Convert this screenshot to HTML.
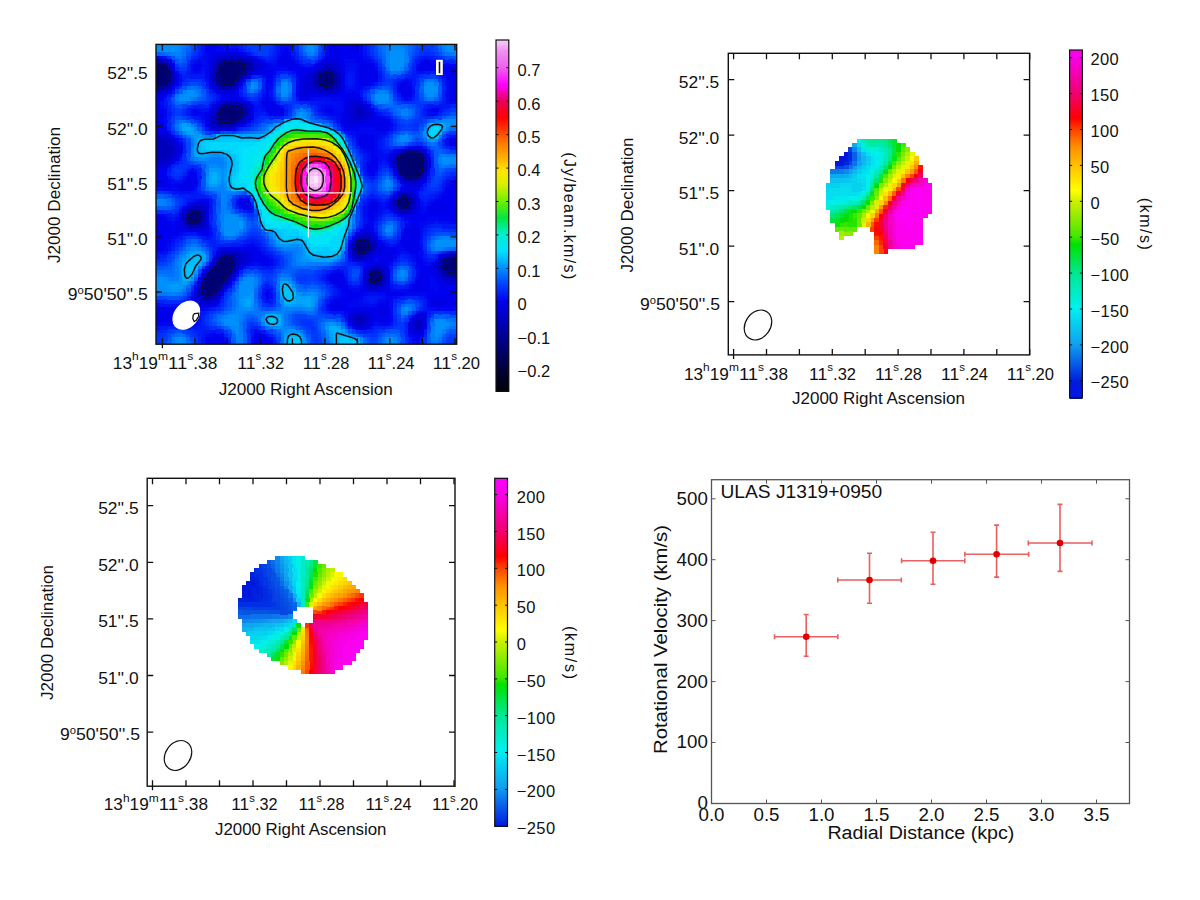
<!DOCTYPE html><html><head><meta charset="utf-8"><style>html,body{margin:0;padding:0;background:#fff;width:1200px;height:900px;overflow:hidden;position:relative}</style></head><body><svg width="1200" height="900" viewBox="0 0 1200 900" style="position:absolute;left:0;top:0">
<g font-family='"Liberation Sans", sans-serif'>
<clipPath id="c1"><rect x="156" y="44.4" width="300.7" height="299.8"/></clipPath>
<g clip-path="url(#c1)"><g shape-rendering="crispEdges"><path fill="#0090fc" d="M156.0 44.4h23.2v4.3h-23.2zM306.4 44.4h8.1v4.3h-8.1zM445.4 44.4h11.9v4.3h-11.9zM156.0 48.1h19.4v4.3h-19.4zM310.1 48.1h4.4v4.3h-4.4zM392.8 48.1h8.1v4.3h-8.1zM449.2 48.1h8.1v4.3h-8.1zM389.0 51.9h15.6v4.3h-15.6zM389.0 55.6h15.6v4.3h-15.6zM389.0 59.4h15.6v4.3h-15.6zM389.0 63.1h15.6v4.3h-15.6zM389.0 66.9h11.9v4.3h-11.9zM250.0 81.9h4.4v4.3h-4.4zM283.8 81.9h4.4v4.3h-4.4zM426.6 81.9h8.1v4.3h-8.1zM250.0 85.6h4.4v4.3h-4.4zM280.0 85.6h8.1v4.3h-8.1zM422.9 85.6h15.6v4.3h-15.6zM186.1 89.4h8.1v4.3h-8.1zM280.0 89.4h8.1v4.3h-8.1zM422.9 89.4h15.6v4.3h-15.6zM182.3 93.1h11.9v4.3h-11.9zM280.0 93.1h4.4v4.3h-4.4zM374.0 93.1h15.6v4.3h-15.6zM426.6 93.1h8.1v4.3h-8.1zM178.6 96.9h11.9v4.3h-11.9zM374.0 96.9h15.6v4.3h-15.6zM295.1 115.6h4.4v4.3h-4.4zM302.6 115.6h4.4v4.3h-4.4zM178.6 123.1h4.4v4.3h-4.4zM321.4 123.1h4.4v4.3h-4.4zM189.8 134.3h4.4v4.3h-4.4zM201.1 134.3h4.4v4.3h-4.4zM400.3 138.1h4.4v4.3h-4.4zM347.7 149.3h4.4v4.3h-4.4zM212.4 153.1h8.1v4.3h-8.1zM197.3 156.8h8.1v4.3h-8.1zM441.7 156.8h8.1v4.3h-8.1zM223.7 164.3h4.4v4.3h-4.4zM219.9 168.1h4.4v4.3h-4.4zM219.9 171.8h4.4v4.3h-4.4zM204.9 175.6h4.4v4.3h-4.4zM219.9 175.6h4.4v4.3h-4.4zM204.9 179.3h4.4v4.3h-4.4zM216.1 183.1h4.4v4.3h-4.4zM223.7 183.1h4.4v4.3h-4.4zM359.0 190.6h4.4v4.3h-4.4zM250.0 194.3h4.4v4.3h-4.4zM227.4 213.0h4.4v4.3h-4.4zM223.7 216.8h15.6v4.3h-15.6zM223.7 220.5h15.6v4.3h-15.6zM223.7 224.3h15.6v4.3h-15.6zM223.7 228.0h15.6v4.3h-15.6zM223.7 231.8h11.9v4.3h-11.9zM268.8 231.8h4.4v4.3h-4.4zM434.1 239.3h23.2v4.3h-23.2zM291.3 243.0h8.1v4.3h-8.1zM434.1 243.0h23.2v4.3h-23.2zM193.6 246.8h4.4v4.3h-4.4zM186.1 250.5h4.4v4.3h-4.4zM201.1 250.5h4.4v4.3h-4.4zM182.3 254.3h4.4v4.3h-4.4zM298.8 254.3h4.4v4.3h-4.4zM298.8 258.0h4.4v4.3h-4.4zM178.6 261.8h4.4v4.3h-4.4zM178.6 265.5h4.4v4.3h-4.4zM178.6 269.2h4.4v4.3h-4.4zM178.6 273.0h4.4v4.3h-4.4zM400.3 273.0h4.4v4.3h-4.4zM156.0 276.7h8.1v4.3h-8.1zM178.6 276.7h4.4v4.3h-4.4zM189.8 276.7h4.4v4.3h-4.4zM246.2 276.7h8.1v4.3h-8.1zM156.0 280.5h23.2v4.3h-23.2zM186.1 280.5h4.4v4.3h-4.4zM242.5 280.5h11.9v4.3h-11.9zM156.0 284.2h11.9v4.3h-11.9zM238.7 284.2h15.6v4.3h-15.6zM156.0 288.0h15.6v4.3h-15.6zM178.6 288.0h4.4v4.3h-4.4zM238.7 288.0h15.6v4.3h-15.6zM238.7 291.7h11.9v4.3h-11.9zM310.1 291.7h4.4v4.3h-4.4zM238.7 295.5h4.4v4.3h-4.4zM238.7 303.0h4.4v4.3h-4.4zM250.0 303.0h4.4v4.3h-4.4zM242.5 306.7h8.1v4.3h-8.1zM404.1 306.7h4.4v4.3h-4.4zM231.2 314.2h4.4v4.3h-4.4zM261.2 314.2h4.4v4.3h-4.4zM223.7 318.0h11.9v4.3h-11.9zM280.0 318.0h4.4v4.3h-4.4zM437.9 318.0h4.4v4.3h-4.4zM227.4 321.7h11.9v4.3h-11.9zM280.0 321.7h4.4v4.3h-4.4zM332.7 321.7h4.4v4.3h-4.4zM434.1 321.7h15.6v4.3h-15.6zM272.5 325.5h8.1v4.3h-8.1zM434.1 325.5h11.9v4.3h-11.9zM283.8 329.2h4.4v4.3h-4.4zM434.1 329.2h8.1v4.3h-8.1zM347.7 333.0h4.4v4.3h-4.4zM434.1 333.0h4.4v4.3h-4.4zM178.6 336.7h4.4v4.3h-4.4zM302.6 336.7h4.4v4.3h-4.4zM389.0 336.7h4.4v4.3h-4.4zM174.8 340.5h8.1v4.3h-8.1zM328.9 340.5h4.4v4.3h-4.4zM385.3 340.5h8.1v4.3h-8.1z"/><path fill="#0084fc" d="M178.6 44.4h4.4v4.3h-4.4zM400.3 44.4h4.4v4.3h-4.4zM441.7 44.4h4.4v4.3h-4.4zM178.6 48.1h4.4v4.3h-4.4zM174.8 51.9h4.4v4.3h-4.4zM310.1 51.9h4.4v4.3h-4.4zM385.3 51.9h4.4v4.3h-4.4zM385.3 55.6h4.4v4.3h-4.4zM385.3 59.4h4.4v4.3h-4.4zM400.3 66.9h4.4v4.3h-4.4zM253.7 81.9h4.4v4.3h-4.4zM422.9 81.9h4.4v4.3h-4.4zM253.7 85.6h4.4v4.3h-4.4zM182.3 89.4h4.4v4.3h-4.4zM193.6 89.4h4.4v4.3h-4.4zM377.8 89.4h8.1v4.3h-8.1zM434.1 93.1h4.4v4.3h-4.4zM385.3 100.6h4.4v4.3h-4.4zM295.1 111.9h4.4v4.3h-4.4zM400.3 111.9h8.1v4.3h-8.1zM437.9 119.3h4.4v4.3h-4.4zM189.8 123.1h4.4v4.3h-4.4zM268.8 123.1h4.4v4.3h-4.4zM452.9 123.1h4.4v4.3h-4.4zM193.6 126.8h4.4v4.3h-4.4zM265.0 126.8h4.4v4.3h-4.4zM422.9 126.8h4.4v4.3h-4.4zM445.4 126.8h4.4v4.3h-4.4zM261.2 130.6h4.4v4.3h-4.4zM204.9 134.3h4.4v4.3h-4.4zM396.6 138.1h4.4v4.3h-4.4zM434.1 138.1h4.4v4.3h-4.4zM189.8 149.3h4.4v4.3h-4.4zM189.8 153.1h4.4v4.3h-4.4zM193.6 156.8h4.4v4.3h-4.4zM208.6 156.8h4.4v4.3h-4.4zM219.9 156.8h4.4v4.3h-4.4zM216.1 164.3h8.1v4.3h-8.1zM204.9 171.8h4.4v4.3h-4.4zM204.9 183.1h4.4v4.3h-4.4zM219.9 183.1h4.4v4.3h-4.4zM208.6 186.8h15.6v4.3h-15.6zM219.9 190.6h11.9v4.3h-11.9zM219.9 194.3h8.1v4.3h-8.1zM159.8 198.0h4.4v4.3h-4.4zM219.9 198.0h4.4v4.3h-4.4zM159.8 201.8h4.4v4.3h-4.4zM219.9 201.8h4.4v4.3h-4.4zM223.7 209.3h4.4v4.3h-4.4zM238.7 216.8h4.4v4.3h-4.4zM219.9 220.5h4.4v4.3h-4.4zM219.9 224.3h4.4v4.3h-4.4zM385.3 224.3h8.1v4.3h-8.1zM389.0 228.0h4.4v4.3h-4.4zM234.9 231.8h4.4v4.3h-4.4zM343.9 235.5h4.4v4.3h-4.4zM441.7 235.5h8.1v4.3h-8.1zM197.3 246.8h4.4v4.3h-4.4zM434.1 246.8h8.1v4.3h-8.1zM340.2 250.5h4.4v4.3h-4.4zM295.1 254.3h4.4v4.3h-4.4zM295.1 258.0h4.4v4.3h-4.4zM298.8 261.8h8.1v4.3h-8.1zM396.6 273.0h4.4v4.3h-4.4zM167.3 276.7h4.4v4.3h-4.4zM174.8 276.7h4.4v4.3h-4.4zM171.0 291.7h4.4v4.3h-4.4zM302.6 291.7h4.4v4.3h-4.4zM313.9 291.7h4.4v4.3h-4.4zM234.9 295.5h4.4v4.3h-4.4zM313.9 299.2h4.4v4.3h-4.4zM280.0 303.0h4.4v4.3h-4.4zM234.9 306.7h4.4v4.3h-4.4zM283.8 306.7h8.1v4.3h-8.1zM302.6 306.7h4.4v4.3h-4.4zM310.1 306.7h4.4v4.3h-4.4zM400.3 306.7h4.4v4.3h-4.4zM234.9 310.5h8.1v4.3h-8.1zM268.8 310.5h15.6v4.3h-15.6zM223.7 314.2h4.4v4.3h-4.4zM219.9 318.0h4.4v4.3h-4.4zM449.2 321.7h4.4v4.3h-4.4zM268.8 325.5h4.4v4.3h-4.4zM283.8 325.5h4.4v4.3h-4.4zM445.4 325.5h4.4v4.3h-4.4zM280.0 329.2h4.4v4.3h-4.4zM430.4 329.2h4.4v4.3h-4.4zM234.9 333.0h4.4v4.3h-4.4zM325.1 333.0h4.4v4.3h-4.4zM437.9 333.0h4.4v4.3h-4.4zM182.3 336.7h4.4v4.3h-4.4zM234.9 336.7h4.4v4.3h-4.4zM359.0 336.7h4.4v4.3h-4.4zM392.8 336.7h4.4v4.3h-4.4zM434.1 336.7h4.4v4.3h-4.4zM434.1 340.5h4.4v4.3h-4.4z"/><path fill="#0078fc" d="M182.3 44.4h4.4v4.3h-4.4zM302.6 44.4h4.4v4.3h-4.4zM404.1 44.4h4.4v4.3h-4.4zM313.9 48.1h4.4v4.3h-4.4zM404.1 48.1h4.4v4.3h-4.4zM441.7 48.1h4.4v4.3h-4.4zM167.3 51.9h4.4v4.3h-4.4zM178.6 55.6h4.4v4.3h-4.4zM392.8 70.6h4.4v4.3h-4.4zM426.6 78.1h8.1v4.3h-8.1zM246.2 85.6h4.4v4.3h-4.4zM385.3 89.4h4.4v4.3h-4.4zM426.6 96.9h8.1v4.3h-8.1zM178.6 100.6h4.4v4.3h-4.4zM302.6 108.1h4.4v4.3h-4.4zM178.6 119.3h8.1v4.3h-8.1zM174.8 123.1h4.4v4.3h-4.4zM253.7 130.6h4.4v4.3h-4.4zM186.1 134.3h4.4v4.3h-4.4zM208.6 134.3h4.4v4.3h-4.4zM396.6 134.3h4.4v4.3h-4.4zM407.8 134.3h4.4v4.3h-4.4zM189.8 141.8h4.4v4.3h-4.4zM430.4 141.8h4.4v4.3h-4.4zM437.9 153.1h4.4v4.3h-4.4zM445.4 153.1h11.9v4.3h-11.9zM204.9 164.3h4.4v4.3h-4.4zM441.7 164.3h4.4v4.3h-4.4zM359.0 175.6h4.4v4.3h-4.4zM389.0 179.3h4.4v4.3h-4.4zM381.5 183.1h4.4v4.3h-4.4zM216.1 190.6h4.4v4.3h-4.4zM355.2 201.8h4.4v4.3h-4.4zM351.5 213.0h4.4v4.3h-4.4zM385.3 231.8h4.4v4.3h-4.4zM430.4 239.3h4.4v4.3h-4.4zM189.8 243.0h8.1v4.3h-8.1zM280.0 246.8h4.4v4.3h-4.4zM441.7 246.8h4.4v4.3h-4.4zM291.3 250.5h4.4v4.3h-4.4zM291.3 254.3h4.4v4.3h-4.4zM174.8 258.0h4.4v4.3h-4.4zM336.4 258.0h4.4v4.3h-4.4zM313.9 261.8h4.4v4.3h-4.4zM325.1 261.8h4.4v4.3h-4.4zM396.6 269.2h4.4v4.3h-4.4zM404.1 269.2h4.4v4.3h-4.4zM163.5 273.0h4.4v4.3h-4.4zM246.2 273.0h4.4v4.3h-4.4zM276.3 280.5h4.4v4.3h-4.4zM253.7 284.2h4.4v4.3h-4.4zM182.3 288.0h4.4v4.3h-4.4zM234.9 288.0h4.4v4.3h-4.4zM310.1 288.0h4.4v4.3h-4.4zM156.0 291.7h11.9v4.3h-11.9zM313.9 303.0h4.4v4.3h-4.4zM404.1 303.0h4.4v4.3h-4.4zM253.7 306.7h4.4v4.3h-4.4zM246.2 310.5h4.4v4.3h-4.4zM261.2 310.5h4.4v4.3h-4.4zM283.8 310.5h4.4v4.3h-4.4zM219.9 314.2h4.4v4.3h-4.4zM257.5 314.2h4.4v4.3h-4.4zM238.7 318.0h4.4v4.3h-4.4zM445.4 318.0h4.4v4.3h-4.4zM219.9 321.7h4.4v4.3h-4.4zM283.8 321.7h4.4v4.3h-4.4zM227.4 325.5h4.4v4.3h-4.4zM238.7 325.5h4.4v4.3h-4.4zM231.2 329.2h4.4v4.3h-4.4zM238.7 329.2h4.4v4.3h-4.4zM298.8 329.2h4.4v4.3h-4.4zM280.0 333.0h4.4v4.3h-4.4zM302.6 333.0h4.4v4.3h-4.4zM171.0 336.7h4.4v4.3h-4.4zM325.1 336.7h4.4v4.3h-4.4zM381.5 340.5h4.4v4.3h-4.4zM430.4 340.5h4.4v4.3h-4.4z"/><path fill="#0066fc" d="M186.1 44.4h4.4v4.3h-4.4zM377.8 44.4h4.4v4.3h-4.4zM407.8 44.4h4.4v4.3h-4.4zM407.8 48.1h4.4v4.3h-4.4zM159.8 51.9h4.4v4.3h-4.4zM441.7 51.9h4.4v4.3h-4.4zM182.3 55.6h4.4v4.3h-4.4zM381.5 55.6h4.4v4.3h-4.4zM178.6 59.4h4.4v4.3h-4.4zM250.0 78.1h8.1v4.3h-8.1zM422.9 78.1h4.4v4.3h-4.4zM434.1 78.1h4.4v4.3h-4.4zM419.1 85.6h4.4v4.3h-4.4zM246.2 89.4h4.4v4.3h-4.4zM253.7 89.4h4.4v4.3h-4.4zM389.0 93.1h4.4v4.3h-4.4zM422.9 96.9h4.4v4.3h-4.4zM385.3 104.4h15.6v4.3h-15.6zM392.8 108.1h4.4v4.3h-4.4zM400.3 115.6h4.4v4.3h-4.4zM445.4 115.6h4.4v4.3h-4.4zM174.8 119.3h4.4v4.3h-4.4zM186.1 119.3h4.4v4.3h-4.4zM280.0 119.3h4.4v4.3h-4.4zM313.9 119.3h4.4v4.3h-4.4zM242.5 130.6h4.4v4.3h-4.4zM404.1 130.6h4.4v4.3h-4.4zM419.1 130.6h4.4v4.3h-4.4zM411.6 134.3h4.4v4.3h-4.4zM419.1 134.3h4.4v4.3h-4.4zM197.3 160.6h4.4v4.3h-4.4zM452.9 164.3h4.4v4.3h-4.4zM212.4 190.6h4.4v4.3h-4.4zM227.4 198.0h4.4v4.3h-4.4zM216.1 213.0h4.4v4.3h-4.4zM216.1 216.8h4.4v4.3h-4.4zM385.3 220.5h4.4v4.3h-4.4zM257.5 224.3h4.4v4.3h-4.4zM261.2 228.0h4.4v4.3h-4.4zM381.5 228.0h4.4v4.3h-4.4zM343.9 239.3h4.4v4.3h-4.4zM197.3 243.0h4.4v4.3h-4.4zM182.3 246.8h4.4v4.3h-4.4zM276.3 246.8h4.4v4.3h-4.4zM178.6 250.5h4.4v4.3h-4.4zM283.8 250.5h4.4v4.3h-4.4zM174.8 254.3h4.4v4.3h-4.4zM171.0 261.8h4.4v4.3h-4.4zM291.3 265.5h19.4v4.3h-19.4zM253.7 273.0h4.4v4.3h-4.4zM257.5 276.7h4.4v4.3h-4.4zM404.1 276.7h4.4v4.3h-4.4zM317.6 288.0h4.4v4.3h-4.4zM231.2 291.7h4.4v4.3h-4.4zM253.7 291.7h4.4v4.3h-4.4zM253.7 295.5h4.4v4.3h-4.4zM317.6 295.5h4.4v4.3h-4.4zM400.3 303.0h4.4v4.3h-4.4zM411.6 303.0h4.4v4.3h-4.4zM257.5 306.7h4.4v4.3h-4.4zM291.3 310.5h4.4v4.3h-4.4zM302.6 310.5h4.4v4.3h-4.4zM253.7 314.2h4.4v4.3h-4.4zM400.3 314.2h4.4v4.3h-4.4zM437.9 314.2h4.4v4.3h-4.4zM242.5 318.0h4.4v4.3h-4.4zM332.7 318.0h4.4v4.3h-4.4zM216.1 321.7h4.4v4.3h-4.4zM287.6 321.7h4.4v4.3h-4.4zM445.4 329.2h4.4v4.3h-4.4zM182.3 333.0h4.4v4.3h-4.4zM231.2 333.0h4.4v4.3h-4.4zM355.2 333.0h4.4v4.3h-4.4zM441.7 333.0h4.4v4.3h-4.4zM186.1 336.7h4.4v4.3h-4.4zM306.4 340.5h4.4v4.3h-4.4z"/><path fill="#004efc" d="M189.8 44.4h4.4v4.3h-4.4zM317.6 44.4h4.4v4.3h-4.4zM374.0 44.4h4.4v4.3h-4.4zM434.1 44.4h4.4v4.3h-4.4zM411.6 51.9h4.4v4.3h-4.4zM437.9 51.9h4.4v4.3h-4.4zM377.8 55.6h4.4v4.3h-4.4zM449.2 55.6h4.4v4.3h-4.4zM407.8 59.4h4.4v4.3h-4.4zM178.6 63.1h4.4v4.3h-4.4zM381.5 63.1h4.4v4.3h-4.4zM389.0 74.4h4.4v4.3h-4.4zM437.9 81.9h4.4v4.3h-4.4zM377.8 85.6h4.4v4.3h-4.4zM389.0 89.4h4.4v4.3h-4.4zM437.9 93.1h4.4v4.3h-4.4zM171.0 100.6h4.4v4.3h-4.4zM370.2 100.6h4.4v4.3h-4.4zM174.8 104.4h4.4v4.3h-4.4zM298.8 104.4h4.4v4.3h-4.4zM291.3 108.1h4.4v4.3h-4.4zM310.1 111.9h4.4v4.3h-4.4zM449.2 111.9h8.1v4.3h-8.1zM174.8 115.6h8.1v4.3h-8.1zM396.6 115.6h4.4v4.3h-4.4zM411.6 115.6h4.4v4.3h-4.4zM268.8 119.3h4.4v4.3h-4.4zM325.1 119.3h4.4v4.3h-4.4zM171.0 123.1h4.4v4.3h-4.4zM253.7 126.8h4.4v4.3h-4.4zM223.7 130.6h4.4v4.3h-4.4zM234.9 130.6h4.4v4.3h-4.4zM411.6 130.6h8.1v4.3h-8.1zM445.4 130.6h4.4v4.3h-4.4zM186.1 149.3h4.4v4.3h-4.4zM186.1 156.8h4.4v4.3h-4.4zM201.1 168.1h4.4v4.3h-4.4zM385.3 171.8h4.4v4.3h-4.4zM434.1 171.8h4.4v4.3h-4.4zM201.1 175.6h4.4v4.3h-4.4zM381.5 190.6h4.4v4.3h-4.4zM231.2 194.3h4.4v4.3h-4.4zM359.0 194.3h4.4v4.3h-4.4zM171.0 205.5h4.4v4.3h-4.4zM253.7 216.8h4.4v4.3h-4.4zM250.0 220.5h4.4v4.3h-4.4zM250.0 224.3h8.1v4.3h-8.1zM216.1 228.0h4.4v4.3h-4.4zM246.2 228.0h4.4v4.3h-4.4zM257.5 228.0h4.4v4.3h-4.4zM434.1 231.8h15.6v4.3h-15.6zM385.3 235.5h4.4v4.3h-4.4zM182.3 243.0h4.4v4.3h-4.4zM343.9 243.0h4.4v4.3h-4.4zM178.6 246.8h4.4v4.3h-4.4zM204.9 246.8h4.4v4.3h-4.4zM272.5 246.8h4.4v4.3h-4.4zM174.8 250.5h4.4v4.3h-4.4zM430.4 250.5h8.1v4.3h-8.1zM321.4 265.5h4.4v4.3h-4.4zM250.0 269.2h4.4v4.3h-4.4zM295.1 269.2h4.4v4.3h-4.4zM351.5 273.0h8.1v4.3h-8.1zM295.1 280.5h4.4v4.3h-4.4zM257.5 284.2h4.4v4.3h-4.4zM317.6 284.2h4.4v4.3h-4.4zM231.2 288.0h4.4v4.3h-4.4zM163.5 295.5h4.4v4.3h-4.4zM227.4 295.5h4.4v4.3h-4.4zM321.4 295.5h4.4v4.3h-4.4zM404.1 299.2h4.4v4.3h-4.4zM411.6 299.2h4.4v4.3h-4.4zM223.7 306.7h4.4v4.3h-4.4zM268.8 306.7h4.4v4.3h-4.4zM291.3 314.2h4.4v4.3h-4.4zM310.1 314.2h11.9v4.3h-11.9zM404.1 314.2h4.4v4.3h-4.4zM449.2 314.2h8.1v4.3h-8.1zM246.2 318.0h4.4v4.3h-4.4zM400.3 318.0h4.4v4.3h-4.4zM212.4 321.7h4.4v4.3h-4.4zM257.5 321.7h4.4v4.3h-4.4zM219.9 325.5h4.4v4.3h-4.4zM298.8 325.5h4.4v4.3h-4.4zM343.9 325.5h4.4v4.3h-4.4zM174.8 329.2h8.1v4.3h-8.1zM227.4 329.2h4.4v4.3h-4.4zM317.6 329.2h4.4v4.3h-4.4zM396.6 329.2h4.4v4.3h-4.4zM426.6 329.2h4.4v4.3h-4.4zM186.1 333.0h4.4v4.3h-4.4zM359.0 333.0h4.4v4.3h-4.4zM445.4 333.0h4.4v4.3h-4.4zM366.5 336.7h4.4v4.3h-4.4zM189.8 340.5h4.4v4.3h-4.4z"/><path fill="#003cfc" d="M193.6 44.4h4.4v4.3h-4.4zM246.2 44.4h23.2v4.3h-23.2zM419.1 44.4h4.4v4.3h-4.4zM426.6 44.4h8.1v4.3h-8.1zM250.0 48.1h19.4v4.3h-19.4zM430.4 48.1h4.4v4.3h-4.4zM189.8 51.9h4.4v4.3h-4.4zM257.5 51.9h11.9v4.3h-11.9zM317.6 51.9h4.4v4.3h-4.4zM415.4 51.9h4.4v4.3h-4.4zM434.1 51.9h4.4v4.3h-4.4zM411.6 55.6h4.4v4.3h-4.4zM441.7 55.6h4.4v4.3h-4.4zM377.8 59.4h4.4v4.3h-4.4zM404.1 70.6h4.4v4.3h-4.4zM396.6 74.4h4.4v4.3h-4.4zM426.6 74.4h4.4v4.3h-4.4zM437.9 78.1h4.4v4.3h-4.4zM186.1 81.9h4.4v4.3h-4.4zM197.3 81.9h4.4v4.3h-4.4zM385.3 81.9h4.4v4.3h-4.4zM201.1 85.6h4.4v4.3h-4.4zM374.0 85.6h4.4v4.3h-4.4zM389.0 85.6h4.4v4.3h-4.4zM242.5 89.4h4.4v4.3h-4.4zM257.5 89.4h4.4v4.3h-4.4zM171.0 93.1h4.4v4.3h-4.4zM204.9 93.1h4.4v4.3h-4.4zM246.2 93.1h4.4v4.3h-4.4zM253.7 93.1h4.4v4.3h-4.4zM204.9 96.9h4.4v4.3h-4.4zM392.8 96.9h4.4v4.3h-4.4zM437.9 96.9h4.4v4.3h-4.4zM197.3 100.6h8.1v4.3h-8.1zM283.8 100.6h8.1v4.3h-8.1zM419.1 100.6h15.6v4.3h-15.6zM171.0 104.4h4.4v4.3h-4.4zM291.3 104.4h4.4v4.3h-4.4zM306.4 104.4h4.4v4.3h-4.4zM374.0 104.4h4.4v4.3h-4.4zM415.4 104.4h4.4v4.3h-4.4zM174.8 108.1h8.1v4.3h-8.1zM310.1 108.1h4.4v4.3h-4.4zM385.3 108.1h4.4v4.3h-4.4zM174.8 111.9h8.1v4.3h-8.1zM389.0 111.9h4.4v4.3h-4.4zM445.4 111.9h4.4v4.3h-4.4zM392.8 115.6h4.4v4.3h-4.4zM415.4 115.6h4.4v4.3h-4.4zM261.2 119.3h4.4v4.3h-4.4zM411.6 119.3h4.4v4.3h-4.4zM253.7 123.1h4.4v4.3h-4.4zM404.1 123.1h4.4v4.3h-4.4zM400.3 126.8h11.9v4.3h-11.9zM231.2 130.6h4.4v4.3h-4.4zM343.9 134.3h4.4v4.3h-4.4zM351.5 145.6h4.4v4.3h-4.4zM426.6 145.6h4.4v4.3h-4.4zM449.2 149.3h8.1v4.3h-8.1zM355.2 153.1h4.4v4.3h-4.4zM186.1 160.6h4.4v4.3h-4.4zM197.3 164.3h4.4v4.3h-4.4zM174.8 168.1h4.4v4.3h-4.4zM452.9 168.1h4.4v4.3h-4.4zM362.7 179.3h4.4v4.3h-4.4zM430.4 179.3h4.4v4.3h-4.4zM430.4 183.1h8.1v4.3h-8.1zM374.0 186.8h4.4v4.3h-4.4zM392.8 186.8h4.4v4.3h-4.4zM174.8 198.0h4.4v4.3h-4.4zM231.2 205.5h4.4v4.3h-4.4zM355.2 205.5h4.4v4.3h-4.4zM212.4 213.0h4.4v4.3h-4.4zM253.7 213.0h4.4v4.3h-4.4zM212.4 216.8h4.4v4.3h-4.4zM250.0 216.8h4.4v4.3h-4.4zM396.6 220.5h4.4v4.3h-4.4zM355.2 224.3h4.4v4.3h-4.4zM377.8 224.3h4.4v4.3h-4.4zM396.6 224.3h4.4v4.3h-4.4zM246.2 231.8h4.4v4.3h-4.4zM257.5 231.8h4.4v4.3h-4.4zM430.4 231.8h4.4v4.3h-4.4zM189.8 235.5h4.4v4.3h-4.4zM261.2 235.5h4.4v4.3h-4.4zM182.3 239.3h4.4v4.3h-4.4zM223.7 239.3h8.1v4.3h-8.1zM265.0 243.0h4.4v4.3h-4.4zM268.8 246.8h4.4v4.3h-4.4zM343.9 246.8h4.4v4.3h-4.4zM208.6 250.5h4.4v4.3h-4.4zM426.6 250.5h4.4v4.3h-4.4zM280.0 254.3h4.4v4.3h-4.4zM156.0 261.8h8.1v4.3h-8.1zM204.9 261.8h4.4v4.3h-4.4zM404.1 261.8h4.4v4.3h-4.4zM201.1 265.5h4.4v4.3h-4.4zM280.0 265.5h4.4v4.3h-4.4zM392.8 265.5h4.4v4.3h-4.4zM407.8 265.5h4.4v4.3h-4.4zM257.5 269.2h4.4v4.3h-4.4zM313.9 269.2h4.4v4.3h-4.4zM238.7 273.0h4.4v4.3h-4.4zM261.2 273.0h4.4v4.3h-4.4zM268.8 273.0h4.4v4.3h-4.4zM298.8 273.0h15.6v4.3h-15.6zM268.8 276.7h4.4v4.3h-4.4zM295.1 276.7h4.4v4.3h-4.4zM306.4 276.7h8.1v4.3h-8.1zM355.2 276.7h4.4v4.3h-4.4zM407.8 276.7h4.4v4.3h-4.4zM261.2 280.5h4.4v4.3h-4.4zM298.8 280.5h8.1v4.3h-8.1zM231.2 284.2h4.4v4.3h-4.4zM272.5 284.2h4.4v4.3h-4.4zM325.1 288.0h4.4v4.3h-4.4zM257.5 295.5h4.4v4.3h-4.4zM223.7 299.2h4.4v4.3h-4.4zM400.3 299.2h4.4v4.3h-4.4zM415.4 299.2h4.4v4.3h-4.4zM223.7 303.0h4.4v4.3h-4.4zM219.9 306.7h4.4v4.3h-4.4zM317.6 306.7h4.4v4.3h-4.4zM415.4 306.7h4.4v4.3h-4.4zM212.4 310.5h4.4v4.3h-4.4zM332.7 314.2h4.4v4.3h-4.4zM430.4 314.2h4.4v4.3h-4.4zM295.1 318.0h4.4v4.3h-4.4zM310.1 318.0h4.4v4.3h-4.4zM396.6 318.0h4.4v4.3h-4.4zM246.2 321.7h4.4v4.3h-4.4zM253.7 321.7h4.4v4.3h-4.4zM400.3 321.7h4.4v4.3h-4.4zM216.1 325.5h4.4v4.3h-4.4zM313.9 325.5h4.4v4.3h-4.4zM396.6 325.5h4.4v4.3h-4.4zM313.9 329.2h4.4v4.3h-4.4zM381.5 329.2h4.4v4.3h-4.4zM400.3 329.2h4.4v4.3h-4.4zM227.4 333.0h4.4v4.3h-4.4zM310.1 333.0h8.1v4.3h-8.1zM362.7 333.0h4.4v4.3h-4.4zM449.2 333.0h8.1v4.3h-8.1zM310.1 336.7h4.4v4.3h-4.4zM370.2 336.7h4.4v4.3h-4.4zM445.4 336.7h4.4v4.3h-4.4zM159.8 340.5h4.4v4.3h-4.4zM276.3 340.5h4.4v4.3h-4.4z"/><path fill="#0024f6" d="M197.3 44.4h4.4v4.3h-4.4zM272.5 44.4h4.4v4.3h-4.4zM366.5 44.4h4.4v4.3h-4.4zM197.3 48.1h4.4v4.3h-4.4zM272.5 48.1h4.4v4.3h-4.4zM366.5 48.1h4.4v4.3h-4.4zM250.0 51.9h4.4v4.3h-4.4zM321.4 51.9h4.4v4.3h-4.4zM261.2 55.6h4.4v4.3h-4.4zM370.2 55.6h4.4v4.3h-4.4zM434.1 55.6h4.4v4.3h-4.4zM171.0 59.4h4.4v4.3h-4.4zM313.9 59.4h4.4v4.3h-4.4zM374.0 59.4h4.4v4.3h-4.4zM445.4 59.4h4.4v4.3h-4.4zM186.1 63.1h4.4v4.3h-4.4zM174.8 66.9h4.4v4.3h-4.4zM178.6 70.6h4.4v4.3h-4.4zM404.1 74.4h4.4v4.3h-4.4zM437.9 74.4h4.4v4.3h-4.4zM182.3 78.1h4.4v4.3h-4.4zM201.1 78.1h4.4v4.3h-4.4zM261.2 81.9h4.4v4.3h-4.4zM272.5 81.9h4.4v4.3h-4.4zM441.7 81.9h4.4v4.3h-4.4zM204.9 85.6h4.4v4.3h-4.4zM261.2 85.6h4.4v4.3h-4.4zM362.7 89.4h4.4v4.3h-4.4zM392.8 89.4h4.4v4.3h-4.4zM441.7 89.4h4.4v4.3h-4.4zM441.7 93.1h4.4v4.3h-4.4zM212.4 96.9h4.4v4.3h-4.4zM246.2 96.9h4.4v4.3h-4.4zM362.7 96.9h4.4v4.3h-4.4zM208.6 100.6h4.4v4.3h-4.4zM298.8 100.6h4.4v4.3h-4.4zM366.5 100.6h4.4v4.3h-4.4zM437.9 100.6h4.4v4.3h-4.4zM167.3 104.4h4.4v4.3h-4.4zM201.1 104.4h8.1v4.3h-8.1zM370.2 104.4h4.4v4.3h-4.4zM422.9 104.4h4.4v4.3h-4.4zM313.9 108.1h4.4v4.3h-4.4zM257.5 115.6h4.4v4.3h-4.4zM268.8 115.6h4.4v4.3h-4.4zM280.0 115.6h4.4v4.3h-4.4zM325.1 115.6h4.4v4.3h-4.4zM389.0 115.6h4.4v4.3h-4.4zM426.6 115.6h4.4v4.3h-4.4zM167.3 119.3h4.4v4.3h-4.4zM197.3 119.3h4.4v4.3h-4.4zM332.7 119.3h4.4v4.3h-4.4zM392.8 119.3h4.4v4.3h-4.4zM201.1 123.1h4.4v4.3h-4.4zM238.7 126.8h4.4v4.3h-4.4zM212.4 130.6h8.1v4.3h-8.1zM174.8 134.3h4.4v4.3h-4.4zM347.7 134.3h4.4v4.3h-4.4zM385.3 134.3h4.4v4.3h-4.4zM445.4 134.3h4.4v4.3h-4.4zM441.7 138.1h4.4v4.3h-4.4zM182.3 141.8h4.4v4.3h-4.4zM441.7 141.8h4.4v4.3h-4.4zM445.4 145.6h4.4v4.3h-4.4zM182.3 149.3h4.4v4.3h-4.4zM430.4 156.8h4.4v4.3h-4.4zM178.6 160.6h4.4v4.3h-4.4zM189.8 164.3h4.4v4.3h-4.4zM381.5 164.3h4.4v4.3h-4.4zM430.4 164.3h4.4v4.3h-4.4zM377.8 168.1h4.4v4.3h-4.4zM171.0 175.6h4.4v4.3h-4.4zM374.0 175.6h4.4v4.3h-4.4zM445.4 175.6h4.4v4.3h-4.4zM426.6 179.3h4.4v4.3h-4.4zM441.7 179.3h4.4v4.3h-4.4zM197.3 183.1h4.4v4.3h-4.4zM396.6 186.8h4.4v4.3h-4.4zM422.9 186.8h4.4v4.3h-4.4zM437.9 186.8h4.4v4.3h-4.4zM167.3 190.6h4.4v4.3h-4.4zM197.3 190.6h4.4v4.3h-4.4zM178.6 194.3h4.4v4.3h-4.4zM366.5 194.3h4.4v4.3h-4.4zM422.9 194.3h4.4v4.3h-4.4zM182.3 198.0h4.4v4.3h-4.4zM250.0 201.8h4.4v4.3h-4.4zM178.6 205.5h4.4v4.3h-4.4zM359.0 205.5h4.4v4.3h-4.4zM174.8 209.3h4.4v4.3h-4.4zM359.0 209.3h4.4v4.3h-4.4zM359.0 213.0h4.4v4.3h-4.4zM381.5 213.0h4.4v4.3h-4.4zM400.3 220.5h4.4v4.3h-4.4zM212.4 231.8h4.4v4.3h-4.4zM250.0 235.5h4.4v4.3h-4.4zM204.9 239.3h4.4v4.3h-4.4zM257.5 239.3h4.4v4.3h-4.4zM385.3 239.3h4.4v4.3h-4.4zM208.6 243.0h4.4v4.3h-4.4zM171.0 246.8h4.4v4.3h-4.4zM167.3 250.5h4.4v4.3h-4.4zM268.8 250.5h4.4v4.3h-4.4zM422.9 250.5h4.4v4.3h-4.4zM163.5 254.3h4.4v4.3h-4.4zM276.3 258.0h4.4v4.3h-4.4zM276.3 261.8h4.4v4.3h-4.4zM347.7 261.8h4.4v4.3h-4.4zM392.8 261.8h4.4v4.3h-4.4zM253.7 265.5h4.4v4.3h-4.4zM336.4 265.5h4.4v4.3h-4.4zM343.9 265.5h4.4v4.3h-4.4zM359.0 265.5h4.4v4.3h-4.4zM411.6 265.5h4.4v4.3h-4.4zM359.0 269.2h4.4v4.3h-4.4zM389.0 269.2h4.4v4.3h-4.4zM389.0 273.0h4.4v4.3h-4.4zM389.0 276.7h4.4v4.3h-4.4zM411.6 276.7h4.4v4.3h-4.4zM407.8 280.5h4.4v4.3h-4.4zM268.8 284.2h4.4v4.3h-4.4zM189.8 288.0h4.4v4.3h-4.4zM272.5 291.7h4.4v4.3h-4.4zM186.1 295.5h4.4v4.3h-4.4zM272.5 295.5h4.4v4.3h-4.4zM404.1 295.5h15.6v4.3h-15.6zM156.0 299.2h8.1v4.3h-8.1zM261.2 299.2h4.4v4.3h-4.4zM419.1 306.7h4.4v4.3h-4.4zM204.9 310.5h4.4v4.3h-4.4zM325.1 310.5h4.4v4.3h-4.4zM430.4 310.5h4.4v4.3h-4.4zM340.2 314.2h4.4v4.3h-4.4zM407.8 314.2h4.4v4.3h-4.4zM201.1 318.0h4.4v4.3h-4.4zM392.8 318.0h4.4v4.3h-4.4zM171.0 325.5h4.4v4.3h-4.4zM182.3 325.5h4.4v4.3h-4.4zM204.9 325.5h4.4v4.3h-4.4zM250.0 325.5h8.1v4.3h-8.1zM347.7 325.5h4.4v4.3h-4.4zM385.3 325.5h4.4v4.3h-4.4zM156.0 329.2h8.1v4.3h-8.1zM193.6 329.2h4.4v4.3h-4.4zM219.9 329.2h4.4v4.3h-4.4zM370.2 329.2h4.4v4.3h-4.4zM223.7 333.0h4.4v4.3h-4.4zM268.8 333.0h4.4v4.3h-4.4zM404.1 333.0h4.4v4.3h-4.4zM422.9 333.0h4.4v4.3h-4.4zM197.3 336.7h4.4v4.3h-4.4zM197.3 340.5h4.4v4.3h-4.4zM227.4 340.5h4.4v4.3h-4.4z"/><path fill="#0012f6" d="M201.1 44.4h4.4v4.3h-4.4zM227.4 44.4h11.9v4.3h-11.9zM276.3 44.4h4.4v4.3h-4.4zM201.1 48.1h4.4v4.3h-4.4zM238.7 48.1h4.4v4.3h-4.4zM276.3 48.1h4.4v4.3h-4.4zM362.7 48.1h4.4v4.3h-4.4zM246.2 51.9h4.4v4.3h-4.4zM362.7 51.9h4.4v4.3h-4.4zM163.5 55.6h4.4v4.3h-4.4zM197.3 55.6h4.4v4.3h-4.4zM321.4 55.6h4.4v4.3h-4.4zM366.5 55.6h4.4v4.3h-4.4zM422.9 55.6h4.4v4.3h-4.4zM265.0 59.4h8.1v4.3h-8.1zM370.2 59.4h4.4v4.3h-4.4zM302.6 63.1h4.4v4.3h-4.4zM310.1 63.1h4.4v4.3h-4.4zM374.0 63.1h4.4v4.3h-4.4zM201.1 70.6h4.4v4.3h-4.4zM347.7 70.6h8.1v4.3h-8.1zM415.4 70.6h4.4v4.3h-4.4zM422.9 70.6h4.4v4.3h-4.4zM272.5 74.4h4.4v4.3h-4.4zM343.9 74.4h4.4v4.3h-4.4zM351.5 74.4h4.4v4.3h-4.4zM377.8 74.4h4.4v4.3h-4.4zM343.9 78.1h4.4v4.3h-4.4zM351.5 78.1h4.4v4.3h-4.4zM178.6 81.9h4.4v4.3h-4.4zM204.9 81.9h4.4v4.3h-4.4zM343.9 81.9h4.4v4.3h-4.4zM351.5 81.9h4.4v4.3h-4.4zM347.7 85.6h4.4v4.3h-4.4zM362.7 85.6h4.4v4.3h-4.4zM411.6 85.6h4.4v4.3h-4.4zM268.8 89.4h4.4v4.3h-4.4zM359.0 89.4h4.4v4.3h-4.4zM268.8 93.1h4.4v4.3h-4.4zM359.0 93.1h4.4v4.3h-4.4zM411.6 93.1h4.4v4.3h-4.4zM163.5 96.9h4.4v4.3h-4.4zM216.1 96.9h4.4v4.3h-4.4zM295.1 96.9h4.4v4.3h-4.4zM400.3 96.9h4.4v4.3h-4.4zM212.4 100.6h4.4v4.3h-4.4zM250.0 100.6h4.4v4.3h-4.4zM257.5 100.6h4.4v4.3h-4.4zM317.6 100.6h8.1v4.3h-8.1zM163.5 104.4h4.4v4.3h-4.4zM317.6 104.4h4.4v4.3h-4.4zM430.4 104.4h11.9v4.3h-11.9zM201.1 108.1h4.4v4.3h-4.4zM257.5 108.1h4.4v4.3h-4.4zM283.8 108.1h4.4v4.3h-4.4zM317.6 108.1h4.4v4.3h-4.4zM437.9 108.1h4.4v4.3h-4.4zM253.7 111.9h4.4v4.3h-4.4zM321.4 111.9h4.4v4.3h-4.4zM377.8 111.9h4.4v4.3h-4.4zM197.3 115.6h4.4v4.3h-4.4zM332.7 115.6h4.4v4.3h-4.4zM385.3 115.6h4.4v4.3h-4.4zM201.1 119.3h4.4v4.3h-4.4zM250.0 119.3h4.4v4.3h-4.4zM336.4 119.3h4.4v4.3h-4.4zM389.0 119.3h4.4v4.3h-4.4zM234.9 126.8h4.4v4.3h-4.4zM340.2 126.8h4.4v4.3h-4.4zM385.3 130.6h4.4v4.3h-4.4zM351.5 134.3h4.4v4.3h-4.4zM381.5 134.3h4.4v4.3h-4.4zM449.2 134.3h4.4v4.3h-4.4zM377.8 138.1h4.4v4.3h-4.4zM377.8 145.6h4.4v4.3h-4.4zM452.9 145.6h4.4v4.3h-4.4zM381.5 149.3h4.4v4.3h-4.4zM178.6 156.8h4.4v4.3h-4.4zM362.7 160.6h4.4v4.3h-4.4zM362.7 164.3h4.4v4.3h-4.4zM186.1 168.1h4.4v4.3h-4.4zM374.0 171.8h4.4v4.3h-4.4zM167.3 175.6h4.4v4.3h-4.4zM452.9 175.6h4.4v4.3h-4.4zM174.8 179.3h4.4v4.3h-4.4zM445.4 179.3h4.4v4.3h-4.4zM419.1 186.8h4.4v4.3h-4.4zM441.7 186.8h4.4v4.3h-4.4zM174.8 190.6h4.4v4.3h-4.4zM189.8 190.6h4.4v4.3h-4.4zM437.9 190.6h4.4v4.3h-4.4zM189.8 198.0h4.4v4.3h-4.4zM234.9 198.0h4.4v4.3h-4.4zM366.5 198.0h4.4v4.3h-4.4zM385.3 198.0h4.4v4.3h-4.4zM419.1 198.0h4.4v4.3h-4.4zM426.6 198.0h4.4v4.3h-4.4zM208.6 201.8h4.4v4.3h-4.4zM362.7 201.8h4.4v4.3h-4.4zM381.5 201.8h4.4v4.3h-4.4zM422.9 201.8h4.4v4.3h-4.4zM208.6 205.5h4.4v4.3h-4.4zM246.2 209.3h8.1v4.3h-8.1zM381.5 209.3h4.4v4.3h-4.4zM174.8 213.0h4.4v4.3h-4.4zM377.8 213.0h4.4v4.3h-4.4zM171.0 216.8h4.4v4.3h-4.4zM362.7 216.8h4.4v4.3h-4.4zM400.3 216.8h4.4v4.3h-4.4zM362.7 220.5h4.4v4.3h-4.4zM404.1 220.5h4.4v4.3h-4.4zM434.1 220.5h4.4v4.3h-4.4zM208.6 224.3h4.4v4.3h-4.4zM422.9 224.3h4.4v4.3h-4.4zM400.3 228.0h4.4v4.3h-4.4zM186.1 231.8h11.9v4.3h-11.9zM208.6 235.5h4.4v4.3h-4.4zM250.0 239.3h4.4v4.3h-4.4zM381.5 239.3h4.4v4.3h-4.4zM396.6 239.3h4.4v4.3h-4.4zM419.1 239.3h4.4v4.3h-4.4zM238.7 243.0h4.4v4.3h-4.4zM389.0 243.0h4.4v4.3h-4.4zM419.1 243.0h4.4v4.3h-4.4zM167.3 246.8h4.4v4.3h-4.4zM163.5 250.5h4.4v4.3h-4.4zM268.8 254.3h4.4v4.3h-4.4zM396.6 254.3h4.4v4.3h-4.4zM272.5 258.0h4.4v4.3h-4.4zM392.8 258.0h4.4v4.3h-4.4zM272.5 261.8h4.4v4.3h-4.4zM355.2 261.8h4.4v4.3h-4.4zM265.0 265.5h4.4v4.3h-4.4zM328.9 269.2h4.4v4.3h-4.4zM343.9 276.7h4.4v4.3h-4.4zM411.6 280.5h4.4v4.3h-4.4zM351.5 284.2h8.1v4.3h-8.1zM268.8 288.0h4.4v4.3h-4.4zM261.2 291.7h4.4v4.3h-4.4zM219.9 295.5h4.4v4.3h-4.4zM362.7 295.5h4.4v4.3h-4.4zM377.8 295.5h4.4v4.3h-4.4zM396.6 295.5h4.4v4.3h-4.4zM186.1 299.2h4.4v4.3h-4.4zM265.0 299.2h4.4v4.3h-4.4zM362.7 299.2h8.1v4.3h-8.1zM374.0 299.2h4.4v4.3h-4.4zM159.8 303.0h23.2v4.3h-23.2zM216.1 303.0h4.4v4.3h-4.4zM208.6 306.7h4.4v4.3h-4.4zM332.7 310.5h11.9v4.3h-11.9zM415.4 310.5h4.4v4.3h-4.4zM197.3 314.2h4.4v4.3h-4.4zM197.3 318.0h4.4v4.3h-4.4zM343.9 318.0h4.4v4.3h-4.4zM197.3 321.7h4.4v4.3h-4.4zM389.0 321.7h4.4v4.3h-4.4zM156.0 325.5h4.4v4.3h-4.4zM189.8 325.5h8.1v4.3h-8.1zM370.2 325.5h4.4v4.3h-4.4zM208.6 329.2h8.1v4.3h-8.1zM201.1 333.0h4.4v4.3h-4.4zM250.0 333.0h4.4v4.3h-4.4zM201.1 336.7h4.4v4.3h-4.4zM407.8 336.7h4.4v4.3h-4.4zM419.1 336.7h4.4v4.3h-4.4zM201.1 340.5h4.4v4.3h-4.4z"/><path fill="#0000f0" d="M204.9 44.4h11.9v4.3h-11.9zM340.2 44.4h19.4v4.3h-19.4zM204.9 48.1h11.9v4.3h-11.9zM283.8 48.1h4.4v4.3h-4.4zM340.2 48.1h19.4v4.3h-19.4zM208.6 51.9h4.4v4.3h-4.4zM280.0 51.9h8.1v4.3h-8.1zM340.2 51.9h19.4v4.3h-19.4zM156.0 55.6h4.4v4.3h-4.4zM287.6 55.6h4.4v4.3h-4.4zM340.2 55.6h23.2v4.3h-23.2zM276.3 59.4h4.4v4.3h-4.4zM291.3 59.4h4.4v4.3h-4.4zM340.2 59.4h4.4v4.3h-4.4zM355.2 59.4h11.9v4.3h-11.9zM422.9 59.4h8.1v4.3h-8.1zM171.0 63.1h4.4v4.3h-4.4zM193.6 63.1h8.1v4.3h-8.1zM265.0 63.1h4.4v4.3h-4.4zM276.3 63.1h8.1v4.3h-8.1zM295.1 63.1h4.4v4.3h-4.4zM313.9 63.1h4.4v4.3h-4.4zM359.0 63.1h4.4v4.3h-4.4zM370.2 63.1h4.4v4.3h-4.4zM430.4 63.1h8.1v4.3h-8.1zM193.6 66.9h8.1v4.3h-8.1zM268.8 66.9h4.4v4.3h-4.4zM287.6 66.9h23.2v4.3h-23.2zM426.6 66.9h8.1v4.3h-8.1zM437.9 66.9h11.9v4.3h-11.9zM268.8 70.6h4.4v4.3h-4.4zM295.1 70.6h4.4v4.3h-4.4zM374.0 70.6h4.4v4.3h-4.4zM441.7 70.6h4.4v4.3h-4.4zM265.0 74.4h8.1v4.3h-8.1zM445.4 74.4h4.4v4.3h-4.4zM242.5 78.1h4.4v4.3h-4.4zM265.0 78.1h4.4v4.3h-4.4zM374.0 78.1h4.4v4.3h-4.4zM359.0 81.9h4.4v4.3h-4.4zM366.5 81.9h4.4v4.3h-4.4zM208.6 85.6h4.4v4.3h-4.4zM234.9 89.4h4.4v4.3h-4.4zM163.5 93.1h4.4v4.3h-4.4zM219.9 93.1h4.4v4.3h-4.4zM234.9 93.1h4.4v4.3h-4.4zM265.0 93.1h4.4v4.3h-4.4zM336.4 93.1h11.9v4.3h-11.9zM355.2 93.1h4.4v4.3h-4.4zM400.3 93.1h4.4v4.3h-4.4zM407.8 93.1h4.4v4.3h-4.4zM156.0 96.9h8.1v4.3h-8.1zM219.9 96.9h4.4v4.3h-4.4zM238.7 96.9h4.4v4.3h-4.4zM265.0 96.9h4.4v4.3h-4.4zM298.8 96.9h4.4v4.3h-4.4zM306.4 96.9h4.4v4.3h-4.4zM340.2 96.9h4.4v4.3h-4.4zM246.2 100.6h4.4v4.3h-4.4zM261.2 100.6h4.4v4.3h-4.4zM268.8 100.6h4.4v4.3h-4.4zM156.0 104.4h4.4v4.3h-4.4zM250.0 104.4h4.4v4.3h-4.4zM276.3 104.4h4.4v4.3h-4.4zM366.5 104.4h4.4v4.3h-4.4zM159.8 108.1h4.4v4.3h-4.4zM193.6 108.1h4.4v4.3h-4.4zM265.0 108.1h4.4v4.3h-4.4zM325.1 108.1h8.1v4.3h-8.1zM370.2 108.1h4.4v4.3h-4.4zM430.4 108.1h8.1v4.3h-8.1zM193.6 111.9h4.4v4.3h-4.4zM204.9 111.9h4.4v4.3h-4.4zM268.8 111.9h4.4v4.3h-4.4zM280.0 111.9h4.4v4.3h-4.4zM340.2 111.9h4.4v4.3h-4.4zM159.8 115.6h4.4v4.3h-4.4zM250.0 115.6h4.4v4.3h-4.4zM340.2 115.6h4.4v4.3h-4.4zM377.8 115.6h4.4v4.3h-4.4zM159.8 119.3h4.4v4.3h-4.4zM385.3 119.3h4.4v4.3h-4.4zM159.8 123.1h4.4v4.3h-4.4zM204.9 123.1h4.4v4.3h-4.4zM340.2 123.1h4.4v4.3h-4.4zM359.0 123.1h15.6v4.3h-15.6zM163.5 126.8h4.4v4.3h-4.4zM343.9 126.8h4.4v4.3h-4.4zM351.5 126.8h8.1v4.3h-8.1zM374.0 126.8h4.4v4.3h-4.4zM385.3 126.8h4.4v4.3h-4.4zM359.0 134.3h4.4v4.3h-4.4zM366.5 134.3h8.1v4.3h-8.1zM174.8 138.1h4.4v4.3h-4.4zM370.2 138.1h4.4v4.3h-4.4zM370.2 141.8h4.4v4.3h-4.4zM362.7 145.6h4.4v4.3h-4.4zM370.2 145.6h4.4v4.3h-4.4zM370.2 149.3h4.4v4.3h-4.4zM370.2 153.1h4.4v4.3h-4.4zM426.6 153.1h4.4v4.3h-4.4zM174.8 156.8h4.4v4.3h-4.4zM370.2 156.8h8.1v4.3h-8.1zM171.0 160.6h4.4v4.3h-4.4zM374.0 160.6h4.4v4.3h-4.4zM366.5 164.3h4.4v4.3h-4.4zM374.0 164.3h4.4v4.3h-4.4zM163.5 168.1h4.4v4.3h-4.4zM366.5 168.1h4.4v4.3h-4.4zM159.8 171.8h4.4v4.3h-4.4zM193.6 171.8h4.4v4.3h-4.4zM370.2 171.8h4.4v4.3h-4.4zM163.5 175.6h4.4v4.3h-4.4zM182.3 179.3h4.4v4.3h-4.4zM422.9 179.3h4.4v4.3h-4.4zM167.3 183.1h4.4v4.3h-4.4zM174.8 183.1h8.1v4.3h-8.1zM419.1 183.1h4.4v4.3h-4.4zM449.2 183.1h4.4v4.3h-4.4zM178.6 186.8h4.4v4.3h-4.4zM189.8 186.8h4.4v4.3h-4.4zM400.3 186.8h4.4v4.3h-4.4zM415.4 186.8h4.4v4.3h-4.4zM445.4 186.8h4.4v4.3h-4.4zM445.4 190.6h4.4v4.3h-4.4zM415.4 194.3h4.4v4.3h-4.4zM441.7 194.3h15.6v4.3h-15.6zM197.3 198.0h4.4v4.3h-4.4zM204.9 198.0h4.4v4.3h-4.4zM434.1 198.0h23.2v4.3h-23.2zM374.0 201.8h4.4v4.3h-4.4zM430.4 201.8h4.4v4.3h-4.4zM445.4 201.8h11.9v4.3h-11.9zM182.3 205.5h4.4v4.3h-4.4zM366.5 205.5h4.4v4.3h-4.4zM426.6 205.5h4.4v4.3h-4.4zM445.4 205.5h11.9v4.3h-11.9zM366.5 209.3h4.4v4.3h-4.4zM374.0 209.3h4.4v4.3h-4.4zM426.6 209.3h4.4v4.3h-4.4zM445.4 209.3h11.9v4.3h-11.9zM366.5 213.0h8.1v4.3h-8.1zM415.4 213.0h41.9v4.3h-41.9zM163.5 216.8h4.4v4.3h-4.4zM370.2 216.8h4.4v4.3h-4.4zM407.8 216.8h19.4v4.3h-19.4zM437.9 216.8h19.4v4.3h-19.4zM167.3 220.5h4.4v4.3h-4.4zM174.8 220.5h4.4v4.3h-4.4zM411.6 220.5h8.1v4.3h-8.1zM167.3 224.3h8.1v4.3h-8.1zM366.5 224.3h4.4v4.3h-4.4zM407.8 224.3h4.4v4.3h-4.4zM415.4 224.3h4.4v4.3h-4.4zM156.0 228.0h23.2v4.3h-23.2zM359.0 228.0h4.4v4.3h-4.4zM370.2 228.0h4.4v4.3h-4.4zM156.0 231.8h23.2v4.3h-23.2zM201.1 231.8h8.1v4.3h-8.1zM156.0 235.5h15.6v4.3h-15.6zM400.3 235.5h4.4v4.3h-4.4zM156.0 239.3h11.9v4.3h-11.9zM377.8 239.3h4.4v4.3h-4.4zM400.3 239.3h4.4v4.3h-4.4zM159.8 243.0h8.1v4.3h-8.1zM381.5 243.0h4.4v4.3h-4.4zM400.3 243.0h4.4v4.3h-4.4zM156.0 246.8h8.1v4.3h-8.1zM253.7 246.8h4.4v4.3h-4.4zM389.0 246.8h8.1v4.3h-8.1zM404.1 246.8h4.4v4.3h-4.4zM257.5 250.5h4.4v4.3h-4.4zM392.8 250.5h4.4v4.3h-4.4zM407.8 250.5h11.9v4.3h-11.9zM449.2 250.5h8.1v4.3h-8.1zM261.2 254.3h4.4v4.3h-4.4zM347.7 254.3h4.4v4.3h-4.4zM374.0 254.3h8.1v4.3h-8.1zM415.4 254.3h4.4v4.3h-4.4zM265.0 258.0h4.4v4.3h-4.4zM370.2 258.0h4.4v4.3h-4.4zM377.8 258.0h8.1v4.3h-8.1zM389.0 258.0h4.4v4.3h-4.4zM415.4 258.0h8.1v4.3h-8.1zM434.1 258.0h4.4v4.3h-4.4zM208.6 261.8h4.4v4.3h-4.4zM246.2 261.8h4.4v4.3h-4.4zM261.2 261.8h8.1v4.3h-8.1zM366.5 261.8h4.4v4.3h-4.4zM385.3 261.8h4.4v4.3h-4.4zM419.1 261.8h4.4v4.3h-4.4zM430.4 261.8h4.4v4.3h-4.4zM204.9 265.5h4.4v4.3h-4.4zM362.7 265.5h4.4v4.3h-4.4zM419.1 265.5h11.9v4.3h-11.9zM419.1 269.2h11.9v4.3h-11.9zM328.9 273.0h4.4v4.3h-4.4zM340.2 273.0h4.4v4.3h-4.4zM426.6 273.0h8.1v4.3h-8.1zM197.3 276.7h4.4v4.3h-4.4zM426.6 276.7h4.4v4.3h-4.4zM434.1 276.7h4.4v4.3h-4.4zM415.4 280.5h4.4v4.3h-4.4zM426.6 280.5h4.4v4.3h-4.4zM336.4 284.2h11.9v4.3h-11.9zM411.6 284.2h4.4v4.3h-4.4zM426.6 284.2h4.4v4.3h-4.4zM437.9 284.2h8.1v4.3h-8.1zM340.2 288.0h11.9v4.3h-11.9zM359.0 288.0h4.4v4.3h-4.4zM407.8 288.0h4.4v4.3h-4.4zM422.9 288.0h11.9v4.3h-11.9zM437.9 288.0h19.4v4.3h-19.4zM265.0 291.7h4.4v4.3h-4.4zM343.9 291.7h4.4v4.3h-4.4zM355.2 291.7h8.1v4.3h-8.1zM385.3 291.7h19.4v4.3h-19.4zM426.6 291.7h30.7v4.3h-30.7zM265.0 295.5h4.4v4.3h-4.4zM340.2 295.5h19.4v4.3h-19.4zM426.6 295.5h4.4v4.3h-4.4zM189.8 299.2h4.4v4.3h-4.4zM216.1 299.2h4.4v4.3h-4.4zM340.2 299.2h11.9v4.3h-11.9zM385.3 299.2h4.4v4.3h-4.4zM189.8 303.0h4.4v4.3h-4.4zM343.9 303.0h4.4v4.3h-4.4zM377.8 303.0h4.4v4.3h-4.4zM385.3 303.0h4.4v4.3h-4.4zM186.1 306.7h15.6v4.3h-15.6zM328.9 306.7h4.4v4.3h-4.4zM336.4 306.7h19.4v4.3h-19.4zM366.5 306.7h8.1v4.3h-8.1zM193.6 310.5h4.4v4.3h-4.4zM193.6 314.2h4.4v4.3h-4.4zM193.6 318.0h4.4v4.3h-4.4zM374.0 318.0h4.4v4.3h-4.4zM186.1 321.7h8.1v4.3h-8.1zM347.7 321.7h4.4v4.3h-4.4zM370.2 321.7h4.4v4.3h-4.4zM366.5 325.5h4.4v4.3h-4.4zM422.9 325.5h4.4v4.3h-4.4zM212.4 333.0h8.1v4.3h-8.1zM261.2 333.0h4.4v4.3h-4.4zM419.1 333.0h4.4v4.3h-4.4zM204.9 336.7h4.4v4.3h-4.4zM415.4 336.7h4.4v4.3h-4.4zM204.9 340.5h4.4v4.3h-4.4zM268.8 340.5h4.4v4.3h-4.4z"/><path fill="#0006f0" d="M216.1 44.4h4.4v4.3h-4.4zM280.0 44.4h8.1v4.3h-8.1zM359.0 44.4h4.4v4.3h-4.4zM216.1 48.1h23.2v4.3h-23.2zM280.0 48.1h4.4v4.3h-4.4zM359.0 48.1h4.4v4.3h-4.4zM204.9 51.9h4.4v4.3h-4.4zM242.5 51.9h4.4v4.3h-4.4zM287.6 51.9h4.4v4.3h-4.4zM325.1 51.9h4.4v4.3h-4.4zM359.0 51.9h4.4v4.3h-4.4zM159.8 55.6h4.4v4.3h-4.4zM204.9 55.6h4.4v4.3h-4.4zM253.7 55.6h4.4v4.3h-4.4zM276.3 55.6h4.4v4.3h-4.4zM197.3 59.4h4.4v4.3h-4.4zM204.9 59.4h4.4v4.3h-4.4zM261.2 59.4h4.4v4.3h-4.4zM343.9 59.4h11.9v4.3h-11.9zM366.5 59.4h4.4v4.3h-4.4zM419.1 59.4h4.4v4.3h-4.4zM430.4 59.4h4.4v4.3h-4.4zM201.1 63.1h8.1v4.3h-8.1zM268.8 63.1h8.1v4.3h-8.1zM343.9 63.1h4.4v4.3h-4.4zM355.2 63.1h4.4v4.3h-4.4zM437.9 63.1h19.4v4.3h-19.4zM189.8 66.9h4.4v4.3h-4.4zM204.9 66.9h4.4v4.3h-4.4zM272.5 66.9h15.6v4.3h-15.6zM355.2 66.9h4.4v4.3h-4.4zM374.0 66.9h4.4v4.3h-4.4zM415.4 66.9h4.4v4.3h-4.4zM434.1 66.9h4.4v4.3h-4.4zM174.8 70.6h4.4v4.3h-4.4zM193.6 70.6h4.4v4.3h-4.4zM204.9 70.6h4.4v4.3h-4.4zM272.5 70.6h4.4v4.3h-4.4zM355.2 70.6h4.4v4.3h-4.4zM204.9 74.4h4.4v4.3h-4.4zM295.1 74.4h4.4v4.3h-4.4zM355.2 74.4h4.4v4.3h-4.4zM268.8 78.1h4.4v4.3h-4.4zM355.2 78.1h4.4v4.3h-4.4zM404.1 78.1h4.4v4.3h-4.4zM445.4 78.1h4.4v4.3h-4.4zM265.0 81.9h8.1v4.3h-8.1zM355.2 81.9h4.4v4.3h-4.4zM370.2 81.9h4.4v4.3h-4.4zM407.8 81.9h4.4v4.3h-4.4zM265.0 85.6h4.4v4.3h-4.4zM295.1 85.6h4.4v4.3h-4.4zM355.2 85.6h8.1v4.3h-8.1zM396.6 85.6h4.4v4.3h-4.4zM212.4 89.4h4.4v4.3h-4.4zM265.0 89.4h4.4v4.3h-4.4zM295.1 89.4h4.4v4.3h-4.4zM343.9 89.4h15.6v4.3h-15.6zM396.6 89.4h4.4v4.3h-4.4zM295.1 93.1h4.4v4.3h-4.4zM445.4 93.1h4.4v4.3h-4.4zM261.2 96.9h4.4v4.3h-4.4zM268.8 96.9h4.4v4.3h-4.4zM310.1 96.9h4.4v4.3h-4.4zM328.9 96.9h11.9v4.3h-11.9zM359.0 96.9h4.4v4.3h-4.4zM404.1 96.9h4.4v4.3h-4.4zM156.0 100.6h4.4v4.3h-4.4zM272.5 100.6h4.4v4.3h-4.4zM340.2 100.6h4.4v4.3h-4.4zM362.7 100.6h4.4v4.3h-4.4zM449.2 100.6h8.1v4.3h-8.1zM159.8 104.4h4.4v4.3h-4.4zM261.2 104.4h4.4v4.3h-4.4zM325.1 104.4h8.1v4.3h-8.1zM340.2 104.4h4.4v4.3h-4.4zM163.5 108.1h4.4v4.3h-4.4zM189.8 108.1h4.4v4.3h-4.4zM321.4 108.1h4.4v4.3h-4.4zM332.7 108.1h11.9v4.3h-11.9zM426.6 108.1h4.4v4.3h-4.4zM163.5 111.9h4.4v4.3h-4.4zM189.8 111.9h4.4v4.3h-4.4zM197.3 111.9h8.1v4.3h-8.1zM325.1 111.9h15.6v4.3h-15.6zM374.0 111.9h4.4v4.3h-4.4zM430.4 111.9h4.4v4.3h-4.4zM163.5 115.6h4.4v4.3h-4.4zM201.1 115.6h4.4v4.3h-4.4zM381.5 115.6h4.4v4.3h-4.4zM242.5 123.1h4.4v4.3h-4.4zM389.0 123.1h4.4v4.3h-4.4zM359.0 126.8h15.6v4.3h-15.6zM167.3 130.6h4.4v4.3h-4.4zM355.2 130.6h30.7v4.3h-30.7zM171.0 134.3h4.4v4.3h-4.4zM355.2 134.3h4.4v4.3h-4.4zM374.0 134.3h4.4v4.3h-4.4zM355.2 138.1h4.4v4.3h-4.4zM374.0 138.1h4.4v4.3h-4.4zM178.6 141.8h4.4v4.3h-4.4zM374.0 141.8h4.4v4.3h-4.4zM359.0 145.6h4.4v4.3h-4.4zM374.0 145.6h4.4v4.3h-4.4zM366.5 149.3h4.4v4.3h-4.4zM374.0 149.3h4.4v4.3h-4.4zM178.6 153.1h4.4v4.3h-4.4zM374.0 153.1h4.4v4.3h-4.4zM385.3 156.8h4.4v4.3h-4.4zM366.5 160.6h4.4v4.3h-4.4zM167.3 164.3h4.4v4.3h-4.4zM189.8 168.1h4.4v4.3h-4.4zM374.0 168.1h4.4v4.3h-4.4zM163.5 171.8h4.4v4.3h-4.4zM186.1 171.8h4.4v4.3h-4.4zM366.5 171.8h4.4v4.3h-4.4zM426.6 171.8h4.4v4.3h-4.4zM167.3 179.3h4.4v4.3h-4.4zM449.2 179.3h8.1v4.3h-8.1zM171.0 183.1h4.4v4.3h-4.4zM193.6 183.1h4.4v4.3h-4.4zM445.4 183.1h4.4v4.3h-4.4zM163.5 186.8h15.6v4.3h-15.6zM415.4 190.6h4.4v4.3h-4.4zM441.7 190.6h4.4v4.3h-4.4zM437.9 194.3h4.4v4.3h-4.4zM193.6 198.0h4.4v4.3h-4.4zM370.2 198.0h4.4v4.3h-4.4zM186.1 201.8h4.4v4.3h-4.4zM366.5 201.8h4.4v4.3h-4.4zM385.3 201.8h4.4v4.3h-4.4zM238.7 205.5h4.4v4.3h-4.4zM250.0 205.5h4.4v4.3h-4.4zM377.8 205.5h4.4v4.3h-4.4zM385.3 205.5h4.4v4.3h-4.4zM419.1 205.5h4.4v4.3h-4.4zM389.0 209.3h4.4v4.3h-4.4zM419.1 209.3h8.1v4.3h-8.1zM156.0 213.0h8.1v4.3h-8.1zM374.0 213.0h4.4v4.3h-4.4zM396.6 213.0h4.4v4.3h-4.4zM174.8 216.8h4.4v4.3h-4.4zM366.5 216.8h4.4v4.3h-4.4zM404.1 216.8h4.4v4.3h-4.4zM426.6 216.8h11.9v4.3h-11.9zM171.0 220.5h4.4v4.3h-4.4zM366.5 220.5h8.1v4.3h-8.1zM407.8 220.5h4.4v4.3h-4.4zM419.1 220.5h8.1v4.3h-8.1zM449.2 220.5h8.1v4.3h-8.1zM362.7 224.3h4.4v4.3h-4.4zM370.2 224.3h4.4v4.3h-4.4zM404.1 224.3h4.4v4.3h-4.4zM419.1 224.3h4.4v4.3h-4.4zM178.6 231.8h4.4v4.3h-4.4zM197.3 231.8h4.4v4.3h-4.4zM400.3 231.8h4.4v4.3h-4.4zM171.0 235.5h4.4v4.3h-4.4zM167.3 239.3h4.4v4.3h-4.4zM347.7 239.3h4.4v4.3h-4.4zM246.2 243.0h8.1v4.3h-8.1zM396.6 243.0h4.4v4.3h-4.4zM163.5 246.8h4.4v4.3h-4.4zM216.1 246.8h4.4v4.3h-4.4zM396.6 246.8h8.1v4.3h-8.1zM396.6 250.5h4.4v4.3h-4.4zM212.4 254.3h4.4v4.3h-4.4zM265.0 254.3h4.4v4.3h-4.4zM392.8 254.3h4.4v4.3h-4.4zM411.6 254.3h4.4v4.3h-4.4zM419.1 254.3h4.4v4.3h-4.4zM268.8 258.0h4.4v4.3h-4.4zM374.0 258.0h4.4v4.3h-4.4zM250.0 261.8h4.4v4.3h-4.4zM257.5 261.8h4.4v4.3h-4.4zM268.8 261.8h4.4v4.3h-4.4zM362.7 261.8h4.4v4.3h-4.4zM415.4 261.8h4.4v4.3h-4.4zM422.9 261.8h4.4v4.3h-4.4zM415.4 265.5h4.4v4.3h-4.4zM201.1 269.2h4.4v4.3h-4.4zM332.7 269.2h8.1v4.3h-8.1zM325.1 276.7h4.4v4.3h-4.4zM415.4 276.7h4.4v4.3h-4.4zM430.4 276.7h4.4v4.3h-4.4zM328.9 280.5h4.4v4.3h-4.4zM343.9 280.5h4.4v4.3h-4.4zM430.4 280.5h8.1v4.3h-8.1zM359.0 284.2h4.4v4.3h-4.4zM430.4 284.2h8.1v4.3h-8.1zM223.7 288.0h4.4v4.3h-4.4zM265.0 288.0h4.4v4.3h-4.4zM351.5 288.0h8.1v4.3h-8.1zM389.0 288.0h19.4v4.3h-19.4zM434.1 288.0h4.4v4.3h-4.4zM340.2 291.7h4.4v4.3h-4.4zM362.7 291.7h4.4v4.3h-4.4zM377.8 291.7h8.1v4.3h-8.1zM404.1 291.7h23.2v4.3h-23.2zM189.8 295.5h4.4v4.3h-4.4zM336.4 295.5h4.4v4.3h-4.4zM359.0 295.5h4.4v4.3h-4.4zM385.3 295.5h8.1v4.3h-8.1zM328.9 299.2h4.4v4.3h-4.4zM351.5 299.2h8.1v4.3h-8.1zM377.8 299.2h8.1v4.3h-8.1zM426.6 299.2h4.4v4.3h-4.4zM186.1 303.0h4.4v4.3h-4.4zM347.7 303.0h11.9v4.3h-11.9zM374.0 303.0h4.4v4.3h-4.4zM426.6 303.0h4.4v4.3h-4.4zM201.1 306.7h4.4v4.3h-4.4zM434.1 306.7h19.4v4.3h-19.4zM343.9 310.5h4.4v4.3h-4.4zM419.1 310.5h8.1v4.3h-8.1zM389.0 314.2h4.4v4.3h-4.4zM411.6 314.2h4.4v4.3h-4.4zM389.0 318.0h4.4v4.3h-4.4zM407.8 318.0h4.4v4.3h-4.4zM156.0 321.7h15.6v4.3h-15.6zM178.6 321.7h8.1v4.3h-8.1zM193.6 321.7h4.4v4.3h-4.4zM377.8 321.7h11.9v4.3h-11.9zM351.5 325.5h4.4v4.3h-4.4zM208.6 333.0h4.4v4.3h-4.4zM219.9 333.0h4.4v4.3h-4.4zM407.8 333.0h4.4v4.3h-4.4zM268.8 336.7h4.4v4.3h-4.4zM411.6 336.7h4.4v4.3h-4.4zM223.7 340.5h4.4v4.3h-4.4zM250.0 340.5h4.4v4.3h-4.4zM415.4 340.5h4.4v4.3h-4.4z"/><path fill="#000cf0" d="M219.9 44.4h4.4v4.3h-4.4zM287.6 44.4h4.4v4.3h-4.4zM287.6 48.1h4.4v4.3h-4.4zM325.1 48.1h4.4v4.3h-4.4zM201.1 55.6h4.4v4.3h-4.4zM291.3 55.6h4.4v4.3h-4.4zM362.7 55.6h4.4v4.3h-4.4zM193.6 59.4h4.4v4.3h-4.4zM201.1 59.4h4.4v4.3h-4.4zM317.6 59.4h4.4v4.3h-4.4zM189.8 63.1h4.4v4.3h-4.4zM298.8 63.1h4.4v4.3h-4.4zM347.7 63.1h8.1v4.3h-8.1zM415.4 63.1h4.4v4.3h-4.4zM201.1 66.9h4.4v4.3h-4.4zM343.9 66.9h4.4v4.3h-4.4zM351.5 66.9h4.4v4.3h-4.4zM189.8 70.6h4.4v4.3h-4.4zM197.3 70.6h4.4v4.3h-4.4zM261.2 74.4h4.4v4.3h-4.4zM178.6 78.1h4.4v4.3h-4.4zM204.9 78.1h4.4v4.3h-4.4zM295.1 78.1h4.4v4.3h-4.4zM295.1 81.9h4.4v4.3h-4.4zM445.4 81.9h4.4v4.3h-4.4zM343.9 85.6h4.4v4.3h-4.4zM445.4 85.6h4.4v4.3h-4.4zM445.4 89.4h4.4v4.3h-4.4zM313.9 96.9h15.6v4.3h-15.6zM445.4 96.9h4.4v4.3h-4.4zM159.8 100.6h4.4v4.3h-4.4zM336.4 100.6h4.4v4.3h-4.4zM321.4 104.4h4.4v4.3h-4.4zM332.7 104.4h8.1v4.3h-8.1zM197.3 108.1h4.4v4.3h-4.4zM261.2 108.1h4.4v4.3h-4.4zM265.0 111.9h4.4v4.3h-4.4zM426.6 111.9h4.4v4.3h-4.4zM434.1 111.9h4.4v4.3h-4.4zM336.4 115.6h4.4v4.3h-4.4zM163.5 119.3h4.4v4.3h-4.4zM163.5 123.1h4.4v4.3h-4.4zM389.0 126.8h4.4v4.3h-4.4zM351.5 130.6h4.4v4.3h-4.4zM377.8 134.3h4.4v4.3h-4.4zM445.4 138.1h4.4v4.3h-4.4zM355.2 141.8h4.4v4.3h-4.4zM445.4 141.8h4.4v4.3h-4.4zM404.1 145.6h4.4v4.3h-4.4zM362.7 149.3h4.4v4.3h-4.4zM366.5 153.1h4.4v4.3h-4.4zM377.8 153.1h4.4v4.3h-4.4zM385.3 153.1h4.4v4.3h-4.4zM366.5 156.8h4.4v4.3h-4.4zM377.8 156.8h4.4v4.3h-4.4zM182.3 175.6h4.4v4.3h-4.4zM178.6 179.3h4.4v4.3h-4.4zM400.3 183.1h4.4v4.3h-4.4zM156.0 186.8h8.1v4.3h-8.1zM182.3 190.6h4.4v4.3h-4.4zM389.0 194.3h4.4v4.3h-4.4zM374.0 198.0h4.4v4.3h-4.4zM430.4 198.0h4.4v4.3h-4.4zM234.9 201.8h4.4v4.3h-4.4zM377.8 201.8h4.4v4.3h-4.4zM426.6 201.8h4.4v4.3h-4.4zM362.7 205.5h4.4v4.3h-4.4zM422.9 205.5h4.4v4.3h-4.4zM178.6 209.3h4.4v4.3h-4.4zM362.7 209.3h4.4v4.3h-4.4zM377.8 209.3h4.4v4.3h-4.4zM167.3 216.8h4.4v4.3h-4.4zM374.0 216.8h4.4v4.3h-4.4zM426.6 220.5h4.4v4.3h-4.4zM441.7 220.5h8.1v4.3h-8.1zM419.1 228.0h4.4v4.3h-4.4zM419.1 231.8h4.4v4.3h-4.4zM167.3 243.0h4.4v4.3h-4.4zM385.3 243.0h4.4v4.3h-4.4zM257.5 246.8h4.4v4.3h-4.4zM156.0 250.5h8.1v4.3h-8.1zM261.2 250.5h4.4v4.3h-4.4zM404.1 250.5h4.4v4.3h-4.4zM419.1 250.5h4.4v4.3h-4.4zM411.6 258.0h4.4v4.3h-4.4zM253.7 261.8h4.4v4.3h-4.4zM359.0 261.8h4.4v4.3h-4.4zM426.6 261.8h4.4v4.3h-4.4zM242.5 265.5h4.4v4.3h-4.4zM340.2 269.2h4.4v4.3h-4.4zM415.4 269.2h4.4v4.3h-4.4zM325.1 273.0h4.4v4.3h-4.4zM415.4 273.0h4.4v4.3h-4.4zM359.0 280.5h4.4v4.3h-4.4zM193.6 284.2h4.4v4.3h-4.4zM332.7 284.2h4.4v4.3h-4.4zM347.7 284.2h4.4v4.3h-4.4zM389.0 284.2h4.4v4.3h-4.4zM407.8 284.2h4.4v4.3h-4.4zM336.4 288.0h4.4v4.3h-4.4zM268.8 291.7h4.4v4.3h-4.4zM366.5 291.7h11.9v4.3h-11.9zM268.8 295.5h4.4v4.3h-4.4zM332.7 295.5h4.4v4.3h-4.4zM381.5 295.5h4.4v4.3h-4.4zM392.8 295.5h4.4v4.3h-4.4zM359.0 299.2h4.4v4.3h-4.4zM389.0 299.2h4.4v4.3h-4.4zM325.1 303.0h4.4v4.3h-4.4zM359.0 303.0h15.6v4.3h-15.6zM204.9 306.7h4.4v4.3h-4.4zM325.1 306.7h4.4v4.3h-4.4zM430.4 306.7h4.4v4.3h-4.4zM452.9 306.7h4.4v4.3h-4.4zM197.3 310.5h4.4v4.3h-4.4zM389.0 310.5h4.4v4.3h-4.4zM343.9 314.2h4.4v4.3h-4.4zM171.0 321.7h8.1v4.3h-8.1zM374.0 321.7h4.4v4.3h-4.4zM253.7 329.2h8.1v4.3h-8.1zM204.9 333.0h4.4v4.3h-4.4zM250.0 336.7h4.4v4.3h-4.4zM411.6 340.5h4.4v4.3h-4.4z"/><path fill="#000cf6" d="M223.7 44.4h4.4v4.3h-4.4zM325.1 44.4h4.4v4.3h-4.4zM201.1 51.9h4.4v4.3h-4.4zM276.3 51.9h4.4v4.3h-4.4zM272.5 59.4h4.4v4.3h-4.4zM295.1 59.4h4.4v4.3h-4.4zM434.1 59.4h4.4v4.3h-4.4zM347.7 66.9h4.4v4.3h-4.4zM291.3 70.6h4.4v4.3h-4.4zM343.9 70.6h4.4v4.3h-4.4zM419.1 70.6h4.4v4.3h-4.4zM437.9 70.6h4.4v4.3h-4.4zM178.6 74.4h4.4v4.3h-4.4zM441.7 74.4h4.4v4.3h-4.4zM400.3 78.1h4.4v4.3h-4.4zM407.8 78.1h4.4v4.3h-4.4zM396.6 81.9h4.4v4.3h-4.4zM238.7 85.6h4.4v4.3h-4.4zM268.8 85.6h4.4v4.3h-4.4zM351.5 85.6h4.4v4.3h-4.4zM411.6 89.4h4.4v4.3h-4.4zM216.1 93.1h4.4v4.3h-4.4zM261.2 93.1h4.4v4.3h-4.4zM242.5 96.9h4.4v4.3h-4.4zM407.8 96.9h4.4v4.3h-4.4zM325.1 100.6h11.9v4.3h-11.9zM445.4 100.6h4.4v4.3h-4.4zM208.6 104.4h4.4v4.3h-4.4zM253.7 104.4h8.1v4.3h-8.1zM280.0 104.4h4.4v4.3h-4.4zM204.9 108.1h4.4v4.3h-4.4zM253.7 108.1h4.4v4.3h-4.4zM347.7 130.6h4.4v4.3h-4.4zM452.9 134.3h4.4v4.3h-4.4zM377.8 149.3h4.4v4.3h-4.4zM389.0 149.3h4.4v4.3h-4.4zM381.5 153.1h4.4v4.3h-4.4zM381.5 156.8h4.4v4.3h-4.4zM377.8 160.6h4.4v4.3h-4.4zM385.3 160.6h4.4v4.3h-4.4zM193.6 168.1h4.4v4.3h-4.4zM362.7 168.1h4.4v4.3h-4.4zM171.0 179.3h4.4v4.3h-4.4zM193.6 186.8h4.4v4.3h-4.4zM178.6 190.6h4.4v4.3h-4.4zM186.1 190.6h4.4v4.3h-4.4zM392.8 190.6h4.4v4.3h-4.4zM434.1 194.3h4.4v4.3h-4.4zM419.1 201.8h4.4v4.3h-4.4zM381.5 205.5h4.4v4.3h-4.4zM163.5 213.0h4.4v4.3h-4.4zM362.7 213.0h4.4v4.3h-4.4zM430.4 220.5h4.4v4.3h-4.4zM437.9 220.5h4.4v4.3h-4.4zM208.6 228.0h4.4v4.3h-4.4zM182.3 231.8h4.4v4.3h-4.4zM208.6 231.8h4.4v4.3h-4.4zM374.0 231.8h4.4v4.3h-4.4zM174.8 235.5h4.4v4.3h-4.4zM204.9 235.5h4.4v4.3h-4.4zM419.1 235.5h4.4v4.3h-4.4zM171.0 239.3h4.4v4.3h-4.4zM242.5 243.0h4.4v4.3h-4.4zM253.7 243.0h4.4v4.3h-4.4zM392.8 243.0h4.4v4.3h-4.4zM419.1 246.8h4.4v4.3h-4.4zM400.3 250.5h4.4v4.3h-4.4zM445.4 250.5h4.4v4.3h-4.4zM407.8 254.3h4.4v4.3h-4.4zM347.7 258.0h4.4v4.3h-4.4zM422.9 258.0h4.4v4.3h-4.4zM389.0 261.8h4.4v4.3h-4.4zM234.9 273.0h4.4v4.3h-4.4zM227.4 284.2h4.4v4.3h-4.4zM189.8 291.7h4.4v4.3h-4.4zM336.4 291.7h4.4v4.3h-4.4zM422.9 295.5h4.4v4.3h-4.4zM156.0 303.0h4.4v4.3h-4.4zM182.3 303.0h4.4v4.3h-4.4zM389.0 303.0h4.4v4.3h-4.4zM389.0 306.7h4.4v4.3h-4.4zM426.6 306.7h4.4v4.3h-4.4zM265.0 333.0h4.4v4.3h-4.4zM223.7 336.7h4.4v4.3h-4.4z"/><path fill="#001ef6" d="M238.7 44.4h4.4v4.3h-4.4zM291.3 44.4h4.4v4.3h-4.4zM242.5 48.1h4.4v4.3h-4.4zM291.3 48.1h4.4v4.3h-4.4zM197.3 51.9h4.4v4.3h-4.4zM272.5 51.9h4.4v4.3h-4.4zM366.5 51.9h4.4v4.3h-4.4zM193.6 55.6h4.4v4.3h-4.4zM268.8 55.6h4.4v4.3h-4.4zM295.1 55.6h4.4v4.3h-4.4zM298.8 59.4h4.4v4.3h-4.4zM441.7 59.4h4.4v4.3h-4.4zM186.1 66.9h4.4v4.3h-4.4zM411.6 66.9h4.4v4.3h-4.4zM280.0 70.6h8.1v4.3h-8.1zM411.6 70.6h4.4v4.3h-4.4zM430.4 70.6h4.4v4.3h-4.4zM182.3 74.4h8.1v4.3h-8.1zM250.0 74.4h4.4v4.3h-4.4zM257.5 74.4h4.4v4.3h-4.4zM291.3 74.4h4.4v4.3h-4.4zM407.8 74.4h4.4v4.3h-4.4zM415.4 74.4h4.4v4.3h-4.4zM261.2 78.1h4.4v4.3h-4.4zM396.6 78.1h4.4v4.3h-4.4zM242.5 81.9h4.4v4.3h-4.4zM392.8 81.9h4.4v4.3h-4.4zM392.8 85.6h4.4v4.3h-4.4zM238.7 89.4h4.4v4.3h-4.4zM212.4 93.1h4.4v4.3h-4.4zM272.5 96.9h4.4v4.3h-4.4zM411.6 96.9h4.4v4.3h-4.4zM441.7 96.9h4.4v4.3h-4.4zM276.3 100.6h4.4v4.3h-4.4zM302.6 100.6h8.1v4.3h-8.1zM189.8 104.4h4.4v4.3h-4.4zM197.3 104.4h4.4v4.3h-4.4zM283.8 104.4h4.4v4.3h-4.4zM313.9 104.4h4.4v4.3h-4.4zM449.2 104.4h8.1v4.3h-8.1zM167.3 108.1h4.4v4.3h-4.4zM441.7 108.1h4.4v4.3h-4.4zM317.6 111.9h4.4v4.3h-4.4zM381.5 111.9h4.4v4.3h-4.4zM437.9 111.9h4.4v4.3h-4.4zM167.3 115.6h4.4v4.3h-4.4zM189.8 115.6h4.4v4.3h-4.4zM272.5 115.6h8.1v4.3h-8.1zM336.4 123.1h4.4v4.3h-4.4zM167.3 126.8h4.4v4.3h-4.4zM392.8 126.8h4.4v4.3h-4.4zM389.0 130.6h4.4v4.3h-4.4zM351.5 138.1h4.4v4.3h-4.4zM381.5 138.1h4.4v4.3h-4.4zM381.5 141.8h4.4v4.3h-4.4zM182.3 145.6h4.4v4.3h-4.4zM355.2 145.6h4.4v4.3h-4.4zM381.5 145.6h4.4v4.3h-4.4zM400.3 145.6h4.4v4.3h-4.4zM430.4 160.6h4.4v4.3h-4.4zM171.0 164.3h4.4v4.3h-4.4zM385.3 164.3h4.4v4.3h-4.4zM167.3 171.8h4.4v4.3h-4.4zM182.3 171.8h4.4v4.3h-4.4zM197.3 171.8h4.4v4.3h-4.4zM178.6 175.6h4.4v4.3h-4.4zM366.5 175.6h4.4v4.3h-4.4zM392.8 175.6h4.4v4.3h-4.4zM197.3 179.3h4.4v4.3h-4.4zM396.6 179.3h4.4v4.3h-4.4zM419.1 190.6h4.4v4.3h-4.4zM434.1 190.6h4.4v4.3h-4.4zM182.3 194.3h8.1v4.3h-8.1zM204.9 194.3h4.4v4.3h-4.4zM238.7 194.3h4.4v4.3h-4.4zM246.2 194.3h4.4v4.3h-4.4zM374.0 194.3h4.4v4.3h-4.4zM419.1 194.3h4.4v4.3h-4.4zM426.6 194.3h4.4v4.3h-4.4zM362.7 198.0h4.4v4.3h-4.4zM381.5 198.0h4.4v4.3h-4.4zM422.9 198.0h4.4v4.3h-4.4zM182.3 201.8h4.4v4.3h-4.4zM234.9 205.5h4.4v4.3h-4.4zM242.5 209.3h4.4v4.3h-4.4zM171.0 213.0h4.4v4.3h-4.4zM208.6 213.0h4.4v4.3h-4.4zM208.6 216.8h4.4v4.3h-4.4zM377.8 216.8h4.4v4.3h-4.4zM208.6 220.5h4.4v4.3h-4.4zM359.0 224.3h4.4v4.3h-4.4zM374.0 224.3h4.4v4.3h-4.4zM400.3 224.3h4.4v4.3h-4.4zM430.4 224.3h11.9v4.3h-11.9zM355.2 228.0h4.4v4.3h-4.4zM422.9 231.8h4.4v4.3h-4.4zM212.4 235.5h4.4v4.3h-4.4zM377.8 235.5h4.4v4.3h-4.4zM396.6 235.5h4.4v4.3h-4.4zM174.8 239.3h4.4v4.3h-4.4zM208.6 239.3h8.1v4.3h-8.1zM242.5 239.3h4.4v4.3h-4.4zM392.8 239.3h4.4v4.3h-4.4zM212.4 243.0h19.4v4.3h-19.4zM212.4 246.8h4.4v4.3h-4.4zM441.7 250.5h4.4v4.3h-4.4zM159.8 254.3h4.4v4.3h-4.4zM272.5 254.3h4.4v4.3h-4.4zM400.3 254.3h4.4v4.3h-4.4zM434.1 254.3h4.4v4.3h-4.4zM396.6 258.0h4.4v4.3h-4.4zM351.5 261.8h4.4v4.3h-4.4zM246.2 265.5h4.4v4.3h-4.4zM257.5 265.5h4.4v4.3h-4.4zM272.5 265.5h4.4v4.3h-4.4zM340.2 265.5h4.4v4.3h-4.4zM238.7 269.2h4.4v4.3h-4.4zM325.1 269.2h4.4v4.3h-4.4zM343.9 269.2h4.4v4.3h-4.4zM321.4 273.0h4.4v4.3h-4.4zM359.0 273.0h4.4v4.3h-4.4zM231.2 280.5h4.4v4.3h-4.4zM347.7 280.5h4.4v4.3h-4.4zM328.9 284.2h4.4v4.3h-4.4zM396.6 284.2h8.1v4.3h-8.1zM182.3 299.2h4.4v4.3h-4.4zM219.9 299.2h4.4v4.3h-4.4zM392.8 299.2h4.4v4.3h-4.4zM212.4 306.7h4.4v4.3h-4.4zM201.1 314.2h4.4v4.3h-4.4zM426.6 314.2h4.4v4.3h-4.4zM201.1 321.7h4.4v4.3h-4.4zM404.1 321.7h4.4v4.3h-4.4zM167.3 325.5h4.4v4.3h-4.4zM201.1 325.5h4.4v4.3h-4.4zM374.0 325.5h11.9v4.3h-11.9zM404.1 325.5h4.4v4.3h-4.4zM197.3 329.2h4.4v4.3h-4.4zM359.0 329.2h11.9v4.3h-11.9zM404.1 329.2h4.4v4.3h-4.4zM197.3 333.0h4.4v4.3h-4.4zM272.5 336.7h4.4v4.3h-4.4z"/><path fill="#002afc" d="M242.5 44.4h4.4v4.3h-4.4zM321.4 48.1h4.4v4.3h-4.4zM268.8 51.9h4.4v4.3h-4.4zM295.1 51.9h4.4v4.3h-4.4zM422.9 51.9h8.1v4.3h-8.1zM189.8 55.6h4.4v4.3h-4.4zM317.6 55.6h4.4v4.3h-4.4zM415.4 55.6h4.4v4.3h-4.4zM302.6 59.4h4.4v4.3h-4.4zM452.9 59.4h4.4v4.3h-4.4zM182.3 70.6h4.4v4.3h-4.4zM407.8 70.6h4.4v4.3h-4.4zM253.7 74.4h4.4v4.3h-4.4zM276.3 74.4h4.4v4.3h-4.4zM381.5 74.4h4.4v4.3h-4.4zM419.1 74.4h4.4v4.3h-4.4zM186.1 78.1h4.4v4.3h-4.4zM381.5 78.1h4.4v4.3h-4.4zM392.8 78.1h4.4v4.3h-4.4zM415.4 78.1h4.4v4.3h-4.4zM377.8 81.9h4.4v4.3h-4.4zM272.5 85.6h4.4v4.3h-4.4zM370.2 85.6h4.4v4.3h-4.4zM208.6 93.1h4.4v4.3h-4.4zM242.5 93.1h4.4v4.3h-4.4zM257.5 93.1h4.4v4.3h-4.4zM272.5 93.1h4.4v4.3h-4.4zM167.3 96.9h4.4v4.3h-4.4zM253.7 96.9h4.4v4.3h-4.4zM396.6 96.9h4.4v4.3h-4.4zM295.1 100.6h4.4v4.3h-4.4zM404.1 100.6h8.1v4.3h-8.1zM287.6 104.4h4.4v4.3h-4.4zM310.1 104.4h4.4v4.3h-4.4zM182.3 108.1h4.4v4.3h-4.4zM287.6 108.1h4.4v4.3h-4.4zM377.8 108.1h4.4v4.3h-4.4zM419.1 108.1h4.4v4.3h-4.4zM445.4 108.1h4.4v4.3h-4.4zM182.3 111.9h4.4v4.3h-4.4zM385.3 111.9h4.4v4.3h-4.4zM419.1 111.9h4.4v4.3h-4.4zM261.2 115.6h8.1v4.3h-8.1zM422.9 115.6h4.4v4.3h-4.4zM430.4 115.6h4.4v4.3h-4.4zM250.0 123.1h4.4v4.3h-4.4zM396.6 123.1h4.4v4.3h-4.4zM171.0 130.6h4.4v4.3h-4.4zM351.5 141.8h4.4v4.3h-4.4zM415.4 141.8h4.4v4.3h-4.4zM385.3 145.6h4.4v4.3h-4.4zM392.8 145.6h8.1v4.3h-8.1zM182.3 153.1h4.4v4.3h-4.4zM359.0 153.1h4.4v4.3h-4.4zM430.4 153.1h4.4v4.3h-4.4zM359.0 160.6h4.4v4.3h-4.4zM186.1 164.3h4.4v4.3h-4.4zM193.6 164.3h4.4v4.3h-4.4zM359.0 164.3h4.4v4.3h-4.4zM182.3 168.1h4.4v4.3h-4.4zM359.0 168.1h4.4v4.3h-4.4zM430.4 171.8h4.4v4.3h-4.4zM449.2 171.8h8.1v4.3h-8.1zM174.8 175.6h4.4v4.3h-4.4zM362.7 175.6h4.4v4.3h-4.4zM370.2 179.3h4.4v4.3h-4.4zM437.9 183.1h4.4v4.3h-4.4zM197.3 186.8h4.4v4.3h-4.4zM163.5 190.6h4.4v4.3h-4.4zM370.2 190.6h4.4v4.3h-4.4zM422.9 190.6h11.9v4.3h-11.9zM174.8 194.3h4.4v4.3h-4.4zM377.8 194.3h4.4v4.3h-4.4zM385.3 194.3h4.4v4.3h-4.4zM212.4 201.8h4.4v4.3h-4.4zM359.0 201.8h4.4v4.3h-4.4zM156.0 209.3h8.1v4.3h-8.1zM238.7 209.3h4.4v4.3h-4.4zM389.0 213.0h4.4v4.3h-4.4zM359.0 216.8h4.4v4.3h-4.4zM452.9 228.0h4.4v4.3h-4.4zM351.5 231.8h4.4v4.3h-4.4zM396.6 231.8h4.4v4.3h-4.4zM182.3 235.5h4.4v4.3h-4.4zM197.3 235.5h4.4v4.3h-4.4zM246.2 235.5h4.4v4.3h-4.4zM253.7 235.5h4.4v4.3h-4.4zM347.7 235.5h4.4v4.3h-4.4zM422.9 235.5h4.4v4.3h-4.4zM178.6 239.3h4.4v4.3h-4.4zM216.1 239.3h4.4v4.3h-4.4zM238.7 239.3h4.4v4.3h-4.4zM174.8 243.0h4.4v4.3h-4.4zM261.2 243.0h4.4v4.3h-4.4zM265.0 246.8h4.4v4.3h-4.4zM422.9 246.8h4.4v4.3h-4.4zM276.3 254.3h4.4v4.3h-4.4zM426.6 254.3h8.1v4.3h-8.1zM156.0 258.0h8.1v4.3h-8.1zM208.6 258.0h4.4v4.3h-4.4zM400.3 258.0h8.1v4.3h-8.1zM343.9 261.8h4.4v4.3h-4.4zM407.8 261.8h4.4v4.3h-4.4zM332.7 265.5h4.4v4.3h-4.4zM265.0 269.2h8.1v4.3h-8.1zM321.4 269.2h4.4v4.3h-4.4zM411.6 269.2h4.4v4.3h-4.4zM197.3 273.0h4.4v4.3h-4.4zM317.6 273.0h4.4v4.3h-4.4zM411.6 273.0h4.4v4.3h-4.4zM317.6 276.7h4.4v4.3h-4.4zM193.6 280.5h4.4v4.3h-4.4zM265.0 280.5h4.4v4.3h-4.4zM321.4 280.5h4.4v4.3h-4.4zM351.5 280.5h8.1v4.3h-8.1zM261.2 284.2h4.4v4.3h-4.4zM227.4 288.0h4.4v4.3h-4.4zM328.9 288.0h4.4v4.3h-4.4zM223.7 291.7h4.4v4.3h-4.4zM328.9 291.7h4.4v4.3h-4.4zM163.5 299.2h19.4v4.3h-19.4zM272.5 299.2h4.4v4.3h-4.4zM396.6 299.2h4.4v4.3h-4.4zM419.1 299.2h4.4v4.3h-4.4zM219.9 303.0h4.4v4.3h-4.4zM265.0 303.0h8.1v4.3h-8.1zM321.4 303.0h4.4v4.3h-4.4zM392.8 303.0h4.4v4.3h-4.4zM216.1 306.7h4.4v4.3h-4.4zM434.1 310.5h4.4v4.3h-4.4zM441.7 310.5h15.6v4.3h-15.6zM392.8 314.2h4.4v4.3h-4.4zM426.6 318.0h4.4v4.3h-4.4zM343.9 321.7h4.4v4.3h-4.4zM392.8 321.7h4.4v4.3h-4.4zM174.8 325.5h8.1v4.3h-8.1zM208.6 325.5h4.4v4.3h-4.4zM257.5 325.5h4.4v4.3h-4.4zM389.0 325.5h4.4v4.3h-4.4zM163.5 329.2h4.4v4.3h-4.4zM189.8 329.2h4.4v4.3h-4.4zM355.2 329.2h4.4v4.3h-4.4zM374.0 329.2h4.4v4.3h-4.4zM193.6 333.0h4.4v4.3h-4.4zM227.4 336.7h4.4v4.3h-4.4zM404.1 336.7h4.4v4.3h-4.4zM404.1 340.5h4.4v4.3h-4.4z"/><path fill="#0036fc" d="M268.8 44.4h4.4v4.3h-4.4zM295.1 44.4h4.4v4.3h-4.4zM370.2 44.4h4.4v4.3h-4.4zM422.9 44.4h4.4v4.3h-4.4zM193.6 48.1h4.4v4.3h-4.4zM370.2 48.1h4.4v4.3h-4.4zM419.1 48.1h11.9v4.3h-11.9zM253.7 51.9h4.4v4.3h-4.4zM374.0 55.6h4.4v4.3h-4.4zM310.1 59.4h4.4v4.3h-4.4zM174.8 63.1h4.4v4.3h-4.4zM178.6 66.9h8.1v4.3h-8.1zM407.8 66.9h4.4v4.3h-4.4zM287.6 74.4h4.4v4.3h-4.4zM422.9 74.4h4.4v4.3h-4.4zM434.1 74.4h4.4v4.3h-4.4zM246.2 78.1h4.4v4.3h-4.4zM385.3 78.1h8.1v4.3h-8.1zM291.3 81.9h4.4v4.3h-4.4zM381.5 81.9h4.4v4.3h-4.4zM389.0 81.9h4.4v4.3h-4.4zM242.5 85.6h4.4v4.3h-4.4zM291.3 85.6h4.4v4.3h-4.4zM415.4 85.6h4.4v4.3h-4.4zM204.9 89.4h4.4v4.3h-4.4zM291.3 89.4h4.4v4.3h-4.4zM366.5 89.4h4.4v4.3h-4.4zM204.9 100.6h4.4v4.3h-4.4zM280.0 100.6h4.4v4.3h-4.4zM291.3 100.6h4.4v4.3h-4.4zM415.4 100.6h4.4v4.3h-4.4zM449.2 108.1h8.1v4.3h-8.1zM171.0 115.6h4.4v4.3h-4.4zM283.8 115.6h4.4v4.3h-4.4zM317.6 115.6h4.4v4.3h-4.4zM434.1 115.6h4.4v4.3h-4.4zM193.6 119.3h4.4v4.3h-4.4zM328.9 119.3h4.4v4.3h-4.4zM396.6 119.3h4.4v4.3h-4.4zM415.4 119.3h8.1v4.3h-8.1zM332.7 123.1h4.4v4.3h-4.4zM400.3 123.1h4.4v4.3h-4.4zM407.8 123.1h4.4v4.3h-4.4zM201.1 126.8h4.4v4.3h-4.4zM246.2 126.8h4.4v4.3h-4.4zM411.6 126.8h8.1v4.3h-8.1zM340.2 130.6h4.4v4.3h-4.4zM392.8 130.6h4.4v4.3h-4.4zM449.2 130.6h8.1v4.3h-8.1zM178.6 134.3h4.4v4.3h-4.4zM389.0 134.3h4.4v4.3h-4.4zM347.7 138.1h4.4v4.3h-4.4zM411.6 141.8h4.4v4.3h-4.4zM430.4 149.3h4.4v4.3h-4.4zM178.6 168.1h4.4v4.3h-4.4zM385.3 168.1h4.4v4.3h-4.4zM174.8 171.8h4.4v4.3h-4.4zM445.4 171.8h4.4v4.3h-4.4zM430.4 175.6h4.4v4.3h-4.4zM374.0 179.3h4.4v4.3h-4.4zM437.9 179.3h4.4v4.3h-4.4zM370.2 183.1h4.4v4.3h-4.4zM370.2 186.8h4.4v4.3h-4.4zM430.4 186.8h4.4v4.3h-4.4zM366.5 190.6h4.4v4.3h-4.4zM389.0 190.6h4.4v4.3h-4.4zM171.0 194.3h4.4v4.3h-4.4zM231.2 198.0h4.4v4.3h-4.4zM174.8 205.5h4.4v4.3h-4.4zM167.3 209.3h8.1v4.3h-8.1zM212.4 209.3h4.4v4.3h-4.4zM246.2 213.0h4.4v4.3h-4.4zM392.8 216.8h4.4v4.3h-4.4zM212.4 220.5h4.4v4.3h-4.4zM396.6 228.0h4.4v4.3h-4.4zM434.1 228.0h8.1v4.3h-8.1zM250.0 231.8h8.1v4.3h-8.1zM377.8 231.8h4.4v4.3h-4.4zM186.1 235.5h4.4v4.3h-4.4zM193.6 235.5h4.4v4.3h-4.4zM216.1 235.5h4.4v4.3h-4.4zM242.5 235.5h4.4v4.3h-4.4zM381.5 235.5h4.4v4.3h-4.4zM219.9 239.3h4.4v4.3h-4.4zM231.2 239.3h4.4v4.3h-4.4zM178.6 243.0h4.4v4.3h-4.4zM174.8 246.8h4.4v4.3h-4.4zM171.0 250.5h4.4v4.3h-4.4zM343.9 250.5h4.4v4.3h-4.4zM437.9 250.5h4.4v4.3h-4.4zM167.3 254.3h4.4v4.3h-4.4zM208.6 254.3h4.4v4.3h-4.4zM280.0 258.0h4.4v4.3h-4.4zM280.0 261.8h4.4v4.3h-4.4zM340.2 261.8h4.4v4.3h-4.4zM396.6 261.8h4.4v4.3h-4.4zM328.9 265.5h4.4v4.3h-4.4zM351.5 265.5h8.1v4.3h-8.1zM242.5 269.2h4.4v4.3h-4.4zM272.5 269.2h4.4v4.3h-4.4zM317.6 269.2h4.4v4.3h-4.4zM347.7 269.2h4.4v4.3h-4.4zM265.0 273.0h4.4v4.3h-4.4zM313.9 273.0h4.4v4.3h-4.4zM347.7 273.0h4.4v4.3h-4.4zM265.0 276.7h4.4v4.3h-4.4zM298.8 276.7h8.1v4.3h-8.1zM313.9 276.7h4.4v4.3h-4.4zM268.8 280.5h4.4v4.3h-4.4zM317.6 280.5h4.4v4.3h-4.4zM392.8 280.5h4.4v4.3h-4.4zM404.1 280.5h4.4v4.3h-4.4zM189.8 284.2h4.4v4.3h-4.4zM186.1 291.7h4.4v4.3h-4.4zM257.5 291.7h4.4v4.3h-4.4zM182.3 295.5h4.4v4.3h-4.4zM223.7 295.5h4.4v4.3h-4.4zM321.4 299.2h4.4v4.3h-4.4zM261.2 303.0h4.4v4.3h-4.4zM272.5 303.0h4.4v4.3h-4.4zM336.4 314.2h4.4v4.3h-4.4zM204.9 318.0h4.4v4.3h-4.4zM298.8 318.0h11.9v4.3h-11.9zM340.2 318.0h4.4v4.3h-4.4zM404.1 318.0h4.4v4.3h-4.4zM298.8 321.7h4.4v4.3h-4.4zM310.1 321.7h4.4v4.3h-4.4zM396.6 321.7h4.4v4.3h-4.4zM426.6 321.7h4.4v4.3h-4.4zM246.2 325.5h4.4v4.3h-4.4zM306.4 325.5h4.4v4.3h-4.4zM392.8 325.5h4.4v4.3h-4.4zM400.3 325.5h4.4v4.3h-4.4zM167.3 329.2h4.4v4.3h-4.4zM186.1 329.2h4.4v4.3h-4.4zM223.7 329.2h4.4v4.3h-4.4zM310.1 329.2h4.4v4.3h-4.4zM377.8 329.2h4.4v4.3h-4.4zM163.5 333.0h4.4v4.3h-4.4zM189.8 333.0h4.4v4.3h-4.4zM272.5 333.0h4.4v4.3h-4.4zM366.5 333.0h4.4v4.3h-4.4zM374.0 333.0h4.4v4.3h-4.4zM156.0 336.7h8.1v4.3h-8.1zM193.6 336.7h4.4v4.3h-4.4zM313.9 336.7h4.4v4.3h-4.4zM449.2 336.7h8.1v4.3h-8.1zM156.0 340.5h4.4v4.3h-4.4zM193.6 340.5h4.4v4.3h-4.4zM313.9 340.5h4.4v4.3h-4.4zM422.9 340.5h4.4v4.3h-4.4zM445.4 340.5h11.9v4.3h-11.9z"/><path fill="#005afc" d="M298.8 44.4h4.4v4.3h-4.4zM411.6 44.4h4.4v4.3h-4.4zM377.8 51.9h4.4v4.3h-4.4zM306.4 55.6h8.1v4.3h-8.1zM407.8 55.6h4.4v4.3h-4.4zM400.3 70.6h4.4v4.3h-4.4zM287.6 78.1h4.4v4.3h-4.4zM257.5 81.9h4.4v4.3h-4.4zM419.1 81.9h4.4v4.3h-4.4zM197.3 85.6h4.4v4.3h-4.4zM257.5 85.6h4.4v4.3h-4.4zM381.5 85.6h4.4v4.3h-4.4zM437.9 85.6h4.4v4.3h-4.4zM437.9 89.4h4.4v4.3h-4.4zM201.1 93.1h4.4v4.3h-4.4zM404.1 104.4h4.4v4.3h-4.4zM291.3 111.9h4.4v4.3h-4.4zM392.8 111.9h4.4v4.3h-4.4zM441.7 115.6h4.4v4.3h-4.4zM276.3 119.3h4.4v4.3h-4.4zM321.4 119.3h4.4v4.3h-4.4zM426.6 119.3h4.4v4.3h-4.4zM407.8 130.6h4.4v4.3h-4.4zM182.3 134.3h4.4v4.3h-4.4zM392.8 134.3h4.4v4.3h-4.4zM415.4 134.3h4.4v4.3h-4.4zM411.6 138.1h4.4v4.3h-4.4zM347.7 145.6h4.4v4.3h-4.4zM434.1 149.3h4.4v4.3h-4.4zM434.1 153.1h4.4v4.3h-4.4zM434.1 156.8h4.4v4.3h-4.4zM434.1 160.6h4.4v4.3h-4.4zM441.7 168.1h4.4v4.3h-4.4zM362.7 186.8h4.4v4.3h-4.4zM377.8 186.8h4.4v4.3h-4.4zM171.0 201.8h4.4v4.3h-4.4zM216.1 201.8h4.4v4.3h-4.4zM167.3 205.5h4.4v4.3h-4.4zM253.7 220.5h4.4v4.3h-4.4zM216.1 224.3h4.4v4.3h-4.4zM392.8 228.0h4.4v4.3h-4.4zM347.7 231.8h4.4v4.3h-4.4zM381.5 231.8h4.4v4.3h-4.4zM234.9 235.5h4.4v4.3h-4.4zM265.0 235.5h4.4v4.3h-4.4zM268.8 243.0h4.4v4.3h-4.4zM426.6 243.0h4.4v4.3h-4.4zM171.0 258.0h4.4v4.3h-4.4zM287.6 261.8h4.4v4.3h-4.4zM332.7 261.8h4.4v4.3h-4.4zM163.5 265.5h4.4v4.3h-4.4zM287.6 265.5h4.4v4.3h-4.4zM313.9 265.5h4.4v4.3h-4.4zM396.6 265.5h4.4v4.3h-4.4zM280.0 269.2h4.4v4.3h-4.4zM291.3 269.2h4.4v4.3h-4.4zM291.3 276.7h4.4v4.3h-4.4zM298.8 284.2h4.4v4.3h-4.4zM306.4 284.2h4.4v4.3h-4.4zM182.3 291.7h4.4v4.3h-4.4zM276.3 295.5h4.4v4.3h-4.4zM276.3 299.2h4.4v4.3h-4.4zM276.3 303.0h4.4v4.3h-4.4zM272.5 306.7h4.4v4.3h-4.4zM219.9 310.5h4.4v4.3h-4.4zM313.9 310.5h4.4v4.3h-4.4zM250.0 314.2h4.4v4.3h-4.4zM445.4 314.2h4.4v4.3h-4.4zM430.4 318.0h4.4v4.3h-4.4zM242.5 321.7h4.4v4.3h-4.4zM317.6 321.7h4.4v4.3h-4.4zM340.2 321.7h4.4v4.3h-4.4zM242.5 325.5h4.4v4.3h-4.4zM317.6 325.5h4.4v4.3h-4.4zM242.5 329.2h4.4v4.3h-4.4zM347.7 329.2h4.4v4.3h-4.4zM381.5 333.0h4.4v4.3h-4.4zM426.6 333.0h4.4v4.3h-4.4zM167.3 336.7h4.4v4.3h-4.4zM231.2 336.7h4.4v4.3h-4.4zM321.4 336.7h4.4v4.3h-4.4zM377.8 336.7h4.4v4.3h-4.4z"/><path fill="#007efc" d="M313.9 44.4h4.4v4.3h-4.4zM385.3 44.4h4.4v4.3h-4.4zM385.3 48.1h4.4v4.3h-4.4zM171.0 51.9h4.4v4.3h-4.4zM178.6 51.9h4.4v4.3h-4.4zM306.4 51.9h4.4v4.3h-4.4zM404.1 51.9h4.4v4.3h-4.4zM449.2 51.9h8.1v4.3h-8.1zM404.1 55.6h4.4v4.3h-4.4zM404.1 59.4h4.4v4.3h-4.4zM385.3 63.1h4.4v4.3h-4.4zM434.1 81.9h4.4v4.3h-4.4zM287.6 85.6h4.4v4.3h-4.4zM250.0 89.4h4.4v4.3h-4.4zM287.6 89.4h4.4v4.3h-4.4zM422.9 93.1h4.4v4.3h-4.4zM174.8 96.9h4.4v4.3h-4.4zM189.8 96.9h4.4v4.3h-4.4zM298.8 108.1h4.4v4.3h-4.4zM400.3 108.1h8.1v4.3h-8.1zM306.4 115.6h4.4v4.3h-4.4zM434.1 119.3h4.4v4.3h-4.4zM325.1 123.1h4.4v4.3h-4.4zM197.3 130.6h4.4v4.3h-4.4zM257.5 130.6h4.4v4.3h-4.4zM437.9 134.3h4.4v4.3h-4.4zM189.8 138.1h4.4v4.3h-4.4zM189.8 145.6h4.4v4.3h-4.4zM441.7 153.1h4.4v4.3h-4.4zM212.4 156.8h8.1v4.3h-8.1zM437.9 156.8h4.4v4.3h-4.4zM204.9 160.6h19.4v4.3h-19.4zM437.9 160.6h4.4v4.3h-4.4zM204.9 168.1h4.4v4.3h-4.4zM389.0 183.1h4.4v4.3h-4.4zM385.3 186.8h4.4v4.3h-4.4zM231.2 190.6h4.4v4.3h-4.4zM163.5 198.0h4.4v4.3h-4.4zM223.7 198.0h4.4v4.3h-4.4zM163.5 201.8h4.4v4.3h-4.4zM223.7 201.8h4.4v4.3h-4.4zM219.9 205.5h8.1v4.3h-8.1zM253.7 205.5h4.4v4.3h-4.4zM219.9 209.3h4.4v4.3h-4.4zM227.4 209.3h4.4v4.3h-4.4zM219.9 213.0h4.4v4.3h-4.4zM234.9 213.0h4.4v4.3h-4.4zM219.9 216.8h4.4v4.3h-4.4zM351.5 216.8h4.4v4.3h-4.4zM242.5 220.5h4.4v4.3h-4.4zM351.5 220.5h4.4v4.3h-4.4zM242.5 224.3h4.4v4.3h-4.4zM219.9 228.0h4.4v4.3h-4.4zM238.7 228.0h4.4v4.3h-4.4zM347.7 228.0h4.4v4.3h-4.4zM268.8 235.5h4.4v4.3h-4.4zM437.9 235.5h4.4v4.3h-4.4zM449.2 235.5h8.1v4.3h-8.1zM272.5 239.3h4.4v4.3h-4.4zM430.4 243.0h4.4v4.3h-4.4zM186.1 246.8h4.4v4.3h-4.4zM283.8 246.8h15.6v4.3h-15.6zM182.3 250.5h4.4v4.3h-4.4zM295.1 250.5h4.4v4.3h-4.4zM178.6 254.3h4.4v4.3h-4.4zM204.9 254.3h4.4v4.3h-4.4zM174.8 261.8h4.4v4.3h-4.4zM201.1 261.8h4.4v4.3h-4.4zM295.1 261.8h4.4v4.3h-4.4zM306.4 261.8h8.1v4.3h-8.1zM317.6 261.8h8.1v4.3h-8.1zM174.8 265.5h4.4v4.3h-4.4zM197.3 265.5h4.4v4.3h-4.4zM174.8 269.2h4.4v4.3h-4.4zM156.0 273.0h8.1v4.3h-8.1zM174.8 273.0h4.4v4.3h-4.4zM193.6 273.0h4.4v4.3h-4.4zM404.1 273.0h4.4v4.3h-4.4zM171.0 276.7h4.4v4.3h-4.4zM253.7 276.7h4.4v4.3h-4.4zM287.6 276.7h4.4v4.3h-4.4zM400.3 276.7h4.4v4.3h-4.4zM253.7 280.5h4.4v4.3h-4.4zM295.1 288.0h4.4v4.3h-4.4zM167.3 291.7h4.4v4.3h-4.4zM174.8 291.7h4.4v4.3h-4.4zM234.9 291.7h4.4v4.3h-4.4zM234.9 299.2h4.4v4.3h-4.4zM234.9 303.0h4.4v4.3h-4.4zM280.0 306.7h4.4v4.3h-4.4zM291.3 306.7h11.9v4.3h-11.9zM407.8 306.7h4.4v4.3h-4.4zM231.2 310.5h4.4v4.3h-4.4zM242.5 310.5h4.4v4.3h-4.4zM265.0 310.5h4.4v4.3h-4.4zM400.3 310.5h8.1v4.3h-8.1zM238.7 314.2h4.4v4.3h-4.4zM261.2 321.7h4.4v4.3h-4.4zM336.4 321.7h4.4v4.3h-4.4zM452.9 321.7h4.4v4.3h-4.4zM287.6 325.5h4.4v4.3h-4.4zM340.2 325.5h4.4v4.3h-4.4zM430.4 325.5h4.4v4.3h-4.4zM343.9 329.2h4.4v4.3h-4.4zM441.7 329.2h4.4v4.3h-4.4zM238.7 333.0h4.4v4.3h-4.4zM351.5 333.0h4.4v4.3h-4.4zM430.4 333.0h4.4v4.3h-4.4zM238.7 336.7h4.4v4.3h-4.4zM430.4 336.7h4.4v4.3h-4.4zM171.0 340.5h4.4v4.3h-4.4zM234.9 340.5h8.1v4.3h-8.1z"/><path fill="#0030fc" d="M321.4 44.4h4.4v4.3h-4.4zM246.2 48.1h4.4v4.3h-4.4zM268.8 48.1h4.4v4.3h-4.4zM295.1 48.1h4.4v4.3h-4.4zM193.6 51.9h4.4v4.3h-4.4zM370.2 51.9h4.4v4.3h-4.4zM419.1 51.9h4.4v4.3h-4.4zM430.4 51.9h4.4v4.3h-4.4zM167.3 55.6h4.4v4.3h-4.4zM298.8 55.6h4.4v4.3h-4.4zM437.9 55.6h4.4v4.3h-4.4zM186.1 59.4h4.4v4.3h-4.4zM306.4 59.4h4.4v4.3h-4.4zM411.6 59.4h4.4v4.3h-4.4zM377.8 63.1h4.4v4.3h-4.4zM381.5 70.6h4.4v4.3h-4.4zM400.3 74.4h4.4v4.3h-4.4zM189.8 78.1h11.9v4.3h-11.9zM291.3 78.1h4.4v4.3h-4.4zM182.3 81.9h4.4v4.3h-4.4zM201.1 81.9h4.4v4.3h-4.4zM415.4 81.9h4.4v4.3h-4.4zM178.6 85.6h4.4v4.3h-4.4zM272.5 89.4h4.4v4.3h-4.4zM415.4 89.4h4.4v4.3h-4.4zM291.3 93.1h4.4v4.3h-4.4zM362.7 93.1h4.4v4.3h-4.4zM392.8 93.1h4.4v4.3h-4.4zM415.4 93.1h4.4v4.3h-4.4zM208.6 96.9h4.4v4.3h-4.4zM250.0 96.9h4.4v4.3h-4.4zM291.3 96.9h4.4v4.3h-4.4zM415.4 96.9h4.4v4.3h-4.4zM167.3 100.6h4.4v4.3h-4.4zM400.3 100.6h4.4v4.3h-4.4zM411.6 100.6h4.4v4.3h-4.4zM434.1 100.6h4.4v4.3h-4.4zM186.1 104.4h4.4v4.3h-4.4zM419.1 104.4h4.4v4.3h-4.4zM171.0 108.1h4.4v4.3h-4.4zM381.5 108.1h4.4v4.3h-4.4zM171.0 111.9h4.4v4.3h-4.4zM287.6 111.9h4.4v4.3h-4.4zM313.9 111.9h4.4v4.3h-4.4zM441.7 111.9h4.4v4.3h-4.4zM186.1 115.6h4.4v4.3h-4.4zM321.4 115.6h4.4v4.3h-4.4zM419.1 115.6h4.4v4.3h-4.4zM257.5 119.3h4.4v4.3h-4.4zM411.6 123.1h8.1v4.3h-8.1zM242.5 126.8h4.4v4.3h-4.4zM336.4 126.8h4.4v4.3h-4.4zM396.6 126.8h4.4v4.3h-4.4zM208.6 130.6h4.4v4.3h-4.4zM182.3 138.1h4.4v4.3h-4.4zM385.3 138.1h4.4v4.3h-4.4zM385.3 141.8h4.4v4.3h-4.4zM419.1 141.8h4.4v4.3h-4.4zM389.0 145.6h4.4v4.3h-4.4zM441.7 145.6h4.4v4.3h-4.4zM355.2 149.3h4.4v4.3h-4.4zM182.3 156.8h4.4v4.3h-4.4zM359.0 156.8h4.4v4.3h-4.4zM182.3 160.6h4.4v4.3h-4.4zM174.8 164.3h11.9v4.3h-11.9zM171.0 168.1h4.4v4.3h-4.4zM381.5 168.1h4.4v4.3h-4.4zM171.0 171.8h4.4v4.3h-4.4zM178.6 171.8h4.4v4.3h-4.4zM377.8 171.8h4.4v4.3h-4.4zM389.0 171.8h4.4v4.3h-4.4zM441.7 175.6h4.4v4.3h-4.4zM366.5 179.3h4.4v4.3h-4.4zM396.6 183.1h4.4v4.3h-4.4zM426.6 183.1h4.4v4.3h-4.4zM426.6 186.8h4.4v4.3h-4.4zM434.1 186.8h4.4v4.3h-4.4zM156.0 190.6h8.1v4.3h-8.1zM201.1 190.6h4.4v4.3h-4.4zM374.0 190.6h4.4v4.3h-4.4zM208.6 194.3h4.4v4.3h-4.4zM234.9 194.3h4.4v4.3h-4.4zM362.7 194.3h4.4v4.3h-4.4zM381.5 194.3h4.4v4.3h-4.4zM178.6 198.0h4.4v4.3h-4.4zM212.4 198.0h4.4v4.3h-4.4zM359.0 198.0h4.4v4.3h-4.4zM178.6 201.8h4.4v4.3h-4.4zM231.2 201.8h4.4v4.3h-4.4zM212.4 205.5h4.4v4.3h-4.4zM163.5 209.3h4.4v4.3h-4.4zM250.0 213.0h4.4v4.3h-4.4zM385.3 213.0h4.4v4.3h-4.4zM381.5 216.8h4.4v4.3h-4.4zM377.8 220.5h4.4v4.3h-4.4zM212.4 224.3h4.4v4.3h-4.4zM430.4 228.0h4.4v4.3h-4.4zM441.7 228.0h11.9v4.3h-11.9zM426.6 231.8h4.4v4.3h-4.4zM257.5 235.5h4.4v4.3h-4.4zM392.8 235.5h4.4v4.3h-4.4zM201.1 239.3h4.4v4.3h-4.4zM234.9 239.3h4.4v4.3h-4.4zM261.2 239.3h4.4v4.3h-4.4zM422.9 239.3h4.4v4.3h-4.4zM204.9 243.0h4.4v4.3h-4.4zM422.9 243.0h4.4v4.3h-4.4zM208.6 246.8h4.4v4.3h-4.4zM272.5 250.5h4.4v4.3h-4.4zM343.9 254.3h4.4v4.3h-4.4zM163.5 258.0h4.4v4.3h-4.4zM343.9 258.0h4.4v4.3h-4.4zM276.3 265.5h4.4v4.3h-4.4zM347.7 265.5h4.4v4.3h-4.4zM261.2 269.2h4.4v4.3h-4.4zM234.9 276.7h4.4v4.3h-4.4zM347.7 276.7h4.4v4.3h-4.4zM325.1 284.2h4.4v4.3h-4.4zM272.5 288.0h4.4v4.3h-4.4zM325.1 295.5h4.4v4.3h-4.4zM419.1 303.0h4.4v4.3h-4.4zM392.8 306.7h4.4v4.3h-4.4zM208.6 310.5h4.4v4.3h-4.4zM321.4 310.5h4.4v4.3h-4.4zM392.8 310.5h4.4v4.3h-4.4zM411.6 310.5h4.4v4.3h-4.4zM437.9 310.5h4.4v4.3h-4.4zM204.9 314.2h4.4v4.3h-4.4zM204.9 321.7h4.4v4.3h-4.4zM250.0 321.7h4.4v4.3h-4.4zM302.6 321.7h8.1v4.3h-8.1zM212.4 325.5h4.4v4.3h-4.4zM310.1 325.5h4.4v4.3h-4.4zM246.2 329.2h4.4v4.3h-4.4zM265.0 329.2h4.4v4.3h-4.4zM156.0 333.0h8.1v4.3h-8.1zM246.2 333.0h4.4v4.3h-4.4zM370.2 333.0h4.4v4.3h-4.4zM246.2 336.7h4.4v4.3h-4.4zM422.9 336.7h4.4v4.3h-4.4zM246.2 340.5h4.4v4.3h-4.4z"/><path fill="#0000ea" d="M328.9 44.4h11.9v4.3h-11.9zM328.9 48.1h11.9v4.3h-11.9zM212.4 51.9h11.9v4.3h-11.9zM238.7 51.9h4.4v4.3h-4.4zM328.9 51.9h11.9v4.3h-11.9zM208.6 55.6h4.4v4.3h-4.4zM250.0 55.6h4.4v4.3h-4.4zM280.0 55.6h8.1v4.3h-8.1zM325.1 55.6h4.4v4.3h-4.4zM336.4 55.6h4.4v4.3h-4.4zM208.6 59.4h4.4v4.3h-4.4zM280.0 59.4h11.9v4.3h-11.9zM321.4 59.4h4.4v4.3h-4.4zM283.8 63.1h11.9v4.3h-11.9zM340.2 63.1h4.4v4.3h-4.4zM362.7 63.1h8.1v4.3h-8.1zM419.1 63.1h11.9v4.3h-11.9zM265.0 66.9h4.4v4.3h-4.4zM310.1 66.9h4.4v4.3h-4.4zM340.2 66.9h4.4v4.3h-4.4zM359.0 66.9h15.6v4.3h-15.6zM419.1 66.9h8.1v4.3h-8.1zM449.2 66.9h8.1v4.3h-8.1zM257.5 70.6h11.9v4.3h-11.9zM298.8 70.6h8.1v4.3h-8.1zM340.2 70.6h4.4v4.3h-4.4zM359.0 70.6h15.6v4.3h-15.6zM445.4 70.6h11.9v4.3h-11.9zM246.2 74.4h4.4v4.3h-4.4zM298.8 74.4h4.4v4.3h-4.4zM359.0 74.4h19.4v4.3h-19.4zM449.2 74.4h8.1v4.3h-8.1zM359.0 78.1h15.6v4.3h-15.6zM449.2 78.1h8.1v4.3h-8.1zM174.8 81.9h4.4v4.3h-4.4zM362.7 81.9h4.4v4.3h-4.4zM400.3 81.9h8.1v4.3h-8.1zM449.2 81.9h8.1v4.3h-8.1zM340.2 85.6h4.4v4.3h-4.4zM400.3 85.6h11.9v4.3h-11.9zM449.2 85.6h8.1v4.3h-8.1zM340.2 89.4h4.4v4.3h-4.4zM400.3 89.4h11.9v4.3h-11.9zM449.2 89.4h8.1v4.3h-8.1zM223.7 93.1h11.9v4.3h-11.9zM310.1 93.1h15.6v4.3h-15.6zM328.9 93.1h8.1v4.3h-8.1zM347.7 93.1h8.1v4.3h-8.1zM404.1 93.1h4.4v4.3h-4.4zM449.2 93.1h8.1v4.3h-8.1zM302.6 96.9h4.4v4.3h-4.4zM343.9 96.9h8.1v4.3h-8.1zM355.2 96.9h4.4v4.3h-4.4zM449.2 96.9h8.1v4.3h-8.1zM216.1 100.6h4.4v4.3h-4.4zM265.0 100.6h4.4v4.3h-4.4zM343.9 100.6h4.4v4.3h-4.4zM212.4 104.4h4.4v4.3h-4.4zM265.0 104.4h11.9v4.3h-11.9zM343.9 104.4h4.4v4.3h-4.4zM156.0 108.1h4.4v4.3h-4.4zM208.6 108.1h4.4v4.3h-4.4zM250.0 108.1h4.4v4.3h-4.4zM268.8 108.1h15.6v4.3h-15.6zM343.9 108.1h4.4v4.3h-4.4zM156.0 111.9h8.1v4.3h-8.1zM250.0 111.9h4.4v4.3h-4.4zM272.5 111.9h8.1v4.3h-8.1zM156.0 115.6h4.4v4.3h-4.4zM204.9 115.6h4.4v4.3h-4.4zM374.0 115.6h4.4v4.3h-4.4zM156.0 119.3h4.4v4.3h-4.4zM204.9 119.3h4.4v4.3h-4.4zM246.2 119.3h4.4v4.3h-4.4zM340.2 119.3h4.4v4.3h-4.4zM370.2 119.3h15.6v4.3h-15.6zM156.0 123.1h4.4v4.3h-4.4zM238.7 123.1h4.4v4.3h-4.4zM355.2 123.1h4.4v4.3h-4.4zM374.0 123.1h15.6v4.3h-15.6zM159.8 126.8h4.4v4.3h-4.4zM208.6 126.8h4.4v4.3h-4.4zM231.2 126.8h4.4v4.3h-4.4zM347.7 126.8h4.4v4.3h-4.4zM377.8 126.8h8.1v4.3h-8.1zM362.7 134.3h4.4v4.3h-4.4zM359.0 138.1h11.9v4.3h-11.9zM449.2 138.1h8.1v4.3h-8.1zM359.0 141.8h11.9v4.3h-11.9zM449.2 141.8h8.1v4.3h-8.1zM178.6 145.6h4.4v4.3h-4.4zM366.5 145.6h4.4v4.3h-4.4zM407.8 145.6h4.4v4.3h-4.4zM419.1 145.6h4.4v4.3h-4.4zM178.6 149.3h4.4v4.3h-4.4zM392.8 149.3h4.4v4.3h-4.4zM370.2 160.6h4.4v4.3h-4.4zM370.2 164.3h4.4v4.3h-4.4zM389.0 164.3h4.4v4.3h-4.4zM156.0 168.1h8.1v4.3h-8.1zM370.2 168.1h4.4v4.3h-4.4zM426.6 168.1h4.4v4.3h-4.4zM156.0 171.8h4.4v4.3h-4.4zM189.8 171.8h4.4v4.3h-4.4zM156.0 175.6h8.1v4.3h-8.1zM186.1 175.6h11.9v4.3h-11.9zM159.8 179.3h8.1v4.3h-8.1zM189.8 179.3h8.1v4.3h-8.1zM156.0 183.1h11.9v4.3h-11.9zM182.3 183.1h11.9v4.3h-11.9zM452.9 183.1h4.4v4.3h-4.4zM182.3 186.8h8.1v4.3h-8.1zM449.2 186.8h8.1v4.3h-8.1zM449.2 190.6h8.1v4.3h-8.1zM201.1 198.0h4.4v4.3h-4.4zM238.7 198.0h11.9v4.3h-11.9zM189.8 201.8h4.4v4.3h-4.4zM238.7 201.8h11.9v4.3h-11.9zM370.2 201.8h4.4v4.3h-4.4zM434.1 201.8h11.9v4.3h-11.9zM242.5 205.5h8.1v4.3h-8.1zM370.2 205.5h8.1v4.3h-8.1zM430.4 205.5h15.6v4.3h-15.6zM370.2 209.3h4.4v4.3h-4.4zM415.4 209.3h4.4v4.3h-4.4zM430.4 209.3h15.6v4.3h-15.6zM178.6 213.0h4.4v4.3h-4.4zM400.3 213.0h4.4v4.3h-4.4zM411.6 213.0h4.4v4.3h-4.4zM156.0 216.8h8.1v4.3h-8.1zM156.0 220.5h11.9v4.3h-11.9zM156.0 224.3h11.9v4.3h-11.9zM174.8 224.3h4.4v4.3h-4.4zM411.6 224.3h4.4v4.3h-4.4zM178.6 228.0h8.1v4.3h-8.1zM204.9 228.0h4.4v4.3h-4.4zM404.1 228.0h4.4v4.3h-4.4zM415.4 228.0h4.4v4.3h-4.4zM355.2 231.8h4.4v4.3h-4.4zM404.1 231.8h15.6v4.3h-15.6zM351.5 235.5h4.4v4.3h-4.4zM374.0 235.5h4.4v4.3h-4.4zM404.1 235.5h15.6v4.3h-15.6zM404.1 239.3h15.6v4.3h-15.6zM156.0 243.0h4.4v4.3h-4.4zM404.1 243.0h15.6v4.3h-15.6zM238.7 246.8h15.6v4.3h-15.6zM385.3 246.8h4.4v4.3h-4.4zM407.8 246.8h11.9v4.3h-11.9zM253.7 250.5h4.4v4.3h-4.4zM389.0 250.5h4.4v4.3h-4.4zM253.7 254.3h8.1v4.3h-8.1zM381.5 254.3h11.9v4.3h-11.9zM437.9 254.3h4.4v4.3h-4.4zM250.0 258.0h15.6v4.3h-15.6zM351.5 258.0h4.4v4.3h-4.4zM366.5 258.0h4.4v4.3h-4.4zM385.3 258.0h4.4v4.3h-4.4zM370.2 261.8h4.4v4.3h-4.4zM238.7 265.5h4.4v4.3h-4.4zM385.3 265.5h4.4v4.3h-4.4zM430.4 265.5h4.4v4.3h-4.4zM430.4 269.2h4.4v4.3h-4.4zM332.7 273.0h8.1v4.3h-8.1zM419.1 273.0h8.1v4.3h-8.1zM231.2 276.7h4.4v4.3h-4.4zM328.9 276.7h15.6v4.3h-15.6zM419.1 276.7h8.1v4.3h-8.1zM332.7 280.5h11.9v4.3h-11.9zM419.1 280.5h8.1v4.3h-8.1zM437.9 280.5h4.4v4.3h-4.4zM385.3 284.2h4.4v4.3h-4.4zM415.4 284.2h11.9v4.3h-11.9zM445.4 284.2h11.9v4.3h-11.9zM193.6 288.0h4.4v4.3h-4.4zM362.7 288.0h4.4v4.3h-4.4zM385.3 288.0h4.4v4.3h-4.4zM411.6 288.0h11.9v4.3h-11.9zM219.9 291.7h4.4v4.3h-4.4zM347.7 291.7h8.1v4.3h-8.1zM430.4 295.5h26.9v4.3h-26.9zM332.7 299.2h8.1v4.3h-8.1zM430.4 299.2h4.4v4.3h-4.4zM445.4 299.2h11.9v4.3h-11.9zM193.6 303.0h4.4v4.3h-4.4zM212.4 303.0h4.4v4.3h-4.4zM328.9 303.0h15.6v4.3h-15.6zM381.5 303.0h4.4v4.3h-4.4zM430.4 303.0h8.1v4.3h-8.1zM441.7 303.0h15.6v4.3h-15.6zM156.0 306.7h30.7v4.3h-30.7zM332.7 306.7h4.4v4.3h-4.4zM355.2 306.7h11.9v4.3h-11.9zM374.0 306.7h4.4v4.3h-4.4zM385.3 306.7h4.4v4.3h-4.4zM156.0 310.5h23.2v4.3h-23.2zM186.1 310.5h8.1v4.3h-8.1zM347.7 310.5h4.4v4.3h-4.4zM370.2 310.5h8.1v4.3h-8.1zM385.3 310.5h4.4v4.3h-4.4zM156.0 314.2h26.9v4.3h-26.9zM189.8 314.2h4.4v4.3h-4.4zM374.0 314.2h4.4v4.3h-4.4zM385.3 314.2h4.4v4.3h-4.4zM422.9 314.2h4.4v4.3h-4.4zM156.0 318.0h26.9v4.3h-26.9zM186.1 318.0h8.1v4.3h-8.1zM370.2 318.0h4.4v4.3h-4.4zM377.8 318.0h11.9v4.3h-11.9zM422.9 321.7h4.4v4.3h-4.4zM407.8 329.2h4.4v4.3h-4.4zM253.7 333.0h8.1v4.3h-8.1zM411.6 333.0h4.4v4.3h-4.4zM208.6 336.7h15.6v4.3h-15.6zM253.7 336.7h15.6v4.3h-15.6zM208.6 340.5h15.6v4.3h-15.6zM253.7 340.5h15.6v4.3h-15.6z"/><path fill="#0018f6" d="M362.7 44.4h4.4v4.3h-4.4zM291.3 51.9h4.4v4.3h-4.4zM257.5 55.6h4.4v4.3h-4.4zM272.5 55.6h4.4v4.3h-4.4zM419.1 55.6h4.4v4.3h-4.4zM426.6 55.6h8.1v4.3h-8.1zM189.8 59.4h4.4v4.3h-4.4zM415.4 59.4h4.4v4.3h-4.4zM437.9 59.4h4.4v4.3h-4.4zM306.4 63.1h4.4v4.3h-4.4zM186.1 70.6h4.4v4.3h-4.4zM276.3 70.6h4.4v4.3h-4.4zM287.6 70.6h4.4v4.3h-4.4zM377.8 70.6h4.4v4.3h-4.4zM426.6 70.6h4.4v4.3h-4.4zM434.1 70.6h4.4v4.3h-4.4zM189.8 74.4h15.6v4.3h-15.6zM347.7 74.4h4.4v4.3h-4.4zM411.6 74.4h4.4v4.3h-4.4zM272.5 78.1h4.4v4.3h-4.4zM347.7 78.1h4.4v4.3h-4.4zM377.8 78.1h4.4v4.3h-4.4zM411.6 78.1h4.4v4.3h-4.4zM441.7 78.1h4.4v4.3h-4.4zM347.7 81.9h4.4v4.3h-4.4zM374.0 81.9h4.4v4.3h-4.4zM411.6 81.9h4.4v4.3h-4.4zM174.8 85.6h4.4v4.3h-4.4zM366.5 85.6h4.4v4.3h-4.4zM171.0 89.4h4.4v4.3h-4.4zM208.6 89.4h4.4v4.3h-4.4zM261.2 89.4h4.4v4.3h-4.4zM167.3 93.1h4.4v4.3h-4.4zM238.7 93.1h4.4v4.3h-4.4zM396.6 93.1h4.4v4.3h-4.4zM257.5 96.9h4.4v4.3h-4.4zM163.5 100.6h4.4v4.3h-4.4zM253.7 100.6h4.4v4.3h-4.4zM310.1 100.6h8.1v4.3h-8.1zM441.7 100.6h4.4v4.3h-4.4zM193.6 104.4h4.4v4.3h-4.4zM426.6 104.4h4.4v4.3h-4.4zM441.7 104.4h8.1v4.3h-8.1zM186.1 108.1h4.4v4.3h-4.4zM374.0 108.1h4.4v4.3h-4.4zM422.9 108.1h4.4v4.3h-4.4zM167.3 111.9h4.4v4.3h-4.4zM186.1 111.9h4.4v4.3h-4.4zM257.5 111.9h8.1v4.3h-8.1zM283.8 111.9h4.4v4.3h-4.4zM422.9 111.9h4.4v4.3h-4.4zM193.6 115.6h4.4v4.3h-4.4zM253.7 115.6h4.4v4.3h-4.4zM328.9 115.6h4.4v4.3h-4.4zM246.2 123.1h4.4v4.3h-4.4zM392.8 123.1h4.4v4.3h-4.4zM204.9 126.8h4.4v4.3h-4.4zM343.9 130.6h4.4v4.3h-4.4zM178.6 138.1h4.4v4.3h-4.4zM377.8 141.8h4.4v4.3h-4.4zM422.9 145.6h4.4v4.3h-4.4zM449.2 145.6h4.4v4.3h-4.4zM359.0 149.3h4.4v4.3h-4.4zM385.3 149.3h4.4v4.3h-4.4zM426.6 149.3h4.4v4.3h-4.4zM362.7 153.1h4.4v4.3h-4.4zM362.7 156.8h4.4v4.3h-4.4zM174.8 160.6h4.4v4.3h-4.4zM381.5 160.6h4.4v4.3h-4.4zM377.8 164.3h4.4v4.3h-4.4zM167.3 168.1h4.4v4.3h-4.4zM389.0 168.1h4.4v4.3h-4.4zM362.7 171.8h4.4v4.3h-4.4zM197.3 175.6h4.4v4.3h-4.4zM370.2 175.6h4.4v4.3h-4.4zM426.6 175.6h4.4v4.3h-4.4zM449.2 175.6h4.4v4.3h-4.4zM422.9 183.1h4.4v4.3h-4.4zM441.7 183.1h4.4v4.3h-4.4zM171.0 190.6h4.4v4.3h-4.4zM193.6 190.6h4.4v4.3h-4.4zM189.8 194.3h15.6v4.3h-15.6zM242.5 194.3h4.4v4.3h-4.4zM370.2 194.3h4.4v4.3h-4.4zM430.4 194.3h4.4v4.3h-4.4zM186.1 198.0h4.4v4.3h-4.4zM208.6 198.0h4.4v4.3h-4.4zM377.8 198.0h4.4v4.3h-4.4zM208.6 209.3h4.4v4.3h-4.4zM385.3 209.3h4.4v4.3h-4.4zM167.3 213.0h4.4v4.3h-4.4zM392.8 213.0h4.4v4.3h-4.4zM374.0 220.5h4.4v4.3h-4.4zM426.6 224.3h4.4v4.3h-4.4zM441.7 224.3h15.6v4.3h-15.6zM374.0 228.0h4.4v4.3h-4.4zM422.9 228.0h4.4v4.3h-4.4zM178.6 235.5h4.4v4.3h-4.4zM201.1 235.5h4.4v4.3h-4.4zM246.2 239.3h4.4v4.3h-4.4zM253.7 239.3h4.4v4.3h-4.4zM171.0 243.0h4.4v4.3h-4.4zM231.2 243.0h8.1v4.3h-8.1zM257.5 243.0h4.4v4.3h-4.4zM261.2 246.8h4.4v4.3h-4.4zM212.4 250.5h4.4v4.3h-4.4zM265.0 250.5h4.4v4.3h-4.4zM156.0 254.3h4.4v4.3h-4.4zM404.1 254.3h4.4v4.3h-4.4zM422.9 254.3h4.4v4.3h-4.4zM407.8 258.0h4.4v4.3h-4.4zM426.6 258.0h8.1v4.3h-8.1zM411.6 261.8h4.4v4.3h-4.4zM261.2 265.5h4.4v4.3h-4.4zM268.8 265.5h4.4v4.3h-4.4zM389.0 265.5h4.4v4.3h-4.4zM343.9 273.0h4.4v4.3h-4.4zM321.4 276.7h4.4v4.3h-4.4zM359.0 276.7h4.4v4.3h-4.4zM325.1 280.5h4.4v4.3h-4.4zM389.0 280.5h4.4v4.3h-4.4zM265.0 284.2h4.4v4.3h-4.4zM392.8 284.2h4.4v4.3h-4.4zM404.1 284.2h4.4v4.3h-4.4zM261.2 288.0h4.4v4.3h-4.4zM332.7 288.0h4.4v4.3h-4.4zM332.7 291.7h4.4v4.3h-4.4zM261.2 295.5h4.4v4.3h-4.4zM328.9 295.5h4.4v4.3h-4.4zM366.5 295.5h11.9v4.3h-11.9zM400.3 295.5h4.4v4.3h-4.4zM419.1 295.5h4.4v4.3h-4.4zM268.8 299.2h4.4v4.3h-4.4zM325.1 299.2h4.4v4.3h-4.4zM370.2 299.2h4.4v4.3h-4.4zM422.9 299.2h4.4v4.3h-4.4zM422.9 303.0h4.4v4.3h-4.4zM422.9 306.7h4.4v4.3h-4.4zM201.1 310.5h4.4v4.3h-4.4zM328.9 310.5h4.4v4.3h-4.4zM426.6 310.5h4.4v4.3h-4.4zM159.8 325.5h8.1v4.3h-8.1zM186.1 325.5h4.4v4.3h-4.4zM197.3 325.5h4.4v4.3h-4.4zM201.1 329.2h8.1v4.3h-8.1zM216.1 329.2h4.4v4.3h-4.4zM250.0 329.2h4.4v4.3h-4.4zM261.2 329.2h4.4v4.3h-4.4zM422.9 329.2h4.4v4.3h-4.4zM272.5 340.5h4.4v4.3h-4.4zM407.8 340.5h4.4v4.3h-4.4zM419.1 340.5h4.4v4.3h-4.4z"/><path fill="#0072fc" d="M381.5 44.4h4.4v4.3h-4.4zM182.3 48.1h4.4v4.3h-4.4zM302.6 48.1h4.4v4.3h-4.4zM381.5 48.1h4.4v4.3h-4.4zM182.3 51.9h4.4v4.3h-4.4zM445.4 51.9h4.4v4.3h-4.4zM174.8 55.6h4.4v4.3h-4.4zM404.1 63.1h4.4v4.3h-4.4zM385.3 66.9h4.4v4.3h-4.4zM389.0 70.6h4.4v4.3h-4.4zM283.8 78.1h4.4v4.3h-4.4zM287.6 81.9h4.4v4.3h-4.4zM189.8 85.6h4.4v4.3h-4.4zM197.3 89.4h4.4v4.3h-4.4zM276.3 89.4h4.4v4.3h-4.4zM374.0 89.4h4.4v4.3h-4.4zM174.8 93.1h4.4v4.3h-4.4zM197.3 93.1h4.4v4.3h-4.4zM370.2 93.1h4.4v4.3h-4.4zM193.6 96.9h4.4v4.3h-4.4zM370.2 96.9h4.4v4.3h-4.4zM182.3 100.6h4.4v4.3h-4.4zM374.0 100.6h4.4v4.3h-4.4zM389.0 100.6h4.4v4.3h-4.4zM295.1 108.1h4.4v4.3h-4.4zM396.6 108.1h4.4v4.3h-4.4zM407.8 108.1h4.4v4.3h-4.4zM306.4 111.9h4.4v4.3h-4.4zM407.8 111.9h4.4v4.3h-4.4zM291.3 115.6h4.4v4.3h-4.4zM449.2 115.6h8.1v4.3h-8.1zM310.1 119.3h4.4v4.3h-4.4zM265.0 123.1h4.4v4.3h-4.4zM174.8 126.8h4.4v4.3h-4.4zM261.2 126.8h4.4v4.3h-4.4zM250.0 130.6h4.4v4.3h-4.4zM441.7 130.6h4.4v4.3h-4.4zM212.4 134.3h4.4v4.3h-4.4zM407.8 138.1h4.4v4.3h-4.4zM400.3 141.8h4.4v4.3h-4.4zM189.8 156.8h4.4v4.3h-4.4zM201.1 160.6h4.4v4.3h-4.4zM437.9 164.3h4.4v4.3h-4.4zM445.4 164.3h4.4v4.3h-4.4zM385.3 175.6h4.4v4.3h-4.4zM381.5 179.3h4.4v4.3h-4.4zM234.9 190.6h4.4v4.3h-4.4zM227.4 194.3h4.4v4.3h-4.4zM167.3 201.8h4.4v4.3h-4.4zM257.5 220.5h4.4v4.3h-4.4zM219.9 231.8h4.4v4.3h-4.4zM265.0 231.8h4.4v4.3h-4.4zM389.0 231.8h4.4v4.3h-4.4zM227.4 235.5h4.4v4.3h-4.4zM434.1 235.5h4.4v4.3h-4.4zM272.5 243.0h4.4v4.3h-4.4zM430.4 246.8h4.4v4.3h-4.4zM204.9 258.0h4.4v4.3h-4.4zM291.3 258.0h4.4v4.3h-4.4zM291.3 261.8h4.4v4.3h-4.4zM171.0 269.2h4.4v4.3h-4.4zM167.3 273.0h8.1v4.3h-8.1zM250.0 273.0h4.4v4.3h-4.4zM280.0 273.0h8.1v4.3h-8.1zM276.3 276.7h4.4v4.3h-4.4zM396.6 276.7h4.4v4.3h-4.4zM291.3 280.5h4.4v4.3h-4.4zM276.3 284.2h4.4v4.3h-4.4zM306.4 288.0h4.4v4.3h-4.4zM313.9 288.0h4.4v4.3h-4.4zM178.6 291.7h4.4v4.3h-4.4zM317.6 291.7h4.4v4.3h-4.4zM253.7 303.0h4.4v4.3h-4.4zM407.8 303.0h4.4v4.3h-4.4zM231.2 306.7h4.4v4.3h-4.4zM227.4 310.5h4.4v4.3h-4.4zM250.0 310.5h11.9v4.3h-11.9zM287.6 310.5h4.4v4.3h-4.4zM242.5 314.2h4.4v4.3h-4.4zM283.8 314.2h4.4v4.3h-4.4zM216.1 318.0h4.4v4.3h-4.4zM283.8 318.0h4.4v4.3h-4.4zM449.2 318.0h4.4v4.3h-4.4zM238.7 321.7h4.4v4.3h-4.4zM321.4 321.7h4.4v4.3h-4.4zM430.4 321.7h4.4v4.3h-4.4zM291.3 325.5h4.4v4.3h-4.4zM321.4 325.5h4.4v4.3h-4.4zM449.2 325.5h8.1v4.3h-8.1zM178.6 333.0h4.4v4.3h-4.4zM389.0 333.0h4.4v4.3h-4.4zM280.0 336.7h4.4v4.3h-4.4zM381.5 336.7h4.4v4.3h-4.4zM437.9 336.7h4.4v4.3h-4.4zM280.0 340.5h4.4v4.3h-4.4zM325.1 340.5h4.4v4.3h-4.4zM396.6 340.5h4.4v4.3h-4.4z"/><path fill="#008afc" d="M389.0 44.4h11.9v4.3h-11.9zM174.8 48.1h4.4v4.3h-4.4zM306.4 48.1h4.4v4.3h-4.4zM389.0 48.1h4.4v4.3h-4.4zM400.3 48.1h4.4v4.3h-4.4zM445.4 48.1h4.4v4.3h-4.4zM280.0 81.9h4.4v4.3h-4.4zM178.6 93.1h4.4v4.3h-4.4zM193.6 93.1h4.4v4.3h-4.4zM283.8 93.1h4.4v4.3h-4.4zM377.8 100.6h8.1v4.3h-8.1zM302.6 111.9h4.4v4.3h-4.4zM306.4 119.3h4.4v4.3h-4.4zM441.7 119.3h15.6v4.3h-15.6zM449.2 123.1h4.4v4.3h-4.4zM178.6 126.8h4.4v4.3h-4.4zM182.3 130.6h4.4v4.3h-4.4zM400.3 134.3h8.1v4.3h-8.1zM422.9 134.3h4.4v4.3h-4.4zM404.1 138.1h4.4v4.3h-4.4zM426.6 138.1h4.4v4.3h-4.4zM204.9 156.8h4.4v4.3h-4.4zM351.5 156.8h4.4v4.3h-4.4zM449.2 156.8h8.1v4.3h-8.1zM223.7 160.6h4.4v4.3h-4.4zM441.7 160.6h15.6v4.3h-15.6zM208.6 164.3h8.1v4.3h-8.1zM219.9 179.3h4.4v4.3h-4.4zM385.3 179.3h4.4v4.3h-4.4zM385.3 183.1h4.4v4.3h-4.4zM223.7 186.8h4.4v4.3h-4.4zM246.2 190.6h4.4v4.3h-4.4zM156.0 198.0h4.4v4.3h-4.4zM156.0 201.8h4.4v4.3h-4.4zM223.7 213.0h4.4v4.3h-4.4zM231.2 213.0h4.4v4.3h-4.4zM385.3 228.0h4.4v4.3h-4.4zM276.3 243.0h4.4v4.3h-4.4zM189.8 246.8h4.4v4.3h-4.4zM298.8 246.8h4.4v4.3h-4.4zM298.8 250.5h4.4v4.3h-4.4zM178.6 258.0h4.4v4.3h-4.4zM332.7 258.0h4.4v4.3h-4.4zM400.3 269.2h4.4v4.3h-4.4zM163.5 276.7h4.4v4.3h-4.4zM242.5 276.7h4.4v4.3h-4.4zM280.0 276.7h8.1v4.3h-8.1zM238.7 280.5h4.4v4.3h-4.4zM182.3 284.2h4.4v4.3h-4.4zM291.3 284.2h4.4v4.3h-4.4zM298.8 291.7h4.4v4.3h-4.4zM306.4 291.7h4.4v4.3h-4.4zM313.9 295.5h4.4v4.3h-4.4zM280.0 299.2h4.4v4.3h-4.4zM238.7 306.7h4.4v4.3h-4.4zM250.0 306.7h4.4v4.3h-4.4zM306.4 306.7h4.4v4.3h-4.4zM227.4 314.2h4.4v4.3h-4.4zM234.9 314.2h4.4v4.3h-4.4zM280.0 314.2h4.4v4.3h-4.4zM234.9 318.0h4.4v4.3h-4.4zM434.1 318.0h4.4v4.3h-4.4zM441.7 318.0h4.4v4.3h-4.4zM223.7 321.7h4.4v4.3h-4.4zM325.1 321.7h4.4v4.3h-4.4zM231.2 325.5h8.1v4.3h-8.1zM280.0 325.5h4.4v4.3h-4.4zM234.9 329.2h4.4v4.3h-4.4zM295.1 329.2h4.4v4.3h-4.4zM325.1 329.2h4.4v4.3h-4.4zM174.8 336.7h4.4v4.3h-4.4zM385.3 336.7h4.4v4.3h-4.4zM182.3 340.5h4.4v4.3h-4.4zM392.8 340.5h4.4v4.3h-4.4z"/><path fill="#0048fc" d="M415.4 44.4h4.4v4.3h-4.4zM189.8 48.1h4.4v4.3h-4.4zM317.6 48.1h4.4v4.3h-4.4zM374.0 48.1h4.4v4.3h-4.4zM434.1 48.1h4.4v4.3h-4.4zM298.8 51.9h4.4v4.3h-4.4zM313.9 55.6h4.4v4.3h-4.4zM445.4 55.6h4.4v4.3h-4.4zM392.8 74.4h4.4v4.3h-4.4zM257.5 78.1h4.4v4.3h-4.4zM189.8 81.9h8.1v4.3h-8.1zM250.0 93.1h4.4v4.3h-4.4zM366.5 93.1h4.4v4.3h-4.4zM419.1 96.9h4.4v4.3h-4.4zM189.8 100.6h4.4v4.3h-4.4zM295.1 104.4h4.4v4.3h-4.4zM302.6 104.4h4.4v4.3h-4.4zM411.6 104.4h4.4v4.3h-4.4zM287.6 115.6h4.4v4.3h-4.4zM313.9 115.6h4.4v4.3h-4.4zM189.8 119.3h4.4v4.3h-4.4zM265.0 119.3h4.4v4.3h-4.4zM404.1 119.3h4.4v4.3h-4.4zM257.5 123.1h4.4v4.3h-4.4zM174.8 130.6h4.4v4.3h-4.4zM227.4 130.6h4.4v4.3h-4.4zM396.6 130.6h4.4v4.3h-4.4zM389.0 138.1h4.4v4.3h-4.4zM415.4 138.1h4.4v4.3h-4.4zM186.1 141.8h4.4v4.3h-4.4zM347.7 141.8h4.4v4.3h-4.4zM389.0 141.8h4.4v4.3h-4.4zM422.9 141.8h4.4v4.3h-4.4zM186.1 145.6h4.4v4.3h-4.4zM437.9 145.6h4.4v4.3h-4.4zM351.5 149.3h4.4v4.3h-4.4zM445.4 149.3h4.4v4.3h-4.4zM355.2 156.8h4.4v4.3h-4.4zM189.8 160.6h4.4v4.3h-4.4zM355.2 160.6h4.4v4.3h-4.4zM445.4 168.1h4.4v4.3h-4.4zM201.1 171.8h4.4v4.3h-4.4zM434.1 175.6h4.4v4.3h-4.4zM201.1 186.8h4.4v4.3h-4.4zM362.7 190.6h4.4v4.3h-4.4zM167.3 194.3h4.4v4.3h-4.4zM242.5 213.0h4.4v4.3h-4.4zM355.2 213.0h4.4v4.3h-4.4zM246.2 216.8h4.4v4.3h-4.4zM355.2 216.8h4.4v4.3h-4.4zM355.2 220.5h4.4v4.3h-4.4zM381.5 220.5h4.4v4.3h-4.4zM351.5 228.0h4.4v4.3h-4.4zM392.8 231.8h4.4v4.3h-4.4zM449.2 231.8h8.1v4.3h-8.1zM389.0 235.5h4.4v4.3h-4.4zM197.3 239.3h4.4v4.3h-4.4zM265.0 239.3h4.4v4.3h-4.4zM201.1 243.0h4.4v4.3h-4.4zM171.0 254.3h4.4v4.3h-4.4zM283.8 258.0h4.4v4.3h-4.4zM283.8 261.8h4.4v4.3h-4.4zM336.4 261.8h4.4v4.3h-4.4zM197.3 269.2h4.4v4.3h-4.4zM246.2 269.2h4.4v4.3h-4.4zM253.7 269.2h4.4v4.3h-4.4zM276.3 269.2h4.4v4.3h-4.4zM298.8 269.2h15.6v4.3h-15.6zM351.5 269.2h8.1v4.3h-8.1zM407.8 269.2h4.4v4.3h-4.4zM407.8 273.0h4.4v4.3h-4.4zM261.2 276.7h4.4v4.3h-4.4zM272.5 280.5h4.4v4.3h-4.4zM310.1 280.5h4.4v4.3h-4.4zM400.3 280.5h4.4v4.3h-4.4zM156.0 295.5h8.1v4.3h-8.1zM178.6 295.5h4.4v4.3h-4.4zM257.5 299.2h4.4v4.3h-4.4zM317.6 303.0h4.4v4.3h-4.4zM415.4 303.0h4.4v4.3h-4.4zM265.0 306.7h4.4v4.3h-4.4zM216.1 310.5h4.4v4.3h-4.4zM306.4 314.2h4.4v4.3h-4.4zM321.4 314.2h4.4v4.3h-4.4zM208.6 318.0h4.4v4.3h-4.4zM250.0 318.0h4.4v4.3h-4.4zM291.3 318.0h4.4v4.3h-4.4zM313.9 318.0h4.4v4.3h-4.4zM261.2 325.5h4.4v4.3h-4.4zM385.3 329.2h4.4v4.3h-4.4zM167.3 333.0h4.4v4.3h-4.4zM317.6 333.0h4.4v4.3h-4.4zM377.8 333.0h4.4v4.3h-4.4zM189.8 336.7h4.4v4.3h-4.4zM400.3 336.7h4.4v4.3h-4.4zM163.5 340.5h4.4v4.3h-4.4zM374.0 340.5h4.4v4.3h-4.4zM400.3 340.5h4.4v4.3h-4.4zM441.7 340.5h4.4v4.3h-4.4z"/><path fill="#006cfc" d="M437.9 44.4h4.4v4.3h-4.4zM163.5 51.9h4.4v4.3h-4.4zM313.9 51.9h4.4v4.3h-4.4zM381.5 51.9h4.4v4.3h-4.4zM396.6 70.6h4.4v4.3h-4.4zM280.0 78.1h4.4v4.3h-4.4zM186.1 85.6h4.4v4.3h-4.4zM193.6 85.6h4.4v4.3h-4.4zM276.3 85.6h4.4v4.3h-4.4zM287.6 93.1h4.4v4.3h-4.4zM280.0 96.9h8.1v4.3h-8.1zM389.0 96.9h4.4v4.3h-4.4zM174.8 100.6h4.4v4.3h-4.4zM396.6 111.9h4.4v4.3h-4.4zM404.1 115.6h4.4v4.3h-4.4zM430.4 119.3h4.4v4.3h-4.4zM193.6 123.1h4.4v4.3h-4.4zM422.9 123.1h4.4v4.3h-4.4zM449.2 126.8h8.1v4.3h-8.1zM178.6 130.6h4.4v4.3h-4.4zM246.2 130.6h4.4v4.3h-4.4zM392.8 138.1h4.4v4.3h-4.4zM422.9 138.1h4.4v4.3h-4.4zM396.6 141.8h4.4v4.3h-4.4zM426.6 141.8h4.4v4.3h-4.4zM434.1 141.8h4.4v4.3h-4.4zM355.2 164.3h4.4v4.3h-4.4zM449.2 164.3h4.4v4.3h-4.4zM204.9 186.8h4.4v4.3h-4.4zM381.5 186.8h4.4v4.3h-4.4zM389.0 186.8h4.4v4.3h-4.4zM216.1 194.3h4.4v4.3h-4.4zM167.3 198.0h4.4v4.3h-4.4zM227.4 205.5h4.4v4.3h-4.4zM242.5 216.8h4.4v4.3h-4.4zM389.0 220.5h4.4v4.3h-4.4zM351.5 224.3h4.4v4.3h-4.4zM242.5 228.0h4.4v4.3h-4.4zM238.7 231.8h4.4v4.3h-4.4zM223.7 235.5h4.4v4.3h-4.4zM231.2 235.5h4.4v4.3h-4.4zM268.8 239.3h4.4v4.3h-4.4zM186.1 243.0h4.4v4.3h-4.4zM201.1 246.8h4.4v4.3h-4.4zM445.4 246.8h4.4v4.3h-4.4zM204.9 250.5h4.4v4.3h-4.4zM287.6 250.5h4.4v4.3h-4.4zM340.2 254.3h4.4v4.3h-4.4zM328.9 261.8h4.4v4.3h-4.4zM171.0 265.5h4.4v4.3h-4.4zM400.3 265.5h4.4v4.3h-4.4zM156.0 269.2h15.6v4.3h-15.6zM287.6 273.0h4.4v4.3h-4.4zM238.7 276.7h4.4v4.3h-4.4zM186.1 284.2h4.4v4.3h-4.4zM234.9 284.2h4.4v4.3h-4.4zM295.1 284.2h4.4v4.3h-4.4zM253.7 288.0h4.4v4.3h-4.4zM276.3 288.0h4.4v4.3h-4.4zM298.8 288.0h8.1v4.3h-8.1zM231.2 295.5h4.4v4.3h-4.4zM231.2 299.2h4.4v4.3h-4.4zM253.7 299.2h4.4v4.3h-4.4zM231.2 303.0h4.4v4.3h-4.4zM276.3 306.7h4.4v4.3h-4.4zM313.9 306.7h4.4v4.3h-4.4zM223.7 310.5h4.4v4.3h-4.4zM306.4 310.5h8.1v4.3h-8.1zM216.1 314.2h4.4v4.3h-4.4zM257.5 318.0h4.4v4.3h-4.4zM325.1 318.0h8.1v4.3h-8.1zM452.9 318.0h4.4v4.3h-4.4zM265.0 325.5h4.4v4.3h-4.4zM276.3 329.2h4.4v4.3h-4.4zM321.4 329.2h4.4v4.3h-4.4zM174.8 333.0h4.4v4.3h-4.4zM385.3 333.0h4.4v4.3h-4.4zM392.8 333.0h4.4v4.3h-4.4zM396.6 336.7h4.4v4.3h-4.4zM186.1 340.5h4.4v4.3h-4.4zM362.7 340.5h4.4v4.3h-4.4zM437.9 340.5h4.4v4.3h-4.4z"/><path fill="#0060fc" d="M186.1 48.1h4.4v4.3h-4.4zM377.8 48.1h4.4v4.3h-4.4zM437.9 48.1h4.4v4.3h-4.4zM156.0 51.9h4.4v4.3h-4.4zM302.6 51.9h4.4v4.3h-4.4zM407.8 51.9h4.4v4.3h-4.4zM381.5 59.4h4.4v4.3h-4.4zM404.1 66.9h4.4v4.3h-4.4zM246.2 81.9h4.4v4.3h-4.4zM178.6 89.4h4.4v4.3h-4.4zM419.1 89.4h4.4v4.3h-4.4zM276.3 93.1h4.4v4.3h-4.4zM197.3 96.9h4.4v4.3h-4.4zM434.1 96.9h4.4v4.3h-4.4zM186.1 100.6h4.4v4.3h-4.4zM381.5 104.4h4.4v4.3h-4.4zM400.3 104.4h4.4v4.3h-4.4zM306.4 108.1h4.4v4.3h-4.4zM411.6 108.1h4.4v4.3h-4.4zM411.6 111.9h4.4v4.3h-4.4zM310.1 115.6h4.4v4.3h-4.4zM407.8 115.6h4.4v4.3h-4.4zM317.6 119.3h4.4v4.3h-4.4zM261.2 123.1h4.4v4.3h-4.4zM328.9 123.1h4.4v4.3h-4.4zM197.3 126.8h4.4v4.3h-4.4zM257.5 126.8h4.4v4.3h-4.4zM201.1 130.6h4.4v4.3h-4.4zM238.7 130.6h4.4v4.3h-4.4zM400.3 130.6h4.4v4.3h-4.4zM343.9 138.1h4.4v4.3h-4.4zM392.8 141.8h4.4v4.3h-4.4zM404.1 141.8h4.4v4.3h-4.4zM434.1 145.6h4.4v4.3h-4.4zM437.9 149.3h4.4v4.3h-4.4zM351.5 153.1h4.4v4.3h-4.4zM201.1 164.3h4.4v4.3h-4.4zM437.9 168.1h4.4v4.3h-4.4zM381.5 175.6h4.4v4.3h-4.4zM377.8 183.1h4.4v4.3h-4.4zM238.7 190.6h4.4v4.3h-4.4zM156.0 194.3h8.1v4.3h-8.1zM216.1 198.0h4.4v4.3h-4.4zM227.4 201.8h4.4v4.3h-4.4zM156.0 205.5h11.9v4.3h-11.9zM216.1 205.5h4.4v4.3h-4.4zM216.1 209.3h4.4v4.3h-4.4zM231.2 209.3h4.4v4.3h-4.4zM238.7 213.0h4.4v4.3h-4.4zM216.1 220.5h4.4v4.3h-4.4zM246.2 220.5h4.4v4.3h-4.4zM246.2 224.3h4.4v4.3h-4.4zM381.5 224.3h4.4v4.3h-4.4zM392.8 224.3h4.4v4.3h-4.4zM430.4 235.5h4.4v4.3h-4.4zM189.8 239.3h8.1v4.3h-8.1zM449.2 246.8h8.1v4.3h-8.1zM287.6 254.3h4.4v4.3h-4.4zM287.6 258.0h4.4v4.3h-4.4zM167.3 265.5h4.4v4.3h-4.4zM310.1 265.5h4.4v4.3h-4.4zM404.1 265.5h4.4v4.3h-4.4zM283.8 269.2h8.1v4.3h-8.1zM242.5 273.0h4.4v4.3h-4.4zM276.3 273.0h4.4v4.3h-4.4zM392.8 273.0h4.4v4.3h-4.4zM189.8 280.5h4.4v4.3h-4.4zM257.5 280.5h4.4v4.3h-4.4zM310.1 284.2h8.1v4.3h-8.1zM276.3 291.7h4.4v4.3h-4.4zM321.4 291.7h4.4v4.3h-4.4zM227.4 306.7h4.4v4.3h-4.4zM411.6 306.7h4.4v4.3h-4.4zM295.1 310.5h8.1v4.3h-8.1zM246.2 314.2h4.4v4.3h-4.4zM287.6 314.2h4.4v4.3h-4.4zM434.1 314.2h4.4v4.3h-4.4zM441.7 314.2h4.4v4.3h-4.4zM212.4 318.0h4.4v4.3h-4.4zM287.6 318.0h4.4v4.3h-4.4zM321.4 318.0h4.4v4.3h-4.4zM223.7 325.5h4.4v4.3h-4.4zM295.1 325.5h4.4v4.3h-4.4zM302.6 329.2h4.4v4.3h-4.4zM171.0 333.0h4.4v4.3h-4.4zM242.5 333.0h4.4v4.3h-4.4zM321.4 333.0h4.4v4.3h-4.4zM396.6 333.0h4.4v4.3h-4.4zM242.5 336.7h4.4v4.3h-4.4zM306.4 336.7h4.4v4.3h-4.4zM362.7 336.7h4.4v4.3h-4.4zM426.6 336.7h4.4v4.3h-4.4zM167.3 340.5h4.4v4.3h-4.4zM242.5 340.5h4.4v4.3h-4.4zM377.8 340.5h4.4v4.3h-4.4zM426.6 340.5h4.4v4.3h-4.4z"/><path fill="#0054fc" d="M298.8 48.1h4.4v4.3h-4.4zM411.6 48.1h4.4v4.3h-4.4zM186.1 51.9h4.4v4.3h-4.4zM171.0 55.6h4.4v4.3h-4.4zM452.9 55.6h4.4v4.3h-4.4zM174.8 59.4h4.4v4.3h-4.4zM182.3 59.4h4.4v4.3h-4.4zM385.3 70.6h4.4v4.3h-4.4zM276.3 81.9h4.4v4.3h-4.4zM182.3 85.6h4.4v4.3h-4.4zM385.3 85.6h4.4v4.3h-4.4zM201.1 89.4h4.4v4.3h-4.4zM370.2 89.4h4.4v4.3h-4.4zM419.1 93.1h4.4v4.3h-4.4zM171.0 96.9h4.4v4.3h-4.4zM201.1 96.9h4.4v4.3h-4.4zM287.6 96.9h4.4v4.3h-4.4zM392.8 100.6h4.4v4.3h-4.4zM178.6 104.4h4.4v4.3h-4.4zM377.8 104.4h4.4v4.3h-4.4zM407.8 104.4h4.4v4.3h-4.4zM389.0 108.1h4.4v4.3h-4.4zM272.5 119.3h4.4v4.3h-4.4zM332.7 126.8h4.4v4.3h-4.4zM419.1 126.8h4.4v4.3h-4.4zM186.1 138.1h4.4v4.3h-4.4zM419.1 138.1h4.4v4.3h-4.4zM437.9 138.1h4.4v4.3h-4.4zM430.4 145.6h4.4v4.3h-4.4zM441.7 149.3h4.4v4.3h-4.4zM186.1 153.1h4.4v4.3h-4.4zM193.6 160.6h4.4v4.3h-4.4zM434.1 164.3h4.4v4.3h-4.4zM434.1 168.1h4.4v4.3h-4.4zM437.9 171.8h4.4v4.3h-4.4zM389.0 175.6h4.4v4.3h-4.4zM201.1 179.3h4.4v4.3h-4.4zM377.8 179.3h4.4v4.3h-4.4zM201.1 183.1h4.4v4.3h-4.4zM362.7 183.1h4.4v4.3h-4.4zM392.8 183.1h4.4v4.3h-4.4zM208.6 190.6h4.4v4.3h-4.4zM242.5 190.6h4.4v4.3h-4.4zM385.3 190.6h4.4v4.3h-4.4zM163.5 194.3h4.4v4.3h-4.4zM171.0 198.0h4.4v4.3h-4.4zM253.7 209.3h4.4v4.3h-4.4zM392.8 220.5h4.4v4.3h-4.4zM242.5 231.8h4.4v4.3h-4.4zM261.2 231.8h4.4v4.3h-4.4zM219.9 235.5h4.4v4.3h-4.4zM186.1 239.3h4.4v4.3h-4.4zM426.6 239.3h4.4v4.3h-4.4zM426.6 246.8h4.4v4.3h-4.4zM280.0 250.5h4.4v4.3h-4.4zM283.8 254.3h4.4v4.3h-4.4zM340.2 258.0h4.4v4.3h-4.4zM167.3 261.8h4.4v4.3h-4.4zM156.0 265.5h8.1v4.3h-8.1zM283.8 265.5h4.4v4.3h-4.4zM317.6 265.5h4.4v4.3h-4.4zM392.8 269.2h4.4v4.3h-4.4zM257.5 273.0h4.4v4.3h-4.4zM291.3 273.0h4.4v4.3h-4.4zM193.6 276.7h4.4v4.3h-4.4zM272.5 276.7h4.4v4.3h-4.4zM392.8 276.7h4.4v4.3h-4.4zM234.9 280.5h4.4v4.3h-4.4zM302.6 284.2h4.4v4.3h-4.4zM186.1 288.0h4.4v4.3h-4.4zM321.4 288.0h4.4v4.3h-4.4zM167.3 295.5h11.9v4.3h-11.9zM227.4 299.2h4.4v4.3h-4.4zM317.6 299.2h4.4v4.3h-4.4zM407.8 299.2h4.4v4.3h-4.4zM227.4 303.0h4.4v4.3h-4.4zM257.5 303.0h4.4v4.3h-4.4zM261.2 306.7h4.4v4.3h-4.4zM396.6 306.7h4.4v4.3h-4.4zM396.6 310.5h4.4v4.3h-4.4zM407.8 310.5h4.4v4.3h-4.4zM212.4 314.2h4.4v4.3h-4.4zM253.7 318.0h4.4v4.3h-4.4zM317.6 318.0h4.4v4.3h-4.4zM336.4 318.0h4.4v4.3h-4.4zM291.3 321.7h4.4v4.3h-4.4zM272.5 329.2h4.4v4.3h-4.4zM389.0 329.2h8.1v4.3h-8.1zM449.2 329.2h8.1v4.3h-8.1zM276.3 333.0h4.4v4.3h-4.4zM306.4 333.0h4.4v4.3h-4.4zM441.7 336.7h4.4v4.3h-4.4zM231.2 340.5h4.4v4.3h-4.4zM321.4 340.5h4.4v4.3h-4.4zM366.5 340.5h4.4v4.3h-4.4z"/><path fill="#0042fc" d="M415.4 48.1h4.4v4.3h-4.4zM374.0 51.9h4.4v4.3h-4.4zM186.1 55.6h4.4v4.3h-4.4zM302.6 55.6h4.4v4.3h-4.4zM182.3 63.1h4.4v4.3h-4.4zM407.8 63.1h4.4v4.3h-4.4zM381.5 66.9h4.4v4.3h-4.4zM280.0 74.4h8.1v4.3h-8.1zM385.3 74.4h4.4v4.3h-4.4zM430.4 74.4h4.4v4.3h-4.4zM276.3 78.1h4.4v4.3h-4.4zM419.1 78.1h4.4v4.3h-4.4zM174.8 89.4h4.4v4.3h-4.4zM276.3 96.9h4.4v4.3h-4.4zM366.5 96.9h4.4v4.3h-4.4zM193.6 100.6h4.4v4.3h-4.4zM396.6 100.6h4.4v4.3h-4.4zM182.3 104.4h4.4v4.3h-4.4zM415.4 108.1h4.4v4.3h-4.4zM415.4 111.9h4.4v4.3h-4.4zM182.3 115.6h4.4v4.3h-4.4zM437.9 115.6h4.4v4.3h-4.4zM171.0 119.3h4.4v4.3h-4.4zM400.3 119.3h4.4v4.3h-4.4zM407.8 119.3h4.4v4.3h-4.4zM422.9 119.3h4.4v4.3h-4.4zM197.3 123.1h4.4v4.3h-4.4zM419.1 123.1h4.4v4.3h-4.4zM171.0 126.8h4.4v4.3h-4.4zM250.0 126.8h4.4v4.3h-4.4zM204.9 130.6h4.4v4.3h-4.4zM219.9 130.6h4.4v4.3h-4.4zM441.7 134.3h4.4v4.3h-4.4zM407.8 141.8h4.4v4.3h-4.4zM437.9 141.8h4.4v4.3h-4.4zM449.2 168.1h4.4v4.3h-4.4zM359.0 171.8h4.4v4.3h-4.4zM381.5 171.8h4.4v4.3h-4.4zM441.7 171.8h4.4v4.3h-4.4zM377.8 175.6h4.4v4.3h-4.4zM437.9 175.6h4.4v4.3h-4.4zM392.8 179.3h4.4v4.3h-4.4zM434.1 179.3h4.4v4.3h-4.4zM366.5 183.1h4.4v4.3h-4.4zM374.0 183.1h4.4v4.3h-4.4zM366.5 186.8h4.4v4.3h-4.4zM204.9 190.6h4.4v4.3h-4.4zM377.8 190.6h4.4v4.3h-4.4zM212.4 194.3h4.4v4.3h-4.4zM250.0 198.0h4.4v4.3h-4.4zM174.8 201.8h4.4v4.3h-4.4zM234.9 209.3h4.4v4.3h-4.4zM355.2 209.3h4.4v4.3h-4.4zM385.3 216.8h8.1v4.3h-8.1zM250.0 228.0h8.1v4.3h-8.1zM377.8 228.0h4.4v4.3h-4.4zM216.1 231.8h4.4v4.3h-4.4zM238.7 235.5h4.4v4.3h-4.4zM426.6 235.5h4.4v4.3h-4.4zM276.3 250.5h4.4v4.3h-4.4zM167.3 258.0h4.4v4.3h-4.4zM163.5 261.8h4.4v4.3h-4.4zM400.3 261.8h4.4v4.3h-4.4zM325.1 265.5h4.4v4.3h-4.4zM272.5 273.0h4.4v4.3h-4.4zM295.1 273.0h4.4v4.3h-4.4zM351.5 276.7h4.4v4.3h-4.4zM306.4 280.5h4.4v4.3h-4.4zM313.9 280.5h4.4v4.3h-4.4zM396.6 280.5h4.4v4.3h-4.4zM321.4 284.2h4.4v4.3h-4.4zM257.5 288.0h4.4v4.3h-4.4zM227.4 291.7h4.4v4.3h-4.4zM325.1 291.7h4.4v4.3h-4.4zM396.6 303.0h4.4v4.3h-4.4zM317.6 310.5h4.4v4.3h-4.4zM208.6 314.2h4.4v4.3h-4.4zM295.1 314.2h11.9v4.3h-11.9zM325.1 314.2h8.1v4.3h-8.1zM396.6 314.2h4.4v4.3h-4.4zM208.6 321.7h4.4v4.3h-4.4zM295.1 321.7h4.4v4.3h-4.4zM313.9 321.7h4.4v4.3h-4.4zM302.6 325.5h4.4v4.3h-4.4zM426.6 325.5h4.4v4.3h-4.4zM171.0 329.2h4.4v4.3h-4.4zM182.3 329.2h4.4v4.3h-4.4zM268.8 329.2h4.4v4.3h-4.4zM306.4 329.2h4.4v4.3h-4.4zM351.5 329.2h4.4v4.3h-4.4zM400.3 333.0h4.4v4.3h-4.4zM163.5 336.7h4.4v4.3h-4.4zM276.3 336.7h4.4v4.3h-4.4zM317.6 336.7h4.4v4.3h-4.4zM374.0 336.7h4.4v4.3h-4.4zM310.1 340.5h4.4v4.3h-4.4zM317.6 340.5h4.4v4.3h-4.4zM370.2 340.5h4.4v4.3h-4.4z"/><path fill="#0000e4" d="M223.7 51.9h15.6v4.3h-15.6zM212.4 55.6h4.4v4.3h-4.4zM328.9 55.6h8.1v4.3h-8.1zM167.3 59.4h4.4v4.3h-4.4zM257.5 59.4h4.4v4.3h-4.4zM336.4 59.4h4.4v4.3h-4.4zM208.6 63.1h4.4v4.3h-4.4zM261.2 63.1h4.4v4.3h-4.4zM261.2 66.9h4.4v4.3h-4.4zM253.7 70.6h4.4v4.3h-4.4zM306.4 70.6h4.4v4.3h-4.4zM174.8 74.4h4.4v4.3h-4.4zM340.2 74.4h4.4v4.3h-4.4zM174.8 78.1h4.4v4.3h-4.4zM298.8 78.1h4.4v4.3h-4.4zM340.2 78.1h4.4v4.3h-4.4zM238.7 81.9h4.4v4.3h-4.4zM298.8 81.9h4.4v4.3h-4.4zM340.2 81.9h4.4v4.3h-4.4zM171.0 85.6h4.4v4.3h-4.4zM167.3 89.4h4.4v4.3h-4.4zM216.1 89.4h4.4v4.3h-4.4zM159.8 93.1h4.4v4.3h-4.4zM298.8 93.1h4.4v4.3h-4.4zM306.4 93.1h4.4v4.3h-4.4zM325.1 93.1h4.4v4.3h-4.4zM223.7 96.9h8.1v4.3h-8.1zM234.9 96.9h4.4v4.3h-4.4zM351.5 96.9h4.4v4.3h-4.4zM359.0 100.6h4.4v4.3h-4.4zM343.9 111.9h4.4v4.3h-4.4zM370.2 111.9h4.4v4.3h-4.4zM343.9 115.6h4.4v4.3h-4.4zM370.2 115.6h4.4v4.3h-4.4zM343.9 119.3h4.4v4.3h-4.4zM366.5 119.3h4.4v4.3h-4.4zM343.9 123.1h11.9v4.3h-11.9zM156.0 126.8h4.4v4.3h-4.4zM163.5 130.6h4.4v4.3h-4.4zM167.3 134.3h4.4v4.3h-4.4zM174.8 141.8h4.4v4.3h-4.4zM411.6 145.6h4.4v4.3h-4.4zM174.8 153.1h4.4v4.3h-4.4zM389.0 153.1h4.4v4.3h-4.4zM426.6 156.8h4.4v4.3h-4.4zM426.6 160.6h4.4v4.3h-4.4zM163.5 164.3h4.4v4.3h-4.4zM426.6 164.3h4.4v4.3h-4.4zM392.8 171.8h4.4v4.3h-4.4zM396.6 175.6h4.4v4.3h-4.4zM156.0 179.3h4.4v4.3h-4.4zM186.1 179.3h4.4v4.3h-4.4zM400.3 179.3h4.4v4.3h-4.4zM404.1 183.1h4.4v4.3h-4.4zM415.4 183.1h4.4v4.3h-4.4zM404.1 186.8h11.9v4.3h-11.9zM396.6 190.6h4.4v4.3h-4.4zM415.4 198.0h4.4v4.3h-4.4zM193.6 201.8h4.4v4.3h-4.4zM204.9 201.8h4.4v4.3h-4.4zM415.4 201.8h4.4v4.3h-4.4zM389.0 205.5h4.4v4.3h-4.4zM415.4 205.5h4.4v4.3h-4.4zM404.1 213.0h8.1v4.3h-8.1zM178.6 216.8h4.4v4.3h-4.4zM204.9 216.8h4.4v4.3h-4.4zM204.9 220.5h4.4v4.3h-4.4zM178.6 224.3h4.4v4.3h-4.4zM204.9 224.3h4.4v4.3h-4.4zM186.1 228.0h8.1v4.3h-8.1zM201.1 228.0h4.4v4.3h-4.4zM362.7 228.0h8.1v4.3h-8.1zM407.8 228.0h8.1v4.3h-8.1zM370.2 231.8h4.4v4.3h-4.4zM347.7 243.0h4.4v4.3h-4.4zM377.8 243.0h4.4v4.3h-4.4zM219.9 246.8h4.4v4.3h-4.4zM231.2 246.8h8.1v4.3h-8.1zM381.5 246.8h4.4v4.3h-4.4zM250.0 250.5h4.4v4.3h-4.4zM347.7 250.5h4.4v4.3h-4.4zM377.8 250.5h11.9v4.3h-11.9zM250.0 254.3h4.4v4.3h-4.4zM370.2 254.3h4.4v4.3h-4.4zM212.4 258.0h4.4v4.3h-4.4zM374.0 261.8h11.9v4.3h-11.9zM234.9 269.2h4.4v4.3h-4.4zM385.3 269.2h4.4v4.3h-4.4zM434.1 273.0h4.4v4.3h-4.4zM437.9 276.7h4.4v4.3h-4.4zM385.3 280.5h4.4v4.3h-4.4zM441.7 280.5h4.4v4.3h-4.4zM366.5 288.0h4.4v4.3h-4.4zM381.5 288.0h4.4v4.3h-4.4zM193.6 299.2h4.4v4.3h-4.4zM434.1 299.2h11.9v4.3h-11.9zM197.3 303.0h4.4v4.3h-4.4zM208.6 303.0h4.4v4.3h-4.4zM437.9 303.0h4.4v4.3h-4.4zM377.8 306.7h8.1v4.3h-8.1zM178.6 310.5h8.1v4.3h-8.1zM366.5 310.5h4.4v4.3h-4.4zM377.8 310.5h8.1v4.3h-8.1zM182.3 314.2h8.1v4.3h-8.1zM370.2 314.2h4.4v4.3h-4.4zM377.8 314.2h8.1v4.3h-8.1zM182.3 318.0h4.4v4.3h-4.4zM422.9 318.0h4.4v4.3h-4.4zM407.8 321.7h4.4v4.3h-4.4zM355.2 325.5h4.4v4.3h-4.4zM362.7 325.5h4.4v4.3h-4.4zM407.8 325.5h4.4v4.3h-4.4zM415.4 333.0h4.4v4.3h-4.4z"/><path fill="#0000d8" d="M216.1 55.6h4.4v4.3h-4.4zM246.2 55.6h4.4v4.3h-4.4zM212.4 59.4h4.4v4.3h-4.4zM253.7 59.4h4.4v4.3h-4.4zM328.9 59.4h4.4v4.3h-4.4zM257.5 66.9h4.4v4.3h-4.4zM336.4 66.9h4.4v4.3h-4.4zM208.6 70.6h4.4v4.3h-4.4zM250.0 70.6h4.4v4.3h-4.4zM310.1 70.6h4.4v4.3h-4.4zM208.6 74.4h4.4v4.3h-4.4zM306.4 74.4h4.4v4.3h-4.4zM208.6 78.1h4.4v4.3h-4.4zM302.6 81.9h4.4v4.3h-4.4zM234.9 85.6h4.4v4.3h-4.4zM302.6 85.6h4.4v4.3h-4.4zM219.9 89.4h4.4v4.3h-4.4zM227.4 89.4h4.4v4.3h-4.4zM302.6 89.4h15.6v4.3h-15.6zM219.9 100.6h4.4v4.3h-4.4zM242.5 100.6h4.4v4.3h-4.4zM351.5 100.6h8.1v4.3h-8.1zM246.2 104.4h4.4v4.3h-4.4zM347.7 104.4h4.4v4.3h-4.4zM347.7 108.1h4.4v4.3h-4.4zM347.7 111.9h4.4v4.3h-4.4zM347.7 115.6h4.4v4.3h-4.4zM366.5 115.6h4.4v4.3h-4.4zM351.5 119.3h8.1v4.3h-8.1zM208.6 123.1h4.4v4.3h-4.4zM234.9 123.1h4.4v4.3h-4.4zM219.9 126.8h4.4v4.3h-4.4zM227.4 126.8h4.4v4.3h-4.4zM156.0 130.6h4.4v4.3h-4.4zM174.8 145.6h4.4v4.3h-4.4zM174.8 149.3h4.4v4.3h-4.4zM422.9 175.6h4.4v4.3h-4.4zM419.1 179.3h4.4v4.3h-4.4zM389.0 201.8h4.4v4.3h-4.4zM186.1 205.5h4.4v4.3h-4.4zM182.3 209.3h4.4v4.3h-4.4zM411.6 209.3h4.4v4.3h-4.4zM359.0 231.8h4.4v4.3h-4.4zM374.0 239.3h4.4v4.3h-4.4zM238.7 250.5h8.1v4.3h-8.1zM355.2 258.0h8.1v4.3h-8.1zM434.1 265.5h4.4v4.3h-4.4zM449.2 280.5h8.1v4.3h-8.1zM374.0 288.0h4.4v4.3h-4.4zM216.1 295.5h4.4v4.3h-4.4zM197.3 299.2h4.4v4.3h-4.4zM212.4 299.2h4.4v4.3h-4.4zM355.2 310.5h8.1v4.3h-8.1zM366.5 314.2h4.4v4.3h-4.4zM419.1 314.2h4.4v4.3h-4.4zM366.5 318.0h4.4v4.3h-4.4zM351.5 321.7h4.4v4.3h-4.4z"/><path fill="#0000cc" d="M219.9 55.6h4.4v4.3h-4.4zM242.5 55.6h4.4v4.3h-4.4zM212.4 63.1h4.4v4.3h-4.4zM253.7 66.9h4.4v4.3h-4.4zM317.6 66.9h4.4v4.3h-4.4zM336.4 70.6h4.4v4.3h-4.4zM310.1 74.4h4.4v4.3h-4.4zM238.7 78.1h4.4v4.3h-4.4zM310.1 85.6h4.4v4.3h-4.4zM336.4 85.6h4.4v4.3h-4.4zM317.6 89.4h4.4v4.3h-4.4zM238.7 100.6h4.4v4.3h-4.4zM216.1 104.4h4.4v4.3h-4.4zM359.0 104.4h4.4v4.3h-4.4zM246.2 108.1h4.4v4.3h-4.4zM351.5 108.1h4.4v4.3h-4.4zM362.7 108.1h4.4v4.3h-4.4zM351.5 111.9h4.4v4.3h-4.4zM355.2 115.6h8.1v4.3h-8.1zM156.0 134.3h8.1v4.3h-8.1zM167.3 138.1h4.4v4.3h-4.4zM392.8 153.1h4.4v4.3h-4.4zM167.3 156.8h4.4v4.3h-4.4zM156.0 160.6h8.1v4.3h-8.1zM404.1 179.3h4.4v4.3h-4.4zM400.3 190.6h4.4v4.3h-4.4zM411.6 194.3h4.4v4.3h-4.4zM201.1 205.5h4.4v4.3h-4.4zM396.6 209.3h4.4v4.3h-4.4zM201.1 224.3h4.4v4.3h-4.4zM370.2 235.5h4.4v4.3h-4.4zM351.5 239.3h4.4v4.3h-4.4zM374.0 243.0h4.4v4.3h-4.4zM374.0 246.8h4.4v4.3h-4.4zM234.9 250.5h4.4v4.3h-4.4zM370.2 250.5h4.4v4.3h-4.4zM238.7 254.3h4.4v4.3h-4.4zM441.7 254.3h4.4v4.3h-4.4zM437.9 258.0h4.4v4.3h-4.4zM231.2 273.0h4.4v4.3h-4.4zM362.7 276.7h4.4v4.3h-4.4zM445.4 276.7h4.4v4.3h-4.4zM366.5 284.2h4.4v4.3h-4.4zM219.9 288.0h4.4v4.3h-4.4zM208.6 299.2h4.4v4.3h-4.4zM362.7 314.2h4.4v4.3h-4.4zM351.5 318.0h4.4v4.3h-4.4zM419.1 318.0h4.4v4.3h-4.4zM411.6 321.7h4.4v4.3h-4.4zM419.1 325.5h4.4v4.3h-4.4z"/><path fill="#0000c6" d="M223.7 55.6h4.4v4.3h-4.4zM238.7 55.6h4.4v4.3h-4.4zM163.5 59.4h4.4v4.3h-4.4zM250.0 59.4h4.4v4.3h-4.4zM253.7 63.1h4.4v4.3h-4.4zM325.1 63.1h8.1v4.3h-8.1zM212.4 66.9h4.4v4.3h-4.4zM332.7 66.9h4.4v4.3h-4.4zM171.0 70.6h4.4v4.3h-4.4zM313.9 70.6h4.4v4.3h-4.4zM242.5 74.4h4.4v4.3h-4.4zM310.1 78.1h4.4v4.3h-4.4zM171.0 81.9h4.4v4.3h-4.4zM212.4 81.9h4.4v4.3h-4.4zM310.1 81.9h4.4v4.3h-4.4zM167.3 85.6h4.4v4.3h-4.4zM216.1 85.6h4.4v4.3h-4.4zM159.8 89.4h4.4v4.3h-4.4zM321.4 89.4h4.4v4.3h-4.4zM328.9 89.4h4.4v4.3h-4.4zM223.7 100.6h4.4v4.3h-4.4zM355.2 104.4h4.4v4.3h-4.4zM212.4 111.9h4.4v4.3h-4.4zM246.2 111.9h4.4v4.3h-4.4zM362.7 111.9h4.4v4.3h-4.4zM212.4 123.1h4.4v4.3h-4.4zM231.2 123.1h4.4v4.3h-4.4zM167.3 141.8h4.4v4.3h-4.4zM171.0 145.6h4.4v4.3h-4.4zM171.0 149.3h4.4v4.3h-4.4zM400.3 149.3h4.4v4.3h-4.4zM163.5 156.8h4.4v4.3h-4.4zM422.9 171.8h4.4v4.3h-4.4zM415.4 179.3h4.4v4.3h-4.4zM404.1 190.6h4.4v4.3h-4.4zM411.6 205.5h4.4v4.3h-4.4zM407.8 209.3h4.4v4.3h-4.4zM355.2 235.5h4.4v4.3h-4.4zM219.9 250.5h4.4v4.3h-4.4zM216.1 254.3h4.4v4.3h-4.4zM362.7 254.3h4.4v4.3h-4.4zM238.7 258.0h4.4v4.3h-4.4zM212.4 261.8h4.4v4.3h-4.4zM208.6 265.5h4.4v4.3h-4.4zM234.9 265.5h4.4v4.3h-4.4zM370.2 265.5h4.4v4.3h-4.4zM377.8 265.5h4.4v4.3h-4.4zM437.9 269.2h4.4v4.3h-4.4zM377.8 284.2h4.4v4.3h-4.4zM201.1 299.2h4.4v4.3h-4.4zM362.7 318.0h4.4v4.3h-4.4zM415.4 318.0h4.4v4.3h-4.4zM355.2 321.7h4.4v4.3h-4.4zM419.1 321.7h4.4v4.3h-4.4z"/><path fill="#0000c0" d="M227.4 55.6h11.9v4.3h-11.9zM216.1 59.4h4.4v4.3h-4.4zM167.3 63.1h4.4v4.3h-4.4zM246.2 70.6h4.4v4.3h-4.4zM336.4 74.4h4.4v4.3h-4.4zM336.4 78.1h4.4v4.3h-4.4zM336.4 81.9h4.4v4.3h-4.4zM231.2 85.6h4.4v4.3h-4.4zM313.9 85.6h4.4v4.3h-4.4zM156.0 89.4h4.4v4.3h-4.4zM325.1 89.4h4.4v4.3h-4.4zM227.4 100.6h4.4v4.3h-4.4zM355.2 108.1h8.1v4.3h-8.1zM355.2 111.9h8.1v4.3h-8.1zM238.7 119.3h4.4v4.3h-4.4zM159.8 138.1h8.1v4.3h-8.1zM419.1 149.3h4.4v4.3h-4.4zM167.3 153.1h4.4v4.3h-4.4zM422.9 153.1h4.4v4.3h-4.4zM159.8 156.8h4.4v4.3h-4.4zM392.8 164.3h4.4v4.3h-4.4zM396.6 171.8h4.4v4.3h-4.4zM400.3 175.6h4.4v4.3h-4.4zM407.8 179.3h4.4v4.3h-4.4zM411.6 198.0h4.4v4.3h-4.4zM189.8 205.5h4.4v4.3h-4.4zM392.8 205.5h4.4v4.3h-4.4zM182.3 213.0h4.4v4.3h-4.4zM182.3 220.5h4.4v4.3h-4.4zM201.1 220.5h4.4v4.3h-4.4zM186.1 224.3h4.4v4.3h-4.4zM197.3 224.3h4.4v4.3h-4.4zM231.2 250.5h4.4v4.3h-4.4zM374.0 265.5h4.4v4.3h-4.4zM204.9 269.2h4.4v4.3h-4.4zM366.5 269.2h4.4v4.3h-4.4zM381.5 269.2h4.4v4.3h-4.4zM449.2 276.7h8.1v4.3h-8.1zM381.5 280.5h4.4v4.3h-4.4zM197.3 284.2h4.4v4.3h-4.4zM216.1 291.7h4.4v4.3h-4.4zM197.3 295.5h4.4v4.3h-4.4zM204.9 299.2h4.4v4.3h-4.4zM355.2 314.2h8.1v4.3h-8.1zM359.0 321.7h4.4v4.3h-4.4zM415.4 325.5h4.4v4.3h-4.4z"/><path fill="#0024fc" d="M265.0 55.6h4.4v4.3h-4.4zM449.2 59.4h4.4v4.3h-4.4zM411.6 63.1h4.4v4.3h-4.4zM377.8 66.9h4.4v4.3h-4.4zM441.7 85.6h4.4v4.3h-4.4zM253.7 119.3h4.4v4.3h-4.4zM167.3 123.1h4.4v4.3h-4.4zM197.3 168.1h4.4v4.3h-4.4zM430.4 168.1h4.4v4.3h-4.4zM396.6 216.8h4.4v4.3h-4.4zM359.0 220.5h4.4v4.3h-4.4zM212.4 228.0h4.4v4.3h-4.4zM426.6 228.0h4.4v4.3h-4.4zM389.0 239.3h4.4v4.3h-4.4zM250.0 265.5h4.4v4.3h-4.4zM321.4 306.7h4.4v4.3h-4.4z"/><path fill="#0000ae" d="M156.0 59.4h4.4v4.3h-4.4zM317.6 70.6h4.4v4.3h-4.4zM313.9 78.1h4.4v4.3h-4.4zM313.9 81.9h4.4v4.3h-4.4zM163.5 85.6h4.4v4.3h-4.4zM219.9 85.6h4.4v4.3h-4.4zM227.4 85.6h4.4v4.3h-4.4zM317.6 85.6h4.4v4.3h-4.4zM219.9 104.4h4.4v4.3h-4.4zM216.1 108.1h4.4v4.3h-4.4zM219.9 123.1h8.1v4.3h-8.1zM422.9 164.3h4.4v4.3h-4.4zM392.8 201.8h4.4v4.3h-4.4zM407.8 205.5h4.4v4.3h-4.4zM359.0 235.5h8.1v4.3h-8.1zM370.2 243.0h4.4v4.3h-4.4zM351.5 246.8h4.4v4.3h-4.4zM366.5 250.5h4.4v4.3h-4.4zM449.2 254.3h4.4v4.3h-4.4zM234.9 258.0h4.4v4.3h-4.4zM441.7 258.0h4.4v4.3h-4.4zM366.5 273.0h4.4v4.3h-4.4zM445.4 273.0h4.4v4.3h-4.4zM381.5 276.7h4.4v4.3h-4.4zM201.1 295.5h4.4v4.3h-4.4z"/><path fill="#0000b4" d="M159.8 59.4h4.4v4.3h-4.4zM246.2 59.4h4.4v4.3h-4.4zM250.0 63.1h4.4v4.3h-4.4zM325.1 66.9h8.1v4.3h-8.1zM332.7 70.6h4.4v4.3h-4.4zM212.4 74.4h4.4v4.3h-4.4zM313.9 74.4h4.4v4.3h-4.4zM242.5 115.6h4.4v4.3h-4.4zM216.1 123.1h4.4v4.3h-4.4zM227.4 123.1h4.4v4.3h-4.4zM404.1 149.3h4.4v4.3h-4.4zM396.6 153.1h4.4v4.3h-4.4zM422.9 156.8h4.4v4.3h-4.4zM392.8 160.6h4.4v4.3h-4.4zM419.1 175.6h4.4v4.3h-4.4zM407.8 194.3h4.4v4.3h-4.4zM392.8 198.0h4.4v4.3h-4.4zM186.1 209.3h4.4v4.3h-4.4zM201.1 213.0h4.4v4.3h-4.4zM201.1 216.8h4.4v4.3h-4.4zM189.8 224.3h8.1v4.3h-8.1zM366.5 235.5h4.4v4.3h-4.4zM370.2 246.8h4.4v4.3h-4.4zM359.0 254.3h4.4v4.3h-4.4zM216.1 258.0h4.4v4.3h-4.4zM234.9 261.8h4.4v4.3h-4.4zM437.9 265.5h4.4v4.3h-4.4zM231.2 269.2h4.4v4.3h-4.4zM381.5 273.0h4.4v4.3h-4.4zM201.1 276.7h4.4v4.3h-4.4zM366.5 280.5h4.4v4.3h-4.4zM219.9 284.2h4.4v4.3h-4.4zM197.3 291.7h4.4v4.3h-4.4z"/><path fill="#0000a8" d="M219.9 59.4h4.4v4.3h-4.4zM242.5 59.4h4.4v4.3h-4.4zM216.1 63.1h4.4v4.3h-4.4zM167.3 66.9h4.4v4.3h-4.4zM238.7 74.4h4.4v4.3h-4.4zM332.7 74.4h4.4v4.3h-4.4zM167.3 81.9h4.4v4.3h-4.4zM332.7 81.9h4.4v4.3h-4.4zM223.7 85.6h4.4v4.3h-4.4zM242.5 108.1h4.4v4.3h-4.4zM234.9 119.3h4.4v4.3h-4.4zM407.8 149.3h11.9v4.3h-11.9zM422.9 160.6h4.4v4.3h-4.4zM396.6 168.1h4.4v4.3h-4.4zM396.6 205.5h4.4v4.3h-4.4zM219.9 254.3h4.4v4.3h-4.4zM452.9 254.3h4.4v4.3h-4.4zM377.8 269.2h4.4v4.3h-4.4zM441.7 269.2h4.4v4.3h-4.4zM208.6 295.5h4.4v4.3h-4.4z"/><path fill="#00009c" d="M223.7 59.4h4.4v4.3h-4.4zM216.1 66.9h4.4v4.3h-4.4zM321.4 70.6h4.4v4.3h-4.4zM328.9 70.6h4.4v4.3h-4.4zM156.0 85.6h4.4v4.3h-4.4zM325.1 85.6h4.4v4.3h-4.4zM216.1 111.9h4.4v4.3h-4.4zM238.7 115.6h4.4v4.3h-4.4zM216.1 119.3h4.4v4.3h-4.4zM396.6 156.8h4.4v4.3h-4.4zM415.4 175.6h4.4v4.3h-4.4zM400.3 194.3h8.1v4.3h-8.1zM407.8 198.0h4.4v4.3h-4.4zM407.8 201.8h4.4v4.3h-4.4zM355.2 239.3h4.4v4.3h-4.4zM366.5 239.3h4.4v4.3h-4.4zM362.7 250.5h4.4v4.3h-4.4zM231.2 265.5h4.4v4.3h-4.4zM370.2 269.2h4.4v4.3h-4.4zM204.9 273.0h4.4v4.3h-4.4zM227.4 273.0h4.4v4.3h-4.4zM452.9 273.0h4.4v4.3h-4.4zM212.4 291.7h4.4v4.3h-4.4z"/><path fill="#000096" d="M227.4 59.4h11.9v4.3h-11.9zM317.6 74.4h4.4v4.3h-4.4zM167.3 78.1h4.4v4.3h-4.4zM231.2 81.9h4.4v4.3h-4.4zM317.6 81.9h4.4v4.3h-4.4zM223.7 104.4h4.4v4.3h-4.4zM216.1 115.6h4.4v4.3h-4.4zM419.1 153.1h4.4v4.3h-4.4zM396.6 164.3h4.4v4.3h-4.4zM419.1 171.8h4.4v4.3h-4.4zM396.6 198.0h4.4v4.3h-4.4zM404.1 205.5h4.4v4.3h-4.4zM189.8 209.3h4.4v4.3h-4.4zM186.1 213.0h4.4v4.3h-4.4zM186.1 216.8h4.4v4.3h-4.4zM366.5 246.8h4.4v4.3h-4.4zM355.2 250.5h4.4v4.3h-4.4zM223.7 254.3h8.1v4.3h-8.1zM231.2 258.0h4.4v4.3h-4.4zM445.4 258.0h4.4v4.3h-4.4zM216.1 261.8h4.4v4.3h-4.4zM208.6 269.2h4.4v4.3h-4.4zM374.0 269.2h4.4v4.3h-4.4zM445.4 269.2h4.4v4.3h-4.4zM377.8 273.0h4.4v4.3h-4.4zM223.7 276.7h4.4v4.3h-4.4zM201.1 280.5h4.4v4.3h-4.4zM370.2 280.5h4.4v4.3h-4.4zM201.1 291.7h4.4v4.3h-4.4z"/><path fill="#0000a2" d="M238.7 59.4h4.4v4.3h-4.4zM246.2 63.1h4.4v4.3h-4.4zM246.2 66.9h4.4v4.3h-4.4zM242.5 70.6h4.4v4.3h-4.4zM234.9 78.1h4.4v4.3h-4.4zM332.7 78.1h4.4v4.3h-4.4zM216.1 81.9h4.4v4.3h-4.4zM159.8 85.6h4.4v4.3h-4.4zM321.4 85.6h4.4v4.3h-4.4zM328.9 85.6h4.4v4.3h-4.4zM238.7 104.4h4.4v4.3h-4.4zM242.5 111.9h4.4v4.3h-4.4zM404.1 175.6h4.4v4.3h-4.4zM197.3 209.3h4.4v4.3h-4.4zM186.1 220.5h4.4v4.3h-4.4zM197.3 220.5h4.4v4.3h-4.4zM231.2 254.3h4.4v4.3h-4.4zM212.4 265.5h4.4v4.3h-4.4zM449.2 273.0h4.4v4.3h-4.4zM366.5 276.7h4.4v4.3h-4.4zM377.8 280.5h4.4v4.3h-4.4zM216.1 288.0h4.4v4.3h-4.4zM204.9 295.5h4.4v4.3h-4.4z"/><path fill="#0000de" d="M325.1 59.4h4.4v4.3h-4.4zM332.7 59.4h4.4v4.3h-4.4zM317.6 63.1h4.4v4.3h-4.4zM336.4 63.1h4.4v4.3h-4.4zM171.0 66.9h4.4v4.3h-4.4zM208.6 66.9h4.4v4.3h-4.4zM313.9 66.9h4.4v4.3h-4.4zM302.6 74.4h4.4v4.3h-4.4zM302.6 78.1h4.4v4.3h-4.4zM208.6 81.9h4.4v4.3h-4.4zM212.4 85.6h4.4v4.3h-4.4zM298.8 85.6h4.4v4.3h-4.4zM231.2 89.4h4.4v4.3h-4.4zM298.8 89.4h4.4v4.3h-4.4zM336.4 89.4h4.4v4.3h-4.4zM156.0 93.1h4.4v4.3h-4.4zM302.6 93.1h4.4v4.3h-4.4zM231.2 96.9h4.4v4.3h-4.4zM347.7 100.6h4.4v4.3h-4.4zM362.7 104.4h4.4v4.3h-4.4zM366.5 108.1h4.4v4.3h-4.4zM208.6 111.9h4.4v4.3h-4.4zM347.7 119.3h4.4v4.3h-4.4zM359.0 119.3h8.1v4.3h-8.1zM212.4 126.8h4.4v4.3h-4.4zM223.7 126.8h4.4v4.3h-4.4zM159.8 130.6h4.4v4.3h-4.4zM171.0 138.1h4.4v4.3h-4.4zM415.4 145.6h4.4v4.3h-4.4zM396.6 149.3h4.4v4.3h-4.4zM422.9 149.3h4.4v4.3h-4.4zM171.0 156.8h4.4v4.3h-4.4zM389.0 156.8h4.4v4.3h-4.4zM167.3 160.6h4.4v4.3h-4.4zM389.0 160.6h4.4v4.3h-4.4zM156.0 164.3h8.1v4.3h-8.1zM407.8 183.1h8.1v4.3h-8.1zM411.6 190.6h4.4v4.3h-4.4zM389.0 198.0h4.4v4.3h-4.4zM197.3 201.8h8.1v4.3h-8.1zM204.9 205.5h4.4v4.3h-4.4zM204.9 209.3h4.4v4.3h-4.4zM392.8 209.3h4.4v4.3h-4.4zM204.9 213.0h4.4v4.3h-4.4zM178.6 220.5h4.4v4.3h-4.4zM193.6 228.0h8.1v4.3h-8.1zM223.7 246.8h8.1v4.3h-8.1zM347.7 246.8h4.4v4.3h-4.4zM377.8 246.8h4.4v4.3h-4.4zM216.1 250.5h4.4v4.3h-4.4zM246.2 250.5h4.4v4.3h-4.4zM374.0 250.5h4.4v4.3h-4.4zM246.2 254.3h4.4v4.3h-4.4zM246.2 258.0h4.4v4.3h-4.4zM362.7 258.0h4.4v4.3h-4.4zM242.5 261.8h4.4v4.3h-4.4zM434.1 261.8h4.4v4.3h-4.4zM366.5 265.5h4.4v4.3h-4.4zM362.7 269.2h4.4v4.3h-4.4zM434.1 269.2h4.4v4.3h-4.4zM385.3 273.0h4.4v4.3h-4.4zM385.3 276.7h4.4v4.3h-4.4zM227.4 280.5h4.4v4.3h-4.4zM445.4 280.5h4.4v4.3h-4.4zM223.7 284.2h4.4v4.3h-4.4zM362.7 284.2h4.4v4.3h-4.4zM370.2 288.0h4.4v4.3h-4.4zM377.8 288.0h4.4v4.3h-4.4zM193.6 291.7h4.4v4.3h-4.4zM193.6 295.5h4.4v4.3h-4.4zM201.1 303.0h8.1v4.3h-8.1zM351.5 310.5h4.4v4.3h-4.4zM362.7 310.5h4.4v4.3h-4.4zM347.7 314.2h4.4v4.3h-4.4zM415.4 314.2h4.4v4.3h-4.4zM347.7 318.0h4.4v4.3h-4.4zM411.6 318.0h4.4v4.3h-4.4zM366.5 321.7h4.4v4.3h-4.4zM359.0 325.5h4.4v4.3h-4.4zM411.6 329.2h4.4v4.3h-4.4zM419.1 329.2h4.4v4.3h-4.4z"/><path fill="#000072" d="M156.0 63.1h4.4v4.3h-4.4zM223.7 63.1h11.9v4.3h-11.9zM156.0 66.9h11.9v4.3h-11.9zM219.9 66.9h19.4v4.3h-19.4zM156.0 70.6h11.9v4.3h-11.9zM219.9 70.6h19.4v4.3h-19.4zM156.0 74.4h11.9v4.3h-11.9zM219.9 74.4h15.6v4.3h-15.6zM156.0 78.1h11.9v4.3h-11.9zM219.9 78.1h11.9v4.3h-11.9zM325.1 78.1h4.4v4.3h-4.4zM156.0 81.9h4.4v4.3h-4.4zM223.7 108.1h15.6v4.3h-15.6zM223.7 111.9h15.6v4.3h-15.6zM223.7 115.6h11.9v4.3h-11.9zM407.8 153.1h8.1v4.3h-8.1zM400.3 156.8h19.4v4.3h-19.4zM400.3 160.6h23.2v4.3h-23.2zM400.3 164.3h19.4v4.3h-19.4zM404.1 168.1h15.6v4.3h-15.6zM404.1 171.8h15.6v4.3h-15.6zM359.0 243.0h4.4v4.3h-4.4zM359.0 246.8h4.4v4.3h-4.4zM219.9 261.8h11.9v4.3h-11.9zM449.2 261.8h8.1v4.3h-8.1zM219.9 265.5h8.1v4.3h-8.1zM449.2 265.5h8.1v4.3h-8.1zM216.1 269.2h11.9v4.3h-11.9zM208.6 273.0h15.6v4.3h-15.6zM208.6 276.7h15.6v4.3h-15.6zM374.0 276.7h4.4v4.3h-4.4zM204.9 280.5h15.6v4.3h-15.6zM204.9 284.2h11.9v4.3h-11.9zM204.9 288.0h8.1v4.3h-8.1z"/><path fill="#00007e" d="M159.8 63.1h4.4v4.3h-4.4zM238.7 66.9h4.4v4.3h-4.4zM234.9 74.4h4.4v4.3h-4.4zM231.2 78.1h4.4v4.3h-4.4zM328.9 78.1h4.4v4.3h-4.4zM223.7 81.9h4.4v4.3h-4.4zM234.9 115.6h4.4v4.3h-4.4zM400.3 198.0h8.1v4.3h-8.1zM404.1 201.8h4.4v4.3h-4.4zM355.2 246.8h4.4v4.3h-4.4zM362.7 246.8h4.4v4.3h-4.4zM223.7 258.0h4.4v4.3h-4.4zM452.9 258.0h4.4v4.3h-4.4zM223.7 273.0h4.4v4.3h-4.4zM374.0 273.0h4.4v4.3h-4.4zM370.2 276.7h4.4v4.3h-4.4zM204.9 291.7h4.4v4.3h-4.4z"/><path fill="#000090" d="M163.5 63.1h4.4v4.3h-4.4zM242.5 63.1h4.4v4.3h-4.4zM242.5 66.9h4.4v4.3h-4.4zM167.3 70.6h4.4v4.3h-4.4zM325.1 70.6h4.4v4.3h-4.4zM216.1 78.1h4.4v4.3h-4.4zM317.6 78.1h4.4v4.3h-4.4zM227.4 104.4h4.4v4.3h-4.4zM234.9 104.4h4.4v4.3h-4.4zM231.2 119.3h4.4v4.3h-4.4zM400.3 153.1h4.4v4.3h-4.4zM396.6 160.6h4.4v4.3h-4.4zM400.3 171.8h4.4v4.3h-4.4zM407.8 175.6h8.1v4.3h-8.1zM396.6 201.8h4.4v4.3h-4.4zM400.3 205.5h4.4v4.3h-4.4zM193.6 209.3h4.4v4.3h-4.4zM197.3 213.0h4.4v4.3h-4.4zM197.3 216.8h4.4v4.3h-4.4zM189.8 220.5h8.1v4.3h-8.1zM366.5 243.0h4.4v4.3h-4.4zM219.9 258.0h4.4v4.3h-4.4zM231.2 261.8h4.4v4.3h-4.4zM441.7 261.8h4.4v4.3h-4.4zM441.7 265.5h4.4v4.3h-4.4zM377.8 276.7h4.4v4.3h-4.4zM219.9 280.5h4.4v4.3h-4.4zM374.0 280.5h4.4v4.3h-4.4z"/><path fill="#00008a" d="M219.9 63.1h4.4v4.3h-4.4zM216.1 70.6h4.4v4.3h-4.4zM238.7 70.6h4.4v4.3h-4.4zM167.3 74.4h4.4v4.3h-4.4zM216.1 74.4h4.4v4.3h-4.4zM163.5 81.9h4.4v4.3h-4.4zM219.9 81.9h4.4v4.3h-4.4zM231.2 104.4h4.4v4.3h-4.4zM219.9 108.1h4.4v4.3h-4.4zM238.7 108.1h4.4v4.3h-4.4zM238.7 111.9h4.4v4.3h-4.4zM219.9 119.3h4.4v4.3h-4.4zM362.7 239.3h4.4v4.3h-4.4zM359.0 250.5h4.4v4.3h-4.4zM227.4 269.2h4.4v4.3h-4.4zM201.1 284.2h4.4v4.3h-4.4zM216.1 284.2h4.4v4.3h-4.4zM201.1 288.0h4.4v4.3h-4.4z"/><path fill="#000078" d="M234.9 63.1h4.4v4.3h-4.4zM325.1 74.4h4.4v4.3h-4.4zM321.4 78.1h4.4v4.3h-4.4zM159.8 81.9h4.4v4.3h-4.4zM325.1 81.9h4.4v4.3h-4.4zM219.9 111.9h4.4v4.3h-4.4zM219.9 115.6h4.4v4.3h-4.4zM404.1 153.1h4.4v4.3h-4.4zM415.4 153.1h4.4v4.3h-4.4zM419.1 164.3h4.4v4.3h-4.4zM400.3 168.1h4.4v4.3h-4.4zM400.3 201.8h4.4v4.3h-4.4zM189.8 213.0h8.1v4.3h-8.1zM189.8 216.8h8.1v4.3h-8.1zM362.7 243.0h4.4v4.3h-4.4zM445.4 261.8h4.4v4.3h-4.4zM216.1 265.5h4.4v4.3h-4.4zM227.4 265.5h4.4v4.3h-4.4zM445.4 265.5h4.4v4.3h-4.4zM212.4 269.2h4.4v4.3h-4.4zM204.9 276.7h4.4v4.3h-4.4zM212.4 288.0h4.4v4.3h-4.4z"/><path fill="#000084" d="M238.7 63.1h4.4v4.3h-4.4zM321.4 74.4h4.4v4.3h-4.4zM328.9 74.4h4.4v4.3h-4.4zM227.4 81.9h4.4v4.3h-4.4zM321.4 81.9h4.4v4.3h-4.4zM328.9 81.9h4.4v4.3h-4.4zM223.7 119.3h8.1v4.3h-8.1zM419.1 156.8h4.4v4.3h-4.4zM419.1 168.1h4.4v4.3h-4.4zM359.0 239.3h4.4v4.3h-4.4zM355.2 243.0h4.4v4.3h-4.4zM227.4 258.0h4.4v4.3h-4.4zM449.2 258.0h4.4v4.3h-4.4zM449.2 269.2h8.1v4.3h-8.1zM370.2 273.0h4.4v4.3h-4.4zM208.6 291.7h4.4v4.3h-4.4z"/><path fill="#0000d2" d="M257.5 63.1h4.4v4.3h-4.4zM321.4 63.1h4.4v4.3h-4.4zM332.7 63.1h4.4v4.3h-4.4zM306.4 78.1h4.4v4.3h-4.4zM306.4 81.9h4.4v4.3h-4.4zM306.4 85.6h4.4v4.3h-4.4zM163.5 89.4h4.4v4.3h-4.4zM223.7 89.4h4.4v4.3h-4.4zM332.7 89.4h4.4v4.3h-4.4zM351.5 104.4h4.4v4.3h-4.4zM212.4 108.1h4.4v4.3h-4.4zM366.5 111.9h4.4v4.3h-4.4zM208.6 115.6h4.4v4.3h-4.4zM246.2 115.6h4.4v4.3h-4.4zM351.5 115.6h4.4v4.3h-4.4zM362.7 115.6h4.4v4.3h-4.4zM208.6 119.3h4.4v4.3h-4.4zM242.5 119.3h4.4v4.3h-4.4zM216.1 126.8h4.4v4.3h-4.4zM163.5 134.3h4.4v4.3h-4.4zM171.0 141.8h4.4v4.3h-4.4zM171.0 153.1h4.4v4.3h-4.4zM163.5 160.6h4.4v4.3h-4.4zM392.8 168.1h4.4v4.3h-4.4zM407.8 190.6h4.4v4.3h-4.4zM392.8 194.3h4.4v4.3h-4.4zM182.3 224.3h4.4v4.3h-4.4zM362.7 231.8h8.1v4.3h-8.1zM242.5 254.3h4.4v4.3h-4.4zM351.5 254.3h4.4v4.3h-4.4zM366.5 254.3h4.4v4.3h-4.4zM242.5 258.0h4.4v4.3h-4.4zM238.7 261.8h4.4v4.3h-4.4zM381.5 265.5h4.4v4.3h-4.4zM201.1 273.0h4.4v4.3h-4.4zM362.7 273.0h4.4v4.3h-4.4zM437.9 273.0h4.4v4.3h-4.4zM441.7 276.7h4.4v4.3h-4.4zM197.3 280.5h4.4v4.3h-4.4zM362.7 280.5h4.4v4.3h-4.4zM381.5 284.2h4.4v4.3h-4.4zM351.5 314.2h4.4v4.3h-4.4zM362.7 321.7h4.4v4.3h-4.4zM411.6 325.5h4.4v4.3h-4.4zM415.4 329.2h4.4v4.3h-4.4z"/><path fill="#0000ba" d="M250.0 66.9h4.4v4.3h-4.4zM321.4 66.9h4.4v4.3h-4.4zM212.4 70.6h4.4v4.3h-4.4zM171.0 74.4h4.4v4.3h-4.4zM171.0 78.1h4.4v4.3h-4.4zM212.4 78.1h4.4v4.3h-4.4zM234.9 81.9h4.4v4.3h-4.4zM332.7 85.6h4.4v4.3h-4.4zM231.2 100.6h8.1v4.3h-8.1zM242.5 104.4h4.4v4.3h-4.4zM212.4 115.6h4.4v4.3h-4.4zM212.4 119.3h4.4v4.3h-4.4zM156.0 138.1h4.4v4.3h-4.4zM156.0 141.8h11.9v4.3h-11.9zM156.0 145.6h15.6v4.3h-15.6zM156.0 149.3h15.6v4.3h-15.6zM156.0 153.1h11.9v4.3h-11.9zM156.0 156.8h4.4v4.3h-4.4zM392.8 156.8h4.4v4.3h-4.4zM422.9 168.1h4.4v4.3h-4.4zM411.6 179.3h4.4v4.3h-4.4zM396.6 194.3h4.4v4.3h-4.4zM411.6 201.8h4.4v4.3h-4.4zM193.6 205.5h8.1v4.3h-8.1zM201.1 209.3h4.4v4.3h-4.4zM400.3 209.3h8.1v4.3h-8.1zM182.3 216.8h4.4v4.3h-4.4zM370.2 239.3h4.4v4.3h-4.4zM351.5 243.0h4.4v4.3h-4.4zM223.7 250.5h8.1v4.3h-8.1zM351.5 250.5h4.4v4.3h-4.4zM234.9 254.3h4.4v4.3h-4.4zM355.2 254.3h4.4v4.3h-4.4zM445.4 254.3h4.4v4.3h-4.4zM437.9 261.8h4.4v4.3h-4.4zM441.7 273.0h4.4v4.3h-4.4zM227.4 276.7h4.4v4.3h-4.4zM223.7 280.5h4.4v4.3h-4.4zM370.2 284.2h8.1v4.3h-8.1zM197.3 288.0h4.4v4.3h-4.4zM212.4 295.5h4.4v4.3h-4.4zM355.2 318.0h8.1v4.3h-8.1zM415.4 321.7h4.4v4.3h-4.4z"/><path fill="#0096fc" d="M298.8 111.9h4.4v4.3h-4.4zM186.1 123.1h4.4v4.3h-4.4zM272.5 123.1h4.4v4.3h-4.4zM445.4 123.1h4.4v4.3h-4.4zM193.6 130.6h4.4v4.3h-4.4zM265.0 130.6h4.4v4.3h-4.4zM422.9 130.6h4.4v4.3h-4.4zM193.6 134.3h4.4v4.3h-4.4zM340.2 134.3h4.4v4.3h-4.4zM193.6 138.1h4.4v4.3h-4.4zM193.6 141.8h4.4v4.3h-4.4zM208.6 153.1h4.4v4.3h-4.4zM219.9 153.1h4.4v4.3h-4.4zM223.7 156.8h4.4v4.3h-4.4zM216.1 168.1h4.4v4.3h-4.4zM223.7 168.1h4.4v4.3h-4.4zM223.7 179.3h4.4v4.3h-4.4zM257.5 216.8h4.4v4.3h-4.4zM238.7 224.3h4.4v4.3h-4.4zM272.5 235.5h4.4v4.3h-4.4zM280.0 243.0h4.4v4.3h-4.4zM287.6 243.0h4.4v4.3h-4.4zM336.4 254.3h4.4v4.3h-4.4zM302.6 258.0h11.9v4.3h-11.9zM178.6 280.5h4.4v4.3h-4.4zM287.6 280.5h4.4v4.3h-4.4zM167.3 284.2h4.4v4.3h-4.4zM178.6 284.2h4.4v4.3h-4.4zM171.0 288.0h8.1v4.3h-8.1zM250.0 291.7h4.4v4.3h-4.4zM295.1 291.7h4.4v4.3h-4.4zM242.5 295.5h4.4v4.3h-4.4zM250.0 295.5h4.4v4.3h-4.4zM310.1 295.5h4.4v4.3h-4.4zM238.7 299.2h4.4v4.3h-4.4zM250.0 299.2h4.4v4.3h-4.4zM310.1 299.2h4.4v4.3h-4.4zM295.1 303.0h8.1v4.3h-8.1zM310.1 303.0h4.4v4.3h-4.4zM261.2 318.0h4.4v4.3h-4.4zM328.9 321.7h4.4v4.3h-4.4zM325.1 325.5h4.4v4.3h-4.4zM287.6 329.2h8.1v4.3h-8.1zM298.8 333.0h4.4v4.3h-4.4zM328.9 336.7h4.4v4.3h-4.4zM302.6 340.5h4.4v4.3h-4.4zM359.0 340.5h4.4v4.3h-4.4z"/><path fill="#009cfc" d="M298.8 115.6h4.4v4.3h-4.4zM426.6 123.1h4.4v4.3h-4.4zM189.8 126.8h4.4v4.3h-4.4zM328.9 126.8h4.4v4.3h-4.4zM186.1 130.6h4.4v4.3h-4.4zM336.4 130.6h4.4v4.3h-4.4zM197.3 134.3h4.4v4.3h-4.4zM238.7 134.3h4.4v4.3h-4.4zM430.4 138.1h4.4v4.3h-4.4zM343.9 141.8h4.4v4.3h-4.4zM193.6 145.6h4.4v4.3h-4.4zM193.6 153.1h4.4v4.3h-4.4zM208.6 168.1h8.1v4.3h-8.1zM216.1 171.8h4.4v4.3h-4.4zM223.7 171.8h4.4v4.3h-4.4zM223.7 175.6h4.4v4.3h-4.4zM216.1 179.3h4.4v4.3h-4.4zM208.6 183.1h8.1v4.3h-8.1zM227.4 186.8h4.4v4.3h-4.4zM351.5 209.3h4.4v4.3h-4.4zM238.7 220.5h4.4v4.3h-4.4zM347.7 224.3h4.4v4.3h-4.4zM276.3 239.3h4.4v4.3h-4.4zM283.8 243.0h4.4v4.3h-4.4zM298.8 243.0h4.4v4.3h-4.4zM302.6 246.8h4.4v4.3h-4.4zM302.6 250.5h4.4v4.3h-4.4zM302.6 254.3h4.4v4.3h-4.4zM182.3 258.0h4.4v4.3h-4.4zM313.9 258.0h4.4v4.3h-4.4zM328.9 258.0h4.4v4.3h-4.4zM193.6 269.2h4.4v4.3h-4.4zM182.3 280.5h4.4v4.3h-4.4zM171.0 284.2h8.1v4.3h-8.1zM246.2 295.5h4.4v4.3h-4.4zM280.0 295.5h4.4v4.3h-4.4zM298.8 295.5h8.1v4.3h-8.1zM242.5 299.2h4.4v4.3h-4.4zM242.5 303.0h4.4v4.3h-4.4zM283.8 303.0h4.4v4.3h-4.4zM291.3 303.0h4.4v4.3h-4.4zM283.8 333.0h4.4v4.3h-4.4z"/><path fill="#00bafc" d="M283.8 119.3h4.4v4.3h-4.4zM317.6 123.1h4.4v4.3h-4.4zM430.4 123.1h4.4v4.3h-4.4zM272.5 126.8h4.4v4.3h-4.4zM216.1 134.3h8.1v4.3h-8.1zM231.2 134.3h8.1v4.3h-8.1zM426.6 134.3h4.4v4.3h-4.4zM434.1 134.3h4.4v4.3h-4.4zM197.3 141.8h4.4v4.3h-4.4zM197.3 149.3h4.4v4.3h-4.4zM227.4 153.1h4.4v4.3h-4.4zM231.2 160.6h4.4v4.3h-4.4zM231.2 164.3h4.4v4.3h-4.4zM359.0 179.3h4.4v4.3h-4.4zM231.2 186.8h4.4v4.3h-4.4zM238.7 186.8h8.1v4.3h-8.1zM261.2 224.3h4.4v4.3h-4.4zM265.0 228.0h4.4v4.3h-4.4zM283.8 239.3h4.4v4.3h-4.4zM340.2 243.0h4.4v4.3h-4.4zM306.4 246.8h4.4v4.3h-4.4zM336.4 250.5h4.4v4.3h-4.4zM193.6 254.3h8.1v4.3h-8.1zM317.6 254.3h15.6v4.3h-15.6zM189.8 258.0h4.4v4.3h-4.4zM186.1 261.8h4.4v4.3h-4.4zM193.6 265.5h4.4v4.3h-4.4zM291.3 291.7h4.4v4.3h-4.4zM291.3 295.5h4.4v4.3h-4.4zM268.8 314.2h4.4v4.3h-4.4zM265.0 318.0h4.4v4.3h-4.4zM291.3 333.0h4.4v4.3h-4.4zM336.4 333.0h8.1v4.3h-8.1zM336.4 336.7h4.4v4.3h-4.4zM351.5 336.7h4.4v4.3h-4.4zM336.4 340.5h4.4v4.3h-4.4zM355.2 340.5h4.4v4.3h-4.4z"/><path fill="#00ccfc" d="M287.6 119.3h4.4v4.3h-4.4zM223.7 138.1h15.6v4.3h-15.6zM242.5 138.1h11.9v4.3h-11.9zM257.5 138.1h4.4v4.3h-4.4zM201.1 141.8h4.4v4.3h-4.4zM201.1 145.6h4.4v4.3h-4.4zM227.4 149.3h4.4v4.3h-4.4zM234.9 156.8h4.4v4.3h-4.4zM234.9 164.3h4.4v4.3h-4.4zM234.9 168.1h4.4v4.3h-4.4zM231.2 183.1h4.4v4.3h-4.4zM359.0 186.8h4.4v4.3h-4.4zM261.2 220.5h4.4v4.3h-4.4zM343.9 224.3h4.4v4.3h-4.4zM276.3 228.0h8.1v4.3h-8.1zM280.0 231.8h4.4v4.3h-4.4zM295.1 231.8h4.4v4.3h-4.4zM283.8 235.5h8.1v4.3h-8.1zM340.2 235.5h4.4v4.3h-4.4zM321.4 246.8h8.1v4.3h-8.1zM336.4 246.8h4.4v4.3h-4.4zM328.9 250.5h4.4v4.3h-4.4z"/><path fill="#00defc" d="M291.3 119.3h8.1v4.3h-8.1zM310.1 123.1h4.4v4.3h-4.4zM272.5 130.6h4.4v4.3h-4.4zM261.2 138.1h4.4v4.3h-4.4zM340.2 138.1h4.4v4.3h-4.4zM253.7 141.8h8.1v4.3h-8.1zM238.7 145.6h11.9v4.3h-11.9zM343.9 145.6h4.4v4.3h-4.4zM238.7 149.3h4.4v4.3h-4.4zM238.7 153.1h4.4v4.3h-4.4zM238.7 156.8h4.4v4.3h-4.4zM238.7 160.6h4.4v4.3h-4.4zM238.7 164.3h4.4v4.3h-4.4zM238.7 168.1h4.4v4.3h-4.4zM355.2 171.8h4.4v4.3h-4.4zM238.7 179.3h4.4v4.3h-4.4zM246.2 186.8h4.4v4.3h-4.4zM250.0 190.6h4.4v4.3h-4.4zM257.5 205.5h4.4v4.3h-4.4zM261.2 216.8h4.4v4.3h-4.4zM343.9 220.5h4.4v4.3h-4.4zM268.8 224.3h4.4v4.3h-4.4zM280.0 224.3h8.1v4.3h-8.1zM298.8 231.8h4.4v4.3h-4.4zM336.4 231.8h4.4v4.3h-4.4zM306.4 239.3h4.4v4.3h-4.4zM310.1 243.0h19.4v4.3h-19.4z"/><path fill="#00d2fc" d="M298.8 119.3h4.4v4.3h-4.4zM280.0 123.1h4.4v4.3h-4.4zM313.9 123.1h4.4v4.3h-4.4zM276.3 126.8h4.4v4.3h-4.4zM430.4 126.8h4.4v4.3h-4.4zM434.1 130.6h4.4v4.3h-4.4zM265.0 134.3h4.4v4.3h-4.4zM204.9 141.8h4.4v4.3h-4.4zM204.9 145.6h4.4v4.3h-4.4zM234.9 153.1h4.4v4.3h-4.4zM234.9 171.8h4.4v4.3h-4.4zM231.2 175.6h4.4v4.3h-4.4zM231.2 179.3h4.4v4.3h-4.4zM359.0 183.1h4.4v4.3h-4.4zM253.7 198.0h4.4v4.3h-4.4zM283.8 228.0h15.6v4.3h-15.6zM283.8 231.8h11.9v4.3h-11.9zM306.4 243.0h4.4v4.3h-4.4zM310.1 246.8h11.9v4.3h-11.9zM328.9 246.8h4.4v4.3h-4.4z"/><path fill="#00c0fc" d="M302.6 119.3h4.4v4.3h-4.4zM437.9 123.1h4.4v4.3h-4.4zM426.6 126.8h4.4v4.3h-4.4zM268.8 130.6h4.4v4.3h-4.4zM223.7 134.3h8.1v4.3h-8.1zM201.1 138.1h4.4v4.3h-4.4zM197.3 145.6h4.4v4.3h-4.4zM201.1 149.3h23.2v4.3h-23.2zM231.2 156.8h4.4v4.3h-4.4zM231.2 168.1h4.4v4.3h-4.4zM234.9 186.8h4.4v4.3h-4.4zM268.8 228.0h4.4v4.3h-4.4zM343.9 228.0h4.4v4.3h-4.4zM276.3 231.8h4.4v4.3h-4.4zM295.1 235.5h4.4v4.3h-4.4zM302.6 239.3h4.4v4.3h-4.4zM310.1 250.5h4.4v4.3h-4.4zM193.6 258.0h8.1v4.3h-8.1zM189.8 261.8h8.1v4.3h-8.1zM189.8 269.2h4.4v4.3h-4.4zM283.8 284.2h4.4v4.3h-4.4zM287.6 288.0h4.4v4.3h-4.4zM283.8 295.5h4.4v4.3h-4.4zM268.8 321.7h8.1v4.3h-8.1zM287.6 336.7h4.4v4.3h-4.4zM347.7 336.7h4.4v4.3h-4.4zM298.8 340.5h4.4v4.3h-4.4z"/><path fill="#00a2fc" d="M182.3 123.1h4.4v4.3h-4.4zM268.8 126.8h4.4v4.3h-4.4zM441.7 126.8h4.4v4.3h-4.4zM189.8 130.6h4.4v4.3h-4.4zM242.5 134.3h4.4v4.3h-4.4zM253.7 134.3h8.1v4.3h-8.1zM193.6 149.3h4.4v4.3h-4.4zM204.9 153.1h4.4v4.3h-4.4zM227.4 160.6h4.4v4.3h-4.4zM227.4 164.3h4.4v4.3h-4.4zM216.1 175.6h4.4v4.3h-4.4zM340.2 246.8h4.4v4.3h-4.4zM189.8 250.5h4.4v4.3h-4.4zM186.1 254.3h4.4v4.3h-4.4zM306.4 254.3h4.4v4.3h-4.4zM317.6 258.0h8.1v4.3h-8.1zM280.0 280.5h4.4v4.3h-4.4zM291.3 288.0h4.4v4.3h-4.4zM295.1 295.5h4.4v4.3h-4.4zM306.4 295.5h4.4v4.3h-4.4zM295.1 299.2h8.1v4.3h-8.1zM246.2 303.0h4.4v4.3h-4.4zM287.6 303.0h4.4v4.3h-4.4zM302.6 303.0h4.4v4.3h-4.4zM276.3 314.2h4.4v4.3h-4.4zM336.4 325.5h4.4v4.3h-4.4zM340.2 329.2h4.4v4.3h-4.4zM328.9 333.0h4.4v4.3h-4.4z"/><path fill="#00a8fc" d="M276.3 123.1h4.4v4.3h-4.4zM441.7 123.1h4.4v4.3h-4.4zM182.3 126.8h4.4v4.3h-4.4zM246.2 134.3h8.1v4.3h-8.1zM197.3 153.1h8.1v4.3h-8.1zM223.7 153.1h4.4v4.3h-4.4zM227.4 156.8h4.4v4.3h-4.4zM227.4 168.1h4.4v4.3h-4.4zM208.6 171.8h4.4v4.3h-4.4zM208.6 175.6h4.4v4.3h-4.4zM208.6 179.3h4.4v4.3h-4.4zM355.2 198.0h4.4v4.3h-4.4zM347.7 216.8h4.4v4.3h-4.4zM347.7 220.5h4.4v4.3h-4.4zM272.5 231.8h4.4v4.3h-4.4zM291.3 239.3h8.1v4.3h-8.1zM193.6 250.5h8.1v4.3h-8.1zM201.1 254.3h4.4v4.3h-4.4zM201.1 258.0h4.4v4.3h-4.4zM325.1 258.0h4.4v4.3h-4.4zM246.2 299.2h4.4v4.3h-4.4zM302.6 299.2h8.1v4.3h-8.1zM306.4 303.0h4.4v4.3h-4.4zM265.0 321.7h4.4v4.3h-4.4zM328.9 329.2h4.4v4.3h-4.4zM343.9 333.0h4.4v4.3h-4.4zM283.8 336.7h4.4v4.3h-4.4zM355.2 336.7h4.4v4.3h-4.4zM283.8 340.5h4.4v4.3h-4.4z"/><path fill="#00e4fc" d="M283.8 123.1h4.4v4.3h-4.4zM306.4 123.1h4.4v4.3h-4.4zM280.0 126.8h4.4v4.3h-4.4zM321.4 126.8h4.4v4.3h-4.4zM268.8 134.3h4.4v4.3h-4.4zM336.4 134.3h4.4v4.3h-4.4zM265.0 138.1h4.4v4.3h-4.4zM261.2 141.8h4.4v4.3h-4.4zM250.0 145.6h8.1v4.3h-8.1zM242.5 149.3h8.1v4.3h-8.1zM242.5 153.1h4.4v4.3h-4.4zM242.5 156.8h4.4v4.3h-4.4zM242.5 160.6h4.4v4.3h-4.4zM242.5 164.3h4.4v4.3h-4.4zM242.5 168.1h4.4v4.3h-4.4zM238.7 171.8h4.4v4.3h-4.4zM238.7 175.6h4.4v4.3h-4.4zM242.5 179.3h4.4v4.3h-4.4zM246.2 183.1h4.4v4.3h-4.4zM355.2 194.3h4.4v4.3h-4.4zM257.5 201.8h4.4v4.3h-4.4zM261.2 213.0h4.4v4.3h-4.4zM347.7 213.0h4.4v4.3h-4.4zM265.0 220.5h4.4v4.3h-4.4zM272.5 224.3h8.1v4.3h-8.1zM291.3 224.3h4.4v4.3h-4.4zM340.2 224.3h4.4v4.3h-4.4zM336.4 228.0h4.4v4.3h-4.4zM302.6 231.8h4.4v4.3h-4.4zM332.7 231.8h4.4v4.3h-4.4zM306.4 235.5h4.4v4.3h-4.4zM328.9 235.5h4.4v4.3h-4.4zM310.1 239.3h19.4v4.3h-19.4z"/><path fill="#00e4f6" d="M287.6 123.1h19.4v4.3h-19.4zM283.8 126.8h4.4v4.3h-4.4zM313.9 126.8h8.1v4.3h-8.1zM276.3 130.6h4.4v4.3h-4.4zM328.9 130.6h4.4v4.3h-4.4zM272.5 134.3h4.4v4.3h-4.4zM268.8 138.1h4.4v4.3h-4.4zM265.0 141.8h4.4v4.3h-4.4zM340.2 141.8h4.4v4.3h-4.4zM257.5 145.6h8.1v4.3h-8.1zM250.0 149.3h11.9v4.3h-11.9zM343.9 149.3h4.4v4.3h-4.4zM246.2 153.1h11.9v4.3h-11.9zM246.2 156.8h8.1v4.3h-8.1zM347.7 156.8h4.4v4.3h-4.4zM246.2 160.6h8.1v4.3h-8.1zM246.2 164.3h4.4v4.3h-4.4zM246.2 168.1h4.4v4.3h-4.4zM242.5 171.8h8.1v4.3h-8.1zM242.5 175.6h8.1v4.3h-8.1zM355.2 175.6h4.4v4.3h-4.4zM246.2 179.3h4.4v4.3h-4.4zM250.0 186.8h4.4v4.3h-4.4zM355.2 190.6h4.4v4.3h-4.4zM253.7 194.3h4.4v4.3h-4.4zM351.5 205.5h4.4v4.3h-4.4zM261.2 209.3h4.4v4.3h-4.4zM265.0 213.0h4.4v4.3h-4.4zM265.0 216.8h4.4v4.3h-4.4zM268.8 220.5h19.4v4.3h-19.4zM295.1 224.3h4.4v4.3h-4.4zM298.8 228.0h4.4v4.3h-4.4zM332.7 228.0h4.4v4.3h-4.4zM306.4 231.8h4.4v4.3h-4.4zM328.9 231.8h4.4v4.3h-4.4zM310.1 235.5h19.4v4.3h-19.4z"/><path fill="#00c6fc" d="M434.1 123.1h4.4v4.3h-4.4zM437.9 126.8h4.4v4.3h-4.4zM426.6 130.6h4.4v4.3h-4.4zM430.4 134.3h4.4v4.3h-4.4zM204.9 138.1h19.4v4.3h-19.4zM238.7 138.1h4.4v4.3h-4.4zM253.7 138.1h4.4v4.3h-4.4zM223.7 149.3h4.4v4.3h-4.4zM231.2 153.1h4.4v4.3h-4.4zM234.9 160.6h4.4v4.3h-4.4zM231.2 171.8h4.4v4.3h-4.4zM257.5 209.3h4.4v4.3h-4.4zM272.5 228.0h4.4v4.3h-4.4zM280.0 235.5h4.4v4.3h-4.4zM291.3 235.5h4.4v4.3h-4.4zM298.8 235.5h4.4v4.3h-4.4zM340.2 239.3h4.4v4.3h-4.4zM313.9 250.5h15.6v4.3h-15.6zM332.7 250.5h4.4v4.3h-4.4zM186.1 265.5h8.1v4.3h-8.1zM186.1 269.2h4.4v4.3h-4.4zM186.1 273.0h4.4v4.3h-4.4zM283.8 288.0h4.4v4.3h-4.4zM283.8 291.7h8.1v4.3h-8.1zM287.6 295.5h4.4v4.3h-4.4zM268.8 318.0h8.1v4.3h-8.1zM291.3 336.7h8.1v4.3h-8.1zM340.2 336.7h8.1v4.3h-8.1zM287.6 340.5h11.9v4.3h-11.9zM340.2 340.5h15.6v4.3h-15.6z"/><path fill="#00aefc" d="M186.1 126.8h4.4v4.3h-4.4zM197.3 138.1h4.4v4.3h-4.4zM212.4 171.8h4.4v4.3h-4.4zM227.4 171.8h4.4v4.3h-4.4zM212.4 179.3h4.4v4.3h-4.4zM227.4 183.1h4.4v4.3h-4.4zM343.9 231.8h4.4v4.3h-4.4zM298.8 239.3h4.4v4.3h-4.4zM302.6 243.0h4.4v4.3h-4.4zM310.1 254.3h4.4v4.3h-4.4zM332.7 254.3h4.4v4.3h-4.4zM186.1 258.0h4.4v4.3h-4.4zM182.3 261.8h4.4v4.3h-4.4zM197.3 261.8h4.4v4.3h-4.4zM182.3 276.7h4.4v4.3h-4.4zM283.8 280.5h4.4v4.3h-4.4zM280.0 284.2h4.4v4.3h-4.4zM280.0 291.7h4.4v4.3h-4.4zM283.8 299.2h4.4v4.3h-4.4zM291.3 299.2h4.4v4.3h-4.4zM265.0 314.2h4.4v4.3h-4.4zM276.3 321.7h4.4v4.3h-4.4zM328.9 325.5h8.1v4.3h-8.1zM287.6 333.0h4.4v4.3h-4.4zM332.7 336.7h4.4v4.3h-4.4zM332.7 340.5h4.4v4.3h-4.4z"/><path fill="#00eaea" d="M287.6 126.8h4.4v4.3h-4.4zM336.4 138.1h4.4v4.3h-4.4zM265.0 145.6h4.4v4.3h-4.4zM257.5 156.8h4.4v4.3h-4.4zM250.0 171.8h4.4v4.3h-4.4zM250.0 179.3h4.4v4.3h-4.4zM340.2 220.5h4.4v4.3h-4.4zM321.4 231.8h4.4v4.3h-4.4z"/><path fill="#00eac6" d="M291.3 126.8h4.4v4.3h-4.4zM340.2 145.6h4.4v4.3h-4.4zM276.3 216.8h4.4v4.3h-4.4z"/><path fill="#00eaba" d="M295.1 126.8h4.4v4.3h-4.4zM321.4 228.0h4.4v4.3h-4.4z"/><path fill="#00ead2" d="M298.8 126.8h4.4v4.3h-4.4zM276.3 134.3h4.4v4.3h-4.4zM272.5 138.1h4.4v4.3h-4.4zM261.2 153.1h4.4v4.3h-4.4zM257.5 160.6h4.4v4.3h-4.4zM355.2 183.1h4.4v4.3h-4.4zM298.8 224.3h4.4v4.3h-4.4zM306.4 228.0h4.4v4.3h-4.4zM325.1 228.0h4.4v4.3h-4.4z"/><path fill="#00eae4" d="M302.6 126.8h4.4v4.3h-4.4zM280.0 130.6h4.4v4.3h-4.4zM250.0 175.6h4.4v4.3h-4.4zM355.2 179.3h4.4v4.3h-4.4zM253.7 190.6h4.4v4.3h-4.4z"/><path fill="#00eaf0" d="M306.4 126.8h4.4v4.3h-4.4zM332.7 134.3h4.4v4.3h-4.4zM261.2 149.3h4.4v4.3h-4.4zM257.5 153.1h4.4v4.3h-4.4zM253.7 156.8h4.4v4.3h-4.4zM253.7 160.6h4.4v4.3h-4.4zM351.5 164.3h4.4v4.3h-4.4zM250.0 168.1h4.4v4.3h-4.4zM250.0 183.1h4.4v4.3h-4.4zM261.2 205.5h4.4v4.3h-4.4zM268.8 216.8h4.4v4.3h-4.4zM287.6 220.5h4.4v4.3h-4.4zM328.9 228.0h4.4v4.3h-4.4zM310.1 231.8h4.4v4.3h-4.4z"/><path fill="#00e4f0" d="M310.1 126.8h4.4v4.3h-4.4zM250.0 164.3h4.4v4.3h-4.4zM257.5 198.0h4.4v4.3h-4.4zM336.4 224.3h4.4v4.3h-4.4zM302.6 228.0h4.4v4.3h-4.4zM325.1 231.8h4.4v4.3h-4.4z"/><path fill="#00d8fc" d="M325.1 126.8h4.4v4.3h-4.4zM434.1 126.8h4.4v4.3h-4.4zM332.7 130.6h4.4v4.3h-4.4zM430.4 130.6h4.4v4.3h-4.4zM208.6 141.8h45.7v4.3h-45.7zM208.6 145.6h30.7v4.3h-30.7zM231.2 149.3h8.1v4.3h-8.1zM347.7 153.1h4.4v4.3h-4.4zM351.5 160.6h4.4v4.3h-4.4zM234.9 175.6h4.4v4.3h-4.4zM234.9 179.3h4.4v4.3h-4.4zM234.9 183.1h11.9v4.3h-11.9zM265.0 224.3h4.4v4.3h-4.4zM287.6 224.3h4.4v4.3h-4.4zM340.2 228.0h4.4v4.3h-4.4zM340.2 231.8h4.4v4.3h-4.4zM302.6 235.5h4.4v4.3h-4.4zM332.7 235.5h8.1v4.3h-8.1zM328.9 239.3h11.9v4.3h-11.9zM328.9 243.0h11.9v4.3h-11.9zM332.7 246.8h4.4v4.3h-4.4z"/><path fill="#00ea9c" d="M283.8 130.6h4.4v4.3h-4.4zM272.5 141.8h4.4v4.3h-4.4zM261.2 160.6h4.4v4.3h-4.4zM257.5 171.8h4.4v4.3h-4.4zM253.7 186.8h4.4v4.3h-4.4zM302.6 224.3h4.4v4.3h-4.4z"/><path fill="#00e45a" d="M287.6 130.6h4.4v4.3h-4.4z"/><path fill="#00de0c" d="M291.3 130.6h4.4v4.3h-4.4zM310.1 224.3h4.4v4.3h-4.4zM317.6 224.3h4.4v4.3h-4.4z"/><path fill="#06de00" d="M295.1 130.6h4.4v4.3h-4.4zM257.5 175.6h4.4v4.3h-4.4zM265.0 201.8h4.4v4.3h-4.4zM268.8 205.5h4.4v4.3h-4.4zM291.3 216.8h4.4v4.3h-4.4z"/><path fill="#00de06" d="M298.8 130.6h4.4v4.3h-4.4zM272.5 145.6h4.4v4.3h-4.4zM340.2 216.8h4.4v4.3h-4.4z"/><path fill="#00e418" d="M302.6 130.6h4.4v4.3h-4.4zM272.5 209.3h4.4v4.3h-4.4zM298.8 220.5h4.4v4.3h-4.4z"/><path fill="#00e424" d="M306.4 130.6h8.1v4.3h-8.1zM268.8 149.3h4.4v4.3h-4.4z"/><path fill="#00e41e" d="M313.9 130.6h4.4v4.3h-4.4z"/><path fill="#00e430" d="M317.6 130.6h4.4v4.3h-4.4zM265.0 153.1h4.4v4.3h-4.4zM351.5 198.0h4.4v4.3h-4.4zM280.0 213.0h4.4v4.3h-4.4zM332.7 220.5h4.4v4.3h-4.4z"/><path fill="#00e454" d="M321.4 130.6h4.4v4.3h-4.4zM276.3 138.1h4.4v4.3h-4.4z"/><path fill="#00eaa8" d="M325.1 130.6h4.4v4.3h-4.4zM272.5 213.0h4.4v4.3h-4.4zM328.9 224.3h4.4v4.3h-4.4zM313.9 228.0h4.4v4.3h-4.4z"/><path fill="#00b4fc" d="M437.9 130.6h4.4v4.3h-4.4zM261.2 134.3h4.4v4.3h-4.4zM355.2 168.1h4.4v4.3h-4.4zM212.4 175.6h4.4v4.3h-4.4zM227.4 175.6h4.4v4.3h-4.4zM227.4 179.3h4.4v4.3h-4.4zM253.7 201.8h4.4v4.3h-4.4zM257.5 213.0h4.4v4.3h-4.4zM276.3 235.5h4.4v4.3h-4.4zM280.0 239.3h4.4v4.3h-4.4zM287.6 239.3h4.4v4.3h-4.4zM306.4 250.5h4.4v4.3h-4.4zM189.8 254.3h4.4v4.3h-4.4zM313.9 254.3h4.4v4.3h-4.4zM182.3 265.5h4.4v4.3h-4.4zM182.3 269.2h4.4v4.3h-4.4zM182.3 273.0h4.4v4.3h-4.4zM189.8 273.0h4.4v4.3h-4.4zM186.1 276.7h4.4v4.3h-4.4zM287.6 284.2h4.4v4.3h-4.4zM280.0 288.0h4.4v4.3h-4.4zM287.6 299.2h4.4v4.3h-4.4zM272.5 314.2h4.4v4.3h-4.4zM276.3 318.0h4.4v4.3h-4.4zM332.7 329.2h8.1v4.3h-8.1zM295.1 333.0h4.4v4.3h-4.4zM332.7 333.0h4.4v4.3h-4.4zM298.8 336.7h4.4v4.3h-4.4z"/><path fill="#00e466" d="M280.0 134.3h4.4v4.3h-4.4z"/><path fill="#0ce400" d="M283.8 134.3h4.4v4.3h-4.4zM276.3 141.8h4.4v4.3h-4.4zM261.2 194.3h4.4v4.3h-4.4zM283.8 213.0h4.4v4.3h-4.4zM302.6 220.5h4.4v4.3h-4.4zM328.9 220.5h4.4v4.3h-4.4z"/><path fill="#1ee400" d="M287.6 134.3h4.4v4.3h-4.4zM280.0 138.1h4.4v4.3h-4.4zM257.5 179.3h4.4v4.3h-4.4zM265.0 198.0h4.4v4.3h-4.4zM272.5 205.5h4.4v4.3h-4.4zM287.6 213.0h4.4v4.3h-4.4zM295.1 216.8h4.4v4.3h-4.4z"/><path fill="#36e400" d="M291.3 134.3h4.4v4.3h-4.4zM347.7 164.3h4.4v4.3h-4.4zM261.2 171.8h4.4v4.3h-4.4zM351.5 179.3h4.4v4.3h-4.4zM351.5 186.8h4.4v4.3h-4.4zM340.2 213.0h4.4v4.3h-4.4zM298.8 216.8h4.4v4.3h-4.4zM313.9 220.5h8.1v4.3h-8.1z"/><path fill="#42ea00" d="M295.1 134.3h4.4v4.3h-4.4zM317.6 134.3h4.4v4.3h-4.4zM283.8 138.1h4.4v4.3h-4.4zM280.0 141.8h4.4v4.3h-4.4zM265.0 194.3h4.4v4.3h-4.4zM272.5 201.8h4.4v4.3h-4.4zM347.7 201.8h4.4v4.3h-4.4z"/><path fill="#48ea00" d="M298.8 134.3h11.9v4.3h-11.9zM265.0 164.3h4.4v4.3h-4.4zM268.8 198.0h4.4v4.3h-4.4zM302.6 216.8h4.4v4.3h-4.4z"/><path fill="#4eea00" d="M310.1 134.3h8.1v4.3h-8.1z"/><path fill="#36ea00" d="M321.4 134.3h4.4v4.3h-4.4zM291.3 213.0h4.4v4.3h-4.4z"/><path fill="#24e400" d="M325.1 134.3h4.4v4.3h-4.4zM272.5 149.3h4.4v4.3h-4.4zM336.4 216.8h4.4v4.3h-4.4zM306.4 220.5h4.4v4.3h-4.4zM325.1 220.5h4.4v4.3h-4.4z"/><path fill="#00e43c" d="M328.9 134.3h4.4v4.3h-4.4z"/><path fill="#78ea00" d="M287.6 138.1h4.4v4.3h-4.4zM272.5 198.0h4.4v4.3h-4.4z"/><path fill="#a2f000" d="M291.3 138.1h4.4v4.3h-4.4zM268.8 194.3h4.4v4.3h-4.4zM317.6 216.8h8.1v4.3h-8.1z"/><path fill="#c0f000" d="M295.1 138.1h4.4v4.3h-4.4zM340.2 149.3h4.4v4.3h-4.4zM347.7 171.8h4.4v4.3h-4.4zM265.0 186.8h4.4v4.3h-4.4z"/><path fill="#d8f000" d="M298.8 138.1h4.4v4.3h-4.4zM287.6 141.8h4.4v4.3h-4.4zM347.7 175.6h4.4v4.3h-4.4zM268.8 190.6h4.4v4.3h-4.4zM347.7 190.6h4.4v4.3h-4.4zM280.0 201.8h4.4v4.3h-4.4zM283.8 205.5h4.4v4.3h-4.4zM306.4 213.0h4.4v4.3h-4.4zM328.9 213.0h4.4v4.3h-4.4z"/><path fill="#e4f000" d="M302.6 138.1h4.4v4.3h-4.4z"/><path fill="#eaf000" d="M306.4 138.1h4.4v4.3h-4.4zM347.7 179.3h4.4v4.3h-4.4zM347.7 186.8h4.4v4.3h-4.4z"/><path fill="#f0f000" d="M310.1 138.1h8.1v4.3h-8.1zM343.9 160.6h4.4v4.3h-4.4zM268.8 168.1h4.4v4.3h-4.4zM347.7 183.1h4.4v4.3h-4.4z"/><path fill="#def000" d="M317.6 138.1h4.4v4.3h-4.4zM328.9 141.8h4.4v4.3h-4.4zM276.3 153.1h4.4v4.3h-4.4zM272.5 160.6h4.4v4.3h-4.4zM265.0 175.6h4.4v4.3h-4.4zM265.0 179.3h4.4v4.3h-4.4z"/><path fill="#d2f000" d="M321.4 138.1h4.4v4.3h-4.4zM268.8 164.3h4.4v4.3h-4.4zM265.0 183.1h4.4v4.3h-4.4z"/><path fill="#b4f000" d="M325.1 138.1h4.4v4.3h-4.4z"/><path fill="#5aea00" d="M328.9 138.1h4.4v4.3h-4.4zM283.8 209.3h4.4v4.3h-4.4z"/><path fill="#00e436" d="M332.7 138.1h4.4v4.3h-4.4zM321.4 224.3h4.4v4.3h-4.4z"/><path fill="#00ead8" d="M268.8 141.8h4.4v4.3h-4.4zM332.7 224.3h4.4v4.3h-4.4zM313.9 231.8h8.1v4.3h-8.1z"/><path fill="#9cf000" d="M283.8 141.8h4.4v4.3h-4.4zM268.8 160.6h4.4v4.3h-4.4zM261.2 179.3h4.4v4.3h-4.4z"/><path fill="#f6ea00" d="M291.3 141.8h4.4v4.3h-4.4zM325.1 141.8h4.4v4.3h-4.4zM340.2 153.1h4.4v4.3h-4.4zM268.8 183.1h4.4v4.3h-4.4zM276.3 194.3h4.4v4.3h-4.4zM340.2 205.5h4.4v4.3h-4.4zM295.1 209.3h4.4v4.3h-4.4z"/><path fill="#fce400" d="M295.1 141.8h4.4v4.3h-4.4zM321.4 141.8h4.4v4.3h-4.4zM283.8 145.6h4.4v4.3h-4.4zM340.2 156.8h4.4v4.3h-4.4zM276.3 160.6h4.4v4.3h-4.4zM343.9 164.3h4.4v4.3h-4.4zM272.5 171.8h4.4v4.3h-4.4zM272.5 175.6h4.4v4.3h-4.4zM272.5 179.3h4.4v4.3h-4.4zM272.5 183.1h4.4v4.3h-4.4zM276.3 190.6h4.4v4.3h-4.4z"/><path fill="#fcde00" d="M298.8 141.8h8.1v4.3h-8.1zM313.9 141.8h8.1v4.3h-8.1zM328.9 145.6h4.4v4.3h-4.4zM280.0 153.1h4.4v4.3h-4.4zM276.3 164.3h4.4v4.3h-4.4zM276.3 168.1h4.4v4.3h-4.4zM276.3 186.8h4.4v4.3h-4.4zM280.0 194.3h4.4v4.3h-4.4zM343.9 194.3h4.4v4.3h-4.4zM283.8 201.8h4.4v4.3h-4.4zM340.2 201.8h4.4v4.3h-4.4zM336.4 205.5h4.4v4.3h-4.4zM298.8 209.3h4.4v4.3h-4.4zM328.9 209.3h4.4v4.3h-4.4z"/><path fill="#fcd800" d="M306.4 141.8h8.1v4.3h-8.1zM287.6 145.6h4.4v4.3h-4.4zM332.7 149.3h4.4v4.3h-4.4zM280.0 156.8h4.4v4.3h-4.4zM343.9 168.1h4.4v4.3h-4.4zM276.3 171.8h4.4v4.3h-4.4zM276.3 175.6h4.4v4.3h-4.4zM276.3 179.3h4.4v4.3h-4.4zM276.3 183.1h4.4v4.3h-4.4zM291.3 205.5h4.4v4.3h-4.4zM302.6 209.3h4.4v4.3h-4.4z"/><path fill="#72ea00" d="M332.7 141.8h4.4v4.3h-4.4z"/><path fill="#00ea90" d="M336.4 141.8h4.4v4.3h-4.4zM283.8 216.8h4.4v4.3h-4.4zM336.4 220.5h4.4v4.3h-4.4z"/><path fill="#00eaa2" d="M268.8 145.6h4.4v4.3h-4.4zM253.7 175.6h4.4v4.3h-4.4zM261.2 201.8h4.4v4.3h-4.4z"/><path fill="#3cea00" d="M276.3 145.6h4.4v4.3h-4.4zM268.8 156.8h4.4v4.3h-4.4zM351.5 183.1h4.4v4.3h-4.4zM276.3 205.5h4.4v4.3h-4.4zM343.9 209.3h4.4v4.3h-4.4zM332.7 216.8h4.4v4.3h-4.4z"/><path fill="#aef000" d="M280.0 145.6h4.4v4.3h-4.4zM302.6 213.0h4.4v4.3h-4.4zM332.7 213.0h4.4v4.3h-4.4z"/><path fill="#fccc00" d="M291.3 145.6h4.4v4.3h-4.4zM280.0 168.1h4.4v4.3h-4.4zM280.0 186.8h4.4v4.3h-4.4z"/><path fill="#fcba00" d="M295.1 145.6h4.4v4.3h-4.4zM332.7 153.1h4.4v4.3h-4.4zM283.8 194.3h4.4v4.3h-4.4zM295.1 205.5h4.4v4.3h-4.4zM328.9 205.5h4.4v4.3h-4.4zM310.1 209.3h4.4v4.3h-4.4zM317.6 209.3h4.4v4.3h-4.4z"/><path fill="#fcae00" d="M298.8 145.6h4.4v4.3h-4.4zM283.8 156.8h4.4v4.3h-4.4zM283.8 160.6h4.4v4.3h-4.4zM283.8 164.3h4.4v4.3h-4.4zM283.8 168.1h4.4v4.3h-4.4zM283.8 171.8h4.4v4.3h-4.4zM283.8 175.6h4.4v4.3h-4.4zM283.8 179.3h4.4v4.3h-4.4zM283.8 183.1h4.4v4.3h-4.4zM283.8 186.8h4.4v4.3h-4.4zM332.7 201.8h4.4v4.3h-4.4z"/><path fill="#fca800" d="M302.6 145.6h4.4v4.3h-4.4zM313.9 145.6h4.4v4.3h-4.4zM287.6 149.3h4.4v4.3h-4.4zM325.1 149.3h4.4v4.3h-4.4zM287.6 198.0h4.4v4.3h-4.4zM336.4 198.0h4.4v4.3h-4.4z"/><path fill="#fca200" d="M306.4 145.6h8.1v4.3h-8.1zM291.3 201.8h4.4v4.3h-4.4zM298.8 205.5h4.4v4.3h-4.4z"/><path fill="#fcb400" d="M317.6 145.6h4.4v4.3h-4.4zM283.8 153.1h4.4v4.3h-4.4zM340.2 164.3h4.4v4.3h-4.4zM283.8 190.6h4.4v4.3h-4.4zM340.2 194.3h4.4v4.3h-4.4zM313.9 209.3h4.4v4.3h-4.4z"/><path fill="#fcc000" d="M321.4 145.6h4.4v4.3h-4.4zM328.9 149.3h4.4v4.3h-4.4zM336.4 156.8h4.4v4.3h-4.4zM343.9 179.3h4.4v4.3h-4.4zM343.9 183.1h4.4v4.3h-4.4z"/><path fill="#fcd200" d="M325.1 145.6h4.4v4.3h-4.4zM336.4 153.1h4.4v4.3h-4.4zM280.0 160.6h4.4v4.3h-4.4zM340.2 160.6h4.4v4.3h-4.4zM280.0 164.3h4.4v4.3h-4.4zM343.9 171.8h4.4v4.3h-4.4zM280.0 190.6h4.4v4.3h-4.4zM343.9 190.6h4.4v4.3h-4.4zM283.8 198.0h4.4v4.3h-4.4zM340.2 198.0h4.4v4.3h-4.4zM332.7 205.5h4.4v4.3h-4.4zM325.1 209.3h4.4v4.3h-4.4z"/><path fill="#f6f000" d="M332.7 145.6h4.4v4.3h-4.4zM276.3 156.8h4.4v4.3h-4.4zM272.5 164.3h4.4v4.3h-4.4zM268.8 171.8h4.4v4.3h-4.4zM268.8 186.8h4.4v4.3h-4.4zM272.5 190.6h4.4v4.3h-4.4zM343.9 201.8h4.4v4.3h-4.4zM336.4 209.3h4.4v4.3h-4.4zM310.1 213.0h4.4v4.3h-4.4zM325.1 213.0h4.4v4.3h-4.4z"/><path fill="#ccf000" d="M336.4 145.6h4.4v4.3h-4.4zM265.0 171.8h4.4v4.3h-4.4zM272.5 194.3h4.4v4.3h-4.4z"/><path fill="#00eac0" d="M265.0 149.3h4.4v4.3h-4.4zM257.5 164.3h4.4v4.3h-4.4zM253.7 171.8h4.4v4.3h-4.4z"/><path fill="#90f000" d="M276.3 149.3h4.4v4.3h-4.4zM265.0 190.6h4.4v4.3h-4.4zM298.8 213.0h4.4v4.3h-4.4zM325.1 216.8h4.4v4.3h-4.4z"/><path fill="#fcea00" d="M280.0 149.3h4.4v4.3h-4.4zM336.4 149.3h4.4v4.3h-4.4zM272.5 168.1h4.4v4.3h-4.4zM268.8 175.6h4.4v4.3h-4.4zM268.8 179.3h4.4v4.3h-4.4zM272.5 186.8h4.4v4.3h-4.4zM280.0 198.0h4.4v4.3h-4.4zM343.9 198.0h4.4v4.3h-4.4zM287.6 205.5h4.4v4.3h-4.4zM332.7 209.3h4.4v4.3h-4.4zM313.9 213.0h11.9v4.3h-11.9z"/><path fill="#fcc600" d="M283.8 149.3h4.4v4.3h-4.4zM280.0 171.8h4.4v4.3h-4.4zM280.0 175.6h4.4v4.3h-4.4zM343.9 175.6h4.4v4.3h-4.4zM280.0 179.3h4.4v4.3h-4.4zM280.0 183.1h4.4v4.3h-4.4zM343.9 186.8h4.4v4.3h-4.4zM287.6 201.8h4.4v4.3h-4.4zM336.4 201.8h4.4v4.3h-4.4zM306.4 209.3h4.4v4.3h-4.4zM321.4 209.3h4.4v4.3h-4.4z"/><path fill="#fc9c00" d="M291.3 149.3h4.4v4.3h-4.4zM287.6 153.1h4.4v4.3h-4.4zM287.6 194.3h4.4v4.3h-4.4zM325.1 205.5h4.4v4.3h-4.4z"/><path fill="#fc9600" d="M295.1 149.3h4.4v4.3h-4.4zM287.6 156.8h4.4v4.3h-4.4zM332.7 156.8h4.4v4.3h-4.4zM287.6 160.6h4.4v4.3h-4.4zM287.6 164.3h4.4v4.3h-4.4zM287.6 190.6h4.4v4.3h-4.4z"/><path fill="#fc8a00" d="M298.8 149.3h8.1v4.3h-8.1zM317.6 149.3h4.4v4.3h-4.4zM291.3 153.1h4.4v4.3h-4.4zM291.3 198.0h4.4v4.3h-4.4zM295.1 201.8h4.4v4.3h-4.4z"/><path fill="#fc8400" d="M306.4 149.3h4.4v4.3h-4.4zM313.9 149.3h4.4v4.3h-4.4zM291.3 156.8h4.4v4.3h-4.4zM340.2 190.6h4.4v4.3h-4.4z"/><path fill="#fc7e00" d="M310.1 149.3h4.4v4.3h-4.4zM295.1 153.1h4.4v4.3h-4.4zM306.4 205.5h4.4v4.3h-4.4zM321.4 205.5h4.4v4.3h-4.4z"/><path fill="#fc9000" d="M321.4 149.3h4.4v4.3h-4.4zM328.9 153.1h4.4v4.3h-4.4zM336.4 160.6h4.4v4.3h-4.4zM287.6 168.1h4.4v4.3h-4.4zM340.2 168.1h4.4v4.3h-4.4zM287.6 171.8h4.4v4.3h-4.4zM287.6 175.6h4.4v4.3h-4.4zM287.6 179.3h4.4v4.3h-4.4zM287.6 183.1h4.4v4.3h-4.4zM287.6 186.8h4.4v4.3h-4.4zM302.6 205.5h4.4v4.3h-4.4z"/><path fill="#2ae400" d="M268.8 153.1h4.4v4.3h-4.4zM351.5 175.6h4.4v4.3h-4.4zM261.2 190.6h4.4v4.3h-4.4zM351.5 190.6h4.4v4.3h-4.4zM268.8 201.8h4.4v4.3h-4.4z"/><path fill="#66ea00" d="M272.5 153.1h4.4v4.3h-4.4z"/><path fill="#fc7200" d="M298.8 153.1h4.4v4.3h-4.4zM325.1 153.1h4.4v4.3h-4.4zM291.3 164.3h4.4v4.3h-4.4zM291.3 190.6h4.4v4.3h-4.4zM295.1 198.0h4.4v4.3h-4.4zM298.8 201.8h4.4v4.3h-4.4zM313.9 205.5h4.4v4.3h-4.4z"/><path fill="#fc6600" d="M302.6 153.1h4.4v4.3h-4.4zM321.4 153.1h4.4v4.3h-4.4zM328.9 156.8h4.4v4.3h-4.4zM291.3 175.6h4.4v4.3h-4.4zM340.2 175.6h4.4v4.3h-4.4zM291.3 179.3h4.4v4.3h-4.4zM291.3 183.1h4.4v4.3h-4.4zM340.2 186.8h4.4v4.3h-4.4z"/><path fill="#fc6000" d="M306.4 153.1h4.4v4.3h-4.4zM317.6 153.1h4.4v4.3h-4.4zM298.8 156.8h4.4v4.3h-4.4zM295.1 160.6h4.4v4.3h-4.4zM340.2 179.3h4.4v4.3h-4.4zM340.2 183.1h4.4v4.3h-4.4z"/><path fill="#fc5a00" d="M310.1 153.1h8.1v4.3h-8.1zM295.1 194.3h4.4v4.3h-4.4zM302.6 201.8h4.4v4.3h-4.4zM328.9 201.8h4.4v4.3h-4.4z"/><path fill="#00ea7e" d="M343.9 153.1h4.4v4.3h-4.4zM261.2 164.3h4.4v4.3h-4.4zM276.3 213.0h4.4v4.3h-4.4z"/><path fill="#00eab4" d="M261.2 156.8h4.4v4.3h-4.4zM280.0 216.8h4.4v4.3h-4.4zM310.1 228.0h4.4v4.3h-4.4z"/><path fill="#06e400" d="M265.0 156.8h4.4v4.3h-4.4zM261.2 168.1h4.4v4.3h-4.4zM257.5 186.8h4.4v4.3h-4.4z"/><path fill="#a8f000" d="M272.5 156.8h4.4v4.3h-4.4z"/><path fill="#fc6c00" d="M295.1 156.8h4.4v4.3h-4.4zM291.3 168.1h4.4v4.3h-4.4zM291.3 171.8h4.4v4.3h-4.4zM291.3 186.8h4.4v4.3h-4.4z"/><path fill="#fc5400" d="M302.6 156.8h4.4v4.3h-4.4zM332.7 160.6h4.4v4.3h-4.4zM295.1 164.3h4.4v4.3h-4.4zM336.4 164.3h4.4v4.3h-4.4z"/><path fill="#fc0006" d="M306.4 156.8h4.4v4.3h-4.4zM295.1 171.8h4.4v4.3h-4.4zM295.1 186.8h4.4v4.3h-4.4zM336.4 190.6h4.4v4.3h-4.4zM302.6 198.0h4.4v4.3h-4.4zM310.1 201.8h4.4v4.3h-4.4zM321.4 201.8h4.4v4.3h-4.4z"/><path fill="#fc0018" d="M310.1 156.8h4.4v4.3h-4.4zM328.9 160.6h4.4v4.3h-4.4z"/><path fill="#fc0024" d="M313.9 156.8h4.4v4.3h-4.4zM302.6 160.6h4.4v4.3h-4.4zM325.1 198.0h4.4v4.3h-4.4z"/><path fill="#fc001e" d="M317.6 156.8h4.4v4.3h-4.4z"/><path fill="#fc000c" d="M321.4 156.8h4.4v4.3h-4.4zM332.7 164.3h4.4v4.3h-4.4zM336.4 171.8h4.4v4.3h-4.4zM295.1 175.6h4.4v4.3h-4.4zM295.1 183.1h4.4v4.3h-4.4zM336.4 186.8h4.4v4.3h-4.4zM332.7 194.3h4.4v4.3h-4.4zM328.9 198.0h4.4v4.3h-4.4zM313.9 201.8h8.1v4.3h-8.1z"/><path fill="#fc3000" d="M325.1 156.8h4.4v4.3h-4.4zM336.4 194.3h4.4v4.3h-4.4z"/><path fill="#baf000" d="M343.9 156.8h4.4v4.3h-4.4zM265.0 168.1h4.4v4.3h-4.4zM347.7 194.3h4.4v4.3h-4.4zM276.3 198.0h4.4v4.3h-4.4zM343.9 205.5h4.4v4.3h-4.4zM340.2 209.3h4.4v4.3h-4.4z"/><path fill="#12e400" d="M265.0 160.6h4.4v4.3h-4.4zM351.5 171.8h4.4v4.3h-4.4zM351.5 194.3h4.4v4.3h-4.4zM276.3 209.3h4.4v4.3h-4.4z"/><path fill="#fc7800" d="M291.3 160.6h4.4v4.3h-4.4zM340.2 171.8h4.4v4.3h-4.4zM291.3 194.3h4.4v4.3h-4.4zM310.1 205.5h4.4v4.3h-4.4zM317.6 205.5h4.4v4.3h-4.4z"/><path fill="#fc1200" d="M298.8 160.6h4.4v4.3h-4.4zM295.1 168.1h4.4v4.3h-4.4z"/><path fill="#f00060" d="M306.4 160.6h4.4v4.3h-4.4zM328.9 190.6h4.4v4.3h-4.4z"/><path fill="#f606ae" d="M310.1 160.6h4.4v4.3h-4.4z"/><path fill="#f60cd2" d="M313.9 160.6h4.4v4.3h-4.4z"/><path fill="#f606c6" d="M317.6 160.6h4.4v4.3h-4.4zM325.1 190.6h4.4v4.3h-4.4zM317.6 194.3h4.4v4.3h-4.4z"/><path fill="#f606a8" d="M321.4 160.6h4.4v4.3h-4.4zM321.4 194.3h4.4v4.3h-4.4z"/><path fill="#f00054" d="M325.1 160.6h4.4v4.3h-4.4zM298.8 168.1h4.4v4.3h-4.4z"/><path fill="#00ea96" d="M347.7 160.6h4.4v4.3h-4.4z"/><path fill="#00eade" d="M253.7 164.3h4.4v4.3h-4.4zM355.2 186.8h4.4v4.3h-4.4zM272.5 216.8h4.4v4.3h-4.4z"/><path fill="#f6002a" d="M298.8 164.3h4.4v4.3h-4.4z"/><path fill="#f00072" d="M302.6 164.3h4.4v4.3h-4.4z"/><path fill="#fc12fc" d="M306.4 164.3h4.4v4.3h-4.4zM325.1 168.1h4.4v4.3h-4.4zM325.1 186.8h4.4v4.3h-4.4z"/><path fill="#fc4efc" d="M310.1 164.3h4.4v4.3h-4.4zM310.1 190.6h4.4v4.3h-4.4z"/><path fill="#fc60fc" d="M313.9 164.3h4.4v4.3h-4.4zM321.4 168.1h4.4v4.3h-4.4zM321.4 186.8h4.4v4.3h-4.4zM313.9 190.6h4.4v4.3h-4.4z"/><path fill="#fc42fc" d="M317.6 164.3h4.4v4.3h-4.4z"/><path fill="#fc24fc" d="M321.4 164.3h4.4v4.3h-4.4zM325.1 171.8h4.4v4.3h-4.4zM325.1 183.1h4.4v4.3h-4.4z"/><path fill="#f606c0" d="M325.1 164.3h4.4v4.3h-4.4zM310.1 194.3h4.4v4.3h-4.4z"/><path fill="#f00048" d="M328.9 164.3h4.4v4.3h-4.4z"/><path fill="#00eacc" d="M253.7 168.1h4.4v4.3h-4.4zM265.0 209.3h4.4v4.3h-4.4zM268.8 213.0h4.4v4.3h-4.4zM343.9 216.8h4.4v4.3h-4.4zM291.3 220.5h4.4v4.3h-4.4z"/><path fill="#00eaae" d="M257.5 168.1h4.4v4.3h-4.4zM257.5 194.3h4.4v4.3h-4.4zM317.6 228.0h4.4v4.3h-4.4z"/><path fill="#fc0cd8" d="M302.6 168.1h4.4v4.3h-4.4z"/><path fill="#fc66fc" d="M306.4 168.1h4.4v4.3h-4.4zM306.4 186.8h4.4v4.3h-4.4z"/><path fill="#f6a2f6" d="M310.1 168.1h4.4v4.3h-4.4z"/><path fill="#f6a8f6" d="M313.9 168.1h4.4v4.3h-4.4zM317.6 171.8h4.4v4.3h-4.4zM313.9 186.8h4.4v4.3h-4.4z"/><path fill="#f690f6" d="M317.6 168.1h4.4v4.3h-4.4zM306.4 171.8h4.4v4.3h-4.4zM306.4 183.1h4.4v4.3h-4.4z"/><path fill="#f00078" d="M328.9 168.1h4.4v4.3h-4.4z"/><path fill="#f60024" d="M332.7 168.1h4.4v4.3h-4.4zM332.7 190.6h4.4v4.3h-4.4zM306.4 198.0h4.4v4.3h-4.4z"/><path fill="#fc0000" d="M336.4 168.1h4.4v4.3h-4.4z"/><path fill="#96f000" d="M347.7 168.1h4.4v4.3h-4.4zM313.9 216.8h4.4v4.3h-4.4z"/><path fill="#00e448" d="M351.5 168.1h4.4v4.3h-4.4zM261.2 198.0h4.4v4.3h-4.4zM347.7 209.3h4.4v4.3h-4.4z"/><path fill="#f0007e" d="M298.8 171.8h4.4v4.3h-4.4zM328.9 186.8h4.4v4.3h-4.4z"/><path fill="#fc18fc" d="M302.6 171.8h4.4v4.3h-4.4zM306.4 190.6h4.4v4.3h-4.4z"/><path fill="#f6baf6" d="M310.1 171.8h4.4v4.3h-4.4zM310.1 183.1h4.4v4.3h-4.4z"/><path fill="#f6c6f6" d="M313.9 171.8h4.4v4.3h-4.4z"/><path fill="#f684f6" d="M321.4 171.8h4.4v4.3h-4.4z"/><path fill="#f0008a" d="M328.9 171.8h4.4v4.3h-4.4zM298.8 183.1h4.4v4.3h-4.4z"/><path fill="#f60030" d="M332.7 171.8h4.4v4.3h-4.4zM332.7 186.8h4.4v4.3h-4.4zM321.4 198.0h4.4v4.3h-4.4z"/><path fill="#8af000" d="M261.2 175.6h4.4v4.3h-4.4zM287.6 209.3h4.4v4.3h-4.4zM310.1 216.8h4.4v4.3h-4.4z"/><path fill="#f0009c" d="M298.8 175.6h4.4v4.3h-4.4zM328.9 175.6h4.4v4.3h-4.4zM298.8 179.3h4.4v4.3h-4.4zM328.9 179.3h4.4v4.3h-4.4z"/><path fill="#fc30fc" d="M302.6 175.6h4.4v4.3h-4.4zM302.6 179.3h4.4v4.3h-4.4z"/><path fill="#f69cf6" d="M306.4 175.6h4.4v4.3h-4.4zM306.4 179.3h4.4v4.3h-4.4zM310.1 186.8h4.4v4.3h-4.4z"/><path fill="#f6d2f6" d="M310.1 175.6h4.4v4.3h-4.4zM310.1 179.3h4.4v4.3h-4.4z"/><path fill="#fce4fc" d="M313.9 175.6h4.4v4.3h-4.4zM313.9 179.3h4.4v4.3h-4.4z"/><path fill="#f6c0f6" d="M317.6 175.6h4.4v4.3h-4.4zM317.6 179.3h4.4v4.3h-4.4z"/><path fill="#f696f6" d="M321.4 175.6h4.4v4.3h-4.4zM321.4 179.3h4.4v4.3h-4.4zM317.6 186.8h4.4v4.3h-4.4z"/><path fill="#fc36fc" d="M325.1 175.6h4.4v4.3h-4.4zM325.1 179.3h4.4v4.3h-4.4z"/><path fill="#f00036" d="M332.7 175.6h4.4v4.3h-4.4zM332.7 179.3h4.4v4.3h-4.4zM298.8 190.6h4.4v4.3h-4.4z"/><path fill="#fc0012" d="M336.4 175.6h4.4v4.3h-4.4zM295.1 179.3h4.4v4.3h-4.4zM336.4 179.3h4.4v4.3h-4.4zM336.4 183.1h4.4v4.3h-4.4zM298.8 194.3h4.4v4.3h-4.4z"/><path fill="#00e478" d="M253.7 179.3h4.4v4.3h-4.4zM325.1 224.3h4.4v4.3h-4.4z"/><path fill="#00e47e" d="M253.7 183.1h4.4v4.3h-4.4z"/><path fill="#18e400" d="M257.5 183.1h4.4v4.3h-4.4zM347.7 205.5h4.4v4.3h-4.4z"/><path fill="#7eea00" d="M261.2 183.1h4.4v4.3h-4.4zM280.0 205.5h4.4v4.3h-4.4zM336.4 213.0h4.4v4.3h-4.4z"/><path fill="#fc1efc" d="M302.6 183.1h4.4v4.3h-4.4z"/><path fill="#f6ccf6" d="M313.9 183.1h4.4v4.3h-4.4z"/><path fill="#f6aef6" d="M317.6 183.1h4.4v4.3h-4.4z"/><path fill="#f67ef6" d="M321.4 183.1h4.4v4.3h-4.4z"/><path fill="#f00090" d="M328.9 183.1h4.4v4.3h-4.4zM302.6 190.6h4.4v4.3h-4.4z"/><path fill="#f60036" d="M332.7 183.1h4.4v4.3h-4.4zM328.9 194.3h4.4v4.3h-4.4zM310.1 198.0h4.4v4.3h-4.4z"/><path fill="#54ea00" d="M261.2 186.8h4.4v4.3h-4.4z"/><path fill="#f00066" d="M298.8 186.8h4.4v4.3h-4.4z"/><path fill="#fc0cea" d="M302.6 186.8h4.4v4.3h-4.4z"/><path fill="#00e442" d="M257.5 190.6h4.4v4.3h-4.4zM306.4 224.3h4.4v4.3h-4.4z"/><path fill="#fc3600" d="M295.1 190.6h4.4v4.3h-4.4z"/><path fill="#fc48fc" d="M317.6 190.6h4.4v4.3h-4.4z"/><path fill="#fc2afc" d="M321.4 190.6h4.4v4.3h-4.4z"/><path fill="#f0003c" d="M302.6 194.3h4.4v4.3h-4.4zM313.9 198.0h8.1v4.3h-8.1z"/><path fill="#f00084" d="M306.4 194.3h4.4v4.3h-4.4z"/><path fill="#fc0cd2" d="M313.9 194.3h4.4v4.3h-4.4z"/><path fill="#f0006c" d="M325.1 194.3h4.4v4.3h-4.4z"/><path fill="#fc4e00" d="M298.8 198.0h4.4v4.3h-4.4z"/><path fill="#fc3c00" d="M332.7 198.0h4.4v4.3h-4.4z"/><path fill="#84ea00" d="M347.7 198.0h4.4v4.3h-4.4zM276.3 201.8h4.4v4.3h-4.4z"/><path fill="#fc1e00" d="M306.4 201.8h4.4v4.3h-4.4zM325.1 201.8h4.4v4.3h-4.4z"/><path fill="#00ea8a" d="M351.5 201.8h4.4v4.3h-4.4z"/><path fill="#00e46c" d="M265.0 205.5h4.4v4.3h-4.4zM268.8 209.3h4.4v4.3h-4.4z"/><path fill="#30e400" d="M280.0 209.3h4.4v4.3h-4.4zM310.1 220.5h4.4v4.3h-4.4zM321.4 220.5h4.4v4.3h-4.4z"/><path fill="#c6f000" d="M291.3 209.3h4.4v4.3h-4.4z"/><path fill="#60ea00" d="M295.1 213.0h4.4v4.3h-4.4z"/><path fill="#00de00" d="M343.9 213.0h4.4v4.3h-4.4zM313.9 224.3h4.4v4.3h-4.4z"/><path fill="#00e44e" d="M287.6 216.8h4.4v4.3h-4.4z"/><path fill="#6cea00" d="M306.4 216.8h4.4v4.3h-4.4zM328.9 216.8h4.4v4.3h-4.4z"/><path fill="#00ea84" d="M295.1 220.5h4.4v4.3h-4.4z"/></g>
<path d="M332.0 256.5L324.0 257.2L313.0 254.9L309.4 252.4L303.0 241.3L301.0 240.0L297.0 239.3L287.0 241.4L283.0 241.2L279.0 238.5L275.0 232.1L272.0 230.8L267.0 230.3L265.0 229.4L263.0 226.9L261.0 222.6L255.8 202.4L253.6 197.4L251.0 193.7L243.0 188.0L239.0 188.9L235.0 188.9L232.0 187.8L230.1 185.4L229.2 181.4L229.2 177.4L232.1 164.4L231.6 160.4L230.2 157.4L226.9 154.4L221.0 152.4L212.0 152.3L202.0 153.8L199.0 153.3L197.5 151.4L197.4 148.4L198.5 143.4L200.0 140.8L204.0 139.3L213.0 139.3L221.0 135.4L233.0 135.4L242.0 138.0L250.0 137.6L258.0 138.4L260.0 138.0L266.0 135.1L271.4 131.4L275.2 127.4L284.0 122.4L291.6 119.4L296.0 118.7L301.0 119.3L309.0 122.8L328.0 127.8L334.0 130.4L339.4 134.4L343.0 139.0L349.7 152.4L359.7 177.4L361.9 184.4L362.1 186.4L361.1 190.4L349.2 219.4L348.5 225.4L344.6 235.4L340.5 249.4L337.0 254.1L332.0 256.5M434.0 137.7L431.0 137.9L428.0 135.5L427.2 132.4L428.3 128.4L431.0 125.7L434.0 124.5L438.0 124.2L441.0 124.9L442.5 126.4L441.6 129.4L437.9 134.4L434.0 137.7M189.0 277.6L187.0 278.2L186.0 277.8L184.7 275.4L184.3 269.4L185.6 264.4L188.0 261.4L194.0 256.3L197.0 255.1L199.5 255.4L201.3 257.4L201.0 259.4L196.0 265.4L192.0 274.2L189.0 277.6M291.0 300.5L289.0 301.0L287.0 300.6L284.0 297.4L283.0 294.4L282.4 289.4L283.0 285.4L284.0 284.1L286.0 284.1L288.0 285.5L292.7 292.4L293.4 297.4L292.4 299.4L291.0 300.5M274.0 324.4L270.0 324.0L267.4 322.4L266.1 319.4L267.1 317.4L269.0 316.4L272.0 316.2L276.0 317.6L277.3 319.4L277.6 321.4L276.5 323.4L274.0 324.4M336.5 344.4L336.3 334.4L337.0 333.0L354.4 338.4L356.0 339.4L357.5 341.4L357.4 344.4M287.3 344.4L287.4 339.4L288.4 336.4L290.0 334.8L293.0 334.0L297.0 334.7L300.0 337.0L301.5 340.4L301.5 344.4" fill="none" stroke="#111" stroke-width="1.5" stroke-linejoin="round"/>
<path d="M321.0 228.5L315.0 229.2L308.0 227.9L296.0 222.1L275.0 214.9L272.0 213.1L268.7 210.4L264.0 204.3L259.0 195.4L256.0 187.4L255.4 183.4L255.7 180.4L257.4 176.4L262.0 169.4L263.9 159.4L265.4 155.4L270.1 150.4L274.4 143.4L279.0 138.0L286.0 132.9L291.0 130.6L297.0 129.7L307.0 131.0L320.0 131.2L326.0 132.4L329.0 134.0L334.1 138.4L342.6 149.4L349.6 161.4L354.4 173.4L355.8 181.4L355.6 188.4L352.0 207.7L349.0 214.3L344.8 218.4L339.0 221.9L330.0 225.9L321.0 228.5" fill="none" stroke="#111" stroke-width="1.5" stroke-linejoin="round"/>
<path d="M327.0 217.6L321.0 218.1L311.0 217.0L299.0 214.0L288.0 209.9L284.4 207.4L278.4 201.4L270.8 195.4L266.0 188.7L264.0 183.9L263.7 179.4L264.0 176.4L266.0 171.4L270.0 164.5L280.4 149.4L284.0 145.6L288.0 142.8L295.0 140.2L303.0 139.1L317.0 138.8L326.0 140.1L332.0 142.4L338.0 146.4L341.0 149.4L345.0 156.1L349.0 167.4L351.0 178.4L351.0 191.6L349.0 201.5L346.0 207.8L342.4 211.4L335.0 215.4L327.0 217.6" fill="none" stroke="#111" stroke-width="1.5" stroke-linejoin="round"/>
<path d="M319.0 210.5L312.0 210.6L303.0 208.7L293.3 204.4L288.9 200.4L287.3 195.4L286.4 187.4L286.6 158.4L287.0 153.4L288.0 151.3L297.0 148.4L303.0 147.4L313.0 147.1L319.0 148.0L325.0 150.1L331.0 153.6L335.4 157.4L340.6 164.4L343.5 171.4L344.7 178.4L344.7 187.4L342.8 194.4L338.0 200.4L331.0 206.0L325.0 209.0L319.0 210.5" fill="none" stroke="#111" stroke-width="1.5" stroke-linejoin="round"/>
<path d="M326.0 204.5L316.0 205.3L306.0 203.5L301.0 200.3L297.2 194.4L295.7 188.4L295.2 183.4L295.5 174.4L296.4 169.4L298.3 164.4L300.6 161.4L306.0 157.8L310.0 156.6L316.0 156.2L327.0 158.0L332.2 160.4L334.7 162.4L339.0 169.1L341.0 176.0L341.2 180.4L341.0 188.4L339.9 193.4L338.0 197.5L334.1 201.4L330.1 203.4L326.0 204.5" fill="none" stroke="#111" stroke-width="1.5" stroke-linejoin="round"/>
<path d="M321.0 197.6L315.0 198.0L308.0 196.1L303.9 192.4L301.2 185.4L301.0 175.5L302.9 169.4L307.0 164.4L313.2 161.4L320.0 161.1L325.0 162.7L328.6 166.4L330.6 172.4L331.4 181.4L329.7 190.4L328.2 193.4L326.2 195.4L321.0 197.6" fill="none" stroke="#111" stroke-width="1.5" stroke-linejoin="round"/>
<path d="M317.0 190.4L313.8 190.4L310.0 188.5L308.0 185.6L307.1 182.4L307.0 178.3L308.0 173.4L310.0 170.3L313.0 168.3L316.3 168.4L320.0 170.4L322.0 172.8L323.1 175.4L323.3 181.4L322.0 186.0L320.0 188.7L317.0 190.4" fill="none" stroke="#111" stroke-width="1.5" stroke-linejoin="round"/>
<path d="M230.5 84.4L235.0 81.3L244.4 69.4L245.4 66.4L243.9 64.4L238.0 62.0L230.0 61.4L224.0 62.9L219.9 66.4L218.0 70.3L217.1 74.4L217.2 78.4L218.3 81.4L220.0 83.4L223.0 85.0L227.0 85.3L230.5 84.4M156.0 86.5L162.0 86.1L166.0 84.0L168.9 80.4L169.7 76.4L168.5 70.4L166.0 66.1L162.0 63.7L156.0 63.2M329.3 86.4L331.2 85.4L333.0 83.2L333.7 80.4L333.4 77.4L330.8 73.4L328.7 72.4L326.0 72.4L323.0 73.8L321.0 75.7L319.6 78.4L319.3 81.4L321.0 84.4L323.0 85.8L326.0 86.7L329.3 86.4M230.1 122.4L237.3 119.4L241.6 115.4L242.4 112.4L242.0 110.4L239.0 107.0L234.0 105.6L228.0 106.2L223.0 108.4L219.4 112.4L218.2 117.4L218.6 119.4L219.8 121.4L224.0 123.2L230.1 122.4M414.9 177.4L419.0 175.2L422.2 170.4L423.4 163.4L422.0 157.4L419.0 154.1L414.0 152.6L407.0 153.3L401.7 155.4L399.0 157.9L397.7 161.4L398.1 166.4L400.0 170.9L403.0 174.4L406.1 176.4L411.0 177.7L414.9 177.4M406.0 207.4L408.9 204.4L409.2 202.4L408.8 200.4L406.0 197.5L402.0 197.4L398.5 200.4L397.8 202.4L398.2 204.4L399.7 206.4L401.3 207.4L404.0 207.9L406.0 207.4M196.9 222.4L199.3 219.4L199.8 216.4L199.4 214.4L198.0 212.4L196.0 211.4L192.0 211.9L189.9 213.4L188.5 215.4L188.0 218.4L188.7 220.4L192.0 222.9L194.0 223.2L196.9 222.4M363.5 252.4L366.0 250.8L368.0 248.4L368.7 246.4L368.6 244.4L367.7 242.4L366.0 240.8L364.0 240.0L361.0 239.9L358.0 241.4L356.3 243.4L355.2 246.4L355.2 248.4L356.0 250.7L358.0 252.7L361.0 253.2L363.5 252.4M210.3 295.4L214.0 292.5L224.0 280.4L230.5 270.4L232.7 265.4L233.3 262.4L232.5 259.4L230.2 257.4L226.0 256.7L222.3 258.4L215.2 267.4L207.9 274.4L205.0 278.4L202.3 286.4L202.0 289.4L202.5 292.4L204.0 294.6L206.0 295.7L208.0 296.0L210.3 295.4M457.0 258.0L451.0 258.1L447.1 259.4L444.1 262.4L443.4 265.4L444.9 269.4L448.0 272.0L452.0 273.2L457.0 273.1M377.0 282.4L380.1 279.4L380.4 275.4L378.0 272.3L374.0 271.6L372.0 272.5L370.3 274.4L369.6 276.4L369.7 279.4L370.9 281.4L372.4 282.4L375.0 282.9L377.0 282.4" fill="none" stroke="#111" stroke-width="1.5" stroke-dasharray="3 2"/>
<path d="M308.4 148.9V237.5M263.3 192.9H352" stroke="#f0f0f0" stroke-width="1.3" fill="none"/>
<rect x="436" y="59.8" width="6.8" height="15.2" fill="#fff"/><path d="M439.5 61.8V73.2" stroke="#111" stroke-width="1.6"/>
<ellipse cx="186.3" cy="315.2" rx="15.5" ry="11.5" transform="rotate(-50 186.3 315.2)" fill="#fff" stroke="#fff" stroke-width="1.2"/>
<path d="M194.5 313.6L198.8 313.2L198.6 316.5L196.3 320.2L194.2 321.5L192.8 318.5L193.2 315.2Z" fill="none" stroke="#111" stroke-width="1.3"/>
</g>
<rect x="156.0" y="44.4" width="300.7" height="299.8" fill="none" stroke="#111" stroke-width="1.4"/>
<path d="M162.4 344.2v-6M162.4 44.4v6M194.9 344.2v-6M194.9 44.4v6M227.4 344.2v-6M227.4 44.4v6M259.9 344.2v-6M259.9 44.4v6M292.4 344.2v-6M292.4 44.4v6M324.9 344.2v-6M324.9 44.4v6M357.4 344.2v-6M357.4 44.4v6M389.9 344.2v-6M389.9 44.4v6M422.4 344.2v-6M422.4 44.4v6M454.9 344.2v-6M454.9 44.4v6M162.4 344.2v4M156.0 71.2h6M456.7 71.2h-6M156.0 126.4h6M456.7 126.4h-6M156.0 181.6h6M456.7 181.6h-6M156.0 236.8h6M456.7 236.8h-6M156.0 292.0h6M456.7 292.0h-6" stroke="#111" stroke-width="1.3" fill="none"/>
<text x="107.30" y="79.30" font-size="16.5" textLength="40.50" lengthAdjust="spacingAndGlyphs" fill="#111">52''.5</text>
<text x="107.30" y="134.50" font-size="16.5" textLength="40.50" lengthAdjust="spacingAndGlyphs" fill="#111">52''.0</text>
<text x="107.30" y="189.70" font-size="16.5" textLength="40.50" lengthAdjust="spacingAndGlyphs" fill="#111">51''.5</text>
<text x="107.30" y="244.90" font-size="16.5" textLength="40.50" lengthAdjust="spacingAndGlyphs" fill="#111">51''.0</text>
<text x="67.80" y="300.10" font-size="16.5" textLength="9.80" lengthAdjust="spacingAndGlyphs" fill="#111">9</text><text x="77.60" y="293.60" font-size="10.5" textLength="6.23" lengthAdjust="spacingAndGlyphs" fill="#111">o</text><text x="83.83" y="300.10" font-size="16.5" textLength="63.97" lengthAdjust="spacingAndGlyphs" fill="#111">50'50''.5</text>
<text x="112.80" y="368.50" font-size="16.5" textLength="19.23" lengthAdjust="spacingAndGlyphs" fill="#111">13</text><text x="132.03" y="360.00" font-size="11.5" textLength="6.70" lengthAdjust="spacingAndGlyphs" fill="#111">h</text><text x="138.73" y="368.50" font-size="16.5" textLength="19.23" lengthAdjust="spacingAndGlyphs" fill="#111">19</text><text x="157.97" y="360.00" font-size="11.5" textLength="10.04" lengthAdjust="spacingAndGlyphs" fill="#111">m</text><text x="168.01" y="368.50" font-size="16.5" textLength="19.23" lengthAdjust="spacingAndGlyphs" fill="#111">11</text><text x="187.24" y="360.00" font-size="11.5" textLength="6.03" lengthAdjust="spacingAndGlyphs" fill="#111">s</text><text x="193.26" y="368.50" font-size="16.5" textLength="24.04" lengthAdjust="spacingAndGlyphs" fill="#111">.38</text>
<text x="237.30" y="368.50" font-size="16.5" textLength="18.22" lengthAdjust="spacingAndGlyphs" fill="#111">11</text><text x="255.52" y="360.00" font-size="11.5" textLength="5.71" lengthAdjust="spacingAndGlyphs" fill="#111">s</text><text x="261.23" y="368.50" font-size="16.5" textLength="22.77" lengthAdjust="spacingAndGlyphs" fill="#111">.32</text>
<text x="302.70" y="368.50" font-size="16.5" textLength="18.18" lengthAdjust="spacingAndGlyphs" fill="#111">11</text><text x="320.88" y="360.00" font-size="11.5" textLength="5.70" lengthAdjust="spacingAndGlyphs" fill="#111">s</text><text x="326.58" y="368.50" font-size="16.5" textLength="22.72" lengthAdjust="spacingAndGlyphs" fill="#111">.28</text>
<text x="367.50" y="368.50" font-size="16.5" textLength="18.34" lengthAdjust="spacingAndGlyphs" fill="#111">11</text><text x="385.84" y="360.00" font-size="11.5" textLength="5.75" lengthAdjust="spacingAndGlyphs" fill="#111">s</text><text x="391.58" y="368.50" font-size="16.5" textLength="22.92" lengthAdjust="spacingAndGlyphs" fill="#111">.24</text>
<text x="432.70" y="368.50" font-size="16.5" textLength="18.45" lengthAdjust="spacingAndGlyphs" fill="#111">11</text><text x="451.15" y="360.00" font-size="11.5" textLength="5.78" lengthAdjust="spacingAndGlyphs" fill="#111">s</text><text x="456.94" y="368.50" font-size="16.5" textLength="23.06" lengthAdjust="spacingAndGlyphs" fill="#111">.20</text>
<text x="218.70" y="394.70" font-size="16.5" textLength="174.10" lengthAdjust="spacingAndGlyphs" fill="#111">J2000  Right  Ascension</text>
<text x="0" y="0" font-size="16.5" fill="#111" textLength="136" lengthAdjust="spacingAndGlyphs" transform="translate(59.8 263) rotate(-90)">J2000  Declination</text>
<g shape-rendering="crispEdges"><rect x="496.0" y="40.0" width="12.8" height="1.5" fill="#f8cdf8"/><rect x="496.0" y="41.0" width="12.8" height="1.5" fill="#f7c7f7"/><rect x="496.0" y="42.0" width="12.8" height="1.5" fill="#f6c1f6"/><rect x="496.0" y="43.0" width="12.8" height="1.5" fill="#f5bcf5"/><rect x="496.0" y="44.0" width="12.8" height="1.5" fill="#f5b6f5"/><rect x="496.0" y="45.0" width="12.8" height="1.5" fill="#f4b0f4"/><rect x="496.0" y="46.0" width="12.8" height="1.5" fill="#f3aaf3"/><rect x="496.0" y="47.0" width="12.8" height="1.5" fill="#f3a4f3"/><rect x="496.0" y="48.0" width="12.8" height="1.5" fill="#f29ff2"/><rect x="496.0" y="49.0" width="12.8" height="1.5" fill="#f199f1"/><rect x="496.0" y="50.0" width="12.8" height="1.5" fill="#f093f0"/><rect x="496.0" y="51.0" width="12.8" height="1.5" fill="#f08ff0"/><rect x="496.0" y="52.0" width="12.8" height="1.5" fill="#f08cf0"/><rect x="496.0" y="53.0" width="12.8" height="1.5" fill="#f089f0"/><rect x="496.0" y="54.0" width="12.8" height="1.5" fill="#f086f0"/><rect x="496.0" y="55.0" width="12.8" height="1.5" fill="#f083f0"/><rect x="496.0" y="56.0" width="12.8" height="1.5" fill="#f080f0"/><rect x="496.0" y="57.0" width="12.8" height="1.5" fill="#f07df0"/><rect x="496.0" y="58.0" width="12.8" height="1.5" fill="#f07af0"/><rect x="496.0" y="59.0" width="12.8" height="1.5" fill="#f078f0"/><rect x="496.0" y="60.0" width="12.8" height="1.5" fill="#f075f0"/><rect x="496.0" y="61.0" width="12.8" height="1.5" fill="#f072f0"/><rect x="496.0" y="62.0" width="12.8" height="1.5" fill="#f06ff0"/><rect x="496.0" y="63.0" width="12.8" height="1.5" fill="#f06cf0"/><rect x="496.0" y="64.0" width="12.8" height="1.5" fill="#f069f0"/><rect x="496.0" y="65.0" width="12.8" height="1.5" fill="#f066f0"/><rect x="496.0" y="66.0" width="12.8" height="1.5" fill="#f063f0"/><rect x="496.0" y="67.0" width="12.8" height="1.5" fill="#f061f0"/><rect x="496.0" y="68.0" width="12.8" height="1.5" fill="#f15bf1"/><rect x="496.0" y="69.0" width="12.8" height="1.5" fill="#f256f2"/><rect x="496.0" y="70.0" width="12.8" height="1.5" fill="#f350f3"/><rect x="496.0" y="71.0" width="12.8" height="1.5" fill="#f34af3"/><rect x="496.0" y="72.0" width="12.8" height="1.5" fill="#f444f4"/><rect x="496.0" y="73.0" width="12.8" height="1.5" fill="#f53ff5"/><rect x="496.0" y="74.0" width="12.8" height="1.5" fill="#f639f6"/><rect x="496.0" y="75.0" width="12.8" height="1.5" fill="#f733f7"/><rect x="496.0" y="76.0" width="12.8" height="1.5" fill="#f82df8"/><rect x="496.0" y="77.0" width="12.8" height="1.5" fill="#f928f9"/><rect x="496.0" y="78.0" width="12.8" height="1.5" fill="#fa22fa"/><rect x="496.0" y="79.0" width="12.8" height="1.5" fill="#fb1cfb"/><rect x="496.0" y="80.0" width="12.8" height="1.5" fill="#fc16fc"/><rect x="496.0" y="81.0" width="12.8" height="1.5" fill="#fc11fc"/><rect x="496.0" y="82.0" width="12.8" height="1.5" fill="#fd0bfd"/><rect x="496.0" y="83.0" width="12.8" height="1.5" fill="#fe05fe"/><rect x="496.0" y="84.0" width="12.8" height="1.5" fill="#ff00fe"/><rect x="496.0" y="85.0" width="12.8" height="1.5" fill="#fd00f4"/><rect x="496.0" y="86.0" width="12.8" height="1.5" fill="#fc00ea"/><rect x="496.0" y="87.0" width="12.8" height="1.5" fill="#fb00e0"/><rect x="496.0" y="88.0" width="12.8" height="1.5" fill="#f900d6"/><rect x="496.0" y="89.0" width="12.8" height="1.5" fill="#f800cc"/><rect x="496.0" y="90.0" width="12.8" height="1.5" fill="#f700c2"/><rect x="496.0" y="91.0" width="12.8" height="1.5" fill="#f500b9"/><rect x="496.0" y="92.0" width="12.8" height="1.5" fill="#f400af"/><rect x="496.0" y="93.0" width="12.8" height="1.5" fill="#f200a5"/><rect x="496.0" y="94.0" width="12.8" height="1.5" fill="#f1009b"/><rect x="496.0" y="95.0" width="12.8" height="1.5" fill="#f00091"/><rect x="496.0" y="96.0" width="12.8" height="1.5" fill="#ee0087"/><rect x="496.0" y="97.0" width="12.8" height="1.5" fill="#ed007d"/><rect x="496.0" y="98.0" width="12.8" height="1.5" fill="#ec0073"/><rect x="496.0" y="99.0" width="12.8" height="1.5" fill="#ea0069"/><rect x="496.0" y="100.0" width="12.8" height="1.5" fill="#e90060"/><rect x="496.0" y="101.0" width="12.8" height="1.5" fill="#e90058"/><rect x="496.0" y="102.0" width="12.8" height="1.5" fill="#ea0052"/><rect x="496.0" y="103.0" width="12.8" height="1.5" fill="#eb004d"/><rect x="496.0" y="104.0" width="12.8" height="1.5" fill="#ed0047"/><rect x="496.0" y="105.0" width="12.8" height="1.5" fill="#ee0042"/><rect x="496.0" y="106.0" width="12.8" height="1.5" fill="#f0003d"/><rect x="496.0" y="107.0" width="12.8" height="1.5" fill="#f10037"/><rect x="496.0" y="108.0" width="12.8" height="1.5" fill="#f20032"/><rect x="496.0" y="109.0" width="12.8" height="1.5" fill="#f4002c"/><rect x="496.0" y="110.0" width="12.8" height="1.5" fill="#f50027"/><rect x="496.0" y="111.0" width="12.8" height="1.5" fill="#f60022"/><rect x="496.0" y="112.0" width="12.8" height="1.5" fill="#f8001c"/><rect x="496.0" y="113.0" width="12.8" height="1.5" fill="#f90017"/><rect x="496.0" y="114.0" width="12.8" height="1.5" fill="#fb0011"/><rect x="496.0" y="115.0" width="12.8" height="1.5" fill="#fc000c"/><rect x="496.0" y="116.0" width="12.8" height="1.5" fill="#fd0007"/><rect x="496.0" y="117.0" width="12.8" height="1.5" fill="#ff0001"/><rect x="496.0" y="118.0" width="12.8" height="1.5" fill="#ff0400"/><rect x="496.0" y="119.0" width="12.8" height="1.5" fill="#ff0800"/><rect x="496.0" y="120.0" width="12.8" height="1.5" fill="#ff0d00"/><rect x="496.0" y="121.0" width="12.8" height="1.5" fill="#ff1200"/><rect x="496.0" y="122.0" width="12.8" height="1.5" fill="#ff1700"/><rect x="496.0" y="123.0" width="12.8" height="1.5" fill="#ff1c00"/><rect x="496.0" y="124.0" width="12.8" height="1.5" fill="#ff2000"/><rect x="496.0" y="125.0" width="12.8" height="1.5" fill="#ff2500"/><rect x="496.0" y="126.0" width="12.8" height="1.5" fill="#ff2a00"/><rect x="496.0" y="127.0" width="12.8" height="1.5" fill="#ff2f00"/><rect x="496.0" y="128.0" width="12.8" height="1.5" fill="#ff3400"/><rect x="496.0" y="129.0" width="12.8" height="1.5" fill="#ff3800"/><rect x="496.0" y="130.0" width="12.8" height="1.5" fill="#ff3d00"/><rect x="496.0" y="131.0" width="12.8" height="1.5" fill="#ff4200"/><rect x="496.0" y="132.0" width="12.8" height="1.5" fill="#ff4700"/><rect x="496.0" y="133.0" width="12.8" height="1.5" fill="#ff4c00"/><rect x="496.0" y="134.0" width="12.8" height="1.5" fill="#ff5000"/><rect x="496.0" y="135.0" width="12.8" height="1.5" fill="#ff5500"/><rect x="496.0" y="136.0" width="12.8" height="1.5" fill="#ff5a00"/><rect x="496.0" y="137.0" width="12.8" height="1.5" fill="#ff5f00"/><rect x="496.0" y="138.0" width="12.8" height="1.5" fill="#ff6400"/><rect x="496.0" y="139.0" width="12.8" height="1.5" fill="#ff6800"/><rect x="496.0" y="140.0" width="12.8" height="1.5" fill="#ff6d00"/><rect x="496.0" y="141.0" width="12.8" height="1.5" fill="#ff7200"/><rect x="496.0" y="142.0" width="12.8" height="1.5" fill="#ff7700"/><rect x="496.0" y="143.0" width="12.8" height="1.5" fill="#ff7c00"/><rect x="496.0" y="144.0" width="12.8" height="1.5" fill="#ff8000"/><rect x="496.0" y="145.0" width="12.8" height="1.5" fill="#ff8400"/><rect x="496.0" y="146.0" width="12.8" height="1.5" fill="#ff8700"/><rect x="496.0" y="147.0" width="12.8" height="1.5" fill="#ff8b00"/><rect x="496.0" y="148.0" width="12.8" height="1.5" fill="#ff8f00"/><rect x="496.0" y="149.0" width="12.8" height="1.5" fill="#ff9200"/><rect x="496.0" y="150.0" width="12.8" height="1.5" fill="#ff9600"/><rect x="496.0" y="151.0" width="12.8" height="1.5" fill="#ff9900"/><rect x="496.0" y="152.0" width="12.8" height="1.5" fill="#ff9d00"/><rect x="496.0" y="153.0" width="12.8" height="1.5" fill="#ffa100"/><rect x="496.0" y="154.0" width="12.8" height="1.5" fill="#ffa400"/><rect x="496.0" y="155.0" width="12.8" height="1.5" fill="#ffa800"/><rect x="496.0" y="156.0" width="12.8" height="1.5" fill="#ffab00"/><rect x="496.0" y="157.0" width="12.8" height="1.5" fill="#ffaf00"/><rect x="496.0" y="158.0" width="12.8" height="1.5" fill="#ffb300"/><rect x="496.0" y="159.0" width="12.8" height="1.5" fill="#ffb700"/><rect x="496.0" y="160.0" width="12.8" height="1.5" fill="#ffbb00"/><rect x="496.0" y="161.0" width="12.8" height="1.5" fill="#ffc000"/><rect x="496.0" y="162.0" width="12.8" height="1.5" fill="#ffc400"/><rect x="496.0" y="163.0" width="12.8" height="1.5" fill="#ffc800"/><rect x="496.0" y="164.0" width="12.8" height="1.5" fill="#ffcc00"/><rect x="496.0" y="165.0" width="12.8" height="1.5" fill="#ffd000"/><rect x="496.0" y="166.0" width="12.8" height="1.5" fill="#ffd500"/><rect x="496.0" y="167.0" width="12.8" height="1.5" fill="#ffd900"/><rect x="496.0" y="168.0" width="12.8" height="1.5" fill="#ffdd00"/><rect x="496.0" y="169.0" width="12.8" height="1.5" fill="#ffe100"/><rect x="496.0" y="170.0" width="12.8" height="1.5" fill="#ffe500"/><rect x="496.0" y="171.0" width="12.8" height="1.5" fill="#fee800"/><rect x="496.0" y="172.0" width="12.8" height="1.5" fill="#fbe900"/><rect x="496.0" y="173.0" width="12.8" height="1.5" fill="#f8e900"/><rect x="496.0" y="174.0" width="12.8" height="1.5" fill="#f5ea00"/><rect x="496.0" y="175.0" width="12.8" height="1.5" fill="#f2eb00"/><rect x="496.0" y="176.0" width="12.8" height="1.5" fill="#efeb00"/><rect x="496.0" y="177.0" width="12.8" height="1.5" fill="#ecec00"/><rect x="496.0" y="178.0" width="12.8" height="1.5" fill="#e9ec00"/><rect x="496.0" y="179.0" width="12.8" height="1.5" fill="#e7ed00"/><rect x="496.0" y="180.0" width="12.8" height="1.5" fill="#e4ee00"/><rect x="496.0" y="181.0" width="12.8" height="1.5" fill="#e1ee00"/><rect x="496.0" y="182.0" width="12.8" height="1.5" fill="#deef00"/><rect x="496.0" y="183.0" width="12.8" height="1.5" fill="#dbef00"/><rect x="496.0" y="184.0" width="12.8" height="1.5" fill="#d8f000"/><rect x="496.0" y="185.0" width="12.8" height="1.5" fill="#d2f000"/><rect x="496.0" y="186.0" width="12.8" height="1.5" fill="#cbf000"/><rect x="496.0" y="187.0" width="12.8" height="1.5" fill="#c5f000"/><rect x="496.0" y="188.0" width="12.8" height="1.5" fill="#bff000"/><rect x="496.0" y="189.0" width="12.8" height="1.5" fill="#b9f000"/><rect x="496.0" y="190.0" width="12.8" height="1.5" fill="#b2f000"/><rect x="496.0" y="191.0" width="12.8" height="1.5" fill="#acf000"/><rect x="496.0" y="192.0" width="12.8" height="1.5" fill="#a6f000"/><rect x="496.0" y="193.0" width="12.8" height="1.5" fill="#a0f000"/><rect x="496.0" y="194.0" width="12.8" height="1.5" fill="#99f000"/><rect x="496.0" y="195.0" width="12.8" height="1.5" fill="#93f000"/><rect x="496.0" y="196.0" width="12.8" height="1.5" fill="#8df000"/><rect x="496.0" y="197.0" width="12.8" height="1.5" fill="#87f000"/><rect x="496.0" y="198.0" width="12.8" height="1.5" fill="#81f000"/><rect x="496.0" y="199.0" width="12.8" height="1.5" fill="#7af000"/><rect x="496.0" y="200.0" width="12.8" height="1.5" fill="#74f000"/><rect x="496.0" y="201.0" width="12.8" height="1.5" fill="#6ef001"/><rect x="496.0" y="202.0" width="12.8" height="1.5" fill="#67ef05"/><rect x="496.0" y="203.0" width="12.8" height="1.5" fill="#60ef09"/><rect x="496.0" y="204.0" width="12.8" height="1.5" fill="#5aee0d"/><rect x="496.0" y="205.0" width="12.8" height="1.5" fill="#53ee11"/><rect x="496.0" y="206.0" width="12.8" height="1.5" fill="#4ced15"/><rect x="496.0" y="207.0" width="12.8" height="1.5" fill="#45ed18"/><rect x="496.0" y="208.0" width="12.8" height="1.5" fill="#3fec1c"/><rect x="496.0" y="209.0" width="12.8" height="1.5" fill="#38ec20"/><rect x="496.0" y="210.0" width="12.8" height="1.5" fill="#31ec24"/><rect x="496.0" y="211.0" width="12.8" height="1.5" fill="#2beb28"/><rect x="496.0" y="212.0" width="12.8" height="1.5" fill="#24eb2c"/><rect x="496.0" y="213.0" width="12.8" height="1.5" fill="#1dea2f"/><rect x="496.0" y="214.0" width="12.8" height="1.5" fill="#16ea33"/><rect x="496.0" y="215.0" width="12.8" height="1.5" fill="#10e937"/><rect x="496.0" y="216.0" width="12.8" height="1.5" fill="#09e93b"/><rect x="496.0" y="217.0" width="12.8" height="1.5" fill="#02e83f"/><rect x="496.0" y="218.0" width="12.8" height="1.5" fill="#00e846"/><rect x="496.0" y="219.0" width="12.8" height="1.5" fill="#00e94e"/><rect x="496.0" y="220.0" width="12.8" height="1.5" fill="#00e957"/><rect x="496.0" y="221.0" width="12.8" height="1.5" fill="#00ea60"/><rect x="496.0" y="222.0" width="12.8" height="1.5" fill="#00ea68"/><rect x="496.0" y="223.0" width="12.8" height="1.5" fill="#00eb71"/><rect x="496.0" y="224.0" width="12.8" height="1.5" fill="#00eb7a"/><rect x="496.0" y="225.0" width="12.8" height="1.5" fill="#00ec82"/><rect x="496.0" y="226.0" width="12.8" height="1.5" fill="#00ec8b"/><rect x="496.0" y="227.0" width="12.8" height="1.5" fill="#00ed93"/><rect x="496.0" y="228.0" width="12.8" height="1.5" fill="#00ed9c"/><rect x="496.0" y="229.0" width="12.8" height="1.5" fill="#00eea5"/><rect x="496.0" y="230.0" width="12.8" height="1.5" fill="#00eead"/><rect x="496.0" y="231.0" width="12.8" height="1.5" fill="#00efb6"/><rect x="496.0" y="232.0" width="12.8" height="1.5" fill="#00efbf"/><rect x="496.0" y="233.0" width="12.8" height="1.5" fill="#00f0c7"/><rect x="496.0" y="234.0" width="12.8" height="1.5" fill="#00f0d0"/><rect x="496.0" y="235.0" width="12.8" height="1.5" fill="#00efd3"/><rect x="496.0" y="236.0" width="12.8" height="1.5" fill="#00eed6"/><rect x="496.0" y="237.0" width="12.8" height="1.5" fill="#00edd8"/><rect x="496.0" y="238.0" width="12.8" height="1.5" fill="#00ecdb"/><rect x="496.0" y="239.0" width="12.8" height="1.5" fill="#00ebde"/><rect x="496.0" y="240.0" width="12.8" height="1.5" fill="#00eae1"/><rect x="496.0" y="241.0" width="12.8" height="1.5" fill="#00e9e4"/><rect x="496.0" y="242.0" width="12.8" height="1.5" fill="#00e8e6"/><rect x="496.0" y="243.0" width="12.8" height="1.5" fill="#00e7e9"/><rect x="496.0" y="244.0" width="12.8" height="1.5" fill="#00e6ec"/><rect x="496.0" y="245.0" width="12.8" height="1.5" fill="#00e5ef"/><rect x="496.0" y="246.0" width="12.8" height="1.5" fill="#00e5f2"/><rect x="496.0" y="247.0" width="12.8" height="1.5" fill="#00e4f5"/><rect x="496.0" y="248.0" width="12.8" height="1.5" fill="#00e3f7"/><rect x="496.0" y="249.0" width="12.8" height="1.5" fill="#00e2fa"/><rect x="496.0" y="250.0" width="12.8" height="1.5" fill="#00e1fd"/><rect x="496.0" y="251.0" width="12.8" height="1.5" fill="#00dfff"/><rect x="496.0" y="252.0" width="12.8" height="1.5" fill="#00daff"/><rect x="496.0" y="253.0" width="12.8" height="1.5" fill="#00d5ff"/><rect x="496.0" y="254.0" width="12.8" height="1.5" fill="#00d0ff"/><rect x="496.0" y="255.0" width="12.8" height="1.5" fill="#00cbff"/><rect x="496.0" y="256.0" width="12.8" height="1.5" fill="#00c7ff"/><rect x="496.0" y="257.0" width="12.8" height="1.5" fill="#00c2ff"/><rect x="496.0" y="258.0" width="12.8" height="1.5" fill="#00bdff"/><rect x="496.0" y="259.0" width="12.8" height="1.5" fill="#00b8ff"/><rect x="496.0" y="260.0" width="12.8" height="1.5" fill="#00b3ff"/><rect x="496.0" y="261.0" width="12.8" height="1.5" fill="#00afff"/><rect x="496.0" y="262.0" width="12.8" height="1.5" fill="#00aaff"/><rect x="496.0" y="263.0" width="12.8" height="1.5" fill="#00a5ff"/><rect x="496.0" y="264.0" width="12.8" height="1.5" fill="#00a0ff"/><rect x="496.0" y="265.0" width="12.8" height="1.5" fill="#009bff"/><rect x="496.0" y="266.0" width="12.8" height="1.5" fill="#0097ff"/><rect x="496.0" y="267.0" width="12.8" height="1.5" fill="#0092ff"/><rect x="496.0" y="268.0" width="12.8" height="1.5" fill="#008dff"/><rect x="496.0" y="269.0" width="12.8" height="1.5" fill="#0088ff"/><rect x="496.0" y="270.0" width="12.8" height="1.5" fill="#0083ff"/><rect x="496.0" y="271.0" width="12.8" height="1.5" fill="#007fff"/><rect x="496.0" y="272.0" width="12.8" height="1.5" fill="#007aff"/><rect x="496.0" y="273.0" width="12.8" height="1.5" fill="#0075ff"/><rect x="496.0" y="274.0" width="12.8" height="1.5" fill="#0070ff"/><rect x="496.0" y="275.0" width="12.8" height="1.5" fill="#006bff"/><rect x="496.0" y="276.0" width="12.8" height="1.5" fill="#0067ff"/><rect x="496.0" y="277.0" width="12.8" height="1.5" fill="#0062ff"/><rect x="496.0" y="278.0" width="12.8" height="1.5" fill="#005dff"/><rect x="496.0" y="279.0" width="12.8" height="1.5" fill="#0058ff"/><rect x="496.0" y="280.0" width="12.8" height="1.5" fill="#0053ff"/><rect x="496.0" y="281.0" width="12.8" height="1.5" fill="#004fff"/><rect x="496.0" y="282.0" width="12.8" height="1.5" fill="#004aff"/><rect x="496.0" y="283.0" width="12.8" height="1.5" fill="#0045ff"/><rect x="496.0" y="284.0" width="12.8" height="1.5" fill="#0040ff"/><rect x="496.0" y="285.0" width="12.8" height="1.5" fill="#003cfe"/><rect x="496.0" y="286.0" width="12.8" height="1.5" fill="#0039fd"/><rect x="496.0" y="287.0" width="12.8" height="1.5" fill="#0035fc"/><rect x="496.0" y="288.0" width="12.8" height="1.5" fill="#0031fb"/><rect x="496.0" y="289.0" width="12.8" height="1.5" fill="#002dfb"/><rect x="496.0" y="290.0" width="12.8" height="1.5" fill="#0029fa"/><rect x="496.0" y="291.0" width="12.8" height="1.5" fill="#0025f9"/><rect x="496.0" y="292.0" width="12.8" height="1.5" fill="#0022f8"/><rect x="496.0" y="293.0" width="12.8" height="1.5" fill="#001ef7"/><rect x="496.0" y="294.0" width="12.8" height="1.5" fill="#001af6"/><rect x="496.0" y="295.0" width="12.8" height="1.5" fill="#0016f5"/><rect x="496.0" y="296.0" width="12.8" height="1.5" fill="#0012f4"/><rect x="496.0" y="297.0" width="12.8" height="1.5" fill="#000ef3"/><rect x="496.0" y="298.0" width="12.8" height="1.5" fill="#000bf2"/><rect x="496.0" y="299.0" width="12.8" height="1.5" fill="#0007f2"/><rect x="496.0" y="300.0" width="12.8" height="1.5" fill="#0003f1"/><rect x="496.0" y="301.0" width="12.8" height="1.5" fill="#0000ef"/><rect x="496.0" y="302.0" width="12.8" height="1.5" fill="#0000ed"/><rect x="496.0" y="303.0" width="12.8" height="1.5" fill="#0000ea"/><rect x="496.0" y="304.0" width="12.8" height="1.5" fill="#0000e7"/><rect x="496.0" y="305.0" width="12.8" height="1.5" fill="#0000e5"/><rect x="496.0" y="306.0" width="12.8" height="1.5" fill="#0000e2"/><rect x="496.0" y="307.0" width="12.8" height="1.5" fill="#0000e0"/><rect x="496.0" y="308.0" width="12.8" height="1.5" fill="#0000dd"/><rect x="496.0" y="309.0" width="12.8" height="1.5" fill="#0000da"/><rect x="496.0" y="310.0" width="12.8" height="1.5" fill="#0000d8"/><rect x="496.0" y="311.0" width="12.8" height="1.5" fill="#0000d5"/><rect x="496.0" y="312.0" width="12.8" height="1.5" fill="#0000d2"/><rect x="496.0" y="313.0" width="12.8" height="1.5" fill="#0000d0"/><rect x="496.0" y="314.0" width="12.8" height="1.5" fill="#0000cd"/><rect x="496.0" y="315.0" width="12.8" height="1.5" fill="#0000ca"/><rect x="496.0" y="316.0" width="12.8" height="1.5" fill="#0000c8"/><rect x="496.0" y="317.0" width="12.8" height="1.5" fill="#0000c5"/><rect x="496.0" y="318.0" width="12.8" height="1.5" fill="#0000c2"/><rect x="496.0" y="319.0" width="12.8" height="1.5" fill="#0000c0"/><rect x="496.0" y="320.0" width="12.8" height="1.5" fill="#0000bd"/><rect x="496.0" y="321.0" width="12.8" height="1.5" fill="#0000bb"/><rect x="496.0" y="322.0" width="12.8" height="1.5" fill="#0000b8"/><rect x="496.0" y="323.0" width="12.8" height="1.5" fill="#0000b5"/><rect x="496.0" y="324.0" width="12.8" height="1.5" fill="#0000b3"/><rect x="496.0" y="325.0" width="12.8" height="1.5" fill="#0000b0"/><rect x="496.0" y="326.0" width="12.8" height="1.5" fill="#0000ad"/><rect x="496.0" y="327.0" width="12.8" height="1.5" fill="#0000ab"/><rect x="496.0" y="328.0" width="12.8" height="1.5" fill="#0000a8"/><rect x="496.0" y="329.0" width="12.8" height="1.5" fill="#0000a5"/><rect x="496.0" y="330.0" width="12.8" height="1.5" fill="#0000a3"/><rect x="496.0" y="331.0" width="12.8" height="1.5" fill="#0000a0"/><rect x="496.0" y="332.0" width="12.8" height="1.5" fill="#00009e"/><rect x="496.0" y="333.0" width="12.8" height="1.5" fill="#00009b"/><rect x="496.0" y="334.0" width="12.8" height="1.5" fill="#000098"/><rect x="496.0" y="335.0" width="12.8" height="1.5" fill="#000096"/><rect x="496.0" y="336.0" width="12.8" height="1.5" fill="#000093"/><rect x="496.0" y="337.0" width="12.8" height="1.5" fill="#000090"/><rect x="496.0" y="338.0" width="12.8" height="1.5" fill="#00008d"/><rect x="496.0" y="339.0" width="12.8" height="1.5" fill="#00008b"/><rect x="496.0" y="340.0" width="12.8" height="1.5" fill="#000088"/><rect x="496.0" y="341.0" width="12.8" height="1.5" fill="#000085"/><rect x="496.0" y="342.0" width="12.8" height="1.5" fill="#000082"/><rect x="496.0" y="343.0" width="12.8" height="1.5" fill="#00007f"/><rect x="496.0" y="344.0" width="12.8" height="1.5" fill="#00007d"/><rect x="496.0" y="345.0" width="12.8" height="1.5" fill="#00007a"/><rect x="496.0" y="346.0" width="12.8" height="1.5" fill="#000077"/><rect x="496.0" y="347.0" width="12.8" height="1.5" fill="#000074"/><rect x="496.0" y="348.0" width="12.8" height="1.5" fill="#000072"/><rect x="496.0" y="349.0" width="12.8" height="1.5" fill="#00006f"/><rect x="496.0" y="350.0" width="12.8" height="1.5" fill="#00006c"/><rect x="496.0" y="351.0" width="12.8" height="1.5" fill="#000069"/><rect x="496.0" y="352.0" width="12.8" height="1.5" fill="#000067"/><rect x="496.0" y="353.0" width="12.8" height="1.5" fill="#000064"/><rect x="496.0" y="354.0" width="12.8" height="1.5" fill="#000061"/><rect x="496.0" y="355.0" width="12.8" height="1.5" fill="#00005e"/><rect x="496.0" y="356.0" width="12.8" height="1.5" fill="#00005c"/><rect x="496.0" y="357.0" width="12.8" height="1.5" fill="#000059"/><rect x="496.0" y="358.0" width="12.8" height="1.5" fill="#000056"/><rect x="496.0" y="359.0" width="12.8" height="1.5" fill="#000053"/><rect x="496.0" y="360.0" width="12.8" height="1.5" fill="#000051"/><rect x="496.0" y="361.0" width="12.8" height="1.5" fill="#00004e"/><rect x="496.0" y="362.0" width="12.8" height="1.5" fill="#00004b"/><rect x="496.0" y="363.0" width="12.8" height="1.5" fill="#000048"/><rect x="496.0" y="364.0" width="12.8" height="1.5" fill="#000046"/><rect x="496.0" y="365.0" width="12.8" height="1.5" fill="#000043"/><rect x="496.0" y="366.0" width="12.8" height="1.5" fill="#000040"/><rect x="496.0" y="367.0" width="12.8" height="1.5" fill="#00003d"/><rect x="496.0" y="368.0" width="12.8" height="1.5" fill="#00003b"/><rect x="496.0" y="369.0" width="12.8" height="1.5" fill="#000039"/><rect x="496.0" y="370.0" width="12.8" height="1.5" fill="#000036"/><rect x="496.0" y="371.0" width="12.8" height="1.5" fill="#000034"/><rect x="496.0" y="372.0" width="12.8" height="1.5" fill="#000032"/><rect x="496.0" y="373.0" width="12.8" height="1.5" fill="#000030"/><rect x="496.0" y="374.0" width="12.8" height="1.5" fill="#00002d"/><rect x="496.0" y="375.0" width="12.8" height="1.5" fill="#00002b"/><rect x="496.0" y="376.0" width="12.8" height="1.5" fill="#000029"/><rect x="496.0" y="377.0" width="12.8" height="1.5" fill="#000027"/><rect x="496.0" y="378.0" width="12.8" height="1.5" fill="#000025"/><rect x="496.0" y="379.0" width="12.8" height="1.5" fill="#000022"/><rect x="496.0" y="380.0" width="12.8" height="1.5" fill="#000020"/><rect x="496.0" y="381.0" width="12.8" height="1.5" fill="#00001e"/><rect x="496.0" y="382.0" width="12.8" height="1.5" fill="#00001c"/><rect x="496.0" y="383.0" width="12.8" height="1.5" fill="#000019"/><rect x="496.0" y="384.0" width="12.8" height="1.5" fill="#000017"/><rect x="496.0" y="385.0" width="12.8" height="1.5" fill="#000015"/><rect x="496.0" y="386.0" width="12.8" height="1.5" fill="#000013"/><rect x="496.0" y="387.0" width="12.8" height="1.5" fill="#000011"/><rect x="496.0" y="388.0" width="12.8" height="1.5" fill="#00000e"/><rect x="496.0" y="389.0" width="12.8" height="1.5" fill="#00000c"/><rect x="496.0" y="390.0" width="12.8" height="1.5" fill="#00000a"/></g>
<rect x="496.0" y="40.0" width="12.8" height="351.3" fill="none" stroke="#111" stroke-width="1.2"/>
<line x1="496.0" y1="67.7" x2="498.5" y2="67.7" stroke="#111" stroke-width="1"/>
<line x1="506.3" y1="67.7" x2="508.8" y2="67.7" stroke="#111" stroke-width="1"/>
<line x1="496.0" y1="101.2" x2="498.5" y2="101.2" stroke="#111" stroke-width="1"/>
<line x1="506.3" y1="101.2" x2="508.8" y2="101.2" stroke="#111" stroke-width="1"/>
<line x1="496.0" y1="134.6" x2="498.5" y2="134.6" stroke="#111" stroke-width="1"/>
<line x1="506.3" y1="134.6" x2="508.8" y2="134.6" stroke="#111" stroke-width="1"/>
<line x1="496.0" y1="168.1" x2="498.5" y2="168.1" stroke="#111" stroke-width="1"/>
<line x1="506.3" y1="168.1" x2="508.8" y2="168.1" stroke="#111" stroke-width="1"/>
<line x1="496.0" y1="201.5" x2="498.5" y2="201.5" stroke="#111" stroke-width="1"/>
<line x1="506.3" y1="201.5" x2="508.8" y2="201.5" stroke="#111" stroke-width="1"/>
<line x1="496.0" y1="234.9" x2="498.5" y2="234.9" stroke="#111" stroke-width="1"/>
<line x1="506.3" y1="234.9" x2="508.8" y2="234.9" stroke="#111" stroke-width="1"/>
<line x1="496.0" y1="268.4" x2="498.5" y2="268.4" stroke="#111" stroke-width="1"/>
<line x1="506.3" y1="268.4" x2="508.8" y2="268.4" stroke="#111" stroke-width="1"/>
<line x1="496.0" y1="301.9" x2="498.5" y2="301.9" stroke="#111" stroke-width="1"/>
<line x1="506.3" y1="301.9" x2="508.8" y2="301.9" stroke="#111" stroke-width="1"/>
<line x1="496.0" y1="335.3" x2="498.5" y2="335.3" stroke="#111" stroke-width="1"/>
<line x1="506.3" y1="335.3" x2="508.8" y2="335.3" stroke="#111" stroke-width="1"/>
<line x1="496.0" y1="368.8" x2="498.5" y2="368.8" stroke="#111" stroke-width="1"/>
<line x1="506.3" y1="368.8" x2="508.8" y2="368.8" stroke="#111" stroke-width="1"/>
<text x="517.6" y="76.0" font-size="16.5" fill="#111">0.7</text>
<text x="517.6" y="109.5" font-size="16.5" fill="#111">0.6</text>
<text x="517.6" y="142.9" font-size="16.5" fill="#111">0.5</text>
<text x="517.6" y="176.4" font-size="16.5" fill="#111">0.4</text>
<text x="517.6" y="209.8" font-size="16.5" fill="#111">0.3</text>
<text x="517.6" y="243.2" font-size="16.5" fill="#111">0.2</text>
<text x="517.6" y="276.7" font-size="16.5" fill="#111">0.1</text>
<text x="517.6" y="310.2" font-size="16.5" fill="#111">0</text>
<text x="517.6" y="343.6" font-size="16.5" fill="#111">−0.1</text>
<text x="517.6" y="377.1" font-size="16.5" fill="#111">−0.2</text>
<text x="0" y="0" font-size="16" fill="#111" textLength="127" lengthAdjust="spacing" transform="translate(563.6 152.3) rotate(90)">(Jy/beam.km/s)</text>
<g shape-rendering="crispEdges"><path fill="#00f0f0" d="M856.8 138.5h5.0v5.0h-5.0zM874.4 151.7h5.0v5.0h-5.0zM874.4 160.5h5.0v5.0h-5.0zM865.6 173.7h5.0v5.0h-5.0zM865.6 178.1h5.0v5.0h-5.0zM865.6 182.5h5.0v5.0h-5.0zM848.0 195.7h5.0v5.0h-5.0z"/><path fill="#00eac0" d="M861.2 138.5h5.0v5.0h-5.0zM883.2 151.7h5.0v5.0h-5.0zM870.0 178.1h5.0v5.0h-5.0z"/><path fill="#00eaa2" d="M865.6 138.5h5.0v5.0h-5.0zM870.0 182.5h5.0v5.0h-5.0zM856.8 200.1h5.0v5.0h-5.0zM830.4 208.9h5.0v5.0h-5.0z"/><path fill="#00ea96" d="M870.0 138.5h13.8v5.0h-13.8zM887.6 147.3h5.0v5.0h-5.0zM887.6 151.7h5.0v5.0h-5.0zM834.8 208.9h5.0v5.0h-5.0z"/><path fill="#00ea84" d="M883.2 138.5h5.0v5.0h-5.0z"/><path fill="#00e460" d="M887.6 138.5h5.0v5.0h-5.0zM865.6 195.7h5.0v5.0h-5.0z"/><path fill="#00e430" d="M892.0 138.5h5.0v5.0h-5.0z"/><path fill="#0ca8f0" d="M852.4 142.9h5.0v5.0h-5.0zM830.4 173.7h13.8v5.0h-13.8z"/><path fill="#06d8f0" d="M856.8 142.9h5.0v5.0h-5.0zM856.8 178.1h5.0v5.0h-5.0zM839.2 182.5h13.8v5.0h-13.8zM861.2 182.5h5.0v5.0h-5.0zM826.0 186.9h5.0v5.0h-5.0zM848.0 186.9h5.0v5.0h-5.0z"/><path fill="#00f0d2" d="M861.2 142.9h5.0v5.0h-5.0zM878.8 160.5h5.0v5.0h-5.0zM870.0 173.7h5.0v5.0h-5.0zM843.6 200.1h5.0v5.0h-5.0z"/><path fill="#00eab4" d="M865.6 142.9h5.0v5.0h-5.0zM874.4 142.9h5.0v5.0h-5.0zM883.2 147.3h5.0v5.0h-5.0zM878.8 164.9h5.0v5.0h-5.0zM861.2 195.7h5.0v5.0h-5.0z"/><path fill="#00eaae" d="M870.0 142.9h5.0v5.0h-5.0zM878.8 142.9h5.0v5.0h-5.0zM865.6 191.3h5.0v5.0h-5.0zM839.2 204.5h5.0v5.0h-5.0z"/><path fill="#00ea9c" d="M883.2 142.9h5.0v5.0h-5.0zM843.6 204.5h5.0v5.0h-5.0z"/><path fill="#00e478" d="M887.6 142.9h5.0v5.0h-5.0zM830.4 213.3h5.0v5.0h-5.0z"/><path fill="#00e43c" d="M892.0 142.9h5.0v5.0h-5.0zM892.0 151.7h5.0v5.0h-5.0z"/><path fill="#00de06" d="M896.4 142.9h5.0v5.0h-5.0zM852.4 208.9h5.0v5.0h-5.0z"/><path fill="#42ea00" d="M900.8 142.9h5.0v5.0h-5.0z"/><path fill="#0642e4" d="M848.0 147.3h5.0v5.0h-5.0zM848.0 160.5h5.0v5.0h-5.0zM834.8 164.9h9.4v5.0h-9.4z"/><path fill="#0c84ea" d="M852.4 147.3h5.0v5.0h-5.0z"/><path fill="#0cbaf0" d="M856.8 147.3h5.0v5.0h-5.0zM861.2 160.5h5.0v5.0h-5.0zM852.4 169.3h5.0v5.0h-5.0zM848.0 173.7h5.0v5.0h-5.0z"/><path fill="#00e4f0" d="M861.2 147.3h5.0v5.0h-5.0zM870.0 160.5h5.0v5.0h-5.0zM865.6 169.3h5.0v5.0h-5.0zM861.2 173.7h5.0v5.0h-5.0zM856.8 191.3h5.0v5.0h-5.0zM830.4 195.7h5.0v5.0h-5.0z"/><path fill="#00f0de" d="M865.6 147.3h5.0v5.0h-5.0zM878.8 151.7h5.0v5.0h-5.0zM878.8 156.1h5.0v5.0h-5.0zM874.4 164.9h5.0v5.0h-5.0zM865.6 186.9h5.0v5.0h-5.0zM834.8 200.1h5.0v5.0h-5.0z"/><path fill="#00f0d8" d="M870.0 147.3h9.4v5.0h-9.4zM856.8 195.7h5.0v5.0h-5.0zM839.2 200.1h5.0v5.0h-5.0zM826.0 204.5h5.0v5.0h-5.0z"/><path fill="#00eacc" d="M878.8 147.3h5.0v5.0h-5.0zM830.4 204.5h5.0v5.0h-5.0z"/><path fill="#00e448" d="M892.0 147.3h5.0v5.0h-5.0zM887.6 160.5h5.0v5.0h-5.0zM878.8 173.7h5.0v5.0h-5.0z"/><path fill="#06de00" d="M896.4 147.3h5.0v5.0h-5.0zM865.6 200.1h5.0v5.0h-5.0zM861.2 204.5h5.0v5.0h-5.0zM843.6 217.7h5.0v5.0h-5.0z"/><path fill="#5aea00" d="M900.8 147.3h5.0v5.0h-5.0zM896.4 156.1h5.0v5.0h-5.0zM848.0 226.5h5.0v5.0h-5.0z"/><path fill="#90ea00" d="M905.2 147.3h5.0v5.0h-5.0zM843.6 230.9h5.0v5.0h-5.0z"/><path fill="#0018de" d="M843.6 151.7h5.0v5.0h-5.0zM839.2 156.1h9.4v5.0h-9.4zM834.8 160.5h9.4v5.0h-9.4z"/><path fill="#002ae4" d="M848.0 151.7h5.0v5.0h-5.0zM848.0 156.1h5.0v5.0h-5.0z"/><path fill="#0660ea" d="M852.4 151.7h5.0v5.0h-5.0zM852.4 156.1h5.0v5.0h-5.0z"/><path fill="#129cf0" d="M856.8 151.7h5.0v5.0h-5.0zM852.4 164.9h5.0v5.0h-5.0z"/><path fill="#0cc0f0" d="M861.2 151.7h5.0v5.0h-5.0zM830.4 178.1h9.4v5.0h-9.4z"/><path fill="#06def0" d="M865.6 151.7h5.0v5.0h-5.0zM870.0 156.1h5.0v5.0h-5.0zM865.6 164.9h5.0v5.0h-5.0zM861.2 169.3h5.0v5.0h-5.0zM856.8 173.7h5.0v5.0h-5.0zM861.2 178.1h5.0v5.0h-5.0zM830.4 186.9h18.2v5.0h-18.2zM861.2 186.9h5.0v5.0h-5.0zM826.0 191.3h31.4v5.0h-31.4zM826.0 195.7h5.0v5.0h-5.0z"/><path fill="#00eaf0" d="M870.0 151.7h5.0v5.0h-5.0zM874.4 156.1h5.0v5.0h-5.0zM870.0 164.9h5.0v5.0h-5.0zM834.8 195.7h13.8v5.0h-13.8zM826.0 200.1h5.0v5.0h-5.0z"/><path fill="#30e400" d="M896.4 151.7h5.0v5.0h-5.0zM839.2 222.1h5.0v5.0h-5.0z"/><path fill="#78ea00" d="M900.8 151.7h5.0v5.0h-5.0zM861.2 208.9h5.0v5.0h-5.0z"/><path fill="#aef000" d="M905.2 151.7h5.0v5.0h-5.0zM865.6 208.9h5.0v5.0h-5.0z"/><path fill="#e4f600" d="M909.6 151.7h5.0v5.0h-5.0z"/><path fill="#0c96f0" d="M856.8 156.1h5.0v5.0h-5.0z"/><path fill="#0cb4f0" d="M861.2 156.1h5.0v5.0h-5.0zM856.8 164.9h5.0v5.0h-5.0z"/><path fill="#06ccf0" d="M865.6 156.1h5.0v5.0h-5.0zM861.2 164.9h5.0v5.0h-5.0zM856.8 169.3h5.0v5.0h-5.0zM852.4 173.7h5.0v5.0h-5.0zM848.0 178.1h5.0v5.0h-5.0z"/><path fill="#00eaba" d="M883.2 156.1h5.0v5.0h-5.0zM852.4 200.1h5.0v5.0h-5.0zM834.8 204.5h5.0v5.0h-5.0z"/><path fill="#00ea7e" d="M887.6 156.1h5.0v5.0h-5.0zM870.0 186.9h5.0v5.0h-5.0zM848.0 204.5h5.0v5.0h-5.0z"/><path fill="#00e418" d="M892.0 156.1h5.0v5.0h-5.0z"/><path fill="#96ea00" d="M900.8 156.1h5.0v5.0h-5.0zM874.4 195.7h5.0v5.0h-5.0z"/><path fill="#c6f000" d="M905.2 156.1h5.0v5.0h-5.0zM887.6 178.1h5.0v5.0h-5.0z"/><path fill="#fcfc00" d="M909.6 156.1h5.0v5.0h-5.0zM878.8 195.7h5.0v5.0h-5.0z"/><path fill="#fccc00" d="M914.0 156.1h5.0v5.0h-5.0z"/><path fill="#0024de" d="M843.6 160.5h5.0v5.0h-5.0z"/><path fill="#0c72ea" d="M852.4 160.5h5.0v5.0h-5.0zM848.0 164.9h5.0v5.0h-5.0z"/><path fill="#12a2f0" d="M856.8 160.5h5.0v5.0h-5.0zM848.0 169.3h5.0v5.0h-5.0z"/><path fill="#06d2f0" d="M865.6 160.5h5.0v5.0h-5.0zM852.4 178.1h5.0v5.0h-5.0zM826.0 182.5h13.8v5.0h-13.8zM852.4 182.5h9.4v5.0h-9.4zM852.4 186.9h9.4v5.0h-9.4z"/><path fill="#00eaa8" d="M883.2 160.5h5.0v5.0h-5.0zM874.4 173.7h5.0v5.0h-5.0z"/><path fill="#3cea00" d="M892.0 160.5h5.0v5.0h-5.0zM852.4 213.3h5.0v5.0h-5.0z"/><path fill="#8aea00" d="M896.4 160.5h5.0v5.0h-5.0zM848.0 230.9h5.0v5.0h-5.0z"/><path fill="#c0f000" d="M900.8 160.5h5.0v5.0h-5.0zM839.2 235.3h5.0v5.0h-5.0z"/><path fill="#eaf600" d="M905.2 160.5h5.0v5.0h-5.0zM900.8 164.9h5.0v5.0h-5.0zM887.6 182.5h5.0v5.0h-5.0zM861.2 222.1h5.0v5.0h-5.0z"/><path fill="#fce400" d="M909.6 160.5h5.0v5.0h-5.0zM883.2 191.3h5.0v5.0h-5.0zM874.4 204.5h5.0v5.0h-5.0z"/><path fill="#fcae00" d="M914.0 160.5h5.0v5.0h-5.0zM892.0 186.9h5.0v5.0h-5.0zM874.4 208.9h5.0v5.0h-5.0z"/><path fill="#064ee4" d="M843.6 164.9h5.0v5.0h-5.0z"/><path fill="#00e472" d="M883.2 164.9h5.0v5.0h-5.0zM839.2 208.9h5.0v5.0h-5.0z"/><path fill="#00de00" d="M887.6 164.9h5.0v5.0h-5.0z"/><path fill="#72ea00" d="M892.0 164.9h5.0v5.0h-5.0z"/><path fill="#b4f000" d="M896.4 164.9h5.0v5.0h-5.0zM883.2 182.5h5.0v5.0h-5.0zM878.8 186.9h5.0v5.0h-5.0z"/><path fill="#fcea00" d="M905.2 164.9h5.0v5.0h-5.0zM900.8 169.3h5.0v5.0h-5.0zM887.6 186.9h5.0v5.0h-5.0z"/><path fill="#fcc600" d="M909.6 164.9h5.0v5.0h-5.0zM905.2 169.3h5.0v5.0h-5.0zM896.4 178.1h5.0v5.0h-5.0z"/><path fill="#fc9000" d="M914.0 164.9h5.0v5.0h-5.0z"/><path fill="#fc1800" d="M918.4 164.9h5.0v5.0h-5.0z"/><path fill="#0c78ea" d="M830.4 169.3h9.4v5.0h-9.4z"/><path fill="#0c7eea" d="M839.2 169.3h5.0v5.0h-5.0z"/><path fill="#0c8af0" d="M843.6 169.3h5.0v5.0h-5.0z"/><path fill="#00f0ea" d="M870.0 169.3h5.0v5.0h-5.0zM852.4 195.7h5.0v5.0h-5.0zM830.4 200.1h5.0v5.0h-5.0z"/><path fill="#00eac6" d="M874.4 169.3h5.0v5.0h-5.0zM848.0 200.1h5.0v5.0h-5.0z"/><path fill="#00ea90" d="M878.8 169.3h5.0v5.0h-5.0z"/><path fill="#00e41e" d="M883.2 169.3h5.0v5.0h-5.0z"/><path fill="#66ea00" d="M887.6 169.3h5.0v5.0h-5.0zM856.8 217.7h5.0v5.0h-5.0zM839.2 226.5h5.0v5.0h-5.0z"/><path fill="#a8f000" d="M892.0 169.3h5.0v5.0h-5.0zM861.2 213.3h5.0v5.0h-5.0z"/><path fill="#def600" d="M896.4 169.3h5.0v5.0h-5.0zM892.0 173.7h5.0v5.0h-5.0z"/><path fill="#fc9c00" d="M909.6 169.3h5.0v5.0h-5.0zM896.4 182.5h5.0v5.0h-5.0zM878.8 204.5h5.0v5.0h-5.0zM870.0 217.7h5.0v5.0h-5.0z"/><path fill="#fc5a00" d="M914.0 169.3h5.0v5.0h-5.0zM870.0 222.1h5.0v5.0h-5.0z"/><path fill="#fc0024" d="M918.4 169.3h5.0v5.0h-5.0zM883.2 248.5h5.0v5.0h-5.0z"/><path fill="#0caef0" d="M843.6 173.7h5.0v5.0h-5.0z"/><path fill="#4eea00" d="M883.2 173.7h5.0v5.0h-5.0zM874.4 186.9h5.0v5.0h-5.0z"/><path fill="#a2f000" d="M887.6 173.7h5.0v5.0h-5.0z"/><path fill="#fcf000" d="M896.4 173.7h5.0v5.0h-5.0z"/><path fill="#fcc000" d="M900.8 173.7h5.0v5.0h-5.0z"/><path fill="#fc8400" d="M905.2 173.7h5.0v5.0h-5.0zM883.2 200.1h5.0v5.0h-5.0zM874.4 244.1h5.0v5.0h-5.0zM874.4 248.5h5.0v5.0h-5.0z"/><path fill="#fc4200" d="M909.6 173.7h5.0v5.0h-5.0zM870.0 226.5h5.0v5.0h-5.0zM878.8 244.1h5.0v5.0h-5.0zM878.8 248.5h5.0v5.0h-5.0z"/><path fill="#fc0006" d="M914.0 173.7h5.0v5.0h-5.0zM905.2 178.1h5.0v5.0h-5.0zM878.8 213.3h5.0v5.0h-5.0zM874.4 226.5h5.0v5.0h-5.0zM878.8 230.9h5.0v5.0h-5.0z"/><path fill="#f00066" d="M918.4 173.7h5.0v5.0h-5.0z"/><path fill="#06c6f0" d="M839.2 178.1h9.4v5.0h-9.4z"/><path fill="#00e46c" d="M874.4 178.1h5.0v5.0h-5.0zM861.2 200.1h5.0v5.0h-5.0z"/><path fill="#1ee400" d="M878.8 178.1h5.0v5.0h-5.0zM848.0 213.3h5.0v5.0h-5.0z"/><path fill="#84ea00" d="M883.2 178.1h5.0v5.0h-5.0z"/><path fill="#fcf600" d="M892.0 178.1h5.0v5.0h-5.0z"/><path fill="#fc7800" d="M900.8 178.1h5.0v5.0h-5.0zM874.4 213.3h5.0v5.0h-5.0z"/><path fill="#f6004e" d="M909.6 178.1h5.0v5.0h-5.0z"/><path fill="#f0007e" d="M914.0 178.1h5.0v5.0h-5.0zM883.2 226.5h5.0v5.0h-5.0z"/><path fill="#f600a8" d="M918.4 178.1h5.0v5.0h-5.0zM887.6 235.3h5.0v5.0h-5.0z"/><path fill="#f600d8" d="M922.8 178.1h5.0v5.0h-5.0zM892.0 235.3h5.0v5.0h-5.0z"/><path fill="#00de12" d="M874.4 182.5h5.0v5.0h-5.0zM843.6 213.3h5.0v5.0h-5.0zM839.2 217.7h5.0v5.0h-5.0z"/><path fill="#7eea00" d="M878.8 182.5h5.0v5.0h-5.0zM870.0 200.1h5.0v5.0h-5.0z"/><path fill="#fcd800" d="M892.0 182.5h5.0v5.0h-5.0zM878.8 200.1h5.0v5.0h-5.0zM865.6 217.7h5.0v5.0h-5.0z"/><path fill="#fc0600" d="M900.8 182.5h5.0v5.0h-5.0zM887.6 200.1h5.0v5.0h-5.0z"/><path fill="#f0008a" d="M905.2 182.5h5.0v5.0h-5.0zM883.2 222.1h5.0v5.0h-5.0zM887.6 244.1h5.0v5.0h-5.0z"/><path fill="#f600ba" d="M909.6 182.5h5.0v5.0h-5.0zM887.6 213.3h5.0v5.0h-5.0zM887.6 226.5h5.0v5.0h-5.0z"/><path fill="#f600d2" d="M914.0 182.5h5.0v5.0h-5.0zM892.0 239.7h5.0v5.0h-5.0z"/><path fill="#f600de" d="M918.4 182.5h5.0v5.0h-5.0zM892.0 208.9h5.0v5.0h-5.0zM892.0 222.1h5.0v5.0h-5.0zM892.0 226.5h5.0v5.0h-5.0zM892.0 230.9h5.0v5.0h-5.0z"/><path fill="#f600ea" d="M922.8 182.5h5.0v5.0h-5.0zM905.2 195.7h5.0v5.0h-5.0zM896.4 204.5h5.0v5.0h-5.0zM892.0 213.3h5.0v5.0h-5.0zM892.0 217.7h5.0v5.0h-5.0zM896.4 244.1h5.0v5.0h-5.0z"/><path fill="#fc00f0" d="M927.2 182.5h5.0v5.0h-5.0zM909.6 186.9h22.6v5.0h-22.6zM922.8 191.3h9.4v5.0h-9.4zM909.6 195.7h5.0v5.0h-5.0zM922.8 195.7h9.4v5.0h-9.4zM905.2 200.1h5.0v5.0h-5.0zM922.8 200.1h9.4v5.0h-9.4zM922.8 204.5h9.4v5.0h-9.4zM918.4 208.9h13.8v5.0h-13.8zM918.4 213.3h9.4v5.0h-9.4zM896.4 217.7h5.0v5.0h-5.0zM914.0 217.7h9.4v5.0h-9.4zM896.4 222.1h5.0v5.0h-5.0zM914.0 222.1h9.4v5.0h-9.4zM900.8 226.5h5.0v5.0h-5.0zM909.6 226.5h13.8v5.0h-13.8zM896.4 230.9h27.0v5.0h-27.0zM896.4 235.3h27.0v5.0h-27.0zM900.8 239.7h22.6v5.0h-22.6zM900.8 244.1h9.4v5.0h-9.4z"/><path fill="#f0fc00" d="M883.2 186.9h5.0v5.0h-5.0zM870.0 208.9h5.0v5.0h-5.0z"/><path fill="#fc4800" d="M896.4 186.9h5.0v5.0h-5.0z"/><path fill="#f60054" d="M900.8 186.9h5.0v5.0h-5.0zM883.2 235.3h5.0v5.0h-5.0z"/><path fill="#f600cc" d="M905.2 186.9h5.0v5.0h-5.0zM900.8 195.7h5.0v5.0h-5.0zM896.4 200.1h5.0v5.0h-5.0z"/><path fill="#00f0e4" d="M861.2 191.3h5.0v5.0h-5.0z"/><path fill="#00e436" d="M870.0 191.3h5.0v5.0h-5.0zM839.2 213.3h5.0v5.0h-5.0z"/><path fill="#6cea00" d="M874.4 191.3h5.0v5.0h-5.0zM865.6 204.5h5.0v5.0h-5.0zM856.8 222.1h5.0v5.0h-5.0z"/><path fill="#d2f000" d="M878.8 191.3h5.0v5.0h-5.0z"/><path fill="#fcb400" d="M887.6 191.3h5.0v5.0h-5.0zM865.6 222.1h5.0v5.0h-5.0z"/><path fill="#fc6000" d="M892.0 191.3h5.0v5.0h-5.0z"/><path fill="#f60036" d="M896.4 191.3h5.0v5.0h-5.0z"/><path fill="#f0009c" d="M900.8 191.3h5.0v5.0h-5.0zM887.6 208.9h5.0v5.0h-5.0z"/><path fill="#f600e4" d="M905.2 191.3h5.0v5.0h-5.0z"/><path fill="#fc00f6" d="M909.6 191.3h13.8v5.0h-13.8zM914.0 195.7h9.4v5.0h-9.4zM909.6 200.1h13.8v5.0h-13.8zM900.8 204.5h22.6v5.0h-22.6zM896.4 208.9h5.0v5.0h-5.0zM909.6 208.9h9.4v5.0h-9.4zM896.4 213.3h5.0v5.0h-5.0zM909.6 213.3h9.4v5.0h-9.4zM900.8 217.7h13.8v5.0h-13.8zM900.8 222.1h13.8v5.0h-13.8zM905.2 226.5h5.0v5.0h-5.0z"/><path fill="#36ea00" d="M870.0 195.7h5.0v5.0h-5.0z"/><path fill="#fcba00" d="M883.2 195.7h5.0v5.0h-5.0z"/><path fill="#fc7200" d="M887.6 195.7h5.0v5.0h-5.0z"/><path fill="#fc0012" d="M892.0 195.7h5.0v5.0h-5.0z"/><path fill="#f00096" d="M896.4 195.7h5.0v5.0h-5.0zM887.6 239.7h5.0v5.0h-5.0z"/><path fill="#d8f000" d="M874.4 200.1h5.0v5.0h-5.0z"/><path fill="#f00072" d="M892.0 200.1h5.0v5.0h-5.0zM883.2 230.9h5.0v5.0h-5.0z"/><path fill="#fc00ea" d="M900.8 200.1h5.0v5.0h-5.0zM896.4 226.5h5.0v5.0h-5.0zM896.4 239.7h5.0v5.0h-5.0zM909.6 244.1h5.0v5.0h-5.0z"/><path fill="#00e466" d="M852.4 204.5h5.0v5.0h-5.0z"/><path fill="#00e442" d="M856.8 204.5h5.0v5.0h-5.0zM843.6 208.9h5.0v5.0h-5.0zM830.4 217.7h5.0v5.0h-5.0z"/><path fill="#baf000" d="M870.0 204.5h5.0v5.0h-5.0z"/><path fill="#fc2400" d="M883.2 204.5h5.0v5.0h-5.0zM878.8 239.7h5.0v5.0h-5.0z"/><path fill="#f0005a" d="M887.6 204.5h5.0v5.0h-5.0z"/><path fill="#f600ae" d="M892.0 204.5h5.0v5.0h-5.0z"/><path fill="#00e412" d="M848.0 208.9h5.0v5.0h-5.0z"/><path fill="#36e400" d="M856.8 208.9h5.0v5.0h-5.0zM843.6 222.1h5.0v5.0h-5.0z"/><path fill="#fc5400" d="M878.8 208.9h5.0v5.0h-5.0z"/><path fill="#f60030" d="M883.2 208.9h5.0v5.0h-5.0zM878.8 217.7h5.0v5.0h-5.0zM878.8 226.5h5.0v5.0h-5.0zM883.2 244.1h5.0v5.0h-5.0z"/><path fill="#fc00fc" d="M900.8 208.9h9.4v5.0h-9.4zM900.8 213.3h9.4v5.0h-9.4z"/><path fill="#00e45a" d="M834.8 213.3h5.0v5.0h-5.0z"/><path fill="#60ea00" d="M856.8 213.3h5.0v5.0h-5.0zM834.8 226.5h5.0v5.0h-5.0zM843.6 226.5h5.0v5.0h-5.0zM852.4 226.5h5.0v5.0h-5.0z"/><path fill="#f6fc00" d="M865.6 213.3h5.0v5.0h-5.0z"/><path fill="#fcd200" d="M870.0 213.3h5.0v5.0h-5.0z"/><path fill="#f0006c" d="M883.2 213.3h5.0v5.0h-5.0z"/><path fill="#00e42a" d="M834.8 217.7h5.0v5.0h-5.0z"/><path fill="#12e400" d="M848.0 217.7h5.0v5.0h-5.0z"/><path fill="#2ae400" d="M852.4 217.7h5.0v5.0h-5.0z"/><path fill="#ccf000" d="M861.2 217.7h5.0v5.0h-5.0z"/><path fill="#fc3c00" d="M874.4 217.7h5.0v5.0h-5.0zM874.4 235.3h5.0v5.0h-5.0z"/><path fill="#f00084" d="M883.2 217.7h5.0v5.0h-5.0z"/><path fill="#f600c0" d="M887.6 217.7h5.0v5.0h-5.0zM887.6 222.1h5.0v5.0h-5.0z"/><path fill="#0ce400" d="M834.8 222.1h5.0v5.0h-5.0z"/><path fill="#24e400" d="M848.0 222.1h9.4v5.0h-9.4z"/><path fill="#fc0c00" d="M874.4 222.1h5.0v5.0h-5.0zM874.4 230.9h5.0v5.0h-5.0z"/><path fill="#f60042" d="M878.8 222.1h5.0v5.0h-5.0zM883.2 239.7h5.0v5.0h-5.0z"/><path fill="#9cf000" d="M839.2 230.9h5.0v5.0h-5.0z"/><path fill="#f600b4" d="M887.6 230.9h5.0v5.0h-5.0z"/><path fill="#fc1200" d="M878.8 235.3h5.0v5.0h-5.0z"/><path fill="#fc6600" d="M874.4 239.7h5.0v5.0h-5.0z"/><path fill="#f600c6" d="M892.0 244.1h5.0v5.0h-5.0z"/></g>
<rect x="728.3" y="53.3" width="301.3" height="301.6" fill="none" stroke="#111" stroke-width="1.4"/>
<path d="M733.6 354.9v-6M733.6 53.3v6M766.5 354.9v-6M766.5 53.3v6M799.4 354.9v-6M799.4 53.3v6M832.3 354.9v-6M832.3 53.3v6M865.2 354.9v-6M865.2 53.3v6M898.1 354.9v-6M898.1 53.3v6M931.0 354.9v-6M931.0 53.3v6M963.9 354.9v-6M963.9 53.3v6M996.8 354.9v-6M996.8 53.3v6M1029.7 354.9v-6M1029.7 53.3v6M733.6 354.9v4M728.3 79.6h6M1029.6 79.6h-6M728.3 135.1h6M1029.6 135.1h-6M728.3 190.6h6M1029.6 190.6h-6M728.3 246.1h6M1029.6 246.1h-6M728.3 301.6h6M1029.6 301.6h-6" stroke="#111" stroke-width="1.3" fill="none"/>
<ellipse cx="758.0" cy="325.0" rx="16" ry="12.5" transform="rotate(-55 758.0 325.0)" fill="none" stroke="#111" stroke-width="1.2"/>
<text x="678.80" y="88.00" font-size="16.5" textLength="40.50" lengthAdjust="spacingAndGlyphs" fill="#111">52''.5</text>
<text x="678.80" y="143.50" font-size="16.5" textLength="40.50" lengthAdjust="spacingAndGlyphs" fill="#111">52''.0</text>
<text x="678.80" y="199.00" font-size="16.5" textLength="40.50" lengthAdjust="spacingAndGlyphs" fill="#111">51''.5</text>
<text x="678.80" y="254.50" font-size="16.5" textLength="40.50" lengthAdjust="spacingAndGlyphs" fill="#111">51''.0</text>
<text x="640.00" y="310.00" font-size="16.5" textLength="9.80" lengthAdjust="spacingAndGlyphs" fill="#111">9</text><text x="649.80" y="303.50" font-size="10.5" textLength="6.23" lengthAdjust="spacingAndGlyphs" fill="#111">o</text><text x="656.03" y="310.00" font-size="16.5" textLength="63.97" lengthAdjust="spacingAndGlyphs" fill="#111">50'50''.5</text>
<text x="684.00" y="379.70" font-size="16.5" textLength="19.14" lengthAdjust="spacingAndGlyphs" fill="#111">13</text><text x="703.14" y="371.20" font-size="11.5" textLength="6.67" lengthAdjust="spacingAndGlyphs" fill="#111">h</text><text x="709.81" y="379.70" font-size="16.5" textLength="19.14" lengthAdjust="spacingAndGlyphs" fill="#111">19</text><text x="728.95" y="371.20" font-size="11.5" textLength="9.99" lengthAdjust="spacingAndGlyphs" fill="#111">m</text><text x="738.94" y="379.70" font-size="16.5" textLength="19.14" lengthAdjust="spacingAndGlyphs" fill="#111">11</text><text x="758.08" y="371.20" font-size="11.5" textLength="6.00" lengthAdjust="spacingAndGlyphs" fill="#111">s</text><text x="764.08" y="379.70" font-size="16.5" textLength="23.92" lengthAdjust="spacingAndGlyphs" fill="#111">.38</text>
<text x="809.00" y="379.70" font-size="16.5" textLength="18.34" lengthAdjust="spacingAndGlyphs" fill="#111">11</text><text x="827.34" y="371.20" font-size="11.5" textLength="5.75" lengthAdjust="spacingAndGlyphs" fill="#111">s</text><text x="833.08" y="379.70" font-size="16.5" textLength="22.92" lengthAdjust="spacingAndGlyphs" fill="#111">.32</text>
<text x="875.00" y="379.70" font-size="16.5" textLength="18.34" lengthAdjust="spacingAndGlyphs" fill="#111">11</text><text x="893.34" y="371.20" font-size="11.5" textLength="5.75" lengthAdjust="spacingAndGlyphs" fill="#111">s</text><text x="899.08" y="379.70" font-size="16.5" textLength="22.92" lengthAdjust="spacingAndGlyphs" fill="#111">.28</text>
<text x="941.00" y="379.70" font-size="16.5" textLength="18.34" lengthAdjust="spacingAndGlyphs" fill="#111">11</text><text x="959.34" y="371.20" font-size="11.5" textLength="5.75" lengthAdjust="spacingAndGlyphs" fill="#111">s</text><text x="965.08" y="379.70" font-size="16.5" textLength="22.92" lengthAdjust="spacingAndGlyphs" fill="#111">.24</text>
<text x="1006.70" y="379.70" font-size="16.5" textLength="18.45" lengthAdjust="spacingAndGlyphs" fill="#111">11</text><text x="1025.15" y="371.20" font-size="11.5" textLength="5.78" lengthAdjust="spacingAndGlyphs" fill="#111">s</text><text x="1030.94" y="379.70" font-size="16.5" textLength="23.06" lengthAdjust="spacingAndGlyphs" fill="#111">.20</text>
<text x="792.00" y="404.00" font-size="16.5" textLength="173.00" lengthAdjust="spacingAndGlyphs" fill="#111">J2000  Right  Ascension</text>
<text x="0" y="0" font-size="16.5" fill="#111" textLength="135" lengthAdjust="spacingAndGlyphs" transform="translate(633 272.5) rotate(-90)">J2000  Declination</text>
<g shape-rendering="crispEdges"><rect x="1069.6" y="50.0" width="12.8" height="1.5" fill="#fb00f1"/><rect x="1069.6" y="51.0" width="12.8" height="1.5" fill="#fa00f0"/><rect x="1069.6" y="52.0" width="12.8" height="1.5" fill="#fa00ee"/><rect x="1069.6" y="53.0" width="12.8" height="1.5" fill="#fa00ed"/><rect x="1069.6" y="54.0" width="12.8" height="1.5" fill="#f900ec"/><rect x="1069.6" y="55.0" width="12.8" height="1.5" fill="#f900eb"/><rect x="1069.6" y="56.0" width="12.8" height="1.5" fill="#f800e9"/><rect x="1069.6" y="57.0" width="12.8" height="1.5" fill="#f800e8"/><rect x="1069.6" y="58.0" width="12.8" height="1.5" fill="#f800e5"/><rect x="1069.6" y="59.0" width="12.8" height="1.5" fill="#f800e1"/><rect x="1069.6" y="60.0" width="12.8" height="1.5" fill="#f700de"/><rect x="1069.6" y="61.0" width="12.8" height="1.5" fill="#f700db"/><rect x="1069.6" y="62.0" width="12.8" height="1.5" fill="#f700d7"/><rect x="1069.6" y="63.0" width="12.8" height="1.5" fill="#f700d4"/><rect x="1069.6" y="64.0" width="12.8" height="1.5" fill="#f600d1"/><rect x="1069.6" y="65.0" width="12.8" height="1.5" fill="#f600cd"/><rect x="1069.6" y="66.0" width="12.8" height="1.5" fill="#f600ca"/><rect x="1069.6" y="67.0" width="12.8" height="1.5" fill="#f600c7"/><rect x="1069.6" y="68.0" width="12.8" height="1.5" fill="#f600c3"/><rect x="1069.6" y="69.0" width="12.8" height="1.5" fill="#f500c0"/><rect x="1069.6" y="70.0" width="12.8" height="1.5" fill="#f500bd"/><rect x="1069.6" y="71.0" width="12.8" height="1.5" fill="#f500b9"/><rect x="1069.6" y="72.0" width="12.8" height="1.5" fill="#f500b6"/><rect x="1069.6" y="73.0" width="12.8" height="1.5" fill="#f400b3"/><rect x="1069.6" y="74.0" width="12.8" height="1.5" fill="#f400af"/><rect x="1069.6" y="75.0" width="12.8" height="1.5" fill="#f400ac"/><rect x="1069.6" y="76.0" width="12.8" height="1.5" fill="#f400a9"/><rect x="1069.6" y="77.0" width="12.8" height="1.5" fill="#f400a5"/><rect x="1069.6" y="78.0" width="12.8" height="1.5" fill="#f300a2"/><rect x="1069.6" y="79.0" width="12.8" height="1.5" fill="#f3009f"/><rect x="1069.6" y="80.0" width="12.8" height="1.5" fill="#f3009b"/><rect x="1069.6" y="81.0" width="12.8" height="1.5" fill="#f30098"/><rect x="1069.6" y="82.0" width="12.8" height="1.5" fill="#f20094"/><rect x="1069.6" y="83.0" width="12.8" height="1.5" fill="#f20091"/><rect x="1069.6" y="84.0" width="12.8" height="1.5" fill="#f2008e"/><rect x="1069.6" y="85.0" width="12.8" height="1.5" fill="#f2008a"/><rect x="1069.6" y="86.0" width="12.8" height="1.5" fill="#f20087"/><rect x="1069.6" y="87.0" width="12.8" height="1.5" fill="#f10084"/><rect x="1069.6" y="88.0" width="12.8" height="1.5" fill="#f10080"/><rect x="1069.6" y="89.0" width="12.8" height="1.5" fill="#f1007d"/><rect x="1069.6" y="90.0" width="12.8" height="1.5" fill="#f1007a"/><rect x="1069.6" y="91.0" width="12.8" height="1.5" fill="#f00076"/><rect x="1069.6" y="92.0" width="12.8" height="1.5" fill="#f00073"/><rect x="1069.6" y="93.0" width="12.8" height="1.5" fill="#f00070"/><rect x="1069.6" y="94.0" width="12.8" height="1.5" fill="#f1006b"/><rect x="1069.6" y="95.0" width="12.8" height="1.5" fill="#f10067"/><rect x="1069.6" y="96.0" width="12.8" height="1.5" fill="#f20062"/><rect x="1069.6" y="97.0" width="12.8" height="1.5" fill="#f2005e"/><rect x="1069.6" y="98.0" width="12.8" height="1.5" fill="#f30059"/><rect x="1069.6" y="99.0" width="12.8" height="1.5" fill="#f40055"/><rect x="1069.6" y="100.0" width="12.8" height="1.5" fill="#f40050"/><rect x="1069.6" y="101.0" width="12.8" height="1.5" fill="#f5004c"/><rect x="1069.6" y="102.0" width="12.8" height="1.5" fill="#f50047"/><rect x="1069.6" y="103.0" width="12.8" height="1.5" fill="#f60043"/><rect x="1069.6" y="104.0" width="12.8" height="1.5" fill="#f7003f"/><rect x="1069.6" y="105.0" width="12.8" height="1.5" fill="#f7003a"/><rect x="1069.6" y="106.0" width="12.8" height="1.5" fill="#f80036"/><rect x="1069.6" y="107.0" width="12.8" height="1.5" fill="#f80031"/><rect x="1069.6" y="108.0" width="12.8" height="1.5" fill="#f9002d"/><rect x="1069.6" y="109.0" width="12.8" height="1.5" fill="#fa0028"/><rect x="1069.6" y="110.0" width="12.8" height="1.5" fill="#fa0024"/><rect x="1069.6" y="111.0" width="12.8" height="1.5" fill="#fb001f"/><rect x="1069.6" y="112.0" width="12.8" height="1.5" fill="#fb001b"/><rect x="1069.6" y="113.0" width="12.8" height="1.5" fill="#fc0016"/><rect x="1069.6" y="114.0" width="12.8" height="1.5" fill="#fd0012"/><rect x="1069.6" y="115.0" width="12.8" height="1.5" fill="#fd000d"/><rect x="1069.6" y="116.0" width="12.8" height="1.5" fill="#fe0009"/><rect x="1069.6" y="117.0" width="12.8" height="1.5" fill="#fe0005"/><rect x="1069.6" y="118.0" width="12.8" height="1.5" fill="#ff0000"/><rect x="1069.6" y="119.0" width="12.8" height="1.5" fill="#ff0600"/><rect x="1069.6" y="120.0" width="12.8" height="1.5" fill="#ff0c00"/><rect x="1069.6" y="121.0" width="12.8" height="1.5" fill="#ff1200"/><rect x="1069.6" y="122.0" width="12.8" height="1.5" fill="#ff1800"/><rect x="1069.6" y="123.0" width="12.8" height="1.5" fill="#ff1e00"/><rect x="1069.6" y="124.0" width="12.8" height="1.5" fill="#ff2400"/><rect x="1069.6" y="125.0" width="12.8" height="1.5" fill="#ff2900"/><rect x="1069.6" y="126.0" width="12.8" height="1.5" fill="#ff2f00"/><rect x="1069.6" y="127.0" width="12.8" height="1.5" fill="#ff3500"/><rect x="1069.6" y="128.0" width="12.8" height="1.5" fill="#ff3b00"/><rect x="1069.6" y="129.0" width="12.8" height="1.5" fill="#ff4100"/><rect x="1069.6" y="130.0" width="12.8" height="1.5" fill="#ff4500"/><rect x="1069.6" y="131.0" width="12.8" height="1.5" fill="#ff4a00"/><rect x="1069.6" y="132.0" width="12.8" height="1.5" fill="#ff4e00"/><rect x="1069.6" y="133.0" width="12.8" height="1.5" fill="#ff5300"/><rect x="1069.6" y="134.0" width="12.8" height="1.5" fill="#ff5700"/><rect x="1069.6" y="135.0" width="12.8" height="1.5" fill="#ff5c00"/><rect x="1069.6" y="136.0" width="12.8" height="1.5" fill="#ff6000"/><rect x="1069.6" y="137.0" width="12.8" height="1.5" fill="#ff6500"/><rect x="1069.6" y="138.0" width="12.8" height="1.5" fill="#ff6900"/><rect x="1069.6" y="139.0" width="12.8" height="1.5" fill="#ff6e00"/><rect x="1069.6" y="140.0" width="12.8" height="1.5" fill="#ff7200"/><rect x="1069.6" y="141.0" width="12.8" height="1.5" fill="#ff7600"/><rect x="1069.6" y="142.0" width="12.8" height="1.5" fill="#ff7b00"/><rect x="1069.6" y="143.0" width="12.8" height="1.5" fill="#ff7f00"/><rect x="1069.6" y="144.0" width="12.8" height="1.5" fill="#ff8400"/><rect x="1069.6" y="145.0" width="12.8" height="1.5" fill="#ff8800"/><rect x="1069.6" y="146.0" width="12.8" height="1.5" fill="#ff8d00"/><rect x="1069.6" y="147.0" width="12.8" height="1.5" fill="#ff9100"/><rect x="1069.6" y="148.0" width="12.8" height="1.5" fill="#ff9300"/><rect x="1069.6" y="149.0" width="12.8" height="1.5" fill="#ff9600"/><rect x="1069.6" y="150.0" width="12.8" height="1.5" fill="#ff9900"/><rect x="1069.6" y="151.0" width="12.8" height="1.5" fill="#ff9b00"/><rect x="1069.6" y="152.0" width="12.8" height="1.5" fill="#ff9e00"/><rect x="1069.6" y="153.0" width="12.8" height="1.5" fill="#ffa100"/><rect x="1069.6" y="154.0" width="12.8" height="1.5" fill="#ffa300"/><rect x="1069.6" y="155.0" width="12.8" height="1.5" fill="#ffa600"/><rect x="1069.6" y="156.0" width="12.8" height="1.5" fill="#ffa900"/><rect x="1069.6" y="157.0" width="12.8" height="1.5" fill="#ffab00"/><rect x="1069.6" y="158.0" width="12.8" height="1.5" fill="#ffae00"/><rect x="1069.6" y="159.0" width="12.8" height="1.5" fill="#ffb100"/><rect x="1069.6" y="160.0" width="12.8" height="1.5" fill="#ffb400"/><rect x="1069.6" y="161.0" width="12.8" height="1.5" fill="#ffb600"/><rect x="1069.6" y="162.0" width="12.8" height="1.5" fill="#ffb900"/><rect x="1069.6" y="163.0" width="12.8" height="1.5" fill="#ffbc00"/><rect x="1069.6" y="164.0" width="12.8" height="1.5" fill="#ffbe00"/><rect x="1069.6" y="165.0" width="12.8" height="1.5" fill="#ffc100"/><rect x="1069.6" y="166.0" width="12.8" height="1.5" fill="#ffc300"/><rect x="1069.6" y="167.0" width="12.8" height="1.5" fill="#ffc600"/><rect x="1069.6" y="168.0" width="12.8" height="1.5" fill="#ffc800"/><rect x="1069.6" y="169.0" width="12.8" height="1.5" fill="#ffcb00"/><rect x="1069.6" y="170.0" width="12.8" height="1.5" fill="#ffcd00"/><rect x="1069.6" y="171.0" width="12.8" height="1.5" fill="#ffd000"/><rect x="1069.6" y="172.0" width="12.8" height="1.5" fill="#ffd200"/><rect x="1069.6" y="173.0" width="12.8" height="1.5" fill="#ffd500"/><rect x="1069.6" y="174.0" width="12.8" height="1.5" fill="#ffd700"/><rect x="1069.6" y="175.0" width="12.8" height="1.5" fill="#ffda00"/><rect x="1069.6" y="176.0" width="12.8" height="1.5" fill="#ffdc00"/><rect x="1069.6" y="177.0" width="12.8" height="1.5" fill="#ffdf00"/><rect x="1069.6" y="178.0" width="12.8" height="1.5" fill="#ffe100"/><rect x="1069.6" y="179.0" width="12.8" height="1.5" fill="#ffe400"/><rect x="1069.6" y="180.0" width="12.8" height="1.5" fill="#ffe600"/><rect x="1069.6" y="181.0" width="12.8" height="1.5" fill="#ffe900"/><rect x="1069.6" y="182.0" width="12.8" height="1.5" fill="#ffeb00"/><rect x="1069.6" y="183.0" width="12.8" height="1.5" fill="#ffee00"/><rect x="1069.6" y="184.0" width="12.8" height="1.5" fill="#fff100"/><rect x="1069.6" y="185.0" width="12.8" height="1.5" fill="#fff300"/><rect x="1069.6" y="186.0" width="12.8" height="1.5" fill="#fff600"/><rect x="1069.6" y="187.0" width="12.8" height="1.5" fill="#fff800"/><rect x="1069.6" y="188.0" width="12.8" height="1.5" fill="#fffb00"/><rect x="1069.6" y="189.0" width="12.8" height="1.5" fill="#fffd00"/><rect x="1069.6" y="190.0" width="12.8" height="1.5" fill="#feff00"/><rect x="1069.6" y="191.0" width="12.8" height="1.5" fill="#fafd00"/><rect x="1069.6" y="192.0" width="12.8" height="1.5" fill="#f5fc00"/><rect x="1069.6" y="193.0" width="12.8" height="1.5" fill="#f1fb00"/><rect x="1069.6" y="194.0" width="12.8" height="1.5" fill="#edf900"/><rect x="1069.6" y="195.0" width="12.8" height="1.5" fill="#e8f800"/><rect x="1069.6" y="196.0" width="12.8" height="1.5" fill="#e4f600"/><rect x="1069.6" y="197.0" width="12.8" height="1.5" fill="#dff500"/><rect x="1069.6" y="198.0" width="12.8" height="1.5" fill="#dbf400"/><rect x="1069.6" y="199.0" width="12.8" height="1.5" fill="#d7f200"/><rect x="1069.6" y="200.0" width="12.8" height="1.5" fill="#d2f100"/><rect x="1069.6" y="201.0" width="12.8" height="1.5" fill="#cef000"/><rect x="1069.6" y="202.0" width="12.8" height="1.5" fill="#caf000"/><rect x="1069.6" y="203.0" width="12.8" height="1.5" fill="#c6ef00"/><rect x="1069.6" y="204.0" width="12.8" height="1.5" fill="#c2ef00"/><rect x="1069.6" y="205.0" width="12.8" height="1.5" fill="#beef00"/><rect x="1069.6" y="206.0" width="12.8" height="1.5" fill="#baef00"/><rect x="1069.6" y="207.0" width="12.8" height="1.5" fill="#b6ef00"/><rect x="1069.6" y="208.0" width="12.8" height="1.5" fill="#b2ee00"/><rect x="1069.6" y="209.0" width="12.8" height="1.5" fill="#aeee00"/><rect x="1069.6" y="210.0" width="12.8" height="1.5" fill="#aaee00"/><rect x="1069.6" y="211.0" width="12.8" height="1.5" fill="#a6ee00"/><rect x="1069.6" y="212.0" width="12.8" height="1.5" fill="#a2ed00"/><rect x="1069.6" y="213.0" width="12.8" height="1.5" fill="#9eed00"/><rect x="1069.6" y="214.0" width="12.8" height="1.5" fill="#9aed00"/><rect x="1069.6" y="215.0" width="12.8" height="1.5" fill="#96ed00"/><rect x="1069.6" y="216.0" width="12.8" height="1.5" fill="#92ed00"/><rect x="1069.6" y="217.0" width="12.8" height="1.5" fill="#8eec00"/><rect x="1069.6" y="218.0" width="12.8" height="1.5" fill="#8aec00"/><rect x="1069.6" y="219.0" width="12.8" height="1.5" fill="#86ec00"/><rect x="1069.6" y="220.0" width="12.8" height="1.5" fill="#82ec00"/><rect x="1069.6" y="221.0" width="12.8" height="1.5" fill="#7eeb00"/><rect x="1069.6" y="222.0" width="12.8" height="1.5" fill="#7aeb00"/><rect x="1069.6" y="223.0" width="12.8" height="1.5" fill="#76eb00"/><rect x="1069.6" y="224.0" width="12.8" height="1.5" fill="#72eb00"/><rect x="1069.6" y="225.0" width="12.8" height="1.5" fill="#6eeb00"/><rect x="1069.6" y="226.0" width="12.8" height="1.5" fill="#6aea00"/><rect x="1069.6" y="227.0" width="12.8" height="1.5" fill="#66ea00"/><rect x="1069.6" y="228.0" width="12.8" height="1.5" fill="#62ea00"/><rect x="1069.6" y="229.0" width="12.8" height="1.5" fill="#5eea00"/><rect x="1069.6" y="230.0" width="12.8" height="1.5" fill="#5ae900"/><rect x="1069.6" y="231.0" width="12.8" height="1.5" fill="#56e900"/><rect x="1069.6" y="232.0" width="12.8" height="1.5" fill="#52e900"/><rect x="1069.6" y="233.0" width="12.8" height="1.5" fill="#4ee900"/><rect x="1069.6" y="234.0" width="12.8" height="1.5" fill="#4ae900"/><rect x="1069.6" y="235.0" width="12.8" height="1.5" fill="#46e800"/><rect x="1069.6" y="236.0" width="12.8" height="1.5" fill="#42e800"/><rect x="1069.6" y="237.0" width="12.8" height="1.5" fill="#3be700"/><rect x="1069.6" y="238.0" width="12.8" height="1.5" fill="#32e600"/><rect x="1069.6" y="239.0" width="12.8" height="1.5" fill="#29e500"/><rect x="1069.6" y="240.0" width="12.8" height="1.5" fill="#20e400"/><rect x="1069.6" y="241.0" width="12.8" height="1.5" fill="#17e300"/><rect x="1069.6" y="242.0" width="12.8" height="1.5" fill="#0ee200"/><rect x="1069.6" y="243.0" width="12.8" height="1.5" fill="#05e100"/><rect x="1069.6" y="244.0" width="12.8" height="1.5" fill="#00e002"/><rect x="1069.6" y="245.0" width="12.8" height="1.5" fill="#00e007"/><rect x="1069.6" y="246.0" width="12.8" height="1.5" fill="#00e10c"/><rect x="1069.6" y="247.0" width="12.8" height="1.5" fill="#00e111"/><rect x="1069.6" y="248.0" width="12.8" height="1.5" fill="#00e116"/><rect x="1069.6" y="249.0" width="12.8" height="1.5" fill="#00e21b"/><rect x="1069.6" y="250.0" width="12.8" height="1.5" fill="#00e220"/><rect x="1069.6" y="251.0" width="12.8" height="1.5" fill="#00e225"/><rect x="1069.6" y="252.0" width="12.8" height="1.5" fill="#00e22a"/><rect x="1069.6" y="253.0" width="12.8" height="1.5" fill="#00e32f"/><rect x="1069.6" y="254.0" width="12.8" height="1.5" fill="#00e334"/><rect x="1069.6" y="255.0" width="12.8" height="1.5" fill="#00e339"/><rect x="1069.6" y="256.0" width="12.8" height="1.5" fill="#00e33e"/><rect x="1069.6" y="257.0" width="12.8" height="1.5" fill="#00e443"/><rect x="1069.6" y="258.0" width="12.8" height="1.5" fill="#00e448"/><rect x="1069.6" y="259.0" width="12.8" height="1.5" fill="#00e44d"/><rect x="1069.6" y="260.0" width="12.8" height="1.5" fill="#00e552"/><rect x="1069.6" y="261.0" width="12.8" height="1.5" fill="#00e557"/><rect x="1069.6" y="262.0" width="12.8" height="1.5" fill="#00e55c"/><rect x="1069.6" y="263.0" width="12.8" height="1.5" fill="#00e561"/><rect x="1069.6" y="264.0" width="12.8" height="1.5" fill="#00e666"/><rect x="1069.6" y="265.0" width="12.8" height="1.5" fill="#00e66b"/><rect x="1069.6" y="266.0" width="12.8" height="1.5" fill="#00e670"/><rect x="1069.6" y="267.0" width="12.8" height="1.5" fill="#00e775"/><rect x="1069.6" y="268.0" width="12.8" height="1.5" fill="#00e77a"/><rect x="1069.6" y="269.0" width="12.8" height="1.5" fill="#00e77f"/><rect x="1069.6" y="270.0" width="12.8" height="1.5" fill="#00e785"/><rect x="1069.6" y="271.0" width="12.8" height="1.5" fill="#00e88a"/><rect x="1069.6" y="272.0" width="12.8" height="1.5" fill="#00e88f"/><rect x="1069.6" y="273.0" width="12.8" height="1.5" fill="#00e892"/><rect x="1069.6" y="274.0" width="12.8" height="1.5" fill="#00e895"/><rect x="1069.6" y="275.0" width="12.8" height="1.5" fill="#00e997"/><rect x="1069.6" y="276.0" width="12.8" height="1.5" fill="#00e99a"/><rect x="1069.6" y="277.0" width="12.8" height="1.5" fill="#00e99d"/><rect x="1069.6" y="278.0" width="12.8" height="1.5" fill="#00e99f"/><rect x="1069.6" y="279.0" width="12.8" height="1.5" fill="#00e9a2"/><rect x="1069.6" y="280.0" width="12.8" height="1.5" fill="#00eaa5"/><rect x="1069.6" y="281.0" width="12.8" height="1.5" fill="#00eaa7"/><rect x="1069.6" y="282.0" width="12.8" height="1.5" fill="#00eaaa"/><rect x="1069.6" y="283.0" width="12.8" height="1.5" fill="#00eaad"/><rect x="1069.6" y="284.0" width="12.8" height="1.5" fill="#00ebaf"/><rect x="1069.6" y="285.0" width="12.8" height="1.5" fill="#00ebb2"/><rect x="1069.6" y="286.0" width="12.8" height="1.5" fill="#00ebb5"/><rect x="1069.6" y="287.0" width="12.8" height="1.5" fill="#00ebb7"/><rect x="1069.6" y="288.0" width="12.8" height="1.5" fill="#00ecba"/><rect x="1069.6" y="289.0" width="12.8" height="1.5" fill="#00ecbd"/><rect x="1069.6" y="290.0" width="12.8" height="1.5" fill="#00ecbf"/><rect x="1069.6" y="291.0" width="12.8" height="1.5" fill="#00ecc2"/><rect x="1069.6" y="292.0" width="12.8" height="1.5" fill="#00ecc5"/><rect x="1069.6" y="293.0" width="12.8" height="1.5" fill="#00edc7"/><rect x="1069.6" y="294.0" width="12.8" height="1.5" fill="#00edca"/><rect x="1069.6" y="295.0" width="12.8" height="1.5" fill="#00edcd"/><rect x="1069.6" y="296.0" width="12.8" height="1.5" fill="#00edcf"/><rect x="1069.6" y="297.0" width="12.8" height="1.5" fill="#00eed2"/><rect x="1069.6" y="298.0" width="12.8" height="1.5" fill="#00eed5"/><rect x="1069.6" y="299.0" width="12.8" height="1.5" fill="#00eed7"/><rect x="1069.6" y="300.0" width="12.8" height="1.5" fill="#00eeda"/><rect x="1069.6" y="301.0" width="12.8" height="1.5" fill="#00eedd"/><rect x="1069.6" y="302.0" width="12.8" height="1.5" fill="#00efdf"/><rect x="1069.6" y="303.0" width="12.8" height="1.5" fill="#00efe2"/><rect x="1069.6" y="304.0" width="12.8" height="1.5" fill="#00efe5"/><rect x="1069.6" y="305.0" width="12.8" height="1.5" fill="#00efe8"/><rect x="1069.6" y="306.0" width="12.8" height="1.5" fill="#00f0ea"/><rect x="1069.6" y="307.0" width="12.8" height="1.5" fill="#00f0ed"/><rect x="1069.6" y="308.0" width="12.8" height="1.5" fill="#00f0f0"/><rect x="1069.6" y="309.0" width="12.8" height="1.5" fill="#00eef0"/><rect x="1069.6" y="310.0" width="12.8" height="1.5" fill="#01ecf0"/><rect x="1069.6" y="311.0" width="12.8" height="1.5" fill="#01eaf0"/><rect x="1069.6" y="312.0" width="12.8" height="1.5" fill="#02e7f0"/><rect x="1069.6" y="313.0" width="12.8" height="1.5" fill="#02e5f0"/><rect x="1069.6" y="314.0" width="12.8" height="1.5" fill="#03e3f0"/><rect x="1069.6" y="315.0" width="12.8" height="1.5" fill="#03e1f0"/><rect x="1069.6" y="316.0" width="12.8" height="1.5" fill="#03dff0"/><rect x="1069.6" y="317.0" width="12.8" height="1.5" fill="#04dcf0"/><rect x="1069.6" y="318.0" width="12.8" height="1.5" fill="#04daf0"/><rect x="1069.6" y="319.0" width="12.8" height="1.5" fill="#05d8f0"/><rect x="1069.6" y="320.0" width="12.8" height="1.5" fill="#05d6f0"/><rect x="1069.6" y="321.0" width="12.8" height="1.5" fill="#06d3f0"/><rect x="1069.6" y="322.0" width="12.8" height="1.5" fill="#06d1f0"/><rect x="1069.6" y="323.0" width="12.8" height="1.5" fill="#07cff0"/><rect x="1069.6" y="324.0" width="12.8" height="1.5" fill="#07cdf0"/><rect x="1069.6" y="325.0" width="12.8" height="1.5" fill="#08caf0"/><rect x="1069.6" y="326.0" width="12.8" height="1.5" fill="#08c8f0"/><rect x="1069.6" y="327.0" width="12.8" height="1.5" fill="#08c6f0"/><rect x="1069.6" y="328.0" width="12.8" height="1.5" fill="#09c4f0"/><rect x="1069.6" y="329.0" width="12.8" height="1.5" fill="#09c2f0"/><rect x="1069.6" y="330.0" width="12.8" height="1.5" fill="#0abff0"/><rect x="1069.6" y="331.0" width="12.8" height="1.5" fill="#0abdf0"/><rect x="1069.6" y="332.0" width="12.8" height="1.5" fill="#0bbbf0"/><rect x="1069.6" y="333.0" width="12.8" height="1.5" fill="#0bb9f0"/><rect x="1069.6" y="334.0" width="12.8" height="1.5" fill="#0cb6f0"/><rect x="1069.6" y="335.0" width="12.8" height="1.5" fill="#0cb4f0"/><rect x="1069.6" y="336.0" width="12.8" height="1.5" fill="#0cb2f0"/><rect x="1069.6" y="337.0" width="12.8" height="1.5" fill="#0db0f0"/><rect x="1069.6" y="338.0" width="12.8" height="1.5" fill="#0dadf0"/><rect x="1069.6" y="339.0" width="12.8" height="1.5" fill="#0eabf0"/><rect x="1069.6" y="340.0" width="12.8" height="1.5" fill="#0ea9f0"/><rect x="1069.6" y="341.0" width="12.8" height="1.5" fill="#0fa7f0"/><rect x="1069.6" y="342.0" width="12.8" height="1.5" fill="#0fa5f0"/><rect x="1069.6" y="343.0" width="12.8" height="1.5" fill="#10a2f0"/><rect x="1069.6" y="344.0" width="12.8" height="1.5" fill="#10a0f0"/><rect x="1069.6" y="345.0" width="12.8" height="1.5" fill="#109df0"/><rect x="1069.6" y="346.0" width="12.8" height="1.5" fill="#0f99ef"/><rect x="1069.6" y="347.0" width="12.8" height="1.5" fill="#0f95ef"/><rect x="1069.6" y="348.0" width="12.8" height="1.5" fill="#0e92ee"/><rect x="1069.6" y="349.0" width="12.8" height="1.5" fill="#0e8eee"/><rect x="1069.6" y="350.0" width="12.8" height="1.5" fill="#0d8bed"/><rect x="1069.6" y="351.0" width="12.8" height="1.5" fill="#0d87ed"/><rect x="1069.6" y="352.0" width="12.8" height="1.5" fill="#0c84ec"/><rect x="1069.6" y="353.0" width="12.8" height="1.5" fill="#0c80ec"/><rect x="1069.6" y="354.0" width="12.8" height="1.5" fill="#0c7cec"/><rect x="1069.6" y="355.0" width="12.8" height="1.5" fill="#0b79eb"/><rect x="1069.6" y="356.0" width="12.8" height="1.5" fill="#0b75eb"/><rect x="1069.6" y="357.0" width="12.8" height="1.5" fill="#0a72ea"/><rect x="1069.6" y="358.0" width="12.8" height="1.5" fill="#0a6eea"/><rect x="1069.6" y="359.0" width="12.8" height="1.5" fill="#096be9"/><rect x="1069.6" y="360.0" width="12.8" height="1.5" fill="#0967e9"/><rect x="1069.6" y="361.0" width="12.8" height="1.5" fill="#0864e8"/><rect x="1069.6" y="362.0" width="12.8" height="1.5" fill="#0860e8"/><rect x="1069.6" y="363.0" width="12.8" height="1.5" fill="#085ce8"/><rect x="1069.6" y="364.0" width="12.8" height="1.5" fill="#0759e7"/><rect x="1069.6" y="365.0" width="12.8" height="1.5" fill="#0755e7"/><rect x="1069.6" y="366.0" width="12.8" height="1.5" fill="#0652e6"/><rect x="1069.6" y="367.0" width="12.8" height="1.5" fill="#064ee6"/><rect x="1069.6" y="368.0" width="12.8" height="1.5" fill="#054be5"/><rect x="1069.6" y="369.0" width="12.8" height="1.5" fill="#0547e5"/><rect x="1069.6" y="370.0" width="12.8" height="1.5" fill="#0443e4"/><rect x="1069.6" y="371.0" width="12.8" height="1.5" fill="#0440e4"/><rect x="1069.6" y="372.0" width="12.8" height="1.5" fill="#043ce4"/><rect x="1069.6" y="373.0" width="12.8" height="1.5" fill="#0339e3"/><rect x="1069.6" y="374.0" width="12.8" height="1.5" fill="#0335e3"/><rect x="1069.6" y="375.0" width="12.8" height="1.5" fill="#0232e2"/><rect x="1069.6" y="376.0" width="12.8" height="1.5" fill="#022ee2"/><rect x="1069.6" y="377.0" width="12.8" height="1.5" fill="#012ae1"/><rect x="1069.6" y="378.0" width="12.8" height="1.5" fill="#0127e1"/><rect x="1069.6" y="379.0" width="12.8" height="1.5" fill="#0023e0"/><rect x="1069.6" y="380.0" width="12.8" height="1.5" fill="#0020e0"/><rect x="1069.6" y="381.0" width="12.8" height="1.5" fill="#001ee0"/><rect x="1069.6" y="382.0" width="12.8" height="1.5" fill="#001be0"/><rect x="1069.6" y="383.0" width="12.8" height="1.5" fill="#0019e0"/><rect x="1069.6" y="384.0" width="12.8" height="1.5" fill="#0018e0"/><rect x="1069.6" y="385.0" width="12.8" height="1.5" fill="#0018e0"/><rect x="1069.6" y="386.0" width="12.8" height="1.5" fill="#0018e0"/><rect x="1069.6" y="387.0" width="12.8" height="1.5" fill="#0018e0"/><rect x="1069.6" y="388.0" width="12.8" height="1.5" fill="#0018e0"/><rect x="1069.6" y="389.0" width="12.8" height="1.5" fill="#0018e0"/><rect x="1069.6" y="390.0" width="12.8" height="1.5" fill="#0018e0"/><rect x="1069.6" y="391.0" width="12.8" height="1.5" fill="#0018e0"/><rect x="1069.6" y="392.0" width="12.8" height="1.5" fill="#0018e0"/><rect x="1069.6" y="393.0" width="12.8" height="1.5" fill="#0018e0"/><rect x="1069.6" y="394.0" width="12.8" height="1.5" fill="#0018e0"/><rect x="1069.6" y="395.0" width="12.8" height="1.5" fill="#0018e0"/><rect x="1069.6" y="396.0" width="12.8" height="1.5" fill="#0018e0"/><rect x="1069.6" y="397.0" width="12.8" height="1.5" fill="#0018e0"/></g>
<rect x="1069.6" y="50.0" width="12.8" height="348.0" fill="none" stroke="#111" stroke-width="1.2"/>
<line x1="1069.6" y1="57.7" x2="1072.1" y2="57.7" stroke="#111" stroke-width="1"/>
<line x1="1079.9" y1="57.7" x2="1082.4" y2="57.7" stroke="#111" stroke-width="1"/>
<line x1="1069.6" y1="93.6" x2="1072.1" y2="93.6" stroke="#111" stroke-width="1"/>
<line x1="1079.9" y1="93.6" x2="1082.4" y2="93.6" stroke="#111" stroke-width="1"/>
<line x1="1069.6" y1="129.5" x2="1072.1" y2="129.5" stroke="#111" stroke-width="1"/>
<line x1="1079.9" y1="129.5" x2="1082.4" y2="129.5" stroke="#111" stroke-width="1"/>
<line x1="1069.6" y1="165.4" x2="1072.1" y2="165.4" stroke="#111" stroke-width="1"/>
<line x1="1079.9" y1="165.4" x2="1082.4" y2="165.4" stroke="#111" stroke-width="1"/>
<line x1="1069.6" y1="201.3" x2="1072.1" y2="201.3" stroke="#111" stroke-width="1"/>
<line x1="1079.9" y1="201.3" x2="1082.4" y2="201.3" stroke="#111" stroke-width="1"/>
<line x1="1069.6" y1="237.2" x2="1072.1" y2="237.2" stroke="#111" stroke-width="1"/>
<line x1="1079.9" y1="237.2" x2="1082.4" y2="237.2" stroke="#111" stroke-width="1"/>
<line x1="1069.6" y1="273.1" x2="1072.1" y2="273.1" stroke="#111" stroke-width="1"/>
<line x1="1079.9" y1="273.1" x2="1082.4" y2="273.1" stroke="#111" stroke-width="1"/>
<line x1="1069.6" y1="309.0" x2="1072.1" y2="309.0" stroke="#111" stroke-width="1"/>
<line x1="1079.9" y1="309.0" x2="1082.4" y2="309.0" stroke="#111" stroke-width="1"/>
<line x1="1069.6" y1="344.9" x2="1072.1" y2="344.9" stroke="#111" stroke-width="1"/>
<line x1="1079.9" y1="344.9" x2="1082.4" y2="344.9" stroke="#111" stroke-width="1"/>
<line x1="1069.6" y1="380.8" x2="1072.1" y2="380.8" stroke="#111" stroke-width="1"/>
<line x1="1079.9" y1="380.8" x2="1082.4" y2="380.8" stroke="#111" stroke-width="1"/>
<text x="1090.4" y="65.3" font-size="16.5" fill="#111" letter-spacing="0.4">200</text>
<text x="1090.4" y="101.2" font-size="16.5" fill="#111" letter-spacing="0.4">150</text>
<text x="1090.4" y="137.1" font-size="16.5" fill="#111" letter-spacing="0.4">100</text>
<text x="1090.4" y="173.0" font-size="16.5" fill="#111" letter-spacing="0.4">50</text>
<text x="1090.4" y="208.9" font-size="16.5" fill="#111" letter-spacing="0.4">0</text>
<text x="1090.4" y="244.8" font-size="16.5" fill="#111" letter-spacing="0.4">−50</text>
<text x="1090.4" y="280.7" font-size="16.5" fill="#111" letter-spacing="0.4">−100</text>
<text x="1090.4" y="316.6" font-size="16.5" fill="#111" letter-spacing="0.4">−150</text>
<text x="1090.4" y="352.5" font-size="16.5" fill="#111" letter-spacing="0.4">−200</text>
<text x="1090.4" y="388.4" font-size="16.5" fill="#111" letter-spacing="0.4">−250</text>
<text x="0" y="0" font-size="16" fill="#111" textLength="52" lengthAdjust="spacing" transform="translate(1139.6 197.8) rotate(90)">(km/s)</text>
<g shape-rendering="crispEdges"><path fill="#0c8af0" d="M275.3 555.5h4.8v4.8h-4.8zM245.9 618.5h9.0v4.8h-9.0z"/><path fill="#12a2f0" d="M279.5 555.5h4.8v4.8h-4.8zM283.7 572.3h4.8v4.8h-4.8zM271.1 618.5h9.0v4.8h-9.0zM241.7 622.7h4.8v4.8h-4.8z"/><path fill="#0cbaf0" d="M283.7 555.5h4.8v4.8h-4.8zM287.9 576.5h4.8v4.8h-4.8zM271.1 622.7h4.8v4.8h-4.8zM245.9 626.9h9.0v4.8h-9.0z"/><path fill="#06ccf0" d="M287.9 555.5h4.8v4.8h-4.8zM287.9 559.7h4.8v4.8h-4.8zM266.9 626.9h9.0v4.8h-9.0zM245.9 631.1h9.0v4.8h-9.0z"/><path fill="#00e4f0" d="M292.1 555.5h4.8v4.8h-4.8zM292.1 559.7h4.8v4.8h-4.8zM292.1 563.9h4.8v4.8h-4.8zM296.3 593.3h4.8v4.8h-4.8zM287.9 622.7h4.8v4.8h-4.8zM262.7 635.3h4.8v4.8h-4.8zM250.1 639.5h9.0v4.8h-9.0z"/><path fill="#00f0e4" d="M296.3 555.5h4.8v4.8h-4.8zM296.3 559.7h4.8v4.8h-4.8zM296.3 563.9h4.8v4.8h-4.8zM296.3 568.1h4.8v4.8h-4.8zM296.3 572.3h4.8v4.8h-4.8zM296.3 576.5h4.8v4.8h-4.8zM279.5 631.1h4.8v4.8h-4.8zM258.5 643.7h4.8v4.8h-4.8z"/><path fill="#00eacc" d="M300.5 555.5h4.8v4.8h-4.8zM300.5 559.7h4.8v4.8h-4.8zM266.9 643.7h4.8v4.8h-4.8z"/><path fill="#065aea" d="M266.9 559.7h4.8v4.8h-4.8zM271.1 568.1h4.8v4.8h-4.8zM275.3 576.5h4.8v4.8h-4.8zM279.5 584.9h4.8v4.8h-4.8zM283.7 593.3h4.8v4.8h-4.8zM287.9 601.7h4.8v4.8h-4.8z"/><path fill="#0c6cea" d="M271.1 559.7h4.8v4.8h-4.8zM275.3 572.3h4.8v4.8h-4.8zM279.5 580.7h4.8v4.8h-4.8zM237.5 614.3h13.2v4.8h-13.2z"/><path fill="#0c84ea" d="M275.3 559.7h4.8v4.8h-4.8zM279.5 572.3h4.8v4.8h-4.8zM241.7 618.5h4.8v4.8h-4.8z"/><path fill="#129cf0" d="M279.5 559.7h4.8v4.8h-4.8zM283.7 576.5h4.8v4.8h-4.8zM266.9 618.5h4.8v4.8h-4.8z"/><path fill="#0cb4f0" d="M283.7 559.7h4.8v4.8h-4.8zM296.3 601.7h4.8v4.8h-4.8zM283.7 618.5h4.8v4.8h-4.8zM262.7 622.7h9.0v4.8h-9.0zM241.7 626.9h4.8v4.8h-4.8z"/><path fill="#00eaae" d="M304.7 559.7h4.8v4.8h-4.8z"/><path fill="#00ea90" d="M308.9 559.7h4.8v4.8h-4.8z"/><path fill="#00e442" d="M313.1 559.7h4.8v4.8h-4.8zM304.7 593.3h4.8v4.8h-4.8z"/><path fill="#063ce4" d="M258.5 563.9h4.8v4.8h-4.8zM262.7 568.1h4.8v4.8h-4.8zM262.7 572.3h4.8v4.8h-4.8zM266.9 580.7h4.8v4.8h-4.8zM266.9 584.9h4.8v4.8h-4.8zM271.1 589.1h4.8v4.8h-4.8zM271.1 593.3h4.8v4.8h-4.8zM271.1 597.5h4.8v4.8h-4.8zM275.3 601.7h4.8v4.8h-4.8zM250.1 605.9h30.0v4.8h-30.0z"/><path fill="#0642e4" d="M262.7 563.9h4.8v4.8h-4.8zM266.9 576.5h4.8v4.8h-4.8zM271.1 584.9h4.8v4.8h-4.8zM275.3 593.3h4.8v4.8h-4.8zM275.3 597.5h4.8v4.8h-4.8zM237.5 605.9h13.2v4.8h-13.2zM279.5 605.9h4.8v4.8h-4.8z"/><path fill="#064ee4" d="M266.9 563.9h4.8v4.8h-4.8zM271.1 572.3h4.8v4.8h-4.8zM271.1 576.5h4.8v4.8h-4.8zM275.3 584.9h4.8v4.8h-4.8zM279.5 593.3h4.8v4.8h-4.8zM283.7 601.7h4.8v4.8h-4.8zM266.9 610.1h13.2v4.8h-13.2z"/><path fill="#0666ea" d="M271.1 563.9h4.8v4.8h-4.8zM292.1 601.7h4.8v4.8h-4.8z"/><path fill="#0c7eea" d="M275.3 563.9h4.8v4.8h-4.8zM283.7 584.9h4.8v4.8h-4.8zM279.5 614.3h9.0v4.8h-9.0z"/><path fill="#0c96f0" d="M279.5 563.9h4.8v4.8h-4.8zM287.9 589.1h4.8v4.8h-4.8zM262.7 618.5h4.8v4.8h-4.8z"/><path fill="#0caef0" d="M283.7 563.9h4.8v4.8h-4.8zM287.9 580.7h4.8v4.8h-4.8zM292.1 593.3h4.8v4.8h-4.8zM258.5 622.7h4.8v4.8h-4.8z"/><path fill="#06c6f0" d="M287.9 563.9h4.8v4.8h-4.8zM287.9 568.1h4.8v4.8h-4.8zM292.1 584.9h4.8v4.8h-4.8zM279.5 622.7h4.8v4.8h-4.8zM258.5 626.9h9.0v4.8h-9.0z"/><path fill="#00eac6" d="M300.5 563.9h4.8v4.8h-4.8zM300.5 568.1h4.8v4.8h-4.8zM300.5 601.7h4.8v4.8h-4.8zM292.1 622.7h4.8v4.8h-4.8zM287.9 626.9h4.8v4.8h-4.8zM283.7 631.1h4.8v4.8h-4.8z"/><path fill="#00eaa8" d="M304.7 563.9h4.8v4.8h-4.8z"/><path fill="#00ea7e" d="M308.9 563.9h4.8v4.8h-4.8z"/><path fill="#00e42a" d="M313.1 563.9h4.8v4.8h-4.8zM287.9 635.3h4.8v4.8h-4.8z"/><path fill="#36ea00" d="M317.3 563.9h4.8v4.8h-4.8z"/><path fill="#66ea00" d="M321.5 563.9h4.8v4.8h-4.8zM317.3 572.3h4.8v4.8h-4.8zM287.9 643.7h4.8v4.8h-4.8z"/><path fill="#0030e4" d="M254.3 568.1h4.8v4.8h-4.8zM258.5 572.3h4.8v4.8h-4.8zM258.5 576.5h4.8v4.8h-4.8zM262.7 584.9h4.8v4.8h-4.8zM266.9 593.3h4.8v4.8h-4.8zM266.9 597.5h4.8v4.8h-4.8zM237.5 601.7h34.2v4.8h-34.2z"/><path fill="#0036e4" d="M258.5 568.1h4.8v4.8h-4.8zM262.7 576.5h4.8v4.8h-4.8zM262.7 580.7h4.8v4.8h-4.8zM266.9 589.1h4.8v4.8h-4.8zM271.1 601.7h4.8v4.8h-4.8z"/><path fill="#0648e4" d="M266.9 568.1h4.8v4.8h-4.8zM266.9 572.3h4.8v4.8h-4.8zM271.1 580.7h4.8v4.8h-4.8zM275.3 589.1h4.8v4.8h-4.8zM279.5 597.5h4.8v4.8h-4.8zM279.5 601.7h4.8v4.8h-4.8zM283.7 605.9h4.8v4.8h-4.8zM279.5 610.1h13.2v4.8h-13.2z"/><path fill="#0c78ea" d="M275.3 568.1h4.8v4.8h-4.8zM279.5 576.5h4.8v4.8h-4.8zM271.1 614.3h9.0v4.8h-9.0z"/><path fill="#0c90f0" d="M279.5 568.1h4.8v4.8h-4.8zM283.7 580.7h4.8v4.8h-4.8zM292.1 597.5h4.8v4.8h-4.8zM254.3 618.5h9.0v4.8h-9.0z"/><path fill="#0ca8f0" d="M283.7 568.1h4.8v4.8h-4.8zM287.9 584.9h4.8v4.8h-4.8zM279.5 618.5h4.8v4.8h-4.8zM245.9 622.7h13.2v4.8h-13.2z"/><path fill="#06def0" d="M292.1 568.1h4.8v4.8h-4.8zM292.1 572.3h4.8v4.8h-4.8zM279.5 626.9h4.8v4.8h-4.8zM271.1 631.1h4.8v4.8h-4.8zM258.5 635.3h4.8v4.8h-4.8z"/><path fill="#00eaa2" d="M304.7 568.1h4.8v4.8h-4.8zM275.3 643.7h4.8v4.8h-4.8z"/><path fill="#00e46c" d="M308.9 568.1h4.8v4.8h-4.8zM275.3 647.9h4.8v4.8h-4.8z"/><path fill="#00de0c" d="M313.1 568.1h4.8v4.8h-4.8z"/><path fill="#4eea00" d="M317.3 568.1h4.8v4.8h-4.8zM283.7 647.9h4.8v4.8h-4.8z"/><path fill="#7eea00" d="M321.5 568.1h4.8v4.8h-4.8zM317.3 576.5h4.8v4.8h-4.8z"/><path fill="#a2f000" d="M325.7 568.1h4.8v4.8h-4.8zM308.9 597.5h4.8v4.8h-4.8z"/><path fill="#c0f000" d="M329.9 568.1h4.8v4.8h-4.8zM313.1 593.3h4.8v4.8h-4.8z"/><path fill="#0024de" d="M250.1 572.3h4.8v4.8h-4.8zM254.3 576.5h4.8v4.8h-4.8zM258.5 584.9h4.8v4.8h-4.8zM258.5 589.1h4.8v4.8h-4.8zM254.3 593.3h9.0v4.8h-9.0zM237.5 597.5h4.8v4.8h-4.8zM254.3 597.5h4.8v4.8h-4.8z"/><path fill="#002ade" d="M254.3 572.3h4.8v4.8h-4.8zM258.5 597.5h4.8v4.8h-4.8z"/><path fill="#0cc0f0" d="M287.9 572.3h4.8v4.8h-4.8zM292.1 589.1h4.8v4.8h-4.8zM287.9 618.5h4.8v4.8h-4.8zM275.3 622.7h4.8v4.8h-4.8zM254.3 626.9h4.8v4.8h-4.8z"/><path fill="#00eac0" d="M300.5 572.3h4.8v4.8h-4.8zM300.5 576.5h4.8v4.8h-4.8zM300.5 580.7h4.8v4.8h-4.8zM300.5 593.3h4.8v4.8h-4.8zM300.5 597.5h4.8v4.8h-4.8zM279.5 635.3h4.8v4.8h-4.8zM262.7 647.9h4.8v4.8h-4.8z"/><path fill="#00ea9c" d="M304.7 572.3h4.8v4.8h-4.8zM279.5 639.5h4.8v4.8h-4.8zM271.1 647.9h4.8v4.8h-4.8zM266.9 652.1h4.8v4.8h-4.8z"/><path fill="#00e454" d="M308.9 572.3h4.8v4.8h-4.8z"/><path fill="#18e400" d="M313.1 572.3h4.8v4.8h-4.8z"/><path fill="#90ea00" d="M321.5 572.3h4.8v4.8h-4.8zM292.1 639.5h4.8v4.8h-4.8zM287.9 647.9h4.8v4.8h-4.8z"/><path fill="#b4f000" d="M325.7 572.3h4.8v4.8h-4.8zM317.3 584.9h4.8v4.8h-4.8zM292.1 643.7h4.8v4.8h-4.8zM283.7 660.5h4.8v4.8h-4.8z"/><path fill="#d8f000" d="M329.9 572.3h4.8v4.8h-4.8zM317.3 589.1h4.8v4.8h-4.8zM292.1 647.9h4.8v4.8h-4.8z"/><path fill="#f6fc00" d="M334.1 572.3h4.8v4.8h-4.8zM329.9 576.5h4.8v4.8h-4.8zM313.1 597.5h4.8v4.8h-4.8zM296.3 639.5h4.8v4.8h-4.8zM292.1 652.1h4.8v4.8h-4.8z"/><path fill="#fcf600" d="M338.3 572.3h4.8v4.8h-4.8zM334.1 576.5h4.8v4.8h-4.8zM329.9 580.7h4.8v4.8h-4.8zM325.7 584.9h4.8v4.8h-4.8zM321.5 589.1h4.8v4.8h-4.8zM296.3 643.7h4.8v4.8h-4.8zM292.1 656.3h4.8v4.8h-4.8z"/><path fill="#001ede" d="M250.1 576.5h4.8v4.8h-4.8zM254.3 580.7h4.8v4.8h-4.8zM250.1 584.9h9.0v4.8h-9.0zM250.1 589.1h9.0v4.8h-9.0zM250.1 593.3h4.8v4.8h-4.8zM241.7 597.5h13.2v4.8h-13.2z"/><path fill="#06d8f0" d="M292.1 576.5h4.8v4.8h-4.8zM292.1 618.5h4.8v4.8h-4.8zM275.3 626.9h4.8v4.8h-4.8zM266.9 631.1h4.8v4.8h-4.8zM250.1 635.3h9.0v4.8h-9.0z"/><path fill="#00ea96" d="M304.7 576.5h4.8v4.8h-4.8zM283.7 635.3h4.8v4.8h-4.8z"/><path fill="#00e436" d="M308.9 576.5h4.8v4.8h-4.8z"/><path fill="#42ea00" d="M313.1 576.5h4.8v4.8h-4.8zM304.7 601.7h4.8v4.8h-4.8z"/><path fill="#a8f000" d="M321.5 576.5h4.8v4.8h-4.8zM296.3 631.1h4.8v4.8h-4.8z"/><path fill="#d2f000" d="M325.7 576.5h4.8v4.8h-4.8zM296.3 635.3h4.8v4.8h-4.8z"/><path fill="#fcea00" d="M338.3 576.5h4.8v4.8h-4.8zM334.1 580.7h4.8v4.8h-4.8zM300.5 626.9h4.8v4.8h-4.8z"/><path fill="#fcde00" d="M342.5 576.5h4.8v4.8h-4.8zM338.3 580.7h4.8v4.8h-4.8zM321.5 593.3h4.8v4.8h-4.8zM317.3 597.5h4.8v4.8h-4.8zM300.5 631.1h4.8v4.8h-4.8z"/><path fill="#0018de" d="M245.9 580.7h9.0v4.8h-9.0zM241.7 584.9h9.0v4.8h-9.0zM241.7 589.1h9.0v4.8h-9.0zM241.7 593.3h9.0v4.8h-9.0z"/><path fill="#002ae4" d="M258.5 580.7h4.8v4.8h-4.8zM262.7 589.1h4.8v4.8h-4.8zM262.7 593.3h4.8v4.8h-4.8zM262.7 597.5h4.8v4.8h-4.8z"/><path fill="#0654e4" d="M275.3 580.7h4.8v4.8h-4.8zM279.5 589.1h4.8v4.8h-4.8zM283.7 597.5h4.8v4.8h-4.8zM287.9 605.9h4.8v4.8h-4.8zM241.7 610.1h25.8v4.8h-25.8z"/><path fill="#06d2f0" d="M292.1 580.7h4.8v4.8h-4.8zM296.3 597.5h4.8v4.8h-4.8zM283.7 622.7h4.8v4.8h-4.8zM254.3 631.1h13.2v4.8h-13.2z"/><path fill="#00f0ea" d="M296.3 580.7h4.8v4.8h-4.8zM271.1 635.3h4.8v4.8h-4.8zM262.7 639.5h4.8v4.8h-4.8zM254.3 643.7h4.8v4.8h-4.8z"/><path fill="#00ea8a" d="M304.7 580.7h4.8v4.8h-4.8zM287.9 631.1h4.8v4.8h-4.8z"/><path fill="#00e41e" d="M308.9 580.7h4.8v4.8h-4.8zM279.5 647.9h4.8v4.8h-4.8z"/><path fill="#5aea00" d="M313.1 580.7h4.8v4.8h-4.8z"/><path fill="#96ea00" d="M317.3 580.7h4.8v4.8h-4.8zM283.7 656.3h4.8v4.8h-4.8z"/><path fill="#c6f000" d="M321.5 580.7h4.8v4.8h-4.8z"/><path fill="#f0fc00" d="M325.7 580.7h4.8v4.8h-4.8z"/><path fill="#fcd200" d="M342.5 580.7h4.8v4.8h-4.8zM329.9 589.1h4.8v4.8h-4.8zM300.5 635.3h4.8v4.8h-4.8z"/><path fill="#fcc600" d="M346.7 580.7h4.8v4.8h-4.8zM334.1 589.1h4.8v4.8h-4.8zM300.5 639.5h4.8v4.8h-4.8z"/><path fill="#00f0f0" d="M296.3 584.9h4.8v4.8h-4.8zM283.7 626.9h4.8v4.8h-4.8z"/><path fill="#00eaba" d="M300.5 584.9h4.8v4.8h-4.8zM300.5 589.1h4.8v4.8h-4.8zM275.3 639.5h4.8v4.8h-4.8zM271.1 643.7h4.8v4.8h-4.8z"/><path fill="#00e478" d="M304.7 584.9h4.8v4.8h-4.8z"/><path fill="#0ce400" d="M308.9 584.9h4.8v4.8h-4.8zM275.3 656.3h4.8v4.8h-4.8z"/><path fill="#78ea00" d="M313.1 584.9h4.8v4.8h-4.8z"/><path fill="#e4f600" d="M321.5 584.9h4.8v4.8h-4.8z"/><path fill="#fce400" d="M329.9 584.9h4.8v4.8h-4.8zM325.7 589.1h4.8v4.8h-4.8zM296.3 647.9h4.8v4.8h-4.8zM292.1 660.5h4.8v4.8h-4.8z"/><path fill="#fcd800" d="M334.1 584.9h4.8v4.8h-4.8zM313.1 601.7h4.8v4.8h-4.8zM296.3 652.1h4.8v4.8h-4.8zM292.1 664.7h4.8v4.8h-4.8z"/><path fill="#fccc00" d="M338.3 584.9h4.8v4.8h-4.8zM325.7 593.3h4.8v4.8h-4.8zM296.3 656.3h4.8v4.8h-4.8z"/><path fill="#fcc000" d="M342.5 584.9h4.8v4.8h-4.8zM321.5 597.5h4.8v4.8h-4.8zM296.3 660.5h4.8v4.8h-4.8z"/><path fill="#fcb400" d="M346.7 584.9h4.8v4.8h-4.8zM300.5 647.9h4.8v4.8h-4.8zM296.3 664.7h4.8v4.8h-4.8z"/><path fill="#fca800" d="M350.9 584.9h4.8v4.8h-4.8zM342.5 589.1h4.8v4.8h-4.8zM313.1 605.9h4.8v4.8h-4.8zM300.5 652.1h4.8v4.8h-4.8z"/><path fill="#0660ea" d="M283.7 589.1h4.8v4.8h-4.8zM287.9 597.5h4.8v4.8h-4.8zM292.1 605.9h4.8v4.8h-4.8z"/><path fill="#00eaf0" d="M296.3 589.1h4.8v4.8h-4.8zM275.3 631.1h4.8v4.8h-4.8zM266.9 635.3h4.8v4.8h-4.8zM258.5 639.5h4.8v4.8h-4.8z"/><path fill="#00e460" d="M304.7 589.1h4.8v4.8h-4.8zM279.5 643.7h4.8v4.8h-4.8z"/><path fill="#48ea00" d="M308.9 589.1h4.8v4.8h-4.8z"/><path fill="#9cf000" d="M313.1 589.1h4.8v4.8h-4.8z"/><path fill="#fcba00" d="M338.3 589.1h4.8v4.8h-4.8zM329.9 593.3h4.8v4.8h-4.8zM317.3 601.7h4.8v4.8h-4.8zM300.5 643.7h4.8v4.8h-4.8z"/><path fill="#fc9c00" d="M346.7 589.1h4.8v4.8h-4.8z"/><path fill="#fc9600" d="M350.9 589.1h4.8v4.8h-4.8zM342.5 593.3h4.8v4.8h-4.8zM300.5 660.5h4.8v4.8h-4.8z"/><path fill="#fc8400" d="M355.1 589.1h4.8v4.8h-4.8z"/><path fill="#0c72ea" d="M287.9 593.3h4.8v4.8h-4.8zM250.1 614.3h21.6v4.8h-21.6z"/><path fill="#6cea00" d="M308.9 593.3h4.8v4.8h-4.8zM296.3 626.9h4.8v4.8h-4.8z"/><path fill="#fcfc00" d="M317.3 593.3h4.8v4.8h-4.8zM287.9 664.7h4.8v4.8h-4.8z"/><path fill="#fcae00" d="M334.1 593.3h4.8v4.8h-4.8zM325.7 597.5h4.8v4.8h-4.8z"/><path fill="#fca200" d="M338.3 593.3h4.8v4.8h-4.8zM329.9 597.5h4.8v4.8h-4.8zM321.5 601.7h4.8v4.8h-4.8zM300.5 656.3h4.8v4.8h-4.8z"/><path fill="#fc7e00" d="M346.7 593.3h4.8v4.8h-4.8zM304.7 635.3h4.8v4.8h-4.8zM304.7 639.5h4.8v4.8h-4.8zM300.5 668.9h4.8v4.8h-4.8z"/><path fill="#fc6600" d="M350.9 593.3h4.8v4.8h-4.8zM304.7 626.9h4.8v4.8h-4.8zM304.7 656.3h4.8v4.8h-4.8z"/><path fill="#fc4e00" d="M355.1 593.3h4.8v4.8h-4.8zM325.7 605.9h4.8v4.8h-4.8zM313.1 610.1h4.8v4.8h-4.8z"/><path fill="#fc3600" d="M359.3 593.3h4.8v4.8h-4.8zM329.9 605.9h4.8v4.8h-4.8zM317.3 610.1h4.8v4.8h-4.8zM304.7 622.7h4.8v4.8h-4.8z"/><path fill="#00e418" d="M304.7 597.5h4.8v4.8h-4.8zM296.3 622.7h4.8v4.8h-4.8z"/><path fill="#fc9000" d="M334.1 597.5h4.8v4.8h-4.8zM325.7 601.7h4.8v4.8h-4.8z"/><path fill="#fc7800" d="M338.3 597.5h4.8v4.8h-4.8zM304.7 631.1h4.8v4.8h-4.8zM304.7 643.7h4.8v4.8h-4.8z"/><path fill="#fc6000" d="M342.5 597.5h4.8v4.8h-4.8z"/><path fill="#fc4800" d="M346.7 597.5h4.8v4.8h-4.8zM304.7 668.9h4.8v4.8h-4.8z"/><path fill="#fc3000" d="M350.9 597.5h4.8v4.8h-4.8z"/><path fill="#fc1200" d="M355.1 597.5h4.8v4.8h-4.8zM308.9 643.7h4.8v4.8h-4.8zM308.9 660.5h4.8v4.8h-4.8z"/><path fill="#fc0006" d="M359.3 597.5h4.8v4.8h-4.8zM308.9 635.3h4.8v4.8h-4.8z"/><path fill="#def600" d="M308.9 601.7h4.8v4.8h-4.8z"/><path fill="#fc7200" d="M329.9 601.7h4.8v4.8h-4.8zM304.7 647.9h4.8v4.8h-4.8z"/><path fill="#fc5a00" d="M334.1 601.7h4.8v4.8h-4.8zM304.7 660.5h4.8v4.8h-4.8z"/><path fill="#fc4200" d="M338.3 601.7h4.8v4.8h-4.8z"/><path fill="#fc2400" d="M342.5 601.7h4.8v4.8h-4.8z"/><path fill="#fc0c00" d="M346.7 601.7h4.8v4.8h-4.8zM308.9 664.7h4.8v4.8h-4.8z"/><path fill="#fc000c" d="M350.9 601.7h4.8v4.8h-4.8z"/><path fill="#fc0018" d="M355.1 601.7h4.8v4.8h-4.8zM308.9 631.1h4.8v4.8h-4.8z"/><path fill="#fc002a" d="M359.3 601.7h4.8v4.8h-4.8z"/><path fill="#f6003c" d="M363.5 601.7h4.8v4.8h-4.8zM321.5 614.3h4.8v4.8h-4.8zM313.1 643.7h4.8v4.8h-4.8z"/><path fill="#fc8a00" d="M317.3 605.9h4.8v4.8h-4.8zM300.5 664.7h4.8v4.8h-4.8z"/><path fill="#fc6c00" d="M321.5 605.9h4.8v4.8h-4.8zM304.7 652.1h4.8v4.8h-4.8z"/><path fill="#fc1800" d="M334.1 605.9h4.8v4.8h-4.8zM321.5 610.1h4.8v4.8h-4.8zM308.9 647.9h4.8v4.8h-4.8zM308.9 652.1h4.8v4.8h-4.8zM308.9 656.3h4.8v4.8h-4.8z"/><path fill="#fc0000" d="M338.3 605.9h4.8v4.8h-4.8zM325.7 610.1h4.8v4.8h-4.8zM308.9 668.9h4.8v4.8h-4.8z"/><path fill="#fc0012" d="M342.5 605.9h4.8v4.8h-4.8zM329.9 610.1h4.8v4.8h-4.8z"/><path fill="#fc0024" d="M346.7 605.9h4.8v4.8h-4.8zM334.1 610.1h4.8v4.8h-4.8z"/><path fill="#f60030" d="M350.9 605.9h4.8v4.8h-4.8zM338.3 610.1h4.8v4.8h-4.8zM313.1 614.3h4.8v4.8h-4.8zM313.1 652.1h4.8v4.8h-4.8zM313.1 656.3h4.8v4.8h-4.8zM313.1 660.5h4.8v4.8h-4.8zM313.1 664.7h4.8v4.8h-4.8z"/><path fill="#f60042" d="M355.1 605.9h4.8v4.8h-4.8zM342.5 610.1h4.8v4.8h-4.8zM325.7 614.3h4.8v4.8h-4.8z"/><path fill="#f60054" d="M359.3 605.9h4.8v4.8h-4.8z"/><path fill="#f00060" d="M363.5 605.9h4.8v4.8h-4.8zM350.9 610.1h4.8v4.8h-4.8z"/><path fill="#065ae4" d="M237.5 610.1h4.8v4.8h-4.8z"/><path fill="#f6004e" d="M346.7 610.1h4.8v4.8h-4.8zM329.9 614.3h4.8v4.8h-4.8z"/><path fill="#f0006c" d="M355.1 610.1h4.8v4.8h-4.8zM317.3 652.1h4.8v4.8h-4.8z"/><path fill="#f00078" d="M359.3 610.1h4.8v4.8h-4.8z"/><path fill="#f00084" d="M363.5 610.1h4.8v4.8h-4.8zM350.9 614.3h4.8v4.8h-4.8zM334.1 618.5h4.8v4.8h-4.8zM317.3 639.5h4.8v4.8h-4.8z"/><path fill="#0c8aea" d="M287.9 614.3h4.8v4.8h-4.8z"/><path fill="#f60036" d="M317.3 614.3h4.8v4.8h-4.8zM308.9 626.9h4.8v4.8h-4.8zM313.1 647.9h4.8v4.8h-4.8zM313.1 668.9h4.8v4.8h-4.8z"/><path fill="#f0005a" d="M334.1 614.3h4.8v4.8h-4.8z"/><path fill="#f00066" d="M338.3 614.3h4.8v4.8h-4.8zM308.9 622.7h4.8v4.8h-4.8zM317.3 656.3h4.8v4.8h-4.8zM317.3 660.5h4.8v4.8h-4.8zM317.3 664.7h4.8v4.8h-4.8zM317.3 668.9h4.8v4.8h-4.8z"/><path fill="#f00072" d="M342.5 614.3h4.8v4.8h-4.8zM313.1 631.1h4.8v4.8h-4.8zM317.3 647.9h4.8v4.8h-4.8z"/><path fill="#f0007e" d="M346.7 614.3h4.8v4.8h-4.8zM313.1 618.5h21.6v4.8h-21.6zM317.3 643.7h4.8v4.8h-4.8z"/><path fill="#f00090" d="M355.1 614.3h4.8v4.8h-4.8zM338.3 618.5h4.8v4.8h-4.8zM317.3 635.3h4.8v4.8h-4.8zM321.5 656.3h4.8v4.8h-4.8zM321.5 660.5h4.8v4.8h-4.8z"/><path fill="#f00096" d="M359.3 614.3h4.8v4.8h-4.8zM342.5 618.5h4.8v4.8h-4.8zM313.1 622.7h13.2v4.8h-13.2zM321.5 652.1h4.8v4.8h-4.8z"/><path fill="#f600a2" d="M363.5 614.3h4.8v4.8h-4.8zM346.7 618.5h4.8v4.8h-4.8zM329.9 622.7h4.8v4.8h-4.8zM317.3 626.9h4.8v4.8h-4.8zM317.3 631.1h4.8v4.8h-4.8zM321.5 643.7h4.8v4.8h-4.8zM321.5 647.9h4.8v4.8h-4.8z"/><path fill="#f600a8" d="M350.9 618.5h4.8v4.8h-4.8zM334.1 622.7h9.0v4.8h-9.0zM321.5 626.9h4.8v4.8h-4.8zM321.5 639.5h4.8v4.8h-4.8z"/><path fill="#f600ae" d="M355.1 618.5h4.8v4.8h-4.8zM342.5 622.7h4.8v4.8h-4.8zM325.7 626.9h4.8v4.8h-4.8zM325.7 664.7h4.8v4.8h-4.8zM325.7 668.9h4.8v4.8h-4.8z"/><path fill="#f600ba" d="M359.3 618.5h4.8v4.8h-4.8zM346.7 622.7h4.8v4.8h-4.8zM334.1 626.9h4.8v4.8h-4.8zM325.7 631.1h4.8v4.8h-4.8zM325.7 643.7h4.8v4.8h-4.8zM325.7 647.9h4.8v4.8h-4.8zM325.7 652.1h4.8v4.8h-4.8zM325.7 656.3h4.8v4.8h-4.8z"/><path fill="#f600c0" d="M363.5 618.5h4.8v4.8h-4.8zM350.9 622.7h4.8v4.8h-4.8zM338.3 626.9h4.8v4.8h-4.8zM325.7 635.3h4.8v4.8h-4.8z"/><path fill="#f0009c" d="M325.7 622.7h4.8v4.8h-4.8z"/><path fill="#f600c6" d="M355.1 622.7h4.8v4.8h-4.8zM342.5 626.9h4.8v4.8h-4.8zM329.9 631.1h9.0v4.8h-9.0zM325.7 639.5h4.8v4.8h-4.8z"/><path fill="#f600d2" d="M359.3 622.7h4.8v4.8h-4.8zM342.5 631.1h4.8v4.8h-4.8zM334.1 635.3h4.8v4.8h-4.8zM329.9 639.5h4.8v4.8h-4.8zM329.9 643.7h4.8v4.8h-4.8zM329.9 656.3h4.8v4.8h-4.8zM329.9 664.7h4.8v4.8h-4.8z"/><path fill="#f600d8" d="M363.5 622.7h4.8v4.8h-4.8zM350.9 626.9h4.8v4.8h-4.8zM334.1 639.5h4.8v4.8h-4.8zM329.9 660.5h4.8v4.8h-4.8z"/><path fill="#00e466" d="M292.1 626.9h4.8v4.8h-4.8z"/><path fill="#f0008a" d="M313.1 626.9h4.8v4.8h-4.8zM321.5 664.7h4.8v4.8h-4.8zM321.5 668.9h4.8v4.8h-4.8z"/><path fill="#f600b4" d="M329.9 626.9h4.8v4.8h-4.8zM321.5 631.1h4.8v4.8h-4.8zM321.5 635.3h4.8v4.8h-4.8zM325.7 660.5h4.8v4.8h-4.8z"/><path fill="#f600cc" d="M346.7 626.9h4.8v4.8h-4.8zM338.3 631.1h4.8v4.8h-4.8zM329.9 635.3h4.8v4.8h-4.8zM329.9 647.9h4.8v4.8h-4.8zM329.9 652.1h4.8v4.8h-4.8zM329.9 668.9h4.8v4.8h-4.8z"/><path fill="#f600de" d="M355.1 626.9h4.8v4.8h-4.8zM346.7 631.1h4.8v4.8h-4.8zM338.3 635.3h4.8v4.8h-4.8zM334.1 643.7h4.8v4.8h-4.8zM334.1 647.9h4.8v4.8h-4.8zM334.1 652.1h4.8v4.8h-4.8zM334.1 656.3h4.8v4.8h-4.8z"/><path fill="#f600e4" d="M359.3 626.9h4.8v4.8h-4.8zM350.9 631.1h4.8v4.8h-4.8zM342.5 635.3h4.8v4.8h-4.8zM338.3 639.5h4.8v4.8h-4.8zM334.1 660.5h4.8v4.8h-4.8z"/><path fill="#f600ea" d="M363.5 626.9h4.8v4.8h-4.8zM355.1 631.1h4.8v4.8h-4.8zM346.7 635.3h9.0v4.8h-9.0zM342.5 639.5h4.8v4.8h-4.8zM338.3 643.7h4.8v4.8h-4.8zM338.3 647.9h4.8v4.8h-4.8zM338.3 652.1h4.8v4.8h-4.8zM338.3 656.3h4.8v4.8h-4.8zM334.1 664.7h4.8v4.8h-4.8z"/><path fill="#06de00" d="M292.1 631.1h4.8v4.8h-4.8z"/><path fill="#fc00ea" d="M359.3 631.1h4.8v4.8h-4.8zM342.5 643.7h4.8v4.8h-4.8zM338.3 660.5h4.8v4.8h-4.8zM338.3 664.7h4.8v4.8h-4.8z"/><path fill="#fc00f0" d="M363.5 631.1h4.8v4.8h-4.8zM355.1 635.3h13.2v4.8h-13.2zM346.7 639.5h9.0v4.8h-9.0zM346.7 643.7h4.8v4.8h-4.8zM342.5 647.9h9.0v4.8h-9.0zM342.5 652.1h9.0v4.8h-9.0zM342.5 656.3h9.0v4.8h-9.0zM342.5 660.5h9.0v4.8h-9.0z"/><path fill="#00f0de" d="M275.3 635.3h4.8v4.8h-4.8zM266.9 639.5h4.8v4.8h-4.8z"/><path fill="#60ea00" d="M292.1 635.3h4.8v4.8h-4.8zM279.5 656.3h4.8v4.8h-4.8z"/><path fill="#f6005a" d="M313.1 635.3h4.8v4.8h-4.8z"/><path fill="#00f0d2" d="M271.1 639.5h4.8v4.8h-4.8z"/><path fill="#00e448" d="M283.7 639.5h4.8v4.8h-4.8z"/><path fill="#36e400" d="M287.9 639.5h4.8v4.8h-4.8z"/><path fill="#fc0600" d="M308.9 639.5h4.8v4.8h-4.8z"/><path fill="#f60048" d="M313.1 639.5h4.8v4.8h-4.8z"/><path fill="#fc00f6" d="M355.1 639.5h9.0v4.8h-9.0zM350.9 643.7h13.2v4.8h-13.2zM350.9 647.9h4.8v4.8h-4.8zM350.9 652.1h4.8v4.8h-4.8zM350.9 656.3h4.8v4.8h-4.8z"/><path fill="#00f0d8" d="M262.7 643.7h4.8v4.8h-4.8z"/><path fill="#00de06" d="M283.7 643.7h4.8v4.8h-4.8z"/><path fill="#00f0cc" d="M258.5 647.9h4.8v4.8h-4.8z"/><path fill="#00eab4" d="M266.9 647.9h4.8v4.8h-4.8z"/><path fill="#fc00fc" d="M355.1 647.9h4.8v4.8h-4.8z"/><path fill="#00e472" d="M271.1 652.1h4.8v4.8h-4.8z"/><path fill="#00e430" d="M275.3 652.1h4.8v4.8h-4.8z"/><path fill="#30e400" d="M279.5 652.1h4.8v4.8h-4.8z"/><path fill="#72ea00" d="M283.7 652.1h4.8v4.8h-4.8z"/><path fill="#aef000" d="M287.9 652.1h4.8v4.8h-4.8z"/><path fill="#00e43c" d="M271.1 656.3h4.8v4.8h-4.8z"/><path fill="#ccf000" d="M287.9 656.3h4.8v4.8h-4.8z"/><path fill="#84ea00" d="M279.5 660.5h4.8v4.8h-4.8z"/><path fill="#eaf600" d="M287.9 660.5h4.8v4.8h-4.8z"/><path fill="#fc5400" d="M304.7 664.7h4.8v4.8h-4.8z"/></g>
<rect x="147.2" y="478.3" width="307.8" height="307.9" fill="none" stroke="#111" stroke-width="1.4"/>
<path d="M152.5 786.2v-6M152.5 478.3v6M186.0 786.2v-6M186.0 478.3v6M219.5 786.2v-6M219.5 478.3v6M253.0 786.2v-6M253.0 478.3v6M286.5 786.2v-6M286.5 478.3v6M320.0 786.2v-6M320.0 478.3v6M353.5 786.2v-6M353.5 478.3v6M387.0 786.2v-6M387.0 478.3v6M420.5 786.2v-6M420.5 478.3v6M454.0 786.2v-6M454.0 478.3v6M152.5 786.2v4M147.2 505.7h6M455.0 505.7h-6M147.2 562.3h6M455.0 562.3h-6M147.2 618.9h6M455.0 618.9h-6M147.2 675.5h6M455.0 675.5h-6M147.2 732.1h6M455.0 732.1h-6" stroke="#111" stroke-width="1.3" fill="none"/>
<ellipse cx="178.0" cy="755.5" rx="16" ry="12.5" transform="rotate(-55 178.0 755.5)" fill="none" stroke="#111" stroke-width="1.2"/>
<text x="98.20" y="514.00" font-size="16.5" textLength="40.50" lengthAdjust="spacingAndGlyphs" fill="#111">52''.5</text>
<text x="98.20" y="570.60" font-size="16.5" textLength="40.50" lengthAdjust="spacingAndGlyphs" fill="#111">52''.0</text>
<text x="98.20" y="627.20" font-size="16.5" textLength="40.50" lengthAdjust="spacingAndGlyphs" fill="#111">51''.5</text>
<text x="98.20" y="683.80" font-size="16.5" textLength="40.50" lengthAdjust="spacingAndGlyphs" fill="#111">51''.0</text>
<text x="60.00" y="740.00" font-size="16.5" textLength="9.80" lengthAdjust="spacingAndGlyphs" fill="#111">9</text><text x="69.80" y="733.50" font-size="10.5" textLength="6.23" lengthAdjust="spacingAndGlyphs" fill="#111">o</text><text x="76.03" y="740.00" font-size="16.5" textLength="63.97" lengthAdjust="spacingAndGlyphs" fill="#111">50'50''.5</text>
<text x="103.75" y="810.00" font-size="16.5" textLength="19.19" lengthAdjust="spacingAndGlyphs" fill="#111">13</text><text x="122.94" y="801.50" font-size="11.5" textLength="6.69" lengthAdjust="spacingAndGlyphs" fill="#111">h</text><text x="129.62" y="810.00" font-size="16.5" textLength="19.19" lengthAdjust="spacingAndGlyphs" fill="#111">19</text><text x="148.81" y="801.50" font-size="11.5" textLength="10.01" lengthAdjust="spacingAndGlyphs" fill="#111">m</text><text x="158.82" y="810.00" font-size="16.5" textLength="19.19" lengthAdjust="spacingAndGlyphs" fill="#111">11</text><text x="178.01" y="801.50" font-size="11.5" textLength="6.01" lengthAdjust="spacingAndGlyphs" fill="#111">s</text><text x="184.02" y="810.00" font-size="16.5" textLength="23.98" lengthAdjust="spacingAndGlyphs" fill="#111">.38</text>
<text x="231.25" y="810.00" font-size="16.5" textLength="18.04" lengthAdjust="spacingAndGlyphs" fill="#111">11</text><text x="249.29" y="801.50" font-size="11.5" textLength="5.65" lengthAdjust="spacingAndGlyphs" fill="#111">s</text><text x="254.95" y="810.00" font-size="16.5" textLength="22.55" lengthAdjust="spacingAndGlyphs" fill="#111">.32</text>
<text x="298.50" y="810.00" font-size="16.5" textLength="17.95" lengthAdjust="spacingAndGlyphs" fill="#111">11</text><text x="316.45" y="801.50" font-size="11.5" textLength="5.62" lengthAdjust="spacingAndGlyphs" fill="#111">s</text><text x="322.07" y="810.00" font-size="16.5" textLength="22.43" lengthAdjust="spacingAndGlyphs" fill="#111">.28</text>
<text x="365.50" y="810.00" font-size="16.5" textLength="17.95" lengthAdjust="spacingAndGlyphs" fill="#111">11</text><text x="383.45" y="801.50" font-size="11.5" textLength="5.62" lengthAdjust="spacingAndGlyphs" fill="#111">s</text><text x="389.07" y="810.00" font-size="16.5" textLength="22.43" lengthAdjust="spacingAndGlyphs" fill="#111">.24</text>
<text x="432.00" y="810.00" font-size="16.5" textLength="17.95" lengthAdjust="spacingAndGlyphs" fill="#111">11</text><text x="449.95" y="801.50" font-size="11.5" textLength="5.62" lengthAdjust="spacingAndGlyphs" fill="#111">s</text><text x="455.57" y="810.00" font-size="16.5" textLength="22.43" lengthAdjust="spacingAndGlyphs" fill="#111">.20</text>
<text x="215.00" y="835.00" font-size="16.5" textLength="171.50" lengthAdjust="spacingAndGlyphs" fill="#111">J2000  Right  Ascension</text>
<text x="0" y="0" font-size="16.5" fill="#111" textLength="135" lengthAdjust="spacingAndGlyphs" transform="translate(52.5 700) rotate(-90)">J2000  Declination</text>
<g shape-rendering="crispEdges"><rect x="494.7" y="478.3" width="12.8" height="1.5" fill="#fe00fc"/><rect x="494.7" y="479.3" width="12.8" height="1.5" fill="#fe00fa"/><rect x="494.7" y="480.3" width="12.8" height="1.5" fill="#fd00f9"/><rect x="494.7" y="481.3" width="12.8" height="1.5" fill="#fd00f8"/><rect x="494.7" y="482.3" width="12.8" height="1.5" fill="#fc00f7"/><rect x="494.7" y="483.3" width="12.8" height="1.5" fill="#fc00f5"/><rect x="494.7" y="484.3" width="12.8" height="1.5" fill="#fc00f4"/><rect x="494.7" y="485.3" width="12.8" height="1.5" fill="#fb00f3"/><rect x="494.7" y="486.3" width="12.8" height="1.5" fill="#fb00f2"/><rect x="494.7" y="487.3" width="12.8" height="1.5" fill="#fb00f0"/><rect x="494.7" y="488.3" width="12.8" height="1.5" fill="#fa00ef"/><rect x="494.7" y="489.3" width="12.8" height="1.5" fill="#fa00ee"/><rect x="494.7" y="490.3" width="12.8" height="1.5" fill="#f900ed"/><rect x="494.7" y="491.3" width="12.8" height="1.5" fill="#f900eb"/><rect x="494.7" y="492.3" width="12.8" height="1.5" fill="#f900ea"/><rect x="494.7" y="493.3" width="12.8" height="1.5" fill="#f800e9"/><rect x="494.7" y="494.3" width="12.8" height="1.5" fill="#f800e7"/><rect x="494.7" y="495.3" width="12.8" height="1.5" fill="#f800e4"/><rect x="494.7" y="496.3" width="12.8" height="1.5" fill="#f700e0"/><rect x="494.7" y="497.3" width="12.8" height="1.5" fill="#f700dd"/><rect x="494.7" y="498.3" width="12.8" height="1.5" fill="#f700da"/><rect x="494.7" y="499.3" width="12.8" height="1.5" fill="#f700d7"/><rect x="494.7" y="500.3" width="12.8" height="1.5" fill="#f700d3"/><rect x="494.7" y="501.3" width="12.8" height="1.5" fill="#f600d0"/><rect x="494.7" y="502.3" width="12.8" height="1.5" fill="#f600cd"/><rect x="494.7" y="503.3" width="12.8" height="1.5" fill="#f600ca"/><rect x="494.7" y="504.3" width="12.8" height="1.5" fill="#f600c6"/><rect x="494.7" y="505.3" width="12.8" height="1.5" fill="#f600c3"/><rect x="494.7" y="506.3" width="12.8" height="1.5" fill="#f500c0"/><rect x="494.7" y="507.3" width="12.8" height="1.5" fill="#f500bc"/><rect x="494.7" y="508.3" width="12.8" height="1.5" fill="#f500b9"/><rect x="494.7" y="509.3" width="12.8" height="1.5" fill="#f500b6"/><rect x="494.7" y="510.3" width="12.8" height="1.5" fill="#f400b3"/><rect x="494.7" y="511.3" width="12.8" height="1.5" fill="#f400af"/><rect x="494.7" y="512.3" width="12.8" height="1.5" fill="#f400ac"/><rect x="494.7" y="513.3" width="12.8" height="1.5" fill="#f400a9"/><rect x="494.7" y="514.3" width="12.8" height="1.5" fill="#f400a5"/><rect x="494.7" y="515.3" width="12.8" height="1.5" fill="#f300a2"/><rect x="494.7" y="516.3" width="12.8" height="1.5" fill="#f3009f"/><rect x="494.7" y="517.3" width="12.8" height="1.5" fill="#f3009c"/><rect x="494.7" y="518.3" width="12.8" height="1.5" fill="#f30098"/><rect x="494.7" y="519.3" width="12.8" height="1.5" fill="#f20095"/><rect x="494.7" y="520.3" width="12.8" height="1.5" fill="#f20092"/><rect x="494.7" y="521.3" width="12.8" height="1.5" fill="#f2008f"/><rect x="494.7" y="522.3" width="12.8" height="1.5" fill="#f2008b"/><rect x="494.7" y="523.3" width="12.8" height="1.5" fill="#f20088"/><rect x="494.7" y="524.3" width="12.8" height="1.5" fill="#f10085"/><rect x="494.7" y="525.3" width="12.8" height="1.5" fill="#f10081"/><rect x="494.7" y="526.3" width="12.8" height="1.5" fill="#f1007e"/><rect x="494.7" y="527.3" width="12.8" height="1.5" fill="#f1007b"/><rect x="494.7" y="528.3" width="12.8" height="1.5" fill="#f10078"/><rect x="494.7" y="529.3" width="12.8" height="1.5" fill="#f00074"/><rect x="494.7" y="530.3" width="12.8" height="1.5" fill="#f00071"/><rect x="494.7" y="531.3" width="12.8" height="1.5" fill="#f0006d"/><rect x="494.7" y="532.3" width="12.8" height="1.5" fill="#f10069"/><rect x="494.7" y="533.3" width="12.8" height="1.5" fill="#f20064"/><rect x="494.7" y="534.3" width="12.8" height="1.5" fill="#f20060"/><rect x="494.7" y="535.3" width="12.8" height="1.5" fill="#f3005c"/><rect x="494.7" y="536.3" width="12.8" height="1.5" fill="#f30057"/><rect x="494.7" y="537.3" width="12.8" height="1.5" fill="#f40053"/><rect x="494.7" y="538.3" width="12.8" height="1.5" fill="#f4004f"/><rect x="494.7" y="539.3" width="12.8" height="1.5" fill="#f5004a"/><rect x="494.7" y="540.3" width="12.8" height="1.5" fill="#f60046"/><rect x="494.7" y="541.3" width="12.8" height="1.5" fill="#f60041"/><rect x="494.7" y="542.3" width="12.8" height="1.5" fill="#f7003d"/><rect x="494.7" y="543.3" width="12.8" height="1.5" fill="#f70039"/><rect x="494.7" y="544.3" width="12.8" height="1.5" fill="#f80034"/><rect x="494.7" y="545.3" width="12.8" height="1.5" fill="#f90030"/><rect x="494.7" y="546.3" width="12.8" height="1.5" fill="#f9002c"/><rect x="494.7" y="547.3" width="12.8" height="1.5" fill="#fa0027"/><rect x="494.7" y="548.3" width="12.8" height="1.5" fill="#fa0023"/><rect x="494.7" y="549.3" width="12.8" height="1.5" fill="#fb001e"/><rect x="494.7" y="550.3" width="12.8" height="1.5" fill="#fc001a"/><rect x="494.7" y="551.3" width="12.8" height="1.5" fill="#fc0016"/><rect x="494.7" y="552.3" width="12.8" height="1.5" fill="#fd0011"/><rect x="494.7" y="553.3" width="12.8" height="1.5" fill="#fd000d"/><rect x="494.7" y="554.3" width="12.8" height="1.5" fill="#fe0009"/><rect x="494.7" y="555.3" width="12.8" height="1.5" fill="#fe0004"/><rect x="494.7" y="556.3" width="12.8" height="1.5" fill="#ff0000"/><rect x="494.7" y="557.3" width="12.8" height="1.5" fill="#ff0600"/><rect x="494.7" y="558.3" width="12.8" height="1.5" fill="#ff0c00"/><rect x="494.7" y="559.3" width="12.8" height="1.5" fill="#ff1200"/><rect x="494.7" y="560.3" width="12.8" height="1.5" fill="#ff1700"/><rect x="494.7" y="561.3" width="12.8" height="1.5" fill="#ff1d00"/><rect x="494.7" y="562.3" width="12.8" height="1.5" fill="#ff2300"/><rect x="494.7" y="563.3" width="12.8" height="1.5" fill="#ff2900"/><rect x="494.7" y="564.3" width="12.8" height="1.5" fill="#ff2f00"/><rect x="494.7" y="565.3" width="12.8" height="1.5" fill="#ff3500"/><rect x="494.7" y="566.3" width="12.8" height="1.5" fill="#ff3a00"/><rect x="494.7" y="567.3" width="12.8" height="1.5" fill="#ff4000"/><rect x="494.7" y="568.3" width="12.8" height="1.5" fill="#ff4400"/><rect x="494.7" y="569.3" width="12.8" height="1.5" fill="#ff4900"/><rect x="494.7" y="570.3" width="12.8" height="1.5" fill="#ff4d00"/><rect x="494.7" y="571.3" width="12.8" height="1.5" fill="#ff5200"/><rect x="494.7" y="572.3" width="12.8" height="1.5" fill="#ff5600"/><rect x="494.7" y="573.3" width="12.8" height="1.5" fill="#ff5a00"/><rect x="494.7" y="574.3" width="12.8" height="1.5" fill="#ff5f00"/><rect x="494.7" y="575.3" width="12.8" height="1.5" fill="#ff6300"/><rect x="494.7" y="576.3" width="12.8" height="1.5" fill="#ff6700"/><rect x="494.7" y="577.3" width="12.8" height="1.5" fill="#ff6c00"/><rect x="494.7" y="578.3" width="12.8" height="1.5" fill="#ff7000"/><rect x="494.7" y="579.3" width="12.8" height="1.5" fill="#ff7500"/><rect x="494.7" y="580.3" width="12.8" height="1.5" fill="#ff7900"/><rect x="494.7" y="581.3" width="12.8" height="1.5" fill="#ff7d00"/><rect x="494.7" y="582.3" width="12.8" height="1.5" fill="#ff8200"/><rect x="494.7" y="583.3" width="12.8" height="1.5" fill="#ff8600"/><rect x="494.7" y="584.3" width="12.8" height="1.5" fill="#ff8a00"/><rect x="494.7" y="585.3" width="12.8" height="1.5" fill="#ff8f00"/><rect x="494.7" y="586.3" width="12.8" height="1.5" fill="#ff9200"/><rect x="494.7" y="587.3" width="12.8" height="1.5" fill="#ff9400"/><rect x="494.7" y="588.3" width="12.8" height="1.5" fill="#ff9700"/><rect x="494.7" y="589.3" width="12.8" height="1.5" fill="#ff9a00"/><rect x="494.7" y="590.3" width="12.8" height="1.5" fill="#ff9c00"/><rect x="494.7" y="591.3" width="12.8" height="1.5" fill="#ff9f00"/><rect x="494.7" y="592.3" width="12.8" height="1.5" fill="#ffa200"/><rect x="494.7" y="593.3" width="12.8" height="1.5" fill="#ffa400"/><rect x="494.7" y="594.3" width="12.8" height="1.5" fill="#ffa700"/><rect x="494.7" y="595.3" width="12.8" height="1.5" fill="#ffa900"/><rect x="494.7" y="596.3" width="12.8" height="1.5" fill="#ffac00"/><rect x="494.7" y="597.3" width="12.8" height="1.5" fill="#ffaf00"/><rect x="494.7" y="598.3" width="12.8" height="1.5" fill="#ffb100"/><rect x="494.7" y="599.3" width="12.8" height="1.5" fill="#ffb400"/><rect x="494.7" y="600.3" width="12.8" height="1.5" fill="#ffb700"/><rect x="494.7" y="601.3" width="12.8" height="1.5" fill="#ffb900"/><rect x="494.7" y="602.3" width="12.8" height="1.5" fill="#ffbc00"/><rect x="494.7" y="603.3" width="12.8" height="1.5" fill="#ffbe00"/><rect x="494.7" y="604.3" width="12.8" height="1.5" fill="#ffc100"/><rect x="494.7" y="605.3" width="12.8" height="1.5" fill="#ffc300"/><rect x="494.7" y="606.3" width="12.8" height="1.5" fill="#ffc600"/><rect x="494.7" y="607.3" width="12.8" height="1.5" fill="#ffc800"/><rect x="494.7" y="608.3" width="12.8" height="1.5" fill="#ffcb00"/><rect x="494.7" y="609.3" width="12.8" height="1.5" fill="#ffcd00"/><rect x="494.7" y="610.3" width="12.8" height="1.5" fill="#ffd000"/><rect x="494.7" y="611.3" width="12.8" height="1.5" fill="#ffd200"/><rect x="494.7" y="612.3" width="12.8" height="1.5" fill="#ffd500"/><rect x="494.7" y="613.3" width="12.8" height="1.5" fill="#ffd700"/><rect x="494.7" y="614.3" width="12.8" height="1.5" fill="#ffda00"/><rect x="494.7" y="615.3" width="12.8" height="1.5" fill="#ffdc00"/><rect x="494.7" y="616.3" width="12.8" height="1.5" fill="#ffde00"/><rect x="494.7" y="617.3" width="12.8" height="1.5" fill="#ffe100"/><rect x="494.7" y="618.3" width="12.8" height="1.5" fill="#ffe300"/><rect x="494.7" y="619.3" width="12.8" height="1.5" fill="#ffe600"/><rect x="494.7" y="620.3" width="12.8" height="1.5" fill="#ffe800"/><rect x="494.7" y="621.3" width="12.8" height="1.5" fill="#ffeb00"/><rect x="494.7" y="622.3" width="12.8" height="1.5" fill="#ffed00"/><rect x="494.7" y="623.3" width="12.8" height="1.5" fill="#fff000"/><rect x="494.7" y="624.3" width="12.8" height="1.5" fill="#fff200"/><rect x="494.7" y="625.3" width="12.8" height="1.5" fill="#fff500"/><rect x="494.7" y="626.3" width="12.8" height="1.5" fill="#fff700"/><rect x="494.7" y="627.3" width="12.8" height="1.5" fill="#fff900"/><rect x="494.7" y="628.3" width="12.8" height="1.5" fill="#fffc00"/><rect x="494.7" y="629.3" width="12.8" height="1.5" fill="#fffe00"/><rect x="494.7" y="630.3" width="12.8" height="1.5" fill="#fcfe00"/><rect x="494.7" y="631.3" width="12.8" height="1.5" fill="#f8fd00"/><rect x="494.7" y="632.3" width="12.8" height="1.5" fill="#f3fb00"/><rect x="494.7" y="633.3" width="12.8" height="1.5" fill="#effa00"/><rect x="494.7" y="634.3" width="12.8" height="1.5" fill="#ebf900"/><rect x="494.7" y="635.3" width="12.8" height="1.5" fill="#e6f700"/><rect x="494.7" y="636.3" width="12.8" height="1.5" fill="#e2f600"/><rect x="494.7" y="637.3" width="12.8" height="1.5" fill="#def400"/><rect x="494.7" y="638.3" width="12.8" height="1.5" fill="#daf300"/><rect x="494.7" y="639.3" width="12.8" height="1.5" fill="#d5f200"/><rect x="494.7" y="640.3" width="12.8" height="1.5" fill="#d1f000"/><rect x="494.7" y="641.3" width="12.8" height="1.5" fill="#cdf000"/><rect x="494.7" y="642.3" width="12.8" height="1.5" fill="#c9f000"/><rect x="494.7" y="643.3" width="12.8" height="1.5" fill="#c5ef00"/><rect x="494.7" y="644.3" width="12.8" height="1.5" fill="#c1ef00"/><rect x="494.7" y="645.3" width="12.8" height="1.5" fill="#bdef00"/><rect x="494.7" y="646.3" width="12.8" height="1.5" fill="#b9ef00"/><rect x="494.7" y="647.3" width="12.8" height="1.5" fill="#b5ef00"/><rect x="494.7" y="648.3" width="12.8" height="1.5" fill="#b2ee00"/><rect x="494.7" y="649.3" width="12.8" height="1.5" fill="#aeee00"/><rect x="494.7" y="650.3" width="12.8" height="1.5" fill="#aaee00"/><rect x="494.7" y="651.3" width="12.8" height="1.5" fill="#a6ee00"/><rect x="494.7" y="652.3" width="12.8" height="1.5" fill="#a2ed00"/><rect x="494.7" y="653.3" width="12.8" height="1.5" fill="#9eed00"/><rect x="494.7" y="654.3" width="12.8" height="1.5" fill="#9aed00"/><rect x="494.7" y="655.3" width="12.8" height="1.5" fill="#96ed00"/><rect x="494.7" y="656.3" width="12.8" height="1.5" fill="#92ed00"/><rect x="494.7" y="657.3" width="12.8" height="1.5" fill="#8eec00"/><rect x="494.7" y="658.3" width="12.8" height="1.5" fill="#8aec00"/><rect x="494.7" y="659.3" width="12.8" height="1.5" fill="#86ec00"/><rect x="494.7" y="660.3" width="12.8" height="1.5" fill="#82ec00"/><rect x="494.7" y="661.3" width="12.8" height="1.5" fill="#7eeb00"/><rect x="494.7" y="662.3" width="12.8" height="1.5" fill="#7beb00"/><rect x="494.7" y="663.3" width="12.8" height="1.5" fill="#77eb00"/><rect x="494.7" y="664.3" width="12.8" height="1.5" fill="#73eb00"/><rect x="494.7" y="665.3" width="12.8" height="1.5" fill="#6feb00"/><rect x="494.7" y="666.3" width="12.8" height="1.5" fill="#6bea00"/><rect x="494.7" y="667.3" width="12.8" height="1.5" fill="#67ea00"/><rect x="494.7" y="668.3" width="12.8" height="1.5" fill="#63ea00"/><rect x="494.7" y="669.3" width="12.8" height="1.5" fill="#5fea00"/><rect x="494.7" y="670.3" width="12.8" height="1.5" fill="#5bea00"/><rect x="494.7" y="671.3" width="12.8" height="1.5" fill="#57e900"/><rect x="494.7" y="672.3" width="12.8" height="1.5" fill="#53e900"/><rect x="494.7" y="673.3" width="12.8" height="1.5" fill="#4fe900"/><rect x="494.7" y="674.3" width="12.8" height="1.5" fill="#4be900"/><rect x="494.7" y="675.3" width="12.8" height="1.5" fill="#47e800"/><rect x="494.7" y="676.3" width="12.8" height="1.5" fill="#44e800"/><rect x="494.7" y="677.3" width="12.8" height="1.5" fill="#3fe800"/><rect x="494.7" y="678.3" width="12.8" height="1.5" fill="#36e700"/><rect x="494.7" y="679.3" width="12.8" height="1.5" fill="#2ee600"/><rect x="494.7" y="680.3" width="12.8" height="1.5" fill="#25e500"/><rect x="494.7" y="681.3" width="12.8" height="1.5" fill="#1ce400"/><rect x="494.7" y="682.3" width="12.8" height="1.5" fill="#13e200"/><rect x="494.7" y="683.3" width="12.8" height="1.5" fill="#0be100"/><rect x="494.7" y="684.3" width="12.8" height="1.5" fill="#02e000"/><rect x="494.7" y="685.3" width="12.8" height="1.5" fill="#00e004"/><rect x="494.7" y="686.3" width="12.8" height="1.5" fill="#00e009"/><rect x="494.7" y="687.3" width="12.8" height="1.5" fill="#00e10e"/><rect x="494.7" y="688.3" width="12.8" height="1.5" fill="#00e113"/><rect x="494.7" y="689.3" width="12.8" height="1.5" fill="#00e117"/><rect x="494.7" y="690.3" width="12.8" height="1.5" fill="#00e21c"/><rect x="494.7" y="691.3" width="12.8" height="1.5" fill="#00e221"/><rect x="494.7" y="692.3" width="12.8" height="1.5" fill="#00e226"/><rect x="494.7" y="693.3" width="12.8" height="1.5" fill="#00e22b"/><rect x="494.7" y="694.3" width="12.8" height="1.5" fill="#00e330"/><rect x="494.7" y="695.3" width="12.8" height="1.5" fill="#00e335"/><rect x="494.7" y="696.3" width="12.8" height="1.5" fill="#00e33a"/><rect x="494.7" y="697.3" width="12.8" height="1.5" fill="#00e33f"/><rect x="494.7" y="698.3" width="12.8" height="1.5" fill="#00e444"/><rect x="494.7" y="699.3" width="12.8" height="1.5" fill="#00e449"/><rect x="494.7" y="700.3" width="12.8" height="1.5" fill="#00e44e"/><rect x="494.7" y="701.3" width="12.8" height="1.5" fill="#00e552"/><rect x="494.7" y="702.3" width="12.8" height="1.5" fill="#00e557"/><rect x="494.7" y="703.3" width="12.8" height="1.5" fill="#00e55c"/><rect x="494.7" y="704.3" width="12.8" height="1.5" fill="#00e561"/><rect x="494.7" y="705.3" width="12.8" height="1.5" fill="#00e666"/><rect x="494.7" y="706.3" width="12.8" height="1.5" fill="#00e66b"/><rect x="494.7" y="707.3" width="12.8" height="1.5" fill="#00e670"/><rect x="494.7" y="708.3" width="12.8" height="1.5" fill="#00e675"/><rect x="494.7" y="709.3" width="12.8" height="1.5" fill="#00e77a"/><rect x="494.7" y="710.3" width="12.8" height="1.5" fill="#00e77f"/><rect x="494.7" y="711.3" width="12.8" height="1.5" fill="#00e784"/><rect x="494.7" y="712.3" width="12.8" height="1.5" fill="#00e888"/><rect x="494.7" y="713.3" width="12.8" height="1.5" fill="#00e88d"/><rect x="494.7" y="714.3" width="12.8" height="1.5" fill="#00e891"/><rect x="494.7" y="715.3" width="12.8" height="1.5" fill="#00e894"/><rect x="494.7" y="716.3" width="12.8" height="1.5" fill="#00e996"/><rect x="494.7" y="717.3" width="12.8" height="1.5" fill="#00e999"/><rect x="494.7" y="718.3" width="12.8" height="1.5" fill="#00e99c"/><rect x="494.7" y="719.3" width="12.8" height="1.5" fill="#00e99e"/><rect x="494.7" y="720.3" width="12.8" height="1.5" fill="#00e9a1"/><rect x="494.7" y="721.3" width="12.8" height="1.5" fill="#00eaa4"/><rect x="494.7" y="722.3" width="12.8" height="1.5" fill="#00eaa6"/><rect x="494.7" y="723.3" width="12.8" height="1.5" fill="#00eaa9"/><rect x="494.7" y="724.3" width="12.8" height="1.5" fill="#00eaab"/><rect x="494.7" y="725.3" width="12.8" height="1.5" fill="#00ebae"/><rect x="494.7" y="726.3" width="12.8" height="1.5" fill="#00ebb1"/><rect x="494.7" y="727.3" width="12.8" height="1.5" fill="#00ebb3"/><rect x="494.7" y="728.3" width="12.8" height="1.5" fill="#00ebb6"/><rect x="494.7" y="729.3" width="12.8" height="1.5" fill="#00ebb9"/><rect x="494.7" y="730.3" width="12.8" height="1.5" fill="#00ecbb"/><rect x="494.7" y="731.3" width="12.8" height="1.5" fill="#00ecbe"/><rect x="494.7" y="732.3" width="12.8" height="1.5" fill="#00ecc0"/><rect x="494.7" y="733.3" width="12.8" height="1.5" fill="#00ecc3"/><rect x="494.7" y="734.3" width="12.8" height="1.5" fill="#00ecc6"/><rect x="494.7" y="735.3" width="12.8" height="1.5" fill="#00edc8"/><rect x="494.7" y="736.3" width="12.8" height="1.5" fill="#00edcb"/><rect x="494.7" y="737.3" width="12.8" height="1.5" fill="#00edcd"/><rect x="494.7" y="738.3" width="12.8" height="1.5" fill="#00edd0"/><rect x="494.7" y="739.3" width="12.8" height="1.5" fill="#00eed3"/><rect x="494.7" y="740.3" width="12.8" height="1.5" fill="#00eed5"/><rect x="494.7" y="741.3" width="12.8" height="1.5" fill="#00eed8"/><rect x="494.7" y="742.3" width="12.8" height="1.5" fill="#00eedb"/><rect x="494.7" y="743.3" width="12.8" height="1.5" fill="#00eedd"/><rect x="494.7" y="744.3" width="12.8" height="1.5" fill="#00efe0"/><rect x="494.7" y="745.3" width="12.8" height="1.5" fill="#00efe2"/><rect x="494.7" y="746.3" width="12.8" height="1.5" fill="#00efe5"/><rect x="494.7" y="747.3" width="12.8" height="1.5" fill="#00efe8"/><rect x="494.7" y="748.3" width="12.8" height="1.5" fill="#00f0ea"/><rect x="494.7" y="749.3" width="12.8" height="1.5" fill="#00f0ed"/><rect x="494.7" y="750.3" width="12.8" height="1.5" fill="#00f0f0"/><rect x="494.7" y="751.3" width="12.8" height="1.5" fill="#00eef0"/><rect x="494.7" y="752.3" width="12.8" height="1.5" fill="#01ecf0"/><rect x="494.7" y="753.3" width="12.8" height="1.5" fill="#01eaf0"/><rect x="494.7" y="754.3" width="12.8" height="1.5" fill="#02e8f0"/><rect x="494.7" y="755.3" width="12.8" height="1.5" fill="#02e5f0"/><rect x="494.7" y="756.3" width="12.8" height="1.5" fill="#03e3f0"/><rect x="494.7" y="757.3" width="12.8" height="1.5" fill="#03e1f0"/><rect x="494.7" y="758.3" width="12.8" height="1.5" fill="#03dff0"/><rect x="494.7" y="759.3" width="12.8" height="1.5" fill="#04ddf0"/><rect x="494.7" y="760.3" width="12.8" height="1.5" fill="#04dbf0"/><rect x="494.7" y="761.3" width="12.8" height="1.5" fill="#05d8f0"/><rect x="494.7" y="762.3" width="12.8" height="1.5" fill="#05d6f0"/><rect x="494.7" y="763.3" width="12.8" height="1.5" fill="#06d4f0"/><rect x="494.7" y="764.3" width="12.8" height="1.5" fill="#06d2f0"/><rect x="494.7" y="765.3" width="12.8" height="1.5" fill="#06d0f0"/><rect x="494.7" y="766.3" width="12.8" height="1.5" fill="#07cdf0"/><rect x="494.7" y="767.3" width="12.8" height="1.5" fill="#07cbf0"/><rect x="494.7" y="768.3" width="12.8" height="1.5" fill="#08c9f0"/><rect x="494.7" y="769.3" width="12.8" height="1.5" fill="#08c7f0"/><rect x="494.7" y="770.3" width="12.8" height="1.5" fill="#09c5f0"/><rect x="494.7" y="771.3" width="12.8" height="1.5" fill="#09c3f0"/><rect x="494.7" y="772.3" width="12.8" height="1.5" fill="#0ac0f0"/><rect x="494.7" y="773.3" width="12.8" height="1.5" fill="#0abef0"/><rect x="494.7" y="774.3" width="12.8" height="1.5" fill="#0abcf0"/><rect x="494.7" y="775.3" width="12.8" height="1.5" fill="#0bbaf0"/><rect x="494.7" y="776.3" width="12.8" height="1.5" fill="#0bb8f0"/><rect x="494.7" y="777.3" width="12.8" height="1.5" fill="#0cb5f0"/><rect x="494.7" y="778.3" width="12.8" height="1.5" fill="#0cb3f0"/><rect x="494.7" y="779.3" width="12.8" height="1.5" fill="#0db1f0"/><rect x="494.7" y="780.3" width="12.8" height="1.5" fill="#0daff0"/><rect x="494.7" y="781.3" width="12.8" height="1.5" fill="#0dadf0"/><rect x="494.7" y="782.3" width="12.8" height="1.5" fill="#0eabf0"/><rect x="494.7" y="783.3" width="12.8" height="1.5" fill="#0ea8f0"/><rect x="494.7" y="784.3" width="12.8" height="1.5" fill="#0fa6f0"/><rect x="494.7" y="785.3" width="12.8" height="1.5" fill="#0fa4f0"/><rect x="494.7" y="786.3" width="12.8" height="1.5" fill="#10a2f0"/><rect x="494.7" y="787.3" width="12.8" height="1.5" fill="#109ff0"/><rect x="494.7" y="788.3" width="12.8" height="1.5" fill="#0f9cef"/><rect x="494.7" y="789.3" width="12.8" height="1.5" fill="#0f98ef"/><rect x="494.7" y="790.3" width="12.8" height="1.5" fill="#0f95ef"/><rect x="494.7" y="791.3" width="12.8" height="1.5" fill="#0e91ee"/><rect x="494.7" y="792.3" width="12.8" height="1.5" fill="#0e8eee"/><rect x="494.7" y="793.3" width="12.8" height="1.5" fill="#0d8aed"/><rect x="494.7" y="794.3" width="12.8" height="1.5" fill="#0d87ed"/><rect x="494.7" y="795.3" width="12.8" height="1.5" fill="#0c83ec"/><rect x="494.7" y="796.3" width="12.8" height="1.5" fill="#0c80ec"/><rect x="494.7" y="797.3" width="12.8" height="1.5" fill="#0c7cec"/><rect x="494.7" y="798.3" width="12.8" height="1.5" fill="#0b79eb"/><rect x="494.7" y="799.3" width="12.8" height="1.5" fill="#0b75eb"/><rect x="494.7" y="800.3" width="12.8" height="1.5" fill="#0a72ea"/><rect x="494.7" y="801.3" width="12.8" height="1.5" fill="#0a6eea"/><rect x="494.7" y="802.3" width="12.8" height="1.5" fill="#096be9"/><rect x="494.7" y="803.3" width="12.8" height="1.5" fill="#0967e9"/><rect x="494.7" y="804.3" width="12.8" height="1.5" fill="#0864e8"/><rect x="494.7" y="805.3" width="12.8" height="1.5" fill="#0860e8"/><rect x="494.7" y="806.3" width="12.8" height="1.5" fill="#085de8"/><rect x="494.7" y="807.3" width="12.8" height="1.5" fill="#0759e7"/><rect x="494.7" y="808.3" width="12.8" height="1.5" fill="#0756e7"/><rect x="494.7" y="809.3" width="12.8" height="1.5" fill="#0652e6"/><rect x="494.7" y="810.3" width="12.8" height="1.5" fill="#064fe6"/><rect x="494.7" y="811.3" width="12.8" height="1.5" fill="#054be5"/><rect x="494.7" y="812.3" width="12.8" height="1.5" fill="#0548e5"/><rect x="494.7" y="813.3" width="12.8" height="1.5" fill="#0545e5"/><rect x="494.7" y="814.3" width="12.8" height="1.5" fill="#0441e4"/><rect x="494.7" y="815.3" width="12.8" height="1.5" fill="#043ee4"/><rect x="494.7" y="816.3" width="12.8" height="1.5" fill="#033ae3"/><rect x="494.7" y="817.3" width="12.8" height="1.5" fill="#0337e3"/><rect x="494.7" y="818.3" width="12.8" height="1.5" fill="#0233e2"/><rect x="494.7" y="819.3" width="12.8" height="1.5" fill="#0230e2"/><rect x="494.7" y="820.3" width="12.8" height="1.5" fill="#022ce2"/><rect x="494.7" y="821.3" width="12.8" height="1.5" fill="#0129e1"/><rect x="494.7" y="822.3" width="12.8" height="1.5" fill="#0125e1"/><rect x="494.7" y="823.3" width="12.8" height="1.5" fill="#0022e0"/><rect x="494.7" y="824.3" width="12.8" height="1.5" fill="#001fe0"/><rect x="494.7" y="825.3" width="12.8" height="1.5" fill="#001de0"/></g>
<rect x="494.7" y="478.3" width="12.8" height="348.0" fill="none" stroke="#111" stroke-width="1.2"/>
<line x1="494.7" y1="494.6" x2="497.2" y2="494.6" stroke="#111" stroke-width="1"/>
<line x1="505.0" y1="494.6" x2="507.5" y2="494.6" stroke="#111" stroke-width="1"/>
<line x1="494.7" y1="531.5" x2="497.2" y2="531.5" stroke="#111" stroke-width="1"/>
<line x1="505.0" y1="531.5" x2="507.5" y2="531.5" stroke="#111" stroke-width="1"/>
<line x1="494.7" y1="568.3" x2="497.2" y2="568.3" stroke="#111" stroke-width="1"/>
<line x1="505.0" y1="568.3" x2="507.5" y2="568.3" stroke="#111" stroke-width="1"/>
<line x1="494.7" y1="605.2" x2="497.2" y2="605.2" stroke="#111" stroke-width="1"/>
<line x1="505.0" y1="605.2" x2="507.5" y2="605.2" stroke="#111" stroke-width="1"/>
<line x1="494.7" y1="642.0" x2="497.2" y2="642.0" stroke="#111" stroke-width="1"/>
<line x1="505.0" y1="642.0" x2="507.5" y2="642.0" stroke="#111" stroke-width="1"/>
<line x1="494.7" y1="678.9" x2="497.2" y2="678.9" stroke="#111" stroke-width="1"/>
<line x1="505.0" y1="678.9" x2="507.5" y2="678.9" stroke="#111" stroke-width="1"/>
<line x1="494.7" y1="715.7" x2="497.2" y2="715.7" stroke="#111" stroke-width="1"/>
<line x1="505.0" y1="715.7" x2="507.5" y2="715.7" stroke="#111" stroke-width="1"/>
<line x1="494.7" y1="752.5" x2="497.2" y2="752.5" stroke="#111" stroke-width="1"/>
<line x1="505.0" y1="752.5" x2="507.5" y2="752.5" stroke="#111" stroke-width="1"/>
<line x1="494.7" y1="789.4" x2="497.2" y2="789.4" stroke="#111" stroke-width="1"/>
<line x1="505.0" y1="789.4" x2="507.5" y2="789.4" stroke="#111" stroke-width="1"/>
<line x1="494.7" y1="826.2" x2="497.2" y2="826.2" stroke="#111" stroke-width="1"/>
<line x1="505.0" y1="826.2" x2="507.5" y2="826.2" stroke="#111" stroke-width="1"/>
<text x="516.7" y="502.6" font-size="16.5" fill="#111" letter-spacing="0.4">200</text>
<text x="516.7" y="539.5" font-size="16.5" fill="#111" letter-spacing="0.4">150</text>
<text x="516.7" y="576.3" font-size="16.5" fill="#111" letter-spacing="0.4">100</text>
<text x="516.7" y="613.2" font-size="16.5" fill="#111" letter-spacing="0.4">50</text>
<text x="516.7" y="650.0" font-size="16.5" fill="#111" letter-spacing="0.4">0</text>
<text x="516.7" y="686.9" font-size="16.5" fill="#111" letter-spacing="0.4">−50</text>
<text x="516.7" y="723.7" font-size="16.5" fill="#111" letter-spacing="0.4">−100</text>
<text x="516.7" y="760.5" font-size="16.5" fill="#111" letter-spacing="0.4">−150</text>
<text x="516.7" y="797.4" font-size="16.5" fill="#111" letter-spacing="0.4">−200</text>
<text x="516.7" y="834.2" font-size="16.5" fill="#111" letter-spacing="0.4">−250</text>
<text x="0" y="0" font-size="16" fill="#111" textLength="53" lengthAdjust="spacing" transform="translate(565 626) rotate(90)">(km/s)</text>
<rect x="711.5" y="479.7" width="418.0" height="323.8" fill="none" stroke="#555" stroke-width="1.3"/>
<path d="M766.5 803.5v-4M766.5 479.7v4M821.5 803.5v-4M821.5 479.7v4M876.5 803.5v-4M876.5 479.7v4M931.5 803.5v-4M931.5 479.7v4M986.5 803.5v-4M986.5 479.7v4M1041.5 803.5v-4M1041.5 479.7v4M1096.5 803.5v-4M1096.5 479.7v4M711.5 742.5h4M1129.5 742.5h-4M711.5 681.6h4M1129.5 681.6h-4M711.5 620.6h4M1129.5 620.6h-4M711.5 559.7h4M1129.5 559.7h-4M711.5 498.8h4M1129.5 498.8h-4" stroke="#555" stroke-width="1" fill="none"/>
<text x="698.5" y="820.8" font-size="18" fill="#111" textLength="26.0" lengthAdjust="spacingAndGlyphs">0.0</text>
<text x="753.5" y="820.8" font-size="18" fill="#111" textLength="26.0" lengthAdjust="spacingAndGlyphs">0.5</text>
<text x="808.5" y="820.8" font-size="18" fill="#111" textLength="26.0" lengthAdjust="spacingAndGlyphs">1.0</text>
<text x="863.5" y="820.8" font-size="18" fill="#111" textLength="26.0" lengthAdjust="spacingAndGlyphs">1.5</text>
<text x="918.5" y="820.8" font-size="18" fill="#111" textLength="26.0" lengthAdjust="spacingAndGlyphs">2.0</text>
<text x="973.5" y="820.8" font-size="18" fill="#111" textLength="26.0" lengthAdjust="spacingAndGlyphs">2.5</text>
<text x="1028.5" y="820.8" font-size="18" fill="#111" textLength="26.0" lengthAdjust="spacingAndGlyphs">3.0</text>
<text x="1083.5" y="820.8" font-size="18" fill="#111" textLength="26.0" lengthAdjust="spacingAndGlyphs">3.5</text>
<text x="697.4" y="809.4" font-size="18" fill="#111" textLength="10.4" lengthAdjust="spacingAndGlyphs">0</text>
<text x="676.6" y="748.4" font-size="18" fill="#111" textLength="31.2" lengthAdjust="spacingAndGlyphs">100</text>
<text x="676.6" y="687.5" font-size="18" fill="#111" textLength="31.2" lengthAdjust="spacingAndGlyphs">200</text>
<text x="676.6" y="626.5" font-size="18" fill="#111" textLength="31.2" lengthAdjust="spacingAndGlyphs">300</text>
<text x="676.6" y="565.6" font-size="18" fill="#111" textLength="31.2" lengthAdjust="spacingAndGlyphs">400</text>
<text x="676.6" y="504.6" font-size="18" fill="#111" textLength="31.2" lengthAdjust="spacingAndGlyphs">500</text>
<text x="827.4" y="839" font-size="18" fill="#111" textLength="187" lengthAdjust="spacingAndGlyphs">Radial Distance (kpc)</text>
<text x="0" y="0" font-size="18.5" fill="#111" textLength="229" lengthAdjust="spacingAndGlyphs" transform="translate(667 754) rotate(-90)">Rotational Velocity (km/s)</text>
<text x="720.5" y="498" font-size="18" fill="#111" textLength="161.7" lengthAdjust="spacingAndGlyphs">ULAS J1319+0950</text>
<path d="M774.5 636.7H837.8M806.2 614.5V656.3M774.5 634.2v5M837.8 634.2v5M803.7 614.5h5M803.7 656.3h5M837.8 580.0H901.3M869.5 553.3V603.3M837.8 577.5v5M901.3 577.5v5M867.0 553.3h5M867.0 603.3h5M901.6 560.8H964.8M933.0 532.3V584.3M901.6 558.3v5M964.8 558.3v5M930.5 532.3h5M930.5 584.3h5M964.8 554.3H1028.6M996.6 525.1V577.1M964.8 551.8v5M1028.6 551.8v5M994.1 525.1h5M994.1 577.1h5M1028.3 543.0H1092.0M1060.0 504.4V571.4M1028.3 540.5v5M1092.0 540.5v5M1057.5 504.4h5M1057.5 571.4h5" stroke="#e86060" stroke-width="1.6" fill="none"/>
<circle cx="806.2" cy="636.7" r="3.3" fill="#e00000"/>
<circle cx="869.5" cy="580.0" r="3.3" fill="#e00000"/>
<circle cx="933.0" cy="560.8" r="3.3" fill="#e00000"/>
<circle cx="996.6" cy="554.3" r="3.3" fill="#e00000"/>
<circle cx="1060.0" cy="543.0" r="3.3" fill="#e00000"/>
</g></svg></body></html>
